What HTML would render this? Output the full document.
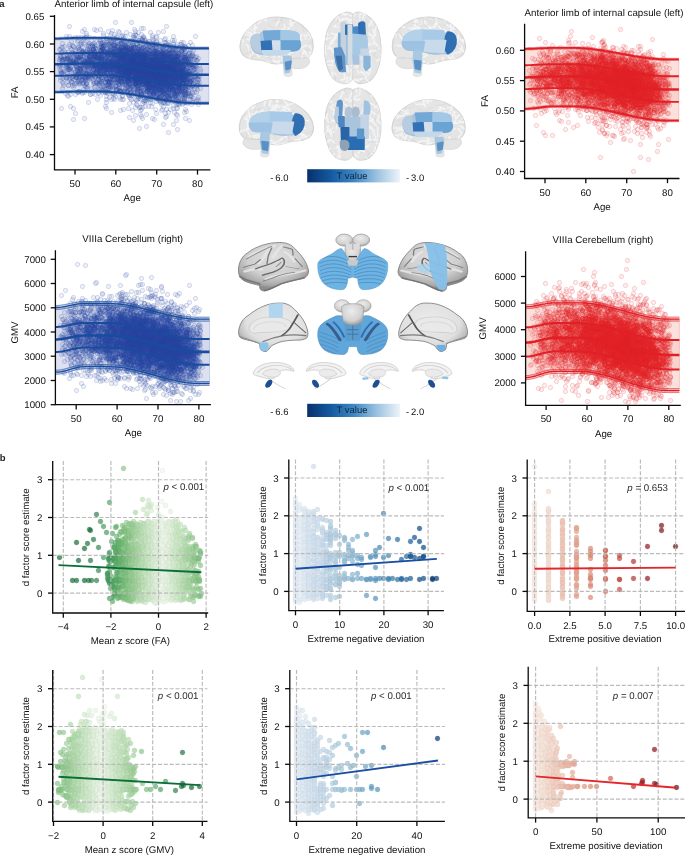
<!DOCTYPE html>
<html><head><meta charset="utf-8"><style>
html,body{margin:0;padding:0;background:#fff;}
svg{display:block;font-family:"Liberation Sans", sans-serif;text-rendering:geometricPrecision;will-change:transform;}
.ax{stroke:#0a0a0a;stroke-width:1.3;fill:none;}
.g{stroke:#bababa;stroke-width:1.15;stroke-dasharray:4 1.85;}
.d{stroke-linecap:round;fill:none;}
</style></head><body>
<svg width="685" height="855" viewBox="0 0 685 855" fill="#111111">
<defs><marker id="m1" markerUnits="userSpaceOnUse" markerWidth="8" markerHeight="8" refX="4" refY="4" overflow="visible"><circle cx="4" cy="4" r="2.15" fill="#2a48a6" fill-opacity="0.075" stroke="#2a48a6" stroke-opacity="0.2" stroke-width="0.95"/></marker><marker id="m3" markerUnits="userSpaceOnUse" markerWidth="8" markerHeight="8" refX="4" refY="4" overflow="visible"><circle cx="4" cy="4" r="2.15" fill="#e3262b" fill-opacity="0.075" stroke="#e3262b" stroke-opacity="0.2" stroke-width="0.95"/></marker><marker id="m4" markerUnits="userSpaceOnUse" markerWidth="8" markerHeight="8" refX="4" refY="4" overflow="visible"><circle cx="4" cy="4" r="2.15" fill="#2a48a6" fill-opacity="0.075" stroke="#2a48a6" stroke-opacity="0.2" stroke-width="0.95"/></marker><marker id="m6" markerUnits="userSpaceOnUse" markerWidth="8" markerHeight="8" refX="4" refY="4" overflow="visible"><circle cx="4" cy="4" r="2.15" fill="#e3262b" fill-opacity="0.075" stroke="#e3262b" stroke-opacity="0.2" stroke-width="0.95"/></marker><marker id="g0" markerUnits="userSpaceOnUse" markerWidth="8" markerHeight="8" refX="4" refY="4" overflow="visible"><circle cx="4" cy="4" r="2.4" fill="#edf7ea" fill-opacity="0.66" stroke="#d5ded2" stroke-opacity="0.45" stroke-width="0.55"/></marker><marker id="g1" markerUnits="userSpaceOnUse" markerWidth="8" markerHeight="8" refX="4" refY="4" overflow="visible"><circle cx="4" cy="4" r="2.4" fill="#e8f5e4" fill-opacity="0.66" stroke="#d1dccd" stroke-opacity="0.45" stroke-width="0.55"/></marker><marker id="g2" markerUnits="userSpaceOnUse" markerWidth="8" markerHeight="8" refX="4" refY="4" overflow="visible"><circle cx="4" cy="4" r="2.4" fill="#e0f1dc" fill-opacity="0.66" stroke="#cad9c6" stroke-opacity="0.45" stroke-width="0.55"/></marker><marker id="g3" markerUnits="userSpaceOnUse" markerWidth="8" markerHeight="8" refX="4" refY="4" overflow="visible"><circle cx="4" cy="4" r="2.4" fill="#d8edd3" fill-opacity="0.66" stroke="#c2d5be" stroke-opacity="0.45" stroke-width="0.55"/></marker><marker id="g4" markerUnits="userSpaceOnUse" markerWidth="8" markerHeight="8" refX="4" refY="4" overflow="visible"><circle cx="4" cy="4" r="2.4" fill="#cfe9ca" fill-opacity="0.66" stroke="#bbd2b6" stroke-opacity="0.45" stroke-width="0.55"/></marker><marker id="g5" markerUnits="userSpaceOnUse" markerWidth="8" markerHeight="8" refX="4" refY="4" overflow="visible"><circle cx="4" cy="4" r="2.4" fill="#c7e5c1" fill-opacity="0.66" stroke="#b3ceae" stroke-opacity="0.45" stroke-width="0.55"/></marker><marker id="g6" markerUnits="userSpaceOnUse" markerWidth="8" markerHeight="8" refX="4" refY="4" overflow="visible"><circle cx="4" cy="4" r="2.4" fill="#bcdfb7" fill-opacity="0.66" stroke="#aac9a4" stroke-opacity="0.45" stroke-width="0.55"/></marker><marker id="g7" markerUnits="userSpaceOnUse" markerWidth="8" markerHeight="8" refX="4" refY="4" overflow="visible"><circle cx="4" cy="4" r="2.4" fill="#b2daac" fill-opacity="0.66" stroke="#a0c49b" stroke-opacity="0.45" stroke-width="0.55"/></marker><marker id="g8" markerUnits="userSpaceOnUse" markerWidth="8" markerHeight="8" refX="4" refY="4" overflow="visible"><circle cx="4" cy="4" r="2.4" fill="#a7d5a2" fill-opacity="0.66" stroke="#97c092" stroke-opacity="0.45" stroke-width="0.55"/></marker><marker id="g9" markerUnits="userSpaceOnUse" markerWidth="8" markerHeight="8" refX="4" refY="4" overflow="visible"><circle cx="4" cy="4" r="2.4" fill="#9ccf98" fill-opacity="0.66" stroke="#8cba89" stroke-opacity="0.45" stroke-width="0.55"/></marker><marker id="g10" markerUnits="userSpaceOnUse" markerWidth="8" markerHeight="8" refX="4" refY="4" overflow="visible"><circle cx="4" cy="4" r="2.4" fill="#90c98d" fill-opacity="0.66" stroke="#81b57f" stroke-opacity="0.45" stroke-width="0.55"/></marker><marker id="g11" markerUnits="userSpaceOnUse" markerWidth="8" markerHeight="8" refX="4" refY="4" overflow="visible"><circle cx="4" cy="4" r="2.4" fill="#83c283" fill-opacity="0.66" stroke="#76af76" stroke-opacity="0.45" stroke-width="0.55"/></marker><marker id="g12" markerUnits="userSpaceOnUse" markerWidth="8" markerHeight="8" refX="4" refY="4" overflow="visible"><circle cx="4" cy="4" r="2.4" fill="#77bc79" fill-opacity="0.66" stroke="#6ba96d" stroke-opacity="0.45" stroke-width="0.55"/></marker><marker id="g13" markerUnits="userSpaceOnUse" markerWidth="8" markerHeight="8" refX="4" refY="4" overflow="visible"><circle cx="4" cy="4" r="2.4" fill="#6ab471" fill-opacity="0.66" stroke="#5fa266" stroke-opacity="0.45" stroke-width="0.55"/></marker><marker id="g14" markerUnits="userSpaceOnUse" markerWidth="8" markerHeight="8" refX="4" refY="4" overflow="visible"><circle cx="4" cy="4" r="2.4" fill="#5cad6a" fill-opacity="0.66" stroke="#539b5f" stroke-opacity="0.45" stroke-width="0.55"/></marker><marker id="g15" markerUnits="userSpaceOnUse" markerWidth="8" markerHeight="8" refX="4" refY="4" overflow="visible"><circle cx="4" cy="4" r="2.4" fill="#4fa563" fill-opacity="0.66" stroke="#479559" stroke-opacity="0.45" stroke-width="0.55"/></marker><marker id="g16" markerUnits="userSpaceOnUse" markerWidth="8" markerHeight="8" refX="4" refY="4" overflow="visible"><circle cx="4" cy="4" r="2.4" fill="#439d5c" fill-opacity="0.66" stroke="#3c8d52" stroke-opacity="0.45" stroke-width="0.55"/></marker><marker id="g17" markerUnits="userSpaceOnUse" markerWidth="8" markerHeight="8" refX="4" refY="4" overflow="visible"><circle cx="4" cy="4" r="2.4" fill="#3b9455" fill-opacity="0.66" stroke="#35854c" stroke-opacity="0.45" stroke-width="0.55"/></marker><marker id="g18" markerUnits="userSpaceOnUse" markerWidth="8" markerHeight="8" refX="4" refY="4" overflow="visible"><circle cx="4" cy="4" r="2.4" fill="#328b4e" fill-opacity="0.66" stroke="#2d7d46" stroke-opacity="0.45" stroke-width="0.55"/></marker><marker id="g19" markerUnits="userSpaceOnUse" markerWidth="8" markerHeight="8" refX="4" refY="4" overflow="visible"><circle cx="4" cy="4" r="2.4" fill="#2a8247" fill-opacity="0.66" stroke="#267540" stroke-opacity="0.45" stroke-width="0.55"/></marker><marker id="g20" markerUnits="userSpaceOnUse" markerWidth="8" markerHeight="8" refX="4" refY="4" overflow="visible"><circle cx="4" cy="4" r="2.4" fill="#217a40" fill-opacity="0.66" stroke="#1e6e39" stroke-opacity="0.45" stroke-width="0.55"/></marker><marker id="g21" markerUnits="userSpaceOnUse" markerWidth="8" markerHeight="8" refX="4" refY="4" overflow="visible"><circle cx="4" cy="4" r="2.4" fill="#187139" fill-opacity="0.66" stroke="#156633" stroke-opacity="0.45" stroke-width="0.55"/></marker><marker id="g22" markerUnits="userSpaceOnUse" markerWidth="8" markerHeight="8" refX="4" refY="4" overflow="visible"><circle cx="4" cy="4" r="2.4" fill="#0f6a32" fill-opacity="0.66" stroke="#0e5f2d" stroke-opacity="0.45" stroke-width="0.55"/></marker><marker id="g23" markerUnits="userSpaceOnUse" markerWidth="8" markerHeight="8" refX="4" refY="4" overflow="visible"><circle cx="4" cy="4" r="2.4" fill="#08612c" fill-opacity="0.66" stroke="#075727" stroke-opacity="0.45" stroke-width="0.55"/></marker><marker id="h0" markerUnits="userSpaceOnUse" markerWidth="8" markerHeight="8" refX="4" refY="4" overflow="visible"><circle cx="4" cy="4" r="2.4" fill="#e4eef7" fill-opacity="0.72" stroke="#cdd6df" stroke-opacity="0.45" stroke-width="0.55"/></marker><marker id="h1" markerUnits="userSpaceOnUse" markerWidth="8" markerHeight="8" refX="4" refY="4" overflow="visible"><circle cx="4" cy="4" r="2.4" fill="#dde9f4" fill-opacity="0.72" stroke="#c7d1dc" stroke-opacity="0.45" stroke-width="0.55"/></marker><marker id="h2" markerUnits="userSpaceOnUse" markerWidth="8" markerHeight="8" refX="4" refY="4" overflow="visible"><circle cx="4" cy="4" r="2.4" fill="#d5e3f0" fill-opacity="0.72" stroke="#c0ccd8" stroke-opacity="0.45" stroke-width="0.55"/></marker><marker id="h3" markerUnits="userSpaceOnUse" markerWidth="8" markerHeight="8" refX="4" refY="4" overflow="visible"><circle cx="4" cy="4" r="2.4" fill="#cedeed" fill-opacity="0.72" stroke="#b9c8d5" stroke-opacity="0.45" stroke-width="0.55"/></marker><marker id="h4" markerUnits="userSpaceOnUse" markerWidth="8" markerHeight="8" refX="4" refY="4" overflow="visible"><circle cx="4" cy="4" r="2.4" fill="#c6d8e9" fill-opacity="0.72" stroke="#b2c2d2" stroke-opacity="0.45" stroke-width="0.55"/></marker><marker id="h5" markerUnits="userSpaceOnUse" markerWidth="8" markerHeight="8" refX="4" refY="4" overflow="visible"><circle cx="4" cy="4" r="2.4" fill="#bbd2e4" fill-opacity="0.72" stroke="#a8bdce" stroke-opacity="0.45" stroke-width="0.55"/></marker><marker id="h6" markerUnits="userSpaceOnUse" markerWidth="8" markerHeight="8" refX="4" refY="4" overflow="visible"><circle cx="4" cy="4" r="2.4" fill="#b0ccdf" fill-opacity="0.72" stroke="#9eb8c9" stroke-opacity="0.45" stroke-width="0.55"/></marker><marker id="h7" markerUnits="userSpaceOnUse" markerWidth="8" markerHeight="8" refX="4" refY="4" overflow="visible"><circle cx="4" cy="4" r="2.4" fill="#a3c6da" fill-opacity="0.72" stroke="#93b2c4" stroke-opacity="0.45" stroke-width="0.55"/></marker><marker id="h8" markerUnits="userSpaceOnUse" markerWidth="8" markerHeight="8" refX="4" refY="4" overflow="visible"><circle cx="4" cy="4" r="2.4" fill="#97bfd5" fill-opacity="0.72" stroke="#88acc0" stroke-opacity="0.45" stroke-width="0.55"/></marker><marker id="h9" markerUnits="userSpaceOnUse" markerWidth="8" markerHeight="8" refX="4" refY="4" overflow="visible"><circle cx="4" cy="4" r="2.4" fill="#89b7d0" fill-opacity="0.72" stroke="#7ba4bc" stroke-opacity="0.45" stroke-width="0.55"/></marker><marker id="h10" markerUnits="userSpaceOnUse" markerWidth="8" markerHeight="8" refX="4" refY="4" overflow="visible"><circle cx="4" cy="4" r="2.4" fill="#7baecc" fill-opacity="0.72" stroke="#6f9db8" stroke-opacity="0.45" stroke-width="0.55"/></marker><marker id="h11" markerUnits="userSpaceOnUse" markerWidth="8" markerHeight="8" refX="4" refY="4" overflow="visible"><circle cx="4" cy="4" r="2.4" fill="#6ca5c7" fill-opacity="0.72" stroke="#6194b3" stroke-opacity="0.45" stroke-width="0.55"/></marker><marker id="h12" markerUnits="userSpaceOnUse" markerWidth="8" markerHeight="8" refX="4" refY="4" overflow="visible"><circle cx="4" cy="4" r="2.4" fill="#609dc2" fill-opacity="0.72" stroke="#578dae" stroke-opacity="0.45" stroke-width="0.55"/></marker><marker id="h13" markerUnits="userSpaceOnUse" markerWidth="8" markerHeight="8" refX="4" refY="4" overflow="visible"><circle cx="4" cy="4" r="2.4" fill="#5594bc" fill-opacity="0.72" stroke="#4d86a9" stroke-opacity="0.45" stroke-width="0.55"/></marker><marker id="h14" markerUnits="userSpaceOnUse" markerWidth="8" markerHeight="8" refX="4" refY="4" overflow="visible"><circle cx="4" cy="4" r="2.4" fill="#498bb6" fill-opacity="0.72" stroke="#427da4" stroke-opacity="0.45" stroke-width="0.55"/></marker><marker id="h15" markerUnits="userSpaceOnUse" markerWidth="8" markerHeight="8" refX="4" refY="4" overflow="visible"><circle cx="4" cy="4" r="2.4" fill="#3f83b1" fill-opacity="0.72" stroke="#39769f" stroke-opacity="0.45" stroke-width="0.55"/></marker><marker id="h16" markerUnits="userSpaceOnUse" markerWidth="8" markerHeight="8" refX="4" refY="4" overflow="visible"><circle cx="4" cy="4" r="2.4" fill="#3679ab" fill-opacity="0.72" stroke="#316d9a" stroke-opacity="0.45" stroke-width="0.55"/></marker><marker id="h17" markerUnits="userSpaceOnUse" markerWidth="8" markerHeight="8" refX="4" refY="4" overflow="visible"><circle cx="4" cy="4" r="2.4" fill="#2d70a5" fill-opacity="0.72" stroke="#296595" stroke-opacity="0.45" stroke-width="0.55"/></marker><marker id="h18" markerUnits="userSpaceOnUse" markerWidth="8" markerHeight="8" refX="4" refY="4" overflow="visible"><circle cx="4" cy="4" r="2.4" fill="#24669f" fill-opacity="0.72" stroke="#205c8f" stroke-opacity="0.45" stroke-width="0.55"/></marker><marker id="h19" markerUnits="userSpaceOnUse" markerWidth="8" markerHeight="8" refX="4" refY="4" overflow="visible"><circle cx="4" cy="4" r="2.4" fill="#1d5e98" fill-opacity="0.72" stroke="#1a5489" stroke-opacity="0.45" stroke-width="0.55"/></marker><marker id="h20" markerUnits="userSpaceOnUse" markerWidth="8" markerHeight="8" refX="4" refY="4" overflow="visible"><circle cx="4" cy="4" r="2.4" fill="#165590" fill-opacity="0.72" stroke="#144d82" stroke-opacity="0.45" stroke-width="0.55"/></marker><marker id="h21" markerUnits="userSpaceOnUse" markerWidth="8" markerHeight="8" refX="4" refY="4" overflow="visible"><circle cx="4" cy="4" r="2.4" fill="#104c89" fill-opacity="0.72" stroke="#0e457c" stroke-opacity="0.45" stroke-width="0.55"/></marker><marker id="h23" markerUnits="userSpaceOnUse" markerWidth="8" markerHeight="8" refX="4" refY="4" overflow="visible"><circle cx="4" cy="4" r="2.4" fill="#0c3a71" fill-opacity="0.72" stroke="#0a3566" stroke-opacity="0.45" stroke-width="0.55"/></marker><marker id="k0" markerUnits="userSpaceOnUse" markerWidth="8" markerHeight="8" refX="4" refY="4" overflow="visible"><circle cx="4" cy="4" r="2.4" fill="#fbebe4" fill-opacity="0.72" stroke="#e2d4cd" stroke-opacity="0.45" stroke-width="0.55"/></marker><marker id="k2" markerUnits="userSpaceOnUse" markerWidth="8" markerHeight="8" refX="4" refY="4" overflow="visible"><circle cx="4" cy="4" r="2.4" fill="#f5dbd0" fill-opacity="0.72" stroke="#dcc5bb" stroke-opacity="0.45" stroke-width="0.55"/></marker><marker id="k4" markerUnits="userSpaceOnUse" markerWidth="8" markerHeight="8" refX="4" refY="4" overflow="visible"><circle cx="4" cy="4" r="2.4" fill="#edc4b3" fill-opacity="0.72" stroke="#d5b0a1" stroke-opacity="0.45" stroke-width="0.55"/></marker><marker id="k7" markerUnits="userSpaceOnUse" markerWidth="8" markerHeight="8" refX="4" refY="4" overflow="visible"><circle cx="4" cy="4" r="2.4" fill="#e3a18b" fill-opacity="0.72" stroke="#cc917e" stroke-opacity="0.45" stroke-width="0.55"/></marker><marker id="k9" markerUnits="userSpaceOnUse" markerWidth="8" markerHeight="8" refX="4" refY="4" overflow="visible"><circle cx="4" cy="4" r="2.4" fill="#dc8a73" fill-opacity="0.72" stroke="#c67c68" stroke-opacity="0.45" stroke-width="0.55"/></marker><marker id="k12" markerUnits="userSpaceOnUse" markerWidth="8" markerHeight="8" refX="4" refY="4" overflow="visible"><circle cx="4" cy="4" r="2.4" fill="#d16752" fill-opacity="0.72" stroke="#bc5d4a" stroke-opacity="0.45" stroke-width="0.55"/></marker><marker id="k14" markerUnits="userSpaceOnUse" markerWidth="8" markerHeight="8" refX="4" refY="4" overflow="visible"><circle cx="4" cy="4" r="2.4" fill="#c44c3f" fill-opacity="0.72" stroke="#b14539" stroke-opacity="0.45" stroke-width="0.55"/></marker><marker id="k16" markerUnits="userSpaceOnUse" markerWidth="8" markerHeight="8" refX="4" refY="4" overflow="visible"><circle cx="4" cy="4" r="2.4" fill="#b33731" fill-opacity="0.72" stroke="#a1312c" stroke-opacity="0.45" stroke-width="0.55"/></marker><marker id="k19" markerUnits="userSpaceOnUse" markerWidth="8" markerHeight="8" refX="4" refY="4" overflow="visible"><circle cx="4" cy="4" r="2.4" fill="#942023" fill-opacity="0.72" stroke="#851c20" stroke-opacity="0.45" stroke-width="0.55"/></marker><marker id="k21" markerUnits="userSpaceOnUse" markerWidth="8" markerHeight="8" refX="4" refY="4" overflow="visible"><circle cx="4" cy="4" r="2.4" fill="#80191d" fill-opacity="0.72" stroke="#73161a" stroke-opacity="0.45" stroke-width="0.55"/></marker><marker id="k23" markerUnits="userSpaceOnUse" markerWidth="8" markerHeight="8" refX="4" refY="4" overflow="visible"><circle cx="4" cy="4" r="2.4" fill="#651016" fill-opacity="0.72" stroke="#5b0e14" stroke-opacity="0.45" stroke-width="0.55"/></marker><marker id="n0" markerUnits="userSpaceOnUse" markerWidth="8" markerHeight="8" refX="4" refY="4" overflow="visible"><circle cx="4" cy="4" r="2.4" fill="#edf7ea" fill-opacity="0.66" stroke="#d5ded2" stroke-opacity="0.45" stroke-width="0.55"/></marker><marker id="n1" markerUnits="userSpaceOnUse" markerWidth="8" markerHeight="8" refX="4" refY="4" overflow="visible"><circle cx="4" cy="4" r="2.4" fill="#e8f5e4" fill-opacity="0.66" stroke="#d1dccd" stroke-opacity="0.45" stroke-width="0.55"/></marker><marker id="n2" markerUnits="userSpaceOnUse" markerWidth="8" markerHeight="8" refX="4" refY="4" overflow="visible"><circle cx="4" cy="4" r="2.4" fill="#e0f1dc" fill-opacity="0.66" stroke="#cad9c6" stroke-opacity="0.45" stroke-width="0.55"/></marker><marker id="n3" markerUnits="userSpaceOnUse" markerWidth="8" markerHeight="8" refX="4" refY="4" overflow="visible"><circle cx="4" cy="4" r="2.4" fill="#d8edd3" fill-opacity="0.66" stroke="#c2d5be" stroke-opacity="0.45" stroke-width="0.55"/></marker><marker id="n4" markerUnits="userSpaceOnUse" markerWidth="8" markerHeight="8" refX="4" refY="4" overflow="visible"><circle cx="4" cy="4" r="2.4" fill="#cfe9ca" fill-opacity="0.66" stroke="#bbd2b6" stroke-opacity="0.45" stroke-width="0.55"/></marker><marker id="n5" markerUnits="userSpaceOnUse" markerWidth="8" markerHeight="8" refX="4" refY="4" overflow="visible"><circle cx="4" cy="4" r="2.4" fill="#c7e5c1" fill-opacity="0.66" stroke="#b3ceae" stroke-opacity="0.45" stroke-width="0.55"/></marker><marker id="n6" markerUnits="userSpaceOnUse" markerWidth="8" markerHeight="8" refX="4" refY="4" overflow="visible"><circle cx="4" cy="4" r="2.4" fill="#bcdfb7" fill-opacity="0.66" stroke="#aac9a4" stroke-opacity="0.45" stroke-width="0.55"/></marker><marker id="n7" markerUnits="userSpaceOnUse" markerWidth="8" markerHeight="8" refX="4" refY="4" overflow="visible"><circle cx="4" cy="4" r="2.4" fill="#b2daac" fill-opacity="0.66" stroke="#a0c49b" stroke-opacity="0.45" stroke-width="0.55"/></marker><marker id="n8" markerUnits="userSpaceOnUse" markerWidth="8" markerHeight="8" refX="4" refY="4" overflow="visible"><circle cx="4" cy="4" r="2.4" fill="#a7d5a2" fill-opacity="0.66" stroke="#97c092" stroke-opacity="0.45" stroke-width="0.55"/></marker><marker id="n9" markerUnits="userSpaceOnUse" markerWidth="8" markerHeight="8" refX="4" refY="4" overflow="visible"><circle cx="4" cy="4" r="2.4" fill="#9ccf98" fill-opacity="0.66" stroke="#8cba89" stroke-opacity="0.45" stroke-width="0.55"/></marker><marker id="n10" markerUnits="userSpaceOnUse" markerWidth="8" markerHeight="8" refX="4" refY="4" overflow="visible"><circle cx="4" cy="4" r="2.4" fill="#90c98d" fill-opacity="0.66" stroke="#81b57f" stroke-opacity="0.45" stroke-width="0.55"/></marker><marker id="n11" markerUnits="userSpaceOnUse" markerWidth="8" markerHeight="8" refX="4" refY="4" overflow="visible"><circle cx="4" cy="4" r="2.4" fill="#83c283" fill-opacity="0.66" stroke="#76af76" stroke-opacity="0.45" stroke-width="0.55"/></marker><marker id="n12" markerUnits="userSpaceOnUse" markerWidth="8" markerHeight="8" refX="4" refY="4" overflow="visible"><circle cx="4" cy="4" r="2.4" fill="#77bc79" fill-opacity="0.66" stroke="#6ba96d" stroke-opacity="0.45" stroke-width="0.55"/></marker><marker id="n13" markerUnits="userSpaceOnUse" markerWidth="8" markerHeight="8" refX="4" refY="4" overflow="visible"><circle cx="4" cy="4" r="2.4" fill="#6ab471" fill-opacity="0.66" stroke="#5fa266" stroke-opacity="0.45" stroke-width="0.55"/></marker><marker id="n15" markerUnits="userSpaceOnUse" markerWidth="8" markerHeight="8" refX="4" refY="4" overflow="visible"><circle cx="4" cy="4" r="2.4" fill="#4fa563" fill-opacity="0.66" stroke="#479559" stroke-opacity="0.45" stroke-width="0.55"/></marker><marker id="n16" markerUnits="userSpaceOnUse" markerWidth="8" markerHeight="8" refX="4" refY="4" overflow="visible"><circle cx="4" cy="4" r="2.4" fill="#439d5c" fill-opacity="0.66" stroke="#3c8d52" stroke-opacity="0.45" stroke-width="0.55"/></marker><marker id="n17" markerUnits="userSpaceOnUse" markerWidth="8" markerHeight="8" refX="4" refY="4" overflow="visible"><circle cx="4" cy="4" r="2.4" fill="#3b9455" fill-opacity="0.66" stroke="#35854c" stroke-opacity="0.45" stroke-width="0.55"/></marker><marker id="n20" markerUnits="userSpaceOnUse" markerWidth="8" markerHeight="8" refX="4" refY="4" overflow="visible"><circle cx="4" cy="4" r="2.4" fill="#217a40" fill-opacity="0.66" stroke="#1e6e39" stroke-opacity="0.45" stroke-width="0.55"/></marker><marker id="n22" markerUnits="userSpaceOnUse" markerWidth="8" markerHeight="8" refX="4" refY="4" overflow="visible"><circle cx="4" cy="4" r="2.4" fill="#0f6a32" fill-opacity="0.66" stroke="#0e5f2d" stroke-opacity="0.45" stroke-width="0.55"/></marker><marker id="n23" markerUnits="userSpaceOnUse" markerWidth="8" markerHeight="8" refX="4" refY="4" overflow="visible"><circle cx="4" cy="4" r="2.4" fill="#08612c" fill-opacity="0.66" stroke="#075727" stroke-opacity="0.45" stroke-width="0.55"/></marker><marker id="q0" markerUnits="userSpaceOnUse" markerWidth="8" markerHeight="8" refX="4" refY="4" overflow="visible"><circle cx="4" cy="4" r="2.4" fill="#e4eef7" fill-opacity="0.72" stroke="#cdd6df" stroke-opacity="0.45" stroke-width="0.55"/></marker><marker id="q1" markerUnits="userSpaceOnUse" markerWidth="8" markerHeight="8" refX="4" refY="4" overflow="visible"><circle cx="4" cy="4" r="2.4" fill="#dde9f4" fill-opacity="0.72" stroke="#c7d1dc" stroke-opacity="0.45" stroke-width="0.55"/></marker><marker id="q2" markerUnits="userSpaceOnUse" markerWidth="8" markerHeight="8" refX="4" refY="4" overflow="visible"><circle cx="4" cy="4" r="2.4" fill="#d5e3f0" fill-opacity="0.72" stroke="#c0ccd8" stroke-opacity="0.45" stroke-width="0.55"/></marker><marker id="q3" markerUnits="userSpaceOnUse" markerWidth="8" markerHeight="8" refX="4" refY="4" overflow="visible"><circle cx="4" cy="4" r="2.4" fill="#cedeed" fill-opacity="0.72" stroke="#b9c8d5" stroke-opacity="0.45" stroke-width="0.55"/></marker><marker id="q4" markerUnits="userSpaceOnUse" markerWidth="8" markerHeight="8" refX="4" refY="4" overflow="visible"><circle cx="4" cy="4" r="2.4" fill="#c6d8e9" fill-opacity="0.72" stroke="#b2c2d2" stroke-opacity="0.45" stroke-width="0.55"/></marker><marker id="q5" markerUnits="userSpaceOnUse" markerWidth="8" markerHeight="8" refX="4" refY="4" overflow="visible"><circle cx="4" cy="4" r="2.4" fill="#bbd2e4" fill-opacity="0.72" stroke="#a8bdce" stroke-opacity="0.45" stroke-width="0.55"/></marker><marker id="q6" markerUnits="userSpaceOnUse" markerWidth="8" markerHeight="8" refX="4" refY="4" overflow="visible"><circle cx="4" cy="4" r="2.4" fill="#b0ccdf" fill-opacity="0.72" stroke="#9eb8c9" stroke-opacity="0.45" stroke-width="0.55"/></marker><marker id="q7" markerUnits="userSpaceOnUse" markerWidth="8" markerHeight="8" refX="4" refY="4" overflow="visible"><circle cx="4" cy="4" r="2.4" fill="#a3c6da" fill-opacity="0.72" stroke="#93b2c4" stroke-opacity="0.45" stroke-width="0.55"/></marker><marker id="q8" markerUnits="userSpaceOnUse" markerWidth="8" markerHeight="8" refX="4" refY="4" overflow="visible"><circle cx="4" cy="4" r="2.4" fill="#97bfd5" fill-opacity="0.72" stroke="#88acc0" stroke-opacity="0.45" stroke-width="0.55"/></marker><marker id="q9" markerUnits="userSpaceOnUse" markerWidth="8" markerHeight="8" refX="4" refY="4" overflow="visible"><circle cx="4" cy="4" r="2.4" fill="#89b7d0" fill-opacity="0.72" stroke="#7ba4bc" stroke-opacity="0.45" stroke-width="0.55"/></marker><marker id="q10" markerUnits="userSpaceOnUse" markerWidth="8" markerHeight="8" refX="4" refY="4" overflow="visible"><circle cx="4" cy="4" r="2.4" fill="#7baecc" fill-opacity="0.72" stroke="#6f9db8" stroke-opacity="0.45" stroke-width="0.55"/></marker><marker id="q11" markerUnits="userSpaceOnUse" markerWidth="8" markerHeight="8" refX="4" refY="4" overflow="visible"><circle cx="4" cy="4" r="2.4" fill="#6ca5c7" fill-opacity="0.72" stroke="#6194b3" stroke-opacity="0.45" stroke-width="0.55"/></marker><marker id="q12" markerUnits="userSpaceOnUse" markerWidth="8" markerHeight="8" refX="4" refY="4" overflow="visible"><circle cx="4" cy="4" r="2.4" fill="#609dc2" fill-opacity="0.72" stroke="#578dae" stroke-opacity="0.45" stroke-width="0.55"/></marker><marker id="q13" markerUnits="userSpaceOnUse" markerWidth="8" markerHeight="8" refX="4" refY="4" overflow="visible"><circle cx="4" cy="4" r="2.4" fill="#5594bc" fill-opacity="0.72" stroke="#4d86a9" stroke-opacity="0.45" stroke-width="0.55"/></marker><marker id="q14" markerUnits="userSpaceOnUse" markerWidth="8" markerHeight="8" refX="4" refY="4" overflow="visible"><circle cx="4" cy="4" r="2.4" fill="#498bb6" fill-opacity="0.72" stroke="#427da4" stroke-opacity="0.45" stroke-width="0.55"/></marker><marker id="q23" markerUnits="userSpaceOnUse" markerWidth="8" markerHeight="8" refX="4" refY="4" overflow="visible"><circle cx="4" cy="4" r="2.4" fill="#0c3a71" fill-opacity="0.72" stroke="#0a3566" stroke-opacity="0.45" stroke-width="0.55"/></marker><marker id="s0" markerUnits="userSpaceOnUse" markerWidth="8" markerHeight="8" refX="4" refY="4" overflow="visible"><circle cx="4" cy="4" r="2.4" fill="#fbebe4" fill-opacity="0.72" stroke="#e2d4cd" stroke-opacity="0.45" stroke-width="0.55"/></marker><marker id="s1" markerUnits="userSpaceOnUse" markerWidth="8" markerHeight="8" refX="4" refY="4" overflow="visible"><circle cx="4" cy="4" r="2.4" fill="#f8e4da" fill-opacity="0.72" stroke="#dfcdc4" stroke-opacity="0.45" stroke-width="0.55"/></marker><marker id="s2" markerUnits="userSpaceOnUse" markerWidth="8" markerHeight="8" refX="4" refY="4" overflow="visible"><circle cx="4" cy="4" r="2.4" fill="#f5dbd0" fill-opacity="0.72" stroke="#dcc5bb" stroke-opacity="0.45" stroke-width="0.55"/></marker><marker id="s3" markerUnits="userSpaceOnUse" markerWidth="8" markerHeight="8" refX="4" refY="4" overflow="visible"><circle cx="4" cy="4" r="2.4" fill="#f1cfc1" fill-opacity="0.72" stroke="#d9bbae" stroke-opacity="0.45" stroke-width="0.55"/></marker><marker id="s4" markerUnits="userSpaceOnUse" markerWidth="8" markerHeight="8" refX="4" refY="4" overflow="visible"><circle cx="4" cy="4" r="2.4" fill="#edc4b3" fill-opacity="0.72" stroke="#d5b0a1" stroke-opacity="0.45" stroke-width="0.55"/></marker><marker id="s5" markerUnits="userSpaceOnUse" markerWidth="8" markerHeight="8" refX="4" refY="4" overflow="visible"><circle cx="4" cy="4" r="2.4" fill="#eab9a6" fill-opacity="0.72" stroke="#d2a695" stroke-opacity="0.45" stroke-width="0.55"/></marker><marker id="s6" markerUnits="userSpaceOnUse" markerWidth="8" markerHeight="8" refX="4" refY="4" overflow="visible"><circle cx="4" cy="4" r="2.4" fill="#e6ac98" fill-opacity="0.72" stroke="#cf9b89" stroke-opacity="0.45" stroke-width="0.55"/></marker><marker id="s7" markerUnits="userSpaceOnUse" markerWidth="8" markerHeight="8" refX="4" refY="4" overflow="visible"><circle cx="4" cy="4" r="2.4" fill="#e3a18b" fill-opacity="0.72" stroke="#cc917e" stroke-opacity="0.45" stroke-width="0.55"/></marker><marker id="s8" markerUnits="userSpaceOnUse" markerWidth="8" markerHeight="8" refX="4" refY="4" overflow="visible"><circle cx="4" cy="4" r="2.4" fill="#e0957e" fill-opacity="0.72" stroke="#c98671" stroke-opacity="0.45" stroke-width="0.55"/></marker><marker id="s9" markerUnits="userSpaceOnUse" markerWidth="8" markerHeight="8" refX="4" refY="4" overflow="visible"><circle cx="4" cy="4" r="2.4" fill="#dc8a73" fill-opacity="0.72" stroke="#c67c68" stroke-opacity="0.45" stroke-width="0.55"/></marker><marker id="s10" markerUnits="userSpaceOnUse" markerWidth="8" markerHeight="8" refX="4" refY="4" overflow="visible"><circle cx="4" cy="4" r="2.4" fill="#d97e67" fill-opacity="0.72" stroke="#c3725d" stroke-opacity="0.45" stroke-width="0.55"/></marker><marker id="s12" markerUnits="userSpaceOnUse" markerWidth="8" markerHeight="8" refX="4" refY="4" overflow="visible"><circle cx="4" cy="4" r="2.4" fill="#d16752" fill-opacity="0.72" stroke="#bc5d4a" stroke-opacity="0.45" stroke-width="0.55"/></marker><marker id="s16" markerUnits="userSpaceOnUse" markerWidth="8" markerHeight="8" refX="4" refY="4" overflow="visible"><circle cx="4" cy="4" r="2.4" fill="#b33731" fill-opacity="0.72" stroke="#a1312c" stroke-opacity="0.45" stroke-width="0.55"/></marker><marker id="s17" markerUnits="userSpaceOnUse" markerWidth="8" markerHeight="8" refX="4" refY="4" overflow="visible"><circle cx="4" cy="4" r="2.4" fill="#a92d2c" fill-opacity="0.72" stroke="#982928" stroke-opacity="0.45" stroke-width="0.55"/></marker><marker id="s18" markerUnits="userSpaceOnUse" markerWidth="8" markerHeight="8" refX="4" refY="4" overflow="visible"><circle cx="4" cy="4" r="2.4" fill="#9e2326" fill-opacity="0.72" stroke="#8e2022" stroke-opacity="0.45" stroke-width="0.55"/></marker><marker id="s20" markerUnits="userSpaceOnUse" markerWidth="8" markerHeight="8" refX="4" refY="4" overflow="visible"><circle cx="4" cy="4" r="2.4" fill="#8a1c20" fill-opacity="0.72" stroke="#7c191d" stroke-opacity="0.45" stroke-width="0.55"/></marker><marker id="s23" markerUnits="userSpaceOnUse" markerWidth="8" markerHeight="8" refX="4" refY="4" overflow="visible"><circle cx="4" cy="4" r="2.4" fill="#651016" fill-opacity="0.72" stroke="#5b0e14" stroke-opacity="0.45" stroke-width="0.55"/></marker></defs>
<rect width="685" height="855" fill="#fff"/>
<polygon points="54.5,38.6 56.5,38.6 58.4,38.6 60.4,38.5 62.3,38.4 64.3,38.4 66.2,38.3 68.2,38.2 70.1,38.1 72.1,38.0 74.0,38.0 76.0,37.9 78.0,37.9 79.9,37.9 81.9,37.9 83.8,37.9 85.8,37.9 87.7,37.9 89.7,37.9 91.6,37.9 93.6,37.9 95.5,37.9 97.5,37.9 99.5,37.9 101.4,37.9 103.4,37.9 105.3,38.0 107.3,38.1 109.2,38.2 111.2,38.3 113.1,38.4 115.1,38.6 117.1,38.8 119.0,39.0 121.0,39.2 122.9,39.4 124.9,39.6 126.8,39.9 128.8,40.1 130.7,40.4 132.7,40.7 134.6,41.0 136.6,41.2 138.6,41.5 140.5,41.8 142.5,42.1 144.4,42.5 146.4,42.8 148.3,43.1 150.3,43.4 152.2,43.7 154.2,44.0 156.1,44.3 158.1,44.6 160.1,44.9 162.0,45.2 164.0,45.5 165.9,45.8 167.9,46.0 169.8,46.3 171.8,46.5 173.7,46.8 175.7,47.0 177.6,47.2 179.6,47.4 181.6,47.6 183.5,47.7 185.5,47.9 187.4,48.0 189.4,48.1 191.3,48.2 193.3,48.2 195.2,48.3 197.2,48.3 199.1,48.3 201.1,48.3 203.1,48.3 205.0,48.3 207.0,48.3 208.9,48.3 208.9,103.2 207.0,103.2 205.0,103.2 203.1,103.2 201.1,103.2 199.1,103.2 197.2,103.2 195.2,103.2 193.3,103.1 191.3,103.1 189.4,103.0 187.4,102.9 185.5,102.7 183.5,102.6 181.6,102.4 179.6,102.2 177.6,102.0 175.7,101.7 173.7,101.5 171.8,101.2 169.8,100.9 167.9,100.6 165.9,100.3 164.0,100.0 162.0,99.7 160.1,99.4 158.1,99.0 156.1,98.7 154.2,98.4 152.2,98.0 150.3,97.7 148.3,97.3 146.4,97.0 144.4,96.6 142.5,96.3 140.5,95.9 138.6,95.6 136.6,95.3 134.6,94.9 132.7,94.6 130.7,94.3 128.8,94.0 126.8,93.7 124.9,93.4 122.9,93.2 121.0,92.9 119.0,92.7 117.1,92.5 115.1,92.3 113.1,92.1 111.2,92.0 109.2,91.8 107.3,91.7 105.3,91.6 103.4,91.6 101.4,91.5 99.5,91.5 97.5,91.5 95.5,91.5 93.6,91.5 91.6,91.5 89.7,91.5 87.7,91.5 85.8,91.5 83.8,91.5 81.9,91.5 79.9,91.5 78.0,91.5 76.0,91.5 74.0,91.6 72.1,91.6 70.1,91.7 68.2,91.8 66.2,91.8 64.3,91.9 62.3,92.0 60.4,92.0 58.4,92.1 56.5,92.1 54.5,92.1" fill="#dde1f0"/>
<polygon points="54.5,53.6 56.5,53.6 58.4,53.6 60.4,53.5 62.3,53.5 64.3,53.4 66.2,53.3 68.2,53.3 70.1,53.2 72.1,53.1 74.0,53.1 76.0,53.0 78.0,53.0 79.9,53.0 81.9,53.0 83.8,53.0 85.8,53.0 87.7,53.0 89.7,53.0 91.6,53.0 93.6,53.0 95.5,53.0 97.5,53.0 99.5,53.0 101.4,53.0 103.4,53.1 105.3,53.1 107.3,53.2 109.2,53.3 111.2,53.4 113.1,53.6 115.1,53.7 117.1,53.9 119.0,54.1 121.0,54.4 122.9,54.6 124.9,54.8 126.8,55.1 128.8,55.4 130.7,55.6 132.7,55.9 134.6,56.2 136.6,56.5 138.6,56.8 140.5,57.2 142.5,57.5 144.4,57.8 146.4,58.1 148.3,58.5 150.3,58.8 152.2,59.1 154.2,59.5 156.1,59.8 158.1,60.1 160.1,60.4 162.0,60.7 164.0,61.0 165.9,61.3 167.9,61.6 169.8,61.9 171.8,62.1 173.7,62.4 175.7,62.6 177.6,62.8 179.6,63.0 181.6,63.2 183.5,63.4 185.5,63.5 187.4,63.7 189.4,63.8 191.3,63.9 193.3,63.9 195.2,64.0 197.2,64.0 199.1,64.0 201.1,64.0 203.1,64.0 205.0,64.0 207.0,64.0 208.9,64.0 208.9,85.7 207.0,85.7 205.0,85.7 203.1,85.7 201.1,85.7 199.1,85.7 197.2,85.7 195.2,85.7 193.3,85.6 191.3,85.6 189.4,85.5 187.4,85.4 185.5,85.3 183.5,85.1 181.6,85.0 179.6,84.8 177.6,84.6 175.7,84.4 173.7,84.1 171.8,83.9 169.8,83.7 167.9,83.4 165.9,83.1 164.0,82.9 162.0,82.6 160.1,82.3 158.1,82.0 156.1,81.7 154.2,81.4 152.2,81.1 150.3,80.7 148.3,80.4 146.4,80.1 144.4,79.8 142.5,79.5 140.5,79.2 138.6,78.9 136.6,78.6 134.6,78.3 132.7,78.0 130.7,77.7 128.8,77.5 126.8,77.2 124.9,76.9 122.9,76.7 121.0,76.5 119.0,76.3 117.1,76.1 115.1,75.9 113.1,75.8 111.2,75.6 109.2,75.5 107.3,75.4 105.3,75.3 103.4,75.2 101.4,75.2 99.5,75.2 97.5,75.2 95.5,75.2 93.6,75.2 91.6,75.2 89.7,75.2 87.7,75.2 85.8,75.2 83.8,75.2 81.9,75.2 79.9,75.2 78.0,75.2 76.0,75.2 74.0,75.3 72.1,75.3 70.1,75.4 68.2,75.5 66.2,75.5 64.3,75.6 62.3,75.7 60.4,75.7 58.4,75.8 56.5,75.8 54.5,75.8" fill="#d3d8ec"/>
<path transform="translate(.5 .5)" d="m179 84-59 15 39-9 11-31-40 34 21-24 16-6-16-3-13 23 12-11-14-7 27-12-39 9-35 17 76-25-41 17 53 2-44-21-30 22 55-17-38 4 15 14-18-9-14 19 76-22-9 15-26-14-7 41-54-25-4-9 89 12-53-1 35 0 27-17-45-5 42 13-35-5 16-6-11 35 41-40-64-5 58 52-45-42 16-8-7-8 29 15-33-6 13 21 7-16-74 6 56 0 11 7 25 30-43-32 18-8 34 9-104 7 101-8-24-9-80-3 103 20-24-12 10 22 8-16 0-27-33 44-6-15 8-4-14-11 12 11-25 5-25-17 45 12 29-15 3 15-106-20 64 21-5-14-28 15 66-10-91 43 127-17-51-35-55 8 70-2 10 6-73-4-4 0 79 36-53-49-11 3 49 4-53-3 36-2-8 8 42 28-98-39 39 41-17-18-14 7 36-21 59 45-61-37 34-6-58 17-29-10 101 11 13 3-34-6 24 12-98-23 108 18 12-28-51 32-17-28 24 26 12-9-39-9 45 21-38-12 13 1 14-19-28 34 43 4-23-6-11 16 31-30-46-3-37-17 41-9 55 13-23 1-59 4 30 15-21 0 68 17-51-33-19-2 90 16-19 4-98 0 9-13 31-2 57 5-62-32 71 23-41 10-39 9-34-22 99-2-72 4 91 13-88 1 23-33 4 9-9 11 52 13-62 4-38-11 85 12-22 23 31-63-18 36 28-19-88-23 90 81-3-32 5-16-26 2 0 16-23-29-55 8 65-6 28 18-73-22 59 11-21 12 24-7-9 7 10-23-91 15 112 18-50-9 25 2-5-5 19 12-23-16-27 0 4 7 5-9 23 1 21-12 21 17-93-31 46 25 10-10 26 7-34-13 6-9-3 27 41 0-24-2-29 4 37-6-25-3 1 17 18-38-1 40-17-27-84 8 98 15-89-6 36-3 42 6 38-11-59 1 2 4 24 11-41-26 1 1-16 8 58 6-43-6 8 19-1 8 9-17 28-6-47 13 37-4-23 1 49 4-34 2-24-30 60 22-20-2-40-23 66 23-71-28 42 31 32 10-38-27 34-6-73 28 35-30-32 9 37 20-2-11 34-27-23 12-36 20 13 25 26-29-72-9 89 28-65-48 4 18 30 4 14 10-47 10 62-4-53-14 12 1-42-1 79-8-20-1-4 39-9-56-13 21 31-8-59 20 21-13 14 8-28 14 50-9-96-5 57 14 27-19-33 17-7-21 4 11 40 4 10-2-89-9 79 21 36-36-116-3 64 3 52 47-51-42-18-3 77 1-64 6 29 9 21 19-11-16 12 0-42-19 20 34-21-20 1 9 37 0-53-19 22 7 9-7 9 20-92-14 19-16 91 44-70-14 83 7-72-16 28 16 37-12-36 13-43-14-4-24 73 65-2-49-60 19 29-1-52-13 72 12-34-3 14 11-5 5 6-18-70 3 36-4 20 2 49 1-26 13 29-4-5 9-68-36 76 8-30-7 1 12 4 4-25-41 19 48-33-27 16 7 2 29-63-21 72 9-8-16-8 1-4 21 0-39 14 32 10-11-81-2 113 3-81-14 3 2 16 5 38 44-9-30-32-14 18 17 23 22-31-57 48 35-25-27 1 0 20 60-19-45 25 21-67-32-16 14-31 11 123 2-32 0 33-5-21-20-22 21 2 5 19 22-16-3 9-22-7-3 42-17-116 24 102-12-103 5 84-8 28-7 1 19-23-34-48 36 61-18-70 14 78 7-9 5-48-30 52 7-7-10-46 40 2-14-23-9 22-18 42 28-15 1-5-5 4-14 11 25-18-29-37-10-8 19 90 32-83-35 14-16 39 49 8-25-72-7 33-10-25 31-9-43 51 26 4 8-4 39-68-41-2-46 41 45 68 3-34-10-4-7 30 3-18 11-13-14-22 26 50-14-36 7-63-44 23 8 59 31-27 3 24 4 11-26-75 0-25 25 65-10-22-4 54 26-47-19 26-15 8 5-61-14-31 34 58-22 0-12 34 29 4-15 13 11-12-17-23 26 47 6-33-18 36 20-35-20 30-4-119 4 81-15 23 7-2 25 4-17 6-18-52 1 34 27-46-8 54-6-20 31-25-49 50 34-14-19-9 12-24-22 45 19 8 11-99-20 85-10 12 37-55 4 26-20-20-29 15 19-14 10 30-9-43-3 4 1-19-2 59 12 17 11-31-40-67 13 36 4 73 16-125-22 137 20-116-34 87 59-8-14-2 5-5-2-72-26 67 9 39-7-46 48-11-56-21-22 7 16 51 44 12-17-63-2-22-36 43 14-17 2-18-2 28 4 17-6-18 2 63 43-52-43 3 22-41-27 41 4 8 11 8 25 8-24 3 5-6 14-102-28 110 22-41-26 35 21-23-13-52-12 35 10 35 21-56-31 35 6 14 9-40 1 64 26-23-5-95-23 74 10 36-8-13-15-29 0-7 39 28-41 18 1 23 30-65-10 15 27 16-19-6-14-83-1 108-3-5-8-110 3 132 46-29-37-5-8 15 32 15-30-41-10 19 29 21-3-60-23 11 21-6 0-5-17-66-4 98 46 25-52-60 8-7 28 53 4-13-12-87 20 45-22 62 23 13 1-73-20-1-30-49 35 113-11-45 1-11 2-29-5 1-7 31 9-42 7 87-1 5-13-35 2-64 26 72-15-33-9 50 14-23-26 15 10-28 3-36-16 16 14 42 7-2-14-8 10" fill="none" stroke="none" style="marker:url(#m1)"/>
<path transform="translate(.5 .5)" d="m168 58-51 10 39-9-72-6 11 41 26-28-52-1 74 12 28-7-22 1 31 23-59-3 55-39-57-9 29 25-24-6 18-13 26 37 14-10-10 1-68-16 52-1 13 34-56-15 46 14 11-16 3-11-1 29-5-12-76-9 57-24-85 27 22-4 77 22-8-11 24-15-40-5 23 8-30-3-36-21 78 20-67-1 37 13-26 2-1-27 2 5 62 11-93-23 39 9-30 16 12 0 22-14-24 26 14 2-2-42 23 36-2-18 10 14-5 1 23-15-13 12 13-6 4-3-53-11 32 17 28 32-27-20-46-16 20 1 50-10-54-11-21 19 62-14 0 16-66-2 43 5 19-8-5 30 28-14-14-14 17 15-28 12-8-52-71 33 109-16-85-3 3-13 31 42-3-12 31 30 12-24-81-2 87-26-48-2 14 19-36-1 48 21-44-33 39 4-82 24 64-8-5-2-14-17 73 32-71-19 10-16-8 11 59 7-55-24 2 16 44-7-50 13-18-8 22 18-5 13 47-7-27-17 48 24-19-5-18-23-75 14 102-10 5 13-44-13-6 0 30 12-23-8-31-5 5 28 57-25-54 9 65-9 4-10-54-8 22 18-66-17 110 6-110 2-6-5 87 29-91-2 31-36-36 0 61 45-5-20-41-11 91 12-19-9 28 27-8-15-18-5-13 1-11 15 51-2-28-22-25-7-24 5 40 0 0 2-27 3-36-28 63 50-8-24-15 7 56 9-10-15-9 21-5-26-2 22-9-16 16-5 7 20-26 0 10-7-32 2 17-8 48 0-63-4-16 36 24-29-32-15 64 21 13 5-76-13 78 2-93-14 59-6-49 34-37-37 100 9 5 7 18 0-10 32-31-10 29-14 12-10-25 15-43 13-9-28 32-19 36 24 12 8-54 9 3-11-10 8 53-12-24 28 18-28-1-5-8 16-44-28-12-2-8 30 52 9-43-6 60 4-31 42-17-74-60 11 63-4-22-3 53 4 22-4-43 26-39-36 20 26 26-17-7-22 11 49 10-7-81-14-12 20 125-16-72 22 2-17 34 14 22 7-12-40-8 14-4-2 16 9-38-2 34-2 23 32-116-22 89-27-32-9-9 10 31 22-20-17-55 4 81 18-17-5-3-15 12 5 6-5-40-2 10 40 61-8-40-32-4 13-4-15-45 37 2-41 46 2-24 0-34-1 70 21-57-6 7 10 85-20-52 11-9 21 16-11 31-9-9-23 7 23-14 20 23-36-67 8 58-9 27 11-119 12 25-5 12-16 71 39-37-16 38-15-71 10 12-18-61 22 65 2 21-4 5 22-36-21 45-11-26 33 27-37-42 24-10-14 61-10-43 9 63 21-33-29-63 3 21-7 59 9-88-6 49 2-14 5 56 9-28-25 11 14-52-24 29 21 46 1-64 0 49 17-10-2 25-28-41 19 42 10-41-17 1-10-17 39 58-5-94-18 52-20-1 3-26 21 57 12 10-22-49 16 13-13 6 33-65-62 74 54-107-19 35-2 58-10-12 5-67 11 80-5-11-34 33 48-56-18 22-3-12-15 24 19-77-12 60 7-16 12 30 27-4-22 1-35-73 37 53-10-12-11 36 1-8 19-61 10 55-8 4-31-9 24-17-15 70 14-102 0 83-22-99 8 50-6 60 19-22 5 41 17-10-34-85 27 60-31-38 0 29 11-10 8 4-35-30 18 49 20-36-35 51 43-27-6-87-18 38 4 61-8 25 24-25-5 14-18-42 3-13-19 58 11-28 28-56-27 72 21-10 23 17-30-112-7 76-5-63 8 44-8-40 3 26 12 7-10 12 19-4-19 29 11-36-11 22 14 6-15 51 13-91-11 56 21-32-29 28 27-15-10-67 2 47-30 33 20 27 6-56-19 37 22-13 13 24-18-108-15 100 47-10-45-78 7 94 11-6-14-14 29 7-11-3 1-31-28 14 35 15-26-7 4-46-13 10 15-6 10 76-17-82 6 28 11-17-24 15 13 23-5-50 14-15-47 20 46 80-11-48 13 5-9 10 5 2-2-21 39-3-34-60-16-8-3 50-11 52 29-3 11-14-22 17 12 22-6-3 8-108 5 16-26-10 12 87 7-31 7 9-43 0 34-66-6 64-13-13 15 17 11-15-37 33 35-90-28 114 2-38 30-43-1 6-30 34 4 34 0-23 19 22-33-57 0 53 26 9-8-43 8-25-8 67 24-45-28 16 5 37 5-56 8 9-8-23-3-13-22 25 19 40 0-78-3-33 0 89 15-42-17 28 10 31 2-42 8-2-15 55-3-19 12-60 23 67-10 5 14-37-30 22-1 35 4-22 6-113-8 45-23 31 10 14 24 26 16-17-39-10 2-69 3 96 27-43-7-18-46 67 17-22 46 10-23-15-4-49-10 22 8-15-3 60-8-24 11-29 2 5-2 13-16-8 17-1 11 12-12-36 5 8-6 37 5-11 24 19-10 1-20 18 54-108-62 121 23-65-12-8-4 2-2 56 9-53-3-3 1 34 24 29-50-25-2 18 43-15 3-20-35 34 19-66-21 35 20 21-15-33 30-43 0 46-45 32 40-26-12 5 5 32-1-19-21-90 6 73 5 31 10-18-1 26 3-107 3 41-33 55 22-4 17-23 10 25-10 11-19-36 9-44 9 31-23 32 0-18 2-3-13 44 53-7-26-64-24 52 33-19-15-55-10 88 18-54-12-34-10 69-11-10 44 7-11" fill="none" stroke="none" style="marker:url(#m1)"/>
<path transform="translate(.5 .5)" d="m142 80 2-24 17 31 2-9-62-31 41-7-31 41 59 1-80-28-11 37 55-18 29-7-5 17-23 5 0-13-76-26 41 1 78 26-27-23-1 9-14 13-2-46-20 34 83-3-74 13-31-24 30 20-10 17-39 33 70-60 35 38-48-37-5 5 4-7-39 36 53-11-63-1 49-17 26 22-72 2 65-29-44 26 64 11-73-33 47-8-2 38 10-23-12-5 31-3-50 3 37-6 23 15-15-16-3-3-31 29 1-37-5 23 13-9-35 1 55 8-18-11 8 20-69-29 68 18-39 12 54-13-58 1-26 7 68 7 1-17 24 25-5-23-3 3-39 2 33-9-17-17 12 37-3 3-35 3-14-32 85 27 0-17-16-5-34 23-37-17 99 10-91 13 37-38-43 5 29-7 42 33 5 14-52-10-35-13 95-29-1 27-61-8 45 14-8-40-25 25 38-18 9 32-55 2 28-25-45-10 1 5 67 22-2 6-37 0-18-25 9 24 15 15 29-19-43-5 3-8 0 17 30-27-15 24 30 15-74-27 41 4 22 45-57-40 41 11-82-12 101 1-22 21-26-46-43 10 48 9 9 25 40-36-30 21 5-14 7 27 0-6-22-36 6 14-3 4-70-17 85 33 15-25 19 7-33-4-16-5-22 7-36-9 94 14-37-13-22 28 50-6-4-13-52 0 47 16 4 10-24 6-52-39 96 19-10 5-21 27 29-62-29 47-12-45-60 31 75 9 23-17-21 6-38-15 38 14-13-15-50 10 86 22-28-20-6-16 15 22-22-37 44 58-27-45-35-2 13-14-29 30 67-10-52 23 71-31-21 17 1-4-103 11 73 37-21-40-6 15-36-29 59 2-36-15 32 15 40 27-36-20 20-28-25 31-33 7 33-13 42 12 6-3-19 3-32-11 37 19-12-19-41 0 10 19 7-26 12 21 20-13-5 9 18 22-44-43 6 19-59-1 105 7-24-10-3 19-11-34 40 29-37-16 22 19-71-5 62-8-14 14-16-25-29-4 30-6-13 11 69 18-127-23 84 9-4 11-22 7 51-17-31 2 2 12 29 0-24-22 24 15-82-3 72 9-32-3 22 0 28 4-28 3 31-7-22 14-96-29 69 17-26-9 65-5-71-5 92 3 3 3-29-1-49 1 5 12 42-15-42-8 31 23 10-12-16-9 18 41 11-15-57-32 30 19-40 14 74 1-34 15-16-40 3 21 12-25 36 27-44 9-55-53 64 20-11 12-31-17 24 14 32 11-8 3-14-23 16 5-46 10 48-41-38 21 33 39-59-33 70 14 6-2-4-28-22 18-7 29-38-31 4 11 81-11-6 11-16-8 14 38-22-35-60-10-21 53 77-36 30-1-80-32 67 23 1 15-31-7-51-7 69 6 37 5-20 6-18 13-32-9 44 32 1-20 2-15-66-32 85 25-14-3-95-22 95 28-55-28 11 49 47-38-102-23 123 67-110-62 56 29-15-5 22 5 10 4-74-10 61-4-48 9 50-1 34 27-79-27 59 2-41-14 46 10-10 12-50-10-15 13 14-13 51 4-77-27 84 21-14 5-6 11-59-17 88 11-47 18 15-22-12 18 55-9-42-14-67 1 63 10 36-21-63 14 38-7-6 6 16 9 13-40-41 52-2-31 1 2 46-2-2 0-52-2 61 18-59-16 35 6-13 10-55-8 31-15-36 16 59-3 24 8-76-10 74 5-72-5 63 16 19-16-28 7-58-8 56 9-57-13 68 26-12-23-32-8-1-4 81 9-71 5-7 23-15-2 36-10 6 6-37-31 2 13-17 2 31 9 8-28 47 33-102-39 62 26-68 14 98-12-32 24-32-29-2-13 61 25 5-5-61-5 59 12 5-10-24 21-5-32-20 15 48 11-72-20 70 13-29-11 41 6-96 1 97-5 4 12-32 3 17 3-47-19 8 10-57 37 58-66 0 18-26-10 46 24 20-7-33-16 11 4-7 1-5 11-21-41 37 26 20 6-71 3-28 11 50-5 10 7 28-5-76-15 61 27-6-19-25-1 26-26-7 28 4-2 2 6-31-25 22 45 23-10-34-44-20-3 2 22 85 38-71-5 29-3-78-18 72-11-3 21 3-19 4 8 21-5-3 3 8 6-75 3 63-21-61 16 30-2-62 27 68-11 12-26 11 13-28-13 23-18 16 60-24-22-76-3 39-12 69 32-71-21 31-10 43-4-52 15 28-28-15 48 26-21 3 3 3-8-46 5 14-7-3 5 25-4 19-7-47-3-25 8 7 4-22-5 78-12-6 19-17-9-82 22 115-9-66-17 27 12 24 18-26-11-38-30 53 10 19 14-28 19-36-26 40-28 22 75-35-31 31 7-78-23 82 5-24 0-18-8 30 12 3-14-3 24-86-24 93 8-17 0-5 23-55-20 24-7 64 9-77-7 50 12-38-22 46 18-83-28 41 23 56 7-85 1 100-3-1-16 0 23-33-40-6 12-1 13 2 6 23 1-82-27 88 40-27-13 8-4-69 4 17-11 55 3 5 15-93-14 95-9-13 11-25-14-60 6 80 28 3-23-60 17 68-37-7 5-37 13 13-7 27 16 2-18 19 0-15 13-78-4 10 1 80 10-83-29 82 21 7 15-97-17 55-12 1 2 9-8-2 1 29 18 1-1-31 6-5-2-61-12 49 8 11 1 11-9 31 33-50-38 10 15 5-1-10 26 40-29-24 20-27 7-34-24" fill="none" stroke="none" style="marker:url(#m1)"/>
<path transform="translate(.5 .5)" d="m161 73-61-2 12-10 71 10 5-1 5 0-29-22-36 26 22-1-8-11 27 28-43-14 2-26 55 33-57-28-20 17 52-8 10 4-17 27-56-30 57-6-27-5 11 29-32-10 57 8-2-7-47-13-19-9 30 17 73 16-35-3-48-23 31 16 19 1 25 17-94-10 49-39 12 8 3 31 6-14-78 5 24-16 40-7 12 21 8-10-8-2-45 19 8-1 21-20 27 24-51 13 68-14-115-28 77 0-43-1 13 22-28-8 71 4 17-14-12 4-44 15-48-38 116 31-68 11-31-9 72 16-29-37-51 14 92 35-77-33 63 13 0-26-17 19 42-13-53 13 15-7 4 8-1 7 19 13 17-35-51 5-4 15 9-27 27 3-27 3 28 5-51 20 50-16-74 5 80-9-30 10 16 3 24 0-122-12 122-3-16 42-42-17 47-14-24 15-4-3-10-24-42 12 68 47-35-69-10 10-37 2 70 15 36 4-64-21 13 25 4-20 28 6-10 20 9-40-40 21-21-18 28 12-43 11 26-12 21 2 17-4 14 14 14 20-56 0-10-9 36 6-10-24 10 0 14-2-98-4 73-13 15 10-5 31-47-31 9 3 16 2 28 18 21 9 1-38-81 30 49-18 23 12-27 20 32-12-63-63 63 56-35-10-15-20 30 13-18 46 12-20 3-41-68 35 36-22 21 0-25 14 56 2-55-27-28 17 92-8-51 4 9 10-22-5 39-22-38 24 48 8 13-4-29-17 17 5 5 13-58-27 61 41-47-29 26 1-77-3 76 20 11-6 20 32-45-18-13-12 17-8 26 7 15-14-74 8 33 17-64-18 100 15-47-12-24-26 22 12 42 26-31-16-34 19 35-21 7-10-51 15 82 13-19-4-60-10 46 2-63 21 40-39 10 33 20 14-3-28 44 16-11-4-9-24-39 8 24 11 23-13-60-20 37 17-103-10 111 17 6 26-15-1-6-20-66 3 66-20 3 21-29-13-52 9 14-5 17-22-3-6 70 55-14 16-18-46-1 11-24 3-24 0 55 4 0-20 15 33-64-44 60 1 22 16-7 23 6-19-17 3-97 22 92-25 25 22-49-13-34-14 71-30-6 35-30 16 27-7 11-23-67 6 56-4-11-5 23 12-46-4-10 9-15-9 41 64-48-66 30-5-13 20 3-31 29 19 1 26-42 19 25-54 11 2 3 24 19-17-71 10 2 4 40 4-20-33-37-8 54 10-47 30 51 3-20 6-34-12 77 0 16-5 7 8-106-21 89 7-17 20 20-29-7 34 1-8-78-22 62 23 14 8 8-3-36-31-27 7 34 18-2-9 16-18-60-9 37 10 42 14 17 1-58-6 21 8-9-20-13 14-44 10 100-4-25-3-41-3 19 39 27-32 17-1-40 27 18-21-13 26-80-37 81-8 23 3-27 13 28 12-40-26 16 25-47-25 91 10-92-16 80 32-25-24-80-3 87 6-32-13-14-4 1 7-12-14 47 41-92-13 77-1 45 22 4-31-34 10-19-12-67 2-4-3 83 16 26 4 4-20-1 28-70-5 63-27-3-17 23 15-70 23-41-6 75 6-5-8 2-24 29 30-31-10 5 27-44-37 40 28-8 14-10-24-21-14-49 14 123-5-18 1-4 15-9-11-39-19 1 2 33 27 35-30-13-2-23 32-41 7 51-23-77 17 45-16-8 0 28 14-14-18 55 12-67-13 26 40 11-41 8-15 3 34-3 13-98-35 88 15-1 2 11 3-31-12-4 3 35-12 22 22-65 31 75-44-103 8 51-22 18 15 18 14-93 3 41-7 40 4-11 2-60-15-9-2 25 16-12-32 16 8 26 13-46 1 25 10 33 7-45-28 44 17-2-13 14 14 2 5 6-13-101-17 117 7-83 11-44 0 101 18-38-42 8 47 21-45 10-8 21 35-2 26 16-27-53 10-15-17-17 0 34-17 25 38 3-25-18 19-38 7 0-36 65 2-98 5-2-1 77-10 23 37-70-27 19 8-8-37-23 14 14 28 24 16-12-37 56 56-83-39 76 30-55-53 68 39-77 13 78-32-120-6-9-2 106 39-26-21-49-25 91 34-30-15-69-14-6 8 51-1 15 1 41 16-54-15-4 51 13-14 4 11 14-48-6 3-11 24-55-47 61 51 15-3-27-39-8 13 4 9-22-44 10 33-33 11 55 1-6-27 16 20-20-1 50 13-123-6 53-1 37-4-68-19 29 14 89 4-1 11-86-25 7 33 40-25-2 3 24 15-70-19-11-18 27 17-15 9 41-2 13 6-17 1 14 17-49-36 28 7-67-9 32 8 26 3 32-13-31 26 0-15 10 41 6-35 35 7-18 6 14-19 0 11-64-13 5-27-17 42 62 14-38-44 27-4 1 30-30-5 7-16 17 26-54-26 25 46 30-35 7 14 29-6-24-5-53-37 38 35 11 14 9-24-75 30 68 1-40-9-6-20 75 36-89-28 58 7-2 9-17-17 27-6 7 19-30-20-49 13 41 1-38-30 1 40 21-9 18 7-10-14 34 5 7-2-10-15-22 20 39-25-48 1 30 34-45-45 45 39-19-2 45-1-78-6 44 8-79-30 18 32 36-18 6 26 21-19-41-22-2 31 40-9-12 12 27-1-4-20-2 29-29-27 20 5-42 5 18 14 61-23-31 17 17-13-26 1 20-10-52-6 56 2 1 27-101-27 95 21-16-4 0-2 1-19" fill="none" stroke="none" style="marker:url(#m1)"/>
<path transform="translate(.5 .5)" d="m87 45 69 26 8 2-19 2 21-8 6 23-5-28-21-20-47 43 7-43 54 20-86 0 88 7-19-11 32-2 16 3-58 61 51-65-2 25-42-29-5 9 49-3-5-10-50 19 14-2-17 10 43-8-27 21-9-20-34-9 43 5-42-12 69 33-9-2-29-11 24 7-22 3 40 1-50-19-2 6 40 12-13-21-27-6 34 15-1-1 2-17-8 11 31 3-57-15 13 27 26 6-32 14-11-33 50-6 5 1-6 26 17 8-60-9-42 8 34-2 68-17-57 5 30 7-8-27-7 17 14 2-13-49 14 49-92 16 34-39 39 19 23-8 21-19-49 17 23 8-15-17 10 2-89 26 59-1 20-15-30 0 58 30-34-12 23 2-61-17 3 1 77 7-17 2-85-8 96 11-35-5-32-7 74-7-10 3-6-3-49 6 52-6 14 1-11 6-17-8 15 2-62 11 44-22 23 25-70-25-22 20 101 20-86-29 27-22 25 49-44-42 55-5 22 35-19-29 15 21-69-6 28 10 19-5-67-5 49 8-18-10 49 27-67-33 31 2 4-2 38 11-14 2-1-7 21-1-23 6-5 4-61-16 47-1-10 16-11-3 53 6-75 7 91-22-80 32 27-45 32 19 4 5 6-6-26 5-45-21-1-5 56 12-75 20 86-7 8-9-55-3 19 12 14 5-68-8 48 3 30 7 11-4 1 7-13-29-41 47 24-32-39-2 43 1-31 16 23-20 51 24-80 15 31-42 3 35-53-4 33-20 3 4 35 18 12-2-77-29 55-14-11 12 15 15-35-24 50 22-46 21 38-14-2 13-26-57-46 36 60-2-4 2 6 5 13-16 19 54-40-39-18-24 47 13-11 3 5 2-75-9 69 15-13-2 12 12 35 17-64-10-26-15 66-22-5 30 4-12-12 2-35-17 31 1-52 31 17-14 48 2-40-5 41 19-4-23 12 19 5-6-122-32 33-18 38 43 3-8 43 6-38-11-71 10 126 3-28 5-20 6-34-29 23 21 22 0 5 0-7-10 24 34-1-11-18-22-40-19 41 21 15 11-31-8 38-20-1 6-34 10-10-5 16 12 20 9-79-10 32-18-29 11 62-6 10 30-7-13 6-13 7 51-34-36-20-5-1-26 4 25 10-9 46 13-32 14 20-8-74-18 73 33-15-56-22 30 44 9-46-15-4 25 56 3-8-15-74-7 37 8 12-3-4 7-37 2-29-18 56 11 61-19-44 22-54-21 40 27-24-33 22 13-35 13 71 17 5-32 15 18-78-21 44 18 6-1-4-2-13-4 14 30-41-30 45-1-53-9 24 19-1-26-58 17 78-18 4 7 15-2-59-22 48 33-17 6 35 8-17-8-29-31 59 12-62 22 12-6 21 13-8-13-14-38 20 46-21-45 16 18-15 6 10 25 12-31-35 15-4-26 66 0-24 50-5-19-58-24 20 13 42-9-13 36 10-17-82-7 7 4 66-11-73-10 21 30 43-26-65 4 6 2 90 40 15-22-38-3-3-20 33 20-26-1-72-2 6-2 15 14 41-11 7-7-41-20 18 39-8-41 14 33-24-32 60 50-61-52 42 16-57-7 59 11-20 11 26-19-41-6 50 1-22 29-23-32 48 33-38 7-4-19 14-21-12 18 28 9 2-2-25-5-73-16 108 11-75-34 32 55-61-35 114-3-32 23 28-5-34 5-35 1 56 0-2-13-16 8-11 7 35 17-38-29 27 30-53-33 48 2-60 16-22 0 87 7-95-25 110 32-58-16-14 6 22-5 41-28-31 15 34-21-44 35 23-2-22-1 19-5 16 17-2 8-6-18-40-25-39 8 80 21-9 9-3-11-6-12 6-9 4 17-48-1-4-3 30 19 41 45-10-50-52 20 31-17-53-23 76 39-11-17-17 2-61-45 70 30 8-18 7-2-51 17 26 11 43-20-49-9 50 47-12 27-79-55 53-14 51-10-62 24 45-4 8-12-48 7-11 4 5-4 50-9-83 23 41-22 3 17 36-19-26 48 15-32-1 6-71 2 9 3 50-5 36 7-78 20 22-31 4 8 39 8-5-6-25-11-28-12 21 16 22-9-97-1 81 2 7 18 7-28-95 6 107 1-22 10 19-10-65 33 75-21 10-7-83-3 51 5-22-6 52 18-20 1 9 16-26-21 11-24 36 53-37-33-20-11 22 25-8-19-44 2 80 21-9-34-60 5-3 16 41-6-39-21 51 25-28-6 5 5-14-7-4 8 24-29-14 10 30 15-50-19 31 7-18 22 16-3-20-8 41 21-27-24 12 13-23 12 50-21-46 1 1-11-42-3 83 26-11 8-21-9-34 9-4-17 22-10 40 35-43-45 49 41 24-3-34 1-21-38-66 14 68 25 14-10 42-10-20-7-21 31 21-24-31 12-1-21-8-8 28 0-31 30 21-38 24 42-23-30-50-12 9 13 38 3-50-19 33 21 19 10-29-24 25 12-57-10 75 33-43-37 43 46-5-13-5-29 5-9-19 26-64-1 75 1-63 7 92-3-36-12-12 21 37-27 12-2-87 12-24-6 73-2-63 20 83-16 1-7-45 27 49-18-95-7 47-9 36 46 28-12-8-24-78-5-2-5 63 52 6-34 0 19-11-14-48-5 46-1-49 17 64-15-28-5-7 0 22-4-4 13-20 20-51-15 76 3-9-15-23 42 44-36 10 16-10-8-39-14 30 9-26 7 35 8" fill="none" stroke="none" style="marker:url(#m1)"/>
<path transform="translate(.5 .5)" d="m77 81 64-19-67-4 65 20 20 18 2-42-45 4 43 11-48-19 57 2-40 17 12-3 40 8-71 16 25-25 20 10 5-4-8 0-4 6 26-12 14 10-51 2 43 4-100-4 77-4 17 0-17 40 8-33-14 22-15-20 27 16-89-43 63 8 26 8-46-17 64 3 5 29-31-11-48-10-17-16 20 15 50-10 0 20 26 44-11-55-62-10-8 8 88 25-56-25 38-11-74 19 67-1 14 6-25 24-14-23 31 14-37-30 9 24 16-30-18 22 42 16-37-12-50-24 67 17-46 9 3-46 50 44-15 4 26-5-30-25 30 14-34-26-18 25 37-8-33 17-7-7 27-20 6 17-21 12 50-35-47 32-10-13 18 7-8 24-12-34 41 22-23-3 30-2-32-7-12-8-74 13 81 0-26-10 60 24-66-1-29-20 50 33-6-35 14-3-3 39 22-31-95-13 55 17 3-10-6 7-11-19 68-1-92 5 68 16-56 22 84-18-109-6 98 8-19-28 7 11-62 28 87-11-64-23 11 15-14-9-46-8 111 29 4-8-17 33-29-26-6 14 4-18 50-12-35 9-17 10-7-16-40-1 71 16-24-3 2-9 21-12-37-22 9 0-4 39-23-19 21 32 54-10 3 26 12-33-44 5 13 15 23-18-78-25 44-3-13 19-51 9 6-29 5 7 62 18-38-3 17 13 6-4-57-7 45-6-31 37 88-31-13-9-26 11-44 9 67 19-71-9 30-12 18-6-7-4 47 21-83-42 70 45-32 18-65-54 64 3 36-2-3 12 16 17-3-4-115-11 95 14-83-13 71-10-30 8 45-4-5-12-34 39 38 0-59-39 51 23-43-34 3 2-7 25 71 14-57-17-40-12 18 12-19 9 77-9-15-14 17-7-25 19-70 4 29-28 6 26 60-9-69-1 44 12 8-14-31 25 2-13 12 9 40-20-62 9 37 12 46 0-60-2-46-39 68 35 31 5-56-3-8 0 47-27 3 30 10 3-67-23 49 0-47-2 9 31 25-38 14 39-77-24 6-12 5 6-12 4 66 29 40-33-98 4 95 61-62-41 49 0-54-36 48 6-21 44-30-35 17 20 29-25-54 8 17-10-11 19 37 2 10-6-15 1 0 14-29-16-18 7 58-11 2 20-96-15 79-13 46 11-79-3 16 21-45-23 49 20 6-14 9 24-14-50-64 39-7 10 78-6-30-28 51 36 5-64-24 47 2 2-11-18-35 27 10-27-8 38 35-41 41 3-1 38-55-27-29-16 65 20-29-4-67 12 42-35 71 79-1-58-34 23 16-21-43 8 46-7-57 20 36-18 46 1-23 17-53-32 51 11-23-10 37 4-20 7-57-18 43-7-19 3 12 42 15-17-18-12 20 22-4-29-19-4 19 21 9-16-3 11 35 4-24 8-1-16-89-1 79 31 41-27-65-2 58 10-69-5 22-32-56 9 43-4-23 27 32-9-22 3-9 16 44 1-17-15 14-4 48 14-69-16 27 24-2 20 29-25-86-14 85 28-30-7-24-40 56 50-102-14 59-16 12-3 11-1 8 25-20-27-1 7 43 9-87 3 6 16 4-42 58 20-40-1 33-14-35 11 59 11 2 16-46-34-32 1 71 31-97-40-14 34 124-30-100-11 36 34 34 7-9-7-37-11 39 24-16-20-54 15-4-27-17 0 110 4-86 11 84-13-50-3 15 21 49-5-42 26 33-27-43-25-17 3 52 24-86-32 42 28 68 9-17 4-12-21-5-1-57-15-10 18 20-9 23-17 18 37-4 2 6-14-34-17 36 46-44-18 49 15-3-1 0 7 6-23 19-24-122 3 26 24 0-10 44 2-12 9-29-18 44 24-6-32 50 13-88-1 69 10-55 9 54 6-68-33 94 34-52-27 17 25 31-17-21 16-73-18 58-4-36 1 15 14 1-12-39 20 76-20-26 12 23-12-18-13 43 47-80-36 78 33-104-42 30-12 52 23-34 8 47 3-66-22 4 10 61-4-42 15-47 6 38-1 56-32-31 9-33 14-35-26 12 12-19-6 67 26 5-16 39-1-10 5-51 11-2-9 36-7-31-1 7 12 6-8-4 5 10-14-26-19 55 28-33 8-13-26 5 22 20-9 25-10-29 37-6-31 7 7 37 34-28-42 11 14-42-17 0 10 15 18 0-32 28 30-99-17 121 19-4-18-31 5 40 20-9 16-25-50-6 23 17-4-20-21-12-23-13 35 38-11 5 15 11-1-43-9-20 14 9 15-5 23 11-62 5 36-46 0 97-18-74 9-6 13 14-18 49-1-104-32 118 45-80-16 22 18-45-12 6-20 79 24 4-26-9 6-22 1-53 13 71-10 16 16-1-6-16 19 8 0-78-33 58 20-15-6 4-7 14 20-16-15 64 9-29 1-51-7-35 12 29-5-12-24 36 19 0 3 34 34-46-29-28-19 64 14-35-28 15 11-32 9 19-17-49 29 78-3-81-11 45-14 46 16-6 12 1-6-20 5-37-19 34 22 17-22-60 6-20 10 87 13-79-10 74-14-8 31 11-32-23 15-36-13 29-2 44 3-94 7 52-11-60-17 95 24 21-15-43 46-37-19-11-9 66-22 30 17-27 12-93 8 11-2 85 4-43-38 13 19 25 27-21-24 25-23-9 48-30-24-19-26 48 40-52-35 69-4-51 5-18 21 22-8 46-14-2 18-32-11-40 6 67 21-13 4" fill="none" stroke="none" style="marker:url(#m1)"/>
<path transform="translate(.5 .5)" d="m162 78 3 8-16-31-13 0 3-4 23 7-11 15 5 14-55-30 8 29 18-5 40-11-13-19-13 3-20-1 21-14 18 44-14 4-50-16 46-20 12 20 11 28 8-37-111-19 73 72 2-49 7-19 5 39-54-29 48 33 37-15-31 23-9-60-21 29 35-20-72 29 66 20-32-19-9-23 25 15-63-13 79 10-20-23 7 11-34-8 68 28-80-9 34 2 33 8-38-22 16 7 48 7-106-9 77 36 9-21-20 5-18-6 2 13 52-10-79-11 49 17 11-9 34 4-82-16-36 34 66-39 6 32-23-6 49-16-90-13 57 19 4-9 54 17-110-3 45-4 41 13-13-12-31-32 5 25 21 11-48 3 19-24-54 20 36 6 48 5-67-35 26 22 19 7 43-18-87 9 55 5-31-32 26 16-10-12 2-14 12 21-51 10-2-21 45 22 32-18-3 60-17-29-28-37-37 75 81-52-50 30-50-25 110-4-70-5 4-10 60 32-87 9 100-6-92-41 38 37 46 7-19-14 26-18-24 11 26 8-47-34 5 38 13 38-88-42 134-8-63-18 53 48-46-23-78-40 88 44 7-7-2 24-62-24 52-5-18-8-47-23 54 14-54 14 69 28 9-8 34-29-55 28-67-29 78 1-41-7-6 36 67 2-11-13-6 14 19-17-71-19 39-4 43 39-83-45 64 50 32 8-50-15-24 6 5-30 46 20-14 29 16-57-69-11 33 31 5-13-27-28 45 41 3 1 15-7-39-8 16 2 30 10-53 12 41-27-7 0-32-7 9 35-23-21 10 5 20 1-3-3 19-5-29-16-27 34 32-14-55-6-27-13 34 33 64-24-29 11-14-15-6 43 49-17-19-14-14 26 50-34-2 53-55-59 39 20 2 2 20-23-31 11-58-3 86 18-46-13-3 14 13-25 19 14-68-16 60 3-67 4 72 4-20 17 6-12-15-42 61 70-99-34 16 24 69-20-9-1 8-4-15-9-12 17 16 14 7-20-10-4-11 21-77-2 115-3-104 12 48-12 28 23-23-40 31 3-27 7 20 0 5 8-41 20 10-26-18-8 60 13-53-17 9 45 36-14-58-34-7 15 36 52-5-46-1-6-33-3 26-6 50 27-75-30-8 2 65 7-35 5-30-10-29 0 67 8 16 18-1-15 35 1-10 16-53-46 20 39 50-15-83-11 45 40-51-26-2-6 29-9 4 28-46-31 31 23 22 42 38-13-67-38 70-15-62 43 38-15-49 12-5-55 64 36-83-7 93 5-28-11 16 1-37 9 11-26-20 10 62 26-50 11 25-34 28 33-19-13-61-13 59 9 12 4 14 6-14-9-87-18 69 45-43-52 13 33-44-5 47-39-9 25 10-14 39 18-19-4-7-1-23-2 12-1-17 7-47-5 71 5-14 23 25 1-22-22 24-20-78 21 101 14-61-14 13-1 2-3 7 16 28 26 12-35-31 14 51 3-45-26-30 6 13-4 14 19 0-4 13 1-4-5-65-23 8 8 64-15-25 29-5 8-10-30 9 14-45-7 84 49-8-12-11-5-7-1-38-44 34 45 8-10 42-22-69 13 52 22 4-20-45-16 12 5-10 1-27 4 3-12-5 22 55-11 28 32-54-35 12 6-50 16 23-31 18 7 26 12-13 6 11 15-57-37 45 31 7-27-24 2-8-2-19 2 17 18 36 8-20 6-5-11 46-8-48-17-48 26 11-34 34 11 49 3-18 5-67-12 16 20 35-17 2 15 0 8-39 15 20-22-30 7 17-16 17-21-20 14 70-11 0 37-13-23-7 23 10-41-19 15-25 20-53-13 43 0 35 12 19-22-39 24 52 10-39-5-5 22 12-36 7 3 36 9-38-34-11 17-11 5 1-7-2-20-74 16 83-18-24 27 15-3 31 9 12 11 5 8 8-29-88-1 64 3-12-31 24 34 6-11-60-12 31 18-18 13 11 16 22 2-51-39 0-14 27 3-21 18 50 10-18 0-20-11-55-3 80-3-8 22-76-23 53 5 33 22-28-14-42-15 44 28-1-29 15 20-39-5 34 14-36-41 76 55-51-40-37 3 17 14 57 27-94-20-7-19 94 16-59-7 16-16 19 37 4-10 14 2-20 1-41-19 83 33-85-17 7-26 62 38-43-39-36-4 45-13-60 16 66 5 59 7-17-5-3 28-38-26-67 23 66-6-39-29 43 17-56-8 51 12-2 5-50-18 31 12-46 7 31-13-15 12-5-24 35 27 47 34 12-35-77-31 55 39 16-11 15-5-12-11 8 16-60-2-25-8 88-4-51 4 6 11 10-44-7 52-5-17 39 27-4-22-52 9-5-9 66-2-20-1-11 11 34-16-54 15-44-29 55 4-12 24 25-21-31 19-2-4 30-12-11 4-28-16-5 21 13-19 25 24 9 35-44-54 18 17 6-14-40-2 70 13-40 3-62-1 31-17 5 3 25 15-11-5-11 22 74-15-33-7-36-19 11 9-16 20 69-5-66 4 58 17-43-37 26 9 34 5-114-11 28-3 63 24-30-5 47-13-41-4 44-14-43 21 48 28-26-38-65 10 77 13-14-11-17-1 25 15-10-26 4 17 5 3-5 2 21-21-86 11-13 5 89-9 19-8-34-16-73 31 97-11-21 8 40 5-123 4 77-15-28 12 2-19 13 1 5 7-2-8-30 27 6-15 78-2-44 23-37 6 24-24-15-9 50 23" fill="none" stroke="none" style="marker:url(#m1)"/>
<path transform="translate(.5 .5)" d="m167 52-42 14 51 15-6 8-5-21-6-4-5 8-4 9-53-15 73 12-90-13-8-4 64 3 35-3 11-14-94 28 64-40 22 24-92 7 63-3 52 19-65-14 33 19-21-32-30 0 56 17-48-7-9-4-33 10 115-35-55 24-15 28 22 3-9-24 26 4-43-5 8 14 67-5-21 7-32-25-4 9-2-13-67 24 111-6-36-15-18 16 20-2 34 4-7 5-39 28 20-33-13 8-31-7 49-13-3 14-13-11 36-5-19 7-83 25 54-40 23 11-16 10-16-12 58 30-9-7-62-49 18 44 13 14-72-47 108 83-54-61 45-19-57 13 56 29-53-25 39-22 10 38-2-16 5 16-39-24-26-3 23 19 45-29-27 14-55 1 79-9-31 8 37 17-9-15-16 7 26-26-87 19 51-13 23 10-59 15 66 23-23-37-38-21 23 35 4-18 16 23-8-9-16-16 5-2-35 39 46-3-16-34 37 29-58-11 33-6-13 8 4-2 38 23 30-27-124 18 65-30 18 17-37-16 13-3-19 40 34-12-13-15 36 20-41-29-61 19 81-33 17 30-17 7 29-9-96-12 82 33-56-30-14-6 6 33 31-18-61-2 58 7 41 11-9-15-60-8 53 11-37-14 24 34-53-22-5 2 1 8 11-8 12 31 1-10 64-43-13 13-36 26 18-22 25 2-79-21 16 13 0 26 47-16-20 7 54 23-13-44-2 19 12 5-44-50 47 16-74-6 45 16-16 18 11-6 6 13-41-45 40 45-34-8-57 1 115-18-87-6 51 23 32-31-66 12 60-3 4-2-47 7 19 12 51 10-76-13 16-6 20 6 30 43-51-42 14 5-25-18 52 18-13 6-59-21 26 6 61-1-102 8 61 2-21-5-46-28 99 35-22 6 5-52-28 45 30 24-44-36 1-5 1 0 12 12 29 7 8 10-56-18-37-21 57 17 26 23-54-1 67-16-44-3-24 24 30-37 12 31-90-22 14-5-13 10 68-12 28 22-38-13-18 8 61-12 23 6-31 2-13 10-8-26 26 44-79-15 58-40-4 15 61 3-30 35-36-20 11-8-5-4-24-6 70 26-28-18-10-1-17 13 24 10 10-10-18-2-12-7 14-23-42 12 94 10-85 10 14-21 4-8-6-1 56 27-5-3-18 3-12-16 12 8-44 1 43 15-35-9 5 4 42 1-46-22 47 15-3 12 16-17-59 10-8-17-36 31 6-52 75 48-11-7-32 5 14-21-28 0 67 6-10-6-34-8 57-6-37 28-10-17-2 12-9-12 53-5 18 31-35-26-21 6 30-2-18 9-19-13-40-6 29 24 59-18-63-8-44-1 74 14-13-22-9 11 46 15-31-21-29 1 62 36-78-33 66 15 19 15-55-29 12 8-75 45 95-32-13-13-62-13 46 22 11-4-23 5 47-9-47 12 33 14 41 3-57-36 39 15-77-26-8-9 42 28 8 12 17 16 31-9-24-16-78-5 61 9-4-5-6-6 40 8 5 34-39-42 15 4 2 36-49-52 81 14-92-33 37 22 36 15-5-7-72 3 15 0-10-7 81-3-56 11 12-5-25 19 42 11-2-4 23-17 12 30-43-33-24-18 21 30 54 8-17-2-87 19 96-4-53-50-62-22 20 52 51-8-22 14 56 16-78-18 17-2 75 15-95-31 23 0-9 9 73 1-23 5-7-6-12 4 23-26 10 16 24 9-38 18 15-36-42 20 30-29 4 27-61-13 87-7-76 17 26-10 7 15 25-9-18-11-44 13-3-11 72 24-20-10-84-24 64 22-48-6 46 23-44-29 15-6-16-8 82 31 20 0-21-4-62 39 43-38 15-1-17 23 21-26-36 21 8 1 16-35 4 8-29-14-25 3 11 1 41 12-11-7-2 9 9-23-2 35-23-17-41-15 43 30 26-26-57 13-38 1 92 10-37-22 30 15-53-4 43-6-57 2 83-9-62 18 74 9-13-4-6-11 7 1-9 7-16 9 10 16-33-49 22 9 2 12-16-4 40 14-78-19 20 8 20-11 26 10-16-18 10 49 7-10 6 4-25-26 20 33 6-46-81 9 56 11 3-8 36-13-41 0 49 22-15-15-53-2 17 14-29 7 75 8-45-9 33-19-43-6-47 4 63 19 33 15-64-21 33-5 6 0 31-3-36 20-59-8 27 13 20-32 8 33-61-18 45 1 4 32 12-69 59 54-24-23-34-11 43 3-77 27 57-25-44-6 17 0-77 7 39 7 81 25-46-19 23 9-14-14-33-26-3-11 73 38-38-33-30 30 73 7-22-2-26-25 41 36-43-21 11 2 33 14-7 1-68-8 49 7-29-18 16 37 31-34-40-4-6 5-48-5 56-3-9 16 2-11 27 18-3-12-26 4 29-10-22-8-36 12 60 25 9-33 17 7-77 29-37-25 97 0-23 16 36 5-5-6-81-20 73 17-13-10-22-1 24 12 19-4-3-2 17 2-54-26-52 26 17-17 40 39 28-26 11 0-55 11-3 1 26-11 8-5-31 1 48 3-8-15-18-3-67 13 89 13-83-29 110 47-57-49 50 36-1-33-55 12-42 4 41 16-62-27 45 29 12-5-10-30-3 16 71 16-28-16-53-15 20 27 0-43-6 49-19-24 44 6-44-10 39 14-23-18-19-10 26 28 32 1 40-17-84 14 41 16 14-8-10 9-18-18 20-1 1-8-79 3 43 22" fill="none" stroke="none" style="marker:url(#m1)"/>
<polyline points="54.5,38.6 56.5,38.6 58.4,38.6 60.4,38.5 62.3,38.4 64.3,38.4 66.2,38.3 68.2,38.2 70.1,38.1 72.1,38.0 74.0,38.0 76.0,37.9 78.0,37.9 79.9,37.9 81.9,37.9 83.8,37.9 85.8,37.9 87.7,37.9 89.7,37.9 91.6,37.9 93.6,37.9 95.5,37.9 97.5,37.9 99.5,37.9 101.4,37.9 103.4,37.9 105.3,38.0 107.3,38.1 109.2,38.2 111.2,38.3 113.1,38.4 115.1,38.6 117.1,38.8 119.0,39.0 121.0,39.2 122.9,39.4 124.9,39.6 126.8,39.9 128.8,40.1 130.7,40.4 132.7,40.7 134.6,41.0 136.6,41.2 138.6,41.5 140.5,41.8 142.5,42.1 144.4,42.5 146.4,42.8 148.3,43.1 150.3,43.4 152.2,43.7 154.2,44.0 156.1,44.3 158.1,44.6 160.1,44.9 162.0,45.2 164.0,45.5 165.9,45.8 167.9,46.0 169.8,46.3 171.8,46.5 173.7,46.8 175.7,47.0 177.6,47.2 179.6,47.4 181.6,47.6 183.5,47.7 185.5,47.9 187.4,48.0 189.4,48.1 191.3,48.2 193.3,48.2 195.2,48.3 197.2,48.3 199.1,48.3 201.1,48.3 203.1,48.3 205.0,48.3 207.0,48.3 208.9,48.3" fill="none" stroke="#1f50a3" stroke-width="3.4" stroke-opacity="0.4"/>
<polyline points="54.5,38.6 56.5,38.6 58.4,38.6 60.4,38.5 62.3,38.4 64.3,38.4 66.2,38.3 68.2,38.2 70.1,38.1 72.1,38.0 74.0,38.0 76.0,37.9 78.0,37.9 79.9,37.9 81.9,37.9 83.8,37.9 85.8,37.9 87.7,37.9 89.7,37.9 91.6,37.9 93.6,37.9 95.5,37.9 97.5,37.9 99.5,37.9 101.4,37.9 103.4,37.9 105.3,38.0 107.3,38.1 109.2,38.2 111.2,38.3 113.1,38.4 115.1,38.6 117.1,38.8 119.0,39.0 121.0,39.2 122.9,39.4 124.9,39.6 126.8,39.9 128.8,40.1 130.7,40.4 132.7,40.7 134.6,41.0 136.6,41.2 138.6,41.5 140.5,41.8 142.5,42.1 144.4,42.5 146.4,42.8 148.3,43.1 150.3,43.4 152.2,43.7 154.2,44.0 156.1,44.3 158.1,44.6 160.1,44.9 162.0,45.2 164.0,45.5 165.9,45.8 167.9,46.0 169.8,46.3 171.8,46.5 173.7,46.8 175.7,47.0 177.6,47.2 179.6,47.4 181.6,47.6 183.5,47.7 185.5,47.9 187.4,48.0 189.4,48.1 191.3,48.2 193.3,48.2 195.2,48.3 197.2,48.3 199.1,48.3 201.1,48.3 203.1,48.3 205.0,48.3 207.0,48.3 208.9,48.3" fill="none" stroke="#1a4c9e" stroke-width="1.9"/>
<polyline points="54.5,53.6 56.5,53.6 58.4,53.6 60.4,53.5 62.3,53.5 64.3,53.4 66.2,53.3 68.2,53.3 70.1,53.2 72.1,53.1 74.0,53.1 76.0,53.0 78.0,53.0 79.9,53.0 81.9,53.0 83.8,53.0 85.8,53.0 87.7,53.0 89.7,53.0 91.6,53.0 93.6,53.0 95.5,53.0 97.5,53.0 99.5,53.0 101.4,53.0 103.4,53.1 105.3,53.1 107.3,53.2 109.2,53.3 111.2,53.4 113.1,53.6 115.1,53.7 117.1,53.9 119.0,54.1 121.0,54.4 122.9,54.6 124.9,54.8 126.8,55.1 128.8,55.4 130.7,55.6 132.7,55.9 134.6,56.2 136.6,56.5 138.6,56.8 140.5,57.2 142.5,57.5 144.4,57.8 146.4,58.1 148.3,58.5 150.3,58.8 152.2,59.1 154.2,59.5 156.1,59.8 158.1,60.1 160.1,60.4 162.0,60.7 164.0,61.0 165.9,61.3 167.9,61.6 169.8,61.9 171.8,62.1 173.7,62.4 175.7,62.6 177.6,62.8 179.6,63.0 181.6,63.2 183.5,63.4 185.5,63.5 187.4,63.7 189.4,63.8 191.3,63.9 193.3,63.9 195.2,64.0 197.2,64.0 199.1,64.0 201.1,64.0 203.1,64.0 205.0,64.0 207.0,64.0 208.9,64.0" fill="none" stroke="#1a4c9e" stroke-width="1.9"/>
<polyline points="54.5,64.2 56.5,64.2 58.4,64.2 60.4,64.1 62.3,64.1 64.3,64.0 66.2,63.9 68.2,63.9 70.1,63.8 72.1,63.7 74.0,63.7 76.0,63.6 78.0,63.6 79.9,63.6 81.9,63.6 83.8,63.6 85.8,63.6 87.7,63.6 89.7,63.6 91.6,63.6 93.6,63.6 95.5,63.6 97.5,63.6 99.5,63.6 101.4,63.6 103.4,63.7 105.3,63.7 107.3,63.8 109.2,63.9 111.2,64.0 113.1,64.2 115.1,64.4 117.1,64.5 119.0,64.8 121.0,65.0 122.9,65.2 124.9,65.5 126.8,65.7 128.8,66.0 130.7,66.3 132.7,66.6 134.6,66.9 136.6,67.2 138.6,67.5 140.5,67.8 142.5,68.2 144.4,68.5 146.4,68.8 148.3,69.2 150.3,69.5 152.2,69.8 154.2,70.2 156.1,70.5 158.1,70.8 160.1,71.1 162.0,71.5 164.0,71.8 165.9,72.1 167.9,72.3 169.8,72.6 171.8,72.9 173.7,73.1 175.7,73.4 177.6,73.6 179.6,73.8 181.6,74.0 183.5,74.2 185.5,74.3 187.4,74.5 189.4,74.6 191.3,74.7 193.3,74.7 195.2,74.8 197.2,74.8 199.1,74.8 201.1,74.8 203.1,74.8 205.0,74.8 207.0,74.8 208.9,74.8" fill="none" stroke="#1a4c9e" stroke-width="2.5"/>
<polyline points="54.5,75.8 56.5,75.8 58.4,75.8 60.4,75.7 62.3,75.7 64.3,75.6 66.2,75.5 68.2,75.5 70.1,75.4 72.1,75.3 74.0,75.3 76.0,75.2 78.0,75.2 79.9,75.2 81.9,75.2 83.8,75.2 85.8,75.2 87.7,75.2 89.7,75.2 91.6,75.2 93.6,75.2 95.5,75.2 97.5,75.2 99.5,75.2 101.4,75.2 103.4,75.2 105.3,75.3 107.3,75.4 109.2,75.5 111.2,75.6 113.1,75.8 115.1,75.9 117.1,76.1 119.0,76.3 121.0,76.5 122.9,76.7 124.9,76.9 126.8,77.2 128.8,77.5 130.7,77.7 132.7,78.0 134.6,78.3 136.6,78.6 138.6,78.9 140.5,79.2 142.5,79.5 144.4,79.8 146.4,80.1 148.3,80.4 150.3,80.7 152.2,81.1 154.2,81.4 156.1,81.7 158.1,82.0 160.1,82.3 162.0,82.6 164.0,82.9 165.9,83.1 167.9,83.4 169.8,83.7 171.8,83.9 173.7,84.1 175.7,84.4 177.6,84.6 179.6,84.8 181.6,85.0 183.5,85.1 185.5,85.3 187.4,85.4 189.4,85.5 191.3,85.6 193.3,85.6 195.2,85.7 197.2,85.7 199.1,85.7 201.1,85.7 203.1,85.7 205.0,85.7 207.0,85.7 208.9,85.7" fill="none" stroke="#1a4c9e" stroke-width="1.9"/>
<polyline points="54.5,92.1 56.5,92.1 58.4,92.1 60.4,92.0 62.3,92.0 64.3,91.9 66.2,91.8 68.2,91.8 70.1,91.7 72.1,91.6 74.0,91.6 76.0,91.5 78.0,91.5 79.9,91.5 81.9,91.5 83.8,91.5 85.8,91.5 87.7,91.5 89.7,91.5 91.6,91.5 93.6,91.5 95.5,91.5 97.5,91.5 99.5,91.5 101.4,91.5 103.4,91.6 105.3,91.6 107.3,91.7 109.2,91.8 111.2,92.0 113.1,92.1 115.1,92.3 117.1,92.5 119.0,92.7 121.0,92.9 122.9,93.2 124.9,93.4 126.8,93.7 128.8,94.0 130.7,94.3 132.7,94.6 134.6,94.9 136.6,95.3 138.6,95.6 140.5,95.9 142.5,96.3 144.4,96.6 146.4,97.0 148.3,97.3 150.3,97.7 152.2,98.0 154.2,98.4 156.1,98.7 158.1,99.0 160.1,99.4 162.0,99.7 164.0,100.0 165.9,100.3 167.9,100.6 169.8,100.9 171.8,101.2 173.7,101.5 175.7,101.7 177.6,102.0 179.6,102.2 181.6,102.4 183.5,102.6 185.5,102.7 187.4,102.9 189.4,103.0 191.3,103.1 193.3,103.1 195.2,103.2 197.2,103.2 199.1,103.2 201.1,103.2 203.1,103.2 205.0,103.2 207.0,103.2 208.9,103.2" fill="none" stroke="#1f50a3" stroke-width="3.4" stroke-opacity="0.4"/>
<polyline points="54.5,92.1 56.5,92.1 58.4,92.1 60.4,92.0 62.3,92.0 64.3,91.9 66.2,91.8 68.2,91.8 70.1,91.7 72.1,91.6 74.0,91.6 76.0,91.5 78.0,91.5 79.9,91.5 81.9,91.5 83.8,91.5 85.8,91.5 87.7,91.5 89.7,91.5 91.6,91.5 93.6,91.5 95.5,91.5 97.5,91.5 99.5,91.5 101.4,91.5 103.4,91.6 105.3,91.6 107.3,91.7 109.2,91.8 111.2,92.0 113.1,92.1 115.1,92.3 117.1,92.5 119.0,92.7 121.0,92.9 122.9,93.2 124.9,93.4 126.8,93.7 128.8,94.0 130.7,94.3 132.7,94.6 134.6,94.9 136.6,95.3 138.6,95.6 140.5,95.9 142.5,96.3 144.4,96.6 146.4,97.0 148.3,97.3 150.3,97.7 152.2,98.0 154.2,98.4 156.1,98.7 158.1,99.0 160.1,99.4 162.0,99.7 164.0,100.0 165.9,100.3 167.9,100.6 169.8,100.9 171.8,101.2 173.7,101.5 175.7,101.7 177.6,102.0 179.6,102.2 181.6,102.4 183.5,102.6 185.5,102.7 187.4,102.9 189.4,103.0 191.3,103.1 193.3,103.1 195.2,103.2 197.2,103.2 199.1,103.2 201.1,103.2 203.1,103.2 205.0,103.2 207.0,103.2 208.9,103.2" fill="none" stroke="#1a4c9e" stroke-width="1.9"/>
<line x1="208.9" y1="48.3" x2="208.9" y2="103.2" stroke="#1f50a3" stroke-width="0.8" stroke-opacity="0.25"/>
<polygon points="524.6,48.9 526.6,48.9 528.5,48.8 530.5,48.8 532.4,48.7 534.4,48.6 536.3,48.5 538.3,48.4 540.2,48.3 542.2,48.2 544.1,48.1 546.1,48.1 548.0,48.0 550.0,47.9 551.9,47.9 553.9,47.9 555.9,47.9 557.8,47.9 559.8,47.9 561.7,47.9 563.7,47.9 565.6,47.9 567.6,47.9 569.5,47.9 571.5,47.9 573.4,47.9 575.4,47.9 577.3,48.0 579.3,48.0 581.2,48.1 583.2,48.2 585.2,48.4 587.1,48.5 589.1,48.7 591.0,48.9 593.0,49.2 594.9,49.4 596.9,49.7 598.8,49.9 600.8,50.2 602.7,50.5 604.7,50.9 606.6,51.2 608.6,51.5 610.6,51.8 612.5,52.2 614.5,52.5 616.4,52.9 618.4,53.3 620.3,53.6 622.3,54.0 624.2,54.3 626.2,54.7 628.1,55.0 630.1,55.4 632.0,55.7 634.0,56.1 635.9,56.4 637.9,56.7 639.9,57.0 641.8,57.3 643.8,57.6 645.7,57.8 647.7,58.1 649.6,58.3 651.6,58.5 653.5,58.7 655.5,58.9 657.4,59.0 659.4,59.2 661.3,59.3 663.3,59.3 665.2,59.4 667.2,59.4 669.2,59.4 671.1,59.4 673.1,59.4 675.0,59.4 677.0,59.4 678.9,59.4 678.9,120.6 677.0,120.6 675.0,120.6 673.1,120.6 671.1,120.6 669.2,120.6 667.2,120.6 665.2,120.6 663.3,120.5 661.3,120.4 659.4,120.3 657.4,120.1 655.5,120.0 653.5,119.8 651.6,119.5 649.6,119.3 647.7,119.0 645.7,118.7 643.8,118.3 641.8,118.0 639.9,117.6 637.9,117.3 635.9,116.9 634.0,116.5 632.0,116.1 630.1,115.6 628.1,115.2 626.2,114.8 624.2,114.3 622.3,113.9 620.3,113.5 618.4,113.0 616.4,112.6 614.5,112.1 612.5,111.7 610.6,111.3 608.6,110.9 606.6,110.4 604.7,110.0 602.7,109.7 600.8,109.3 598.8,108.9 596.9,108.6 594.9,108.3 593.0,108.0 591.0,107.7 589.1,107.4 587.1,107.2 585.2,107.0 583.2,106.8 581.2,106.7 579.3,106.6 577.3,106.5 575.4,106.4 573.4,106.4 571.5,106.4 569.5,106.4 567.6,106.4 565.6,106.4 563.7,106.4 561.7,106.4 559.8,106.4 557.8,106.4 555.9,106.4 553.9,106.4 551.9,106.4 550.0,106.5 548.0,106.6 546.1,106.8 544.1,107.0 542.2,107.2 540.2,107.5 538.3,107.7 536.3,108.0 534.4,108.2 532.4,108.4 530.5,108.6 528.5,108.8 526.6,108.9 524.6,108.9" fill="#fbe0dc"/>
<polygon points="524.6,65.2 526.6,65.2 528.5,65.1 530.5,65.1 532.4,65.0 534.4,64.9 536.3,64.8 538.3,64.7 540.2,64.6 542.2,64.5 544.1,64.4 546.1,64.4 548.0,64.3 550.0,64.2 551.9,64.2 553.9,64.2 555.9,64.2 557.8,64.2 559.8,64.2 561.7,64.2 563.7,64.2 565.6,64.2 567.6,64.2 569.5,64.2 571.5,64.2 573.4,64.2 575.4,64.2 577.3,64.3 579.3,64.3 581.2,64.4 583.2,64.6 585.2,64.7 587.1,64.9 589.1,65.1 591.0,65.3 593.0,65.5 594.9,65.8 596.9,66.0 598.8,66.3 600.8,66.6 602.7,67.0 604.7,67.3 606.6,67.6 608.6,68.0 610.6,68.3 612.5,68.7 614.5,69.0 616.4,69.4 618.4,69.8 620.3,70.2 622.3,70.5 624.2,70.9 626.2,71.3 628.1,71.6 630.1,72.0 632.0,72.4 634.0,72.7 635.9,73.0 637.9,73.4 639.9,73.7 641.8,74.0 643.8,74.3 645.7,74.6 647.7,74.8 649.6,75.1 651.6,75.3 653.5,75.5 655.5,75.7 657.4,75.8 659.4,75.9 661.3,76.1 663.3,76.1 665.2,76.2 667.2,76.2 669.2,76.2 671.1,76.2 673.1,76.2 675.0,76.2 677.0,76.2 678.9,76.2 678.9,101.9 677.0,101.9 675.0,101.9 673.1,101.9 671.1,101.9 669.2,101.9 667.2,101.9 665.2,101.9 663.3,101.8 661.3,101.7 659.4,101.6 657.4,101.5 655.5,101.3 653.5,101.1 651.6,100.8 649.6,100.6 647.7,100.3 645.7,100.0 643.8,99.7 641.8,99.4 639.9,99.0 637.9,98.7 635.9,98.3 634.0,97.9 632.0,97.5 630.1,97.1 628.1,96.7 626.2,96.2 624.2,95.8 622.3,95.4 620.3,95.0 618.4,94.5 616.4,94.1 614.5,93.7 612.5,93.2 610.6,92.8 608.6,92.4 606.6,92.0 604.7,91.6 602.7,91.3 600.8,90.9 598.8,90.6 596.9,90.2 594.9,89.9 593.0,89.6 591.0,89.4 589.1,89.1 587.1,88.9 585.2,88.7 583.2,88.5 581.2,88.4 579.3,88.2 577.3,88.2 575.4,88.1 573.4,88.1 571.5,88.1 569.5,88.1 567.6,88.1 565.6,88.1 563.7,88.1 561.7,88.1 559.8,88.1 557.8,88.1 555.9,88.1 553.9,88.1 551.9,88.1 550.0,88.1 548.0,88.2 546.1,88.3 544.1,88.3 542.2,88.4 540.2,88.5 538.3,88.6 536.3,88.7 534.4,88.8 532.4,88.9 530.5,89.0 528.5,89.0 526.6,89.1 524.6,89.1" fill="#f9d4cf"/>
<path transform="translate(.5 .5)" d="m612 57 26 45-16-26-9 7 46 22-124-39 28 17 38-7 11-29-22 36 57 44-50-48 55 15-89-25 18 1 17 3-40-11 93 4-45 11 2 34 11-14-56-13 16-17 59 46-21-34 32 14-38-17-44 0 64-18 2 38-76-23 64-5-63 11 75-21-39 48 37-16 6-22 5 6-12 14-24 13-8-14 1 18-9-53-2-8 58 63-32-31-32-10 9 39 38-16-5 2-53-22 31 28-3-25 8 13-9 42-56-63 73 9 8-20-34 21 31 3 10 2 19 9-64-16-39 38 106-39-62 12 34 8-54-8 43-1 22 15-71-14 94 61-12-57 17 22-20-20-1 25-19-55 17 6-43-3 7 30 43-15-19 22-55-12 47-7 5 8-80-46 74 36-61-10 77-11-74 46 62 5-1-51-12 26 1 5 9-18 36 30-46-18-4 2 16-11-27-4 21 1 37 42-46-31 45 3-44-14-35 1 37-8-42 7 63 36-32-40 19 10-11-11 31 14-46 5 19 8 7-7-3-16-40 16 25-19-5 26-9-11 68-7-102 8 71 31-27 1 4-37-36-6 73 37 15-42-48 5 21 18-32 2 18 6-30-16 26 7 50-1-64-30-15 23 58-22 11 27-78 3 30-14 2-10-35 18 54-9-34-6-11 10 0-6 76 20-25 1 9 12-51-13 7-38 42 20-50 2-4 4 56 19-3-33 6 25-84-23-17 13 59 0 21 4 9-23-39 20-47-21 113 18-16 11-26-35 0-2 15 33 9-12-28 21 10-25-3 19 20-9-30-6-66-14 99 31-13 3 20-2-12 2-25 9-66-26 102-8-38 11-33 14 59-2-26-9 5 19-5-26-58 8 116 13-42-16-55-3 102 7-20-19-37 51-60-13 80-8-12-2-33-43 26 36 25-5-31-18-18 40-3-9 27-6 6 11-7-13-21-33 28 38 21-30-72 20 100 9-54-8-46 15 21-8-3-11 6-24 9-2 37 12-41 20 43-12-5-5-82 8 96-7-49 9-15 19 65 4-25-26-16-10 7 30 12-20-16 6-39-6 40 39-15-16-56-20 69 1 12-6-89 19 28-3 69-7-23 15 41-16 9 15-63 0 32-1 11 4-66-25 67 21-17 10 16-6 9-1-67 6 54-27-30 10 18 10 17-11-75-1 77 1-59-20 68 40-8-41-82 26 56-26 3 1-42 8-3-5 42 5 27 25-25-11-23-2 56 18-54-44-18 6 81 30-79-23 73-2-6 31-46-23-25-18 33 26-63 0 16 1 89 13-91-37 97 57-44-31 19-2-47 7-51-35 70 21 47-12-66 24 15-15 19 9-32 19-6-18 7-24 44 15-6 4 6 13 14-2 6-2-19-16-6 16-46-3 57 5-31-14-63-4 55 25-12 6 1-42 44 10 15 15-34-10 6 9-56-6 24-28 30 15-40 1 77 39 0-19-29-10-10-13-10 23-34 2 75-3-12-29-67-4 51 24 8 2-59-10 29-20-3 22-1 6-6-11 23 14-4-5-34 3 34-6-28-20 63 4 4 13-27 7 21-15-84-7 115 30-25 13-6-10-16 5-26-9-3-21 37 44-65-37 21-2 37 10-31 1 27-11 6-11 38 17-53 23 40-19-50 14 22-2 13 3-20-37-3 9 9-11-84 28 5 10 83-9 20-4-7-22-12 20 20 13-67-35 49 38-6-2 13-20-58 30 11-16-18-12 2 21 64 12-33-63 32 38 9 4-31-37 11 21-78-2 77 25 11-17-82 15 0-22 31 18 48-16 17 28-32-22 8 28-56-28 32-18-7 33 55-17-18 25-9-25-2 35-27-13 27-14 39-19-42 34-6 4-21-36 34 26-66-26 47 31-43-36 55 11 7-8-49 13 67 6-8 22-58-15 42 6 22-17 1-7-41 39-45-32 29-15-32 7 36 1 13 11-50-33 95 47-62-44 68 29 12-25-27 38-85-30 33-6-7 18 32-24 39-2-14 35-20-21-59-7 3 28-11-11 40 2-58-8 66-3 72 9-42 2-14-14-8-7 15 26 14-2-11 21 6-21-29-9 29 15-26-32-9 27-18-18 2 2 86 40-33-21-5 13-77-18 27-4 20-21 9 23-62 0 59-7-14 14 15-7 40-4-49 1 23-9 3 23-80 14 126-13-66-14 22 9 15-23-41 29 45-19-15-5 30 25-73-6-41-31 78 62 16-55-26 3 23 53-9-26-78-31 98 27-12 1 31-12-45 4 4 5-72-1 5-31 74 38 7 10-35-31 26 5-8 14-20-33 1 21 50 30-42-51 1 25 4 22 25 8 5-23-21-16-53-8 59 17-89-9 77 15 8-13 10 15-23-3 29-41 12 75-21-45 2 35-62-26-28 3 104-1-102-2 76 9-62-13 68 9 21-1-73-17 22-6 14 28-6-46-34 21 19 33 54 3-17-12-57-41 31 46 17-21 34 10-12 12 31-13-34-25 4 40-74 28 66-42 12 4 6-23-37 22 14-28-14 28 36 6-5-18-3-9-40 6 29-3-48 3 79 25-30-31 11 12-18 15 8 20 21-20-16-23-8 34-26-47 40 14-33 9-69-9 93 8-41-2 41 10 14-23-45 6-31 2 73 17-39 0-22-17 65 18-40-34 27 41-7-26-5 9-76-16 66-5-67 23 87 3-8-25-30 45-3-49 51 3-107 25 45-2 13-25-58 13 44-10 58 30-39-28 18 33-13-17" fill="none" stroke="none" style="marker:url(#m3)"/>
<path transform="translate(.5 .5)" d="m636 71-6 8 20-11-44 5-29-1 20 21 4-6-37-36 38 38-16 11 14-23 13-16-46 45 74-35-89 1 26-22-18 21 32 40 41-39-45 3 65-9-57 20 37 20-90-52 67 18 20 11-42 38 9-27 24-36 35 24-35-4-5 20 23-44-9 23-47 17 33-8 9 21-70-33 95 1-57 24 22-4 12-18 2 0-9 5-12-9 44 10-52-16 42 14-13 3-39-18 27 35-17-27-8 30 20-16 20 3 4 6-4 11-1-33 6 10-2 11-15 2 23-43-42 3 50 0-29 19-11 2 14-19-27 5-15 9 33 13-58-21 55-3 14 20-50-2 88 5-56-22-2 30-17-18 29-12-47 0 19 29 11-25-29 0 37 11-33 30 44-32 13 3-80-3 9 9 81 3-74 14 45-37-4 8-6-24 5 10-6 14-24-9-36 22 92-17-30 9 25-1-12-3 37-2-110-4 81 30-51-23-1 1 2 3 44-22 7 21 9 4-21 21-63-2 60-31-22-10 36 38-6-35 28 23-19 3 29-2-29-14-41-4 43 28-103-8 46-9 19 14 29 8-17-19-2-39 30 55 0-22 31 33-57 0 49 16-37-26 9-20-23-18-5 30 29 8-31-14-41-17 26-1-13 29 43-13-8-7-60-21-6 52 98-29-61-12 29 13 39 8 1-4-21-10-14 17 47-15-22 28-60-33-15-8 5 20 73 13-81-17 76 5 33-12-76 23-13-32 10 9 35 8-11 1 11 57-8-67 30 47-69-40 19-5 17-17 18 18-25 23-4-17-45 33 62-22 28-10-31 14 3-7-11-9 45 44-21-27-42-42 8 28 37-11-22 63-3-51-19-9 52-19 9 30-24 17 17 5-33-19-45 0 71 11 10 10 4-12-60-7 29 0-39-19-1-15 26 12-3 15 44-9-7 10-17 10 18-2 4-15 0 15-22 5 6 16-32 9-12-75-13 51 43-17 47 3-95-11 82 5-14 2-17-3-36-21 81 54-86-47 48 38 13 10-76-39 67 24 25 13-72-33 40-7 39 24-71-13 52 14 2 9-100-32 92-5-35 32-35-23-14-31 108 41 7 27-80-33 20 32-10-7 24-20-7 5 20-14-13-5 4 18 15-12-58-1 48-7-88 6 98 4-15-12-12 68 7-6-29-64 1 25 19-19-47 23-28-15 81 7-13-19 26 28-17-23 13-8-12-2-4 33 44-16-47 15-28-4 24-19 24 47-7-41 29-9-52 6-4-10 8 27 13 4 18-10-33-15-7 34 18-28 0 9-67 14 59-58 33 58-55-17 10 3 27-4 30 14-69-19 68-14-1 28-16 11-14-41 17 37 27 5-112-25 63-3 36 58-61-59-44-10 72-7-14 29 7 4-12 3 46-1 25 0-46-31 3 6 27 21-28-35 6 29-25 39 33-48-29 53-4-70 26 36 18 8-3-8-1-12-9-2-50 1 46-10-21 12 38 14-29-9 8-13-29 1 47 49-85-26 91-10-35-17-32-26 14 17-3 29-15 1 31 11 20-18 5 2-22 2-24 2 37-19-41 24 20-35 31 9 12 35-30-3-31-12 7 4 27-10-33-22 9 8 11 1-26-2 54 1-27 11 2-10-10 1 10 27 20-20-95-6 84 9-3 23-10-28 39 7 6 13-11-7-56-11-38-4 20-9 62 36 8-34-33 42 10-23-1-6 15 42-27-31 64-11-39 19-43-15 50 13-44 0-1-9 34-3-36-25 66 43-31 7 0 2-83-10 97-7 13 12-1-18-8-15-63 2 26-6-2 25 19-28-46 4-29-12 90 14-71-12 74 34-15-19-12 18 37 15-31-22 5-13-2 13 4 35 21-20-89-9 65 8 33-36-16 27-36 10-17-18-21-16 36 1-48 18 63 8-9-12 7-6-27 27-1-31 9 5 73-17-17 10-36 29 4-20-47-14 85 21-47-10-21-3 37 14-41-20 75 29-34-23-5 12-10-5-14 20 18-37-30 20 26-1 42-13 3 39-109-26 52 28 29-42-22-7-5 24-59 2 47-25 15 18 24-6-39-3-24-8 87 12-24 10-70 27 40-17 53-14-6 14-39-32 3 42-44-37-9 14 62-14-23-9 37 18 14 5-9 2-36-9 46 6-3-18-15 25-17-3-9 17 17-39 12 22 0-1-54 12 17-14 15 11 45-29-61 0 47 14-48 3 1-18 29 32 3-15-41 14 12-13-15 11-13-7 48 8 22-8-4-2-83-1 66-14-27 13-41 12 85-22-37 5 56 18-47 7 39 5 6 9-19-7 7 25-35-4 31-39-56 0-21-7 76-3 3-8-36 7 25-4-9 37-13-70 47 43-14 11-34-10 15 23 23-2-35-8 14-28 1 45 30-6-44-29 18 1 33 16-42 8 3-38-34 10 46 23 11-4 14-10-22 11-72-26 35-5 67 31-60 32 34-39-23-2-27-15 52 7 20-17-19 44 0-26-63 15-16-22 7 17 48-17 25 25-96-44 107 26-20 2-10-8-59 10 33-14 53 37-36-48 29 58-18-19-22-49 39 56-14-28 26 17 4 13-75-39 59-21-6 26-7 1-66-17 77 24-34-11-29-7 12 33 53-18-8 24-5-20 10-10-18-2-76 21 13-20-4-1 97 20-9-17-69 10 74 3-19-3 12 37 23-31-61-4-59-6 105 21-38-9-55-23 67 18-67 12 38-18-1-21-37 0-16 35 113-4" fill="none" stroke="none" style="marker:url(#m3)"/>
<path transform="translate(.5 .5)" d="m621 73-37 9-48-20 15 14 96-10-19 6-78 4-1 8 94 19-27 15-9-31-54-27 84 30-51 9 46-18-35 11 41 12-61-27 22-3-14 1-32 11 72-11-40-12 46 45-54-17 43-13-82 12 87-8 10 8-74-3 69-3-82-10 95 33-74-25-18 3 61-12 33-14-30 40 27-23-47 35 4-40 26 13 0 19-32-19 19 4-47-7 78 42-20-77-38 37 53-5-33-31-48 38 89 10-66-10 26-16 19-6-10 21-23 22 7-50 38 27-34 6-11-17 17-3-21-3 53 7-19 7-14 5-20-7 60 22-102-14 28-14-16 21-15-11 78-14 39 46-47-44 34 28-17-34-69 29 58 2-3-4-78-26-8 10 99 18-16-3 33 34-75-49 2 8-15-1 70 49 19-29-50-25 7 18 3-14 47 19-33-14-54-6 35-2 51 13-9-5-17 9-45-15 51-9-36-9-28 8 58 14-3-24 36 40-15-6-46-22-30 17 39 14-40-63 64 52-45-16 50-3-5 30-8-37-20 19 37 8-36-14 7 20 6-32 7 18 12 2-81 15 62-21-88 8 36 6-8 17 68-27-45-18 22 8-18 29-7-40-10 1 56 22 41 19-25 2-74-11-16-47 30 33 43-15 0 58-64-16 74 4-75-40 41 7 24 29-64-38 24 12 8-26 29 17 5 12-12-21 38 6-53 12 31 24 12-19-14 9 6-16-82-5 95 25-7-7 14-9-72 0 65 32-1-22-29-9 20-5 2 10-55-2 23 27 46-1-24-27-92-20 67 15-25 13-10-18 101 4-49 1 13-1-93 18 56-24-41 1 60-9 17 20 2 0 3-12-1 10-3 11 0-6-25-17 52 24-77-31-21 14 78 16-56-9 33-8-18 11 43 2-5-8 21 11-49-16-7 10-50-6 41-11-22 3 38-18 35 37 5 5 6-1-108-25 61-2-27 16 79 4-29-30-24 3-39 3 31 10 8 16 55-12-54 5 27-7-8-16-63 25 25-7 47 1-67-2 11-20 61 39-34-12-26-24 20 3 4 26 12-24-34-1 31 30 27-18-59 3 35 13 15-18-36-6 67 52-84-48-23-6 43 18-22 9 54-37-39-24 63 58-30-22-8 5-34 14 39-20 13 16-11-20-71 15-2-16 78 37-37-33 53 18-43-32 2 21-3 27 30 3-12-45 10 29-25-23 48-30-88 30 52 36 40-29-4 12-66-15 47 12-18-14-69-16 26 19 55 34 0-43 30 37-5 0-7-13-37-35 8 32-2 17 12-4-50-30 50 13-38-20 4 24 16-22-3 32 29-12-21 11-28-2 24-7-13 13 66-21-49 30-1-31-15 20-21-6 46 3-53-14 18-3-1 30 10-8 12-9 1 3-2-30 11 4 6 34-7-29 8 40-46-13 54-19 17-5-26 40 1-40-27 7 30 8-32-12 53 23-39-16-29-7 23-8 47 20-30-23-25 0 43 3-25-10-14 15-18-9-38 10 28-8 68 28-59 0 24-5-3-20-47-8 40 11 12 7 39-4-78 8 66-9-28-12 0 25 9-19-10-14 49 52-95-27-11-15 69 45-70-25 95-16-42-11 26 22-4 20 3-10-24-34 27 19-5 23-50-16 40-10 36 0-75-9 64 28 10 4-64-19 0 17 18-8-49-18 49-7-41 24 78 22-65-26 17 4 33 53-32-62 10-6-14 1 15 12-20-9 43-21 30 43-53-30 59 20-84-10 44 11 23 28 13-43-44 12 1-5-57-19 43 15-40 5 99-1-103-26 2 22 15 8 50-25-29 17-11 25 67-13-39 1-37-1 63 26-22-43-2 42 32-37-66 16 32-12 15 16-3-3-2-25 18 20-60-5 18-26 44 12-6 19-11-14 33 13-61-30 26-5-34 55 0-16 44-40 1 36-15-13-49-3 18 20 68-8-39-1 35 8-86-4 79-7-11 17-104-12 57 8 2-26 16 27 14 6 31-22-54 12 49 13-21-15 4-26 29 59-30-27 24 7-64-33 53 91-61-77 28 53 32-37-22-16 19 40-20-17-83-24 68 19-47-19 97 25-29-22-23 50 12-53-11 36 29-26 25 11-55-13 10-7-16 5-14-7 41 12-18 14 23-29-9-27-20 34 44 16-34-27 34 25 9 6-59-7 1-29 57 24-59-17 10-10 13 21-73-7-3 48 77-25 23-20-16-3 14 13-42-21 48 28-7-33-28-2-20 1 30 41-36-50 11 37 5-12 42-21-26 25-7-26-10 23 1-8 40 33 18-23-15 15-68-21 63 14-17-15-2 29-53-27 79 6-42 8-18-19 31-1 9-12-14 5 30 19 2 6-48-40 45 57 15-28-36-4-22 10 54 30-39-45 46 2-49 11 48-11-93 7 50 6 32 20-58-44-22 6 51 25-52-9 54-4 4-4-9 4 12-1 12-4 20 16-20 6-6-17-30 6-2-2 5 7 10-8-16 7 48-15-35 14-16-3 15 28-38-69-7 47 98-13-63-8 11 27 1 0 1-19 2-5 17 12 36 38-113-19 94-9-21 0-91 0 89-11-74 17 31-19 48-11-5 52-8-50-65-4 60 20-69-11 81-8-9 40-29-28 31 15-61-33 67 28-10-40-7 17 1 44 38-47-43 13 15 29-10-38-39 8 33 4 19 40-66-44 102 13-103-18-11 12 115 20-23-29-83-1 72 8 10 0-85-13 71 7 33 5-105 30" fill="none" stroke="none" style="marker:url(#m3)"/>
<path transform="translate(.5 .5)" d="m565 59 33 14-47-10 37 13 63 16-36 28-3-40-10-16 26 38-42 8 25-21-18-12-8 6 23 9-50-20 6 2 84 40-24-41 27 4-60 40 47-30-25 6-70-40 72 28 38 15-47-3 8-22 22 6-77 4 84 26-76-26 0 0 43-3 2 17 9-5-60-8 98 0-50-10 36 20-18 1-15 3 4-36-38 25 53-12 4-10-25 28-15-14 4 15-15-12-3-11 34-6-21 60 57-26-26-31 0 37-47-31 9 4 12 16-19-10 3 5 48 6 24 31-29-6-48-56 56 24-62 2 54-17-24-7 17 37-39 14 14-39 17 17 17 1-84-15 84-8 0 56 20 32-57-76 7 14-8-21-19-4 37 2-50 0-5 6 28-4-20 10 104 10-2 25-66-36-43-13 98 1-92-4 25 28 17-6 31-15-25 1 15-3 20 13-25-15-57 9-13-24 79 14-17 71 15-43 3-14-34-16 45 12-55-8 23-7 11 15-83 5 85-21 28 12-47 39-45-48 53 10 31 11-16-11-78 17 87-14 7 3-54 0 30 2-4-19 5 26 3-12 2-7 25-15-31 14 8 10 22 13-21-7-19-8 14-21 30 13-28 4 24 7 7-2-16-10 15 29-62-23 53-22-58 22-1-11 43 8 8 29-87-5 74-10-3-19 2 28 4 8 23-32-21 13 13 57 26-56-59 10 17 9 6-19-58-26 51 17-45-14 52 37-37-43 32 7 24-1-8 33 0-6-110-12 87 9-28-9 56 16-39 7 22-31 12 8-38 31-25-37 70 9-26 11-66-12-25-6 96 27-47-33 9 19 40-1-58-22 52 27-16-23 37-16-44 2-15 19 34 23 6-30-36-13 16 9 35 15-53 0 27-11 24 8-60 22 24-12 28 16-13-17 5-17-81 3 80 8 1-10 23 13 2-1-1 4-76-4-9-2 52-21-4 32 14-6-59-7-14-16 28 22-11-27 25 16 60 17-19-13-32 12 17 5-12-20 30 25-48-7-9-2 66 23-40 9 29-39-40 2 16 2-3-12-6-17 21 32-77 19 15-36 84 5-80-21 67 7-19 3 4 10-26-4-49 6 58-18 15 15 26 5 23-8-8 16-7 12-31-5-4-11-34-6 60 15-1-7-45 5-1-6-36 8 78-5-63-5 72 24 7-23-37 2 28-28-7 34 11-5 17 16-107-37 85 44-43-27 59-7-10 0 13 2 2 35-50-49 30-3-40 35 13 1 35-4-38-7 31 4-5 13-76-17 73 23-85-48 64 14-37-18-3 30 36 28-33-27 24 21 35-9-44-30 4 52-21-47 67 10-9 0-59-10 24 11-22-1 3-3 53-29 9 57-7-20-43-33 71 33-47-32 4 51 2-35-43 51 30-32-50-5 68 21-38-45 5 36 8-29 34 45 20-8-38-17 31-1-108-1 86 0-77-40 76 65 23-56-3 1-108 19 67-6 22 1 6 1-39-10 42 19-19 1-22-1-3 6 43-10-79 0-16-9 26 30 91-5-60-18 52 23-59-33-27 24 45-26 14 12-14 7 1-1 34 17-109-32 101 35-47-39 14 30 26-14-68 16 27-42 25 36 11-12-47 12 17-9-47-1 79 8-16-1 6-7-49 6 15-31-12 60 47-46-20 8 55 6-32-17-44 6 61-4-52-11 34 23-10 1-28 6-35-5 17-16 85 17 5 15-74-33 34 29 34 9-90-23 72-2 30 3-34 14 43 7 0-22-38 0 17 11-13-14-29-25 21 16-54 13 5-6 32-5 21-7-27 57 50-50-74 1 37 28 24-7 28 2-81 5 18-14-2-2 34 11-30-13 43-10-113 22 58-10 43-7-22 5-44 1 40 11-55-23 51 20-57-23 86 3-52-10 15-2-32 35 33-32 57 24 13 18-75-19 37-7-26 20-50-25 86 18-1-6 0 21-60-18 75-28-71 21 8 30 23 26 42-26 2-16-27-13 0 10-15-19-55-15 25 29 32 4 41 16-1-23-23 10-33 11 21-44-63-3 45 16-9-5-15-15-47 40 113-9-61-12 39 19 3-30 4 40-52-40-19 33 29-15 42 5-84 1 89-5 13 15-45-22-5 16 54 1-53 0 30-1 3 18 15 9-65-28 33 6 17 37-6-55 9 37-3-29-20 20-82-46 57 5 43 23-63-33 77 30-25 7-18 9-64 0 36-30 47 8 37-10-42 25-5-28-31 44 18-21-31-11 71 6-77-1 3-19 3 60 63-41-64 11 40-9 44 4-47-28 25 21-21-4-10 12-31-14 62 26 39 1-51-30 15 35-20-26-44-2 35-20 18 40-29-29-53 6 85 9-10-18 36-3-94 23 21 9 76 8-71-20 4-7 35-16-21-5-54 25 62 27-42-22 68 9-15-1-38 8 2-8 42-20 9 17-7-18 16 26 1-6-21-16 22 25-105-10 98-10-22-8 3 12 18 17-61-24 27 25-19 3 30-19-78-17 73 56 8-21 36-29-54 20 16-11 8 1 0 8 2-25-9 29 17-8-95 4 98-8-29 16 9-37-48 18 62-1-49-19 44 7-11 23-47-14 68 17-51-2 13-7-11 23 12-52-39 35 21-24-6 13 56-6 18-22 12 74-15-66-23 33-16-9-3-12 39 12-8 4 3-14-44-3 12 5-23 11 33-17-28 13 22 12-21-32 43-15-22 19 40-4-22 24 14 6-92-29 56 7-25 2 47 12" fill="none" stroke="none" style="marker:url(#m3)"/>
<path transform="translate(.5 .5)" d="m640 79-36-1-38-17-20 18 98 4-8 38-13 11-21-42-52-8 82-1-12-5-4-10-15 19-12-16 25 27 33 13-90-25 67-25-56 50 76-13-24-5 3-20-13 13-8-5-40-15 82 30-5-28-16 20-2-9 0-28 1 56 0-21 28-13-35 2 0-9-14 0-22 19 13-6 53 39-92-42 68 37 26-38-55 6 54 7-22-7-32 4 0 7 44 17 20-7-87-13 1-14 59 25 16-24-43-10 23-2-31 1 10 7 18 5-21-8-37 31 38-42 22 7 14 34 10 1-13-5 31-2-37-18-34-5 23 42-47-45 55 25 21-4-42 8 13-9 21-8-23-6 23 25-24-8-36 19-17-39 69 6-24-7-43 18 86-16-50 15-9 2 51-7 10 15-50-5-2-31-18 19 19 21 9-12 13-1 19 7-48-21 19 23-42-29 36 42 36-4-60-16 58-16-44 11 48-11-24 13-67-3 46-1-9 3 36-1-68 38 95-28-65 2 30-24 22 2-93 29 21-52 40 39-10 9 17 2 26-18 8-7-7 17-68-36 70 26-48-18-14 8 49 31-19-17-1-2-37-27-34 39 72-38 24 12-22 10-82-3 102 37-46-45 41 22 18 22 1-36-22 0 6 12-1-24-103 20 57 10 52 3-42-41 6 18-16-18 34 19-5 6 38-1-22 6-12 5 6 5-31-30 7-24-26 31 55 12-8 6-64-23-10-11 26 33-2-29 7 42 59-5-5 73-17-57 6 1 3-34 34 10-93-12-33 6 102 2 15-36-17 14-28 17 57 19-61-44 40 70-83-60-18-3 69 20-30-32 41 37-1-10-19-9 4 3 22 6-24 11-39-2 11 7 28-45 22 61-20-6 59 6-21-16-43-22 8 23 25-18 8 10-9-2-48-6 59-6 16 24-10-13-59-14-2 25 63-1-28-16 3-32-42 14 64 2-19 2 0 26-37-30 43 54-41-37-10-2 59 4-16-16-85 12 110 18-12 2-19-9 41-4-53-14-68 6 91-17-26 11-21-9 57 34-14-6-32 30-26-35 75-7-21 2-33 14 3-46-53 29 117 5-67 3 14-3 30-13 0 51-45-35 36 5 16 39-18-41 16-13 19 14-76-27 28 24-12-18 45 20 9 3-23-17-87 19 90-9-12 27 30-10-87-6 10-17 85 14-92-27 54 20-8-4 52 25-44-30 28 15-26-3-46-19 44 32 16-18-24 28-12-41 10 20-25-33 53 23-34-8 63 14-74 4 32-14 6-17-58 27 41 4 40-10-9 9-68 12 37-19 19-3-1-7-52 4 45 11-8 3-58-4 44 0 17 6-52-34 71 51-11-25-26-7-37 26 41-12 46 4-29 11 6-9-65-9 37 4-10-1-4-18-53 16 121 15-99-28 69 19-15 3 3-34-35 33 27 12 20-25 14-10 28 32-81-23 47-4 9 2-100-5 50 9 18-15 18 8-7-13-6 12-34-20 36 27 8-13-87 27 63-6 8 12 26-8 1 9-68-17 57 18 12-37-27 18 28-1 20 37-54-61 61 25-42 22-33-33 63 10-18 6-102 18 51-23 67 5-8 8 11 15-59-46 34 16-19-13 26 49-68-56 38 15-59-6 36-7-18-1 73 40-18-26 11-26 24 19-92 21 18-24 43 24-20-20-5 11 1-35-54 40 74 25 2-41-26 5-39 7 12 3 72 21-11-22-54 17 19-22 27 14 20 8-54-40 60 58-80-57 49 38 0-13-46 13 65-10-51-9-41 13 83-1-23-26 37 25-20 8-1-31 28 28-40-4-22-15 46 12-33-18-42-18 57 28 1-23 49 16-113 1 84 10-19-7 16 15 13-3 4 2 0-8-15 5 12-17-30 8 15 19 6 0-7-37-35 15 23-21-20 3 41 51-3-21-45-1-53-11 99 7-12-7-52-10 24-5-5 11 3 28 29-52-64 44 73-15-38 14 35-20-31 23 27-30-38 9 19 4-6 6 40-23-84-6 58 29-2-31 18 42-13-2-53-20 72 23 0-29-50 24 24-32-2 30-59-10 57 17 46-14 14 9-28-16-38 8-35-5 64 13-92-16 48 0 55 24-37 31-53-56 56 15 0-13-15 15 26-6 13 0 28 9-19-21-31-1-34-33 65 59-17-43-18 23 36 7-57 5 8-29 48 17-7 7 21-14-30 0-13 32-15-32-6-1 64 3-41 12 14-12 14-5-37 19-19-5 59-8-37-12 34-3-18 9 38-8-64 41 56 8-39-11 12-32 9 15-11 8-8-12-8-18-15 27 3-24 9-3-63 4 68-2-6 23 14 15-27-16 54-3-13-1 12 10-26-19-5 43-31-10 35-8-54-29 43 27 39 9-87-51-12 31 93-4-27-8 4 39-56-34 64-12-50 11 66-10-45 26 8-6-1-25 25 44 18 8-90-35 13-16 10 28-29-8 73 9 6-12 9 17-41-37 4-8 31 43-68-12 53-10 17-1-29-28 22 51 20-16-48 20 9-13 47-15-22 13-18 5 14-3-22-3 43 2-63 1 67-21-22 34-37-5 62 4-52-44 16 31-13 14 43 37-28-54-31-26 53 31 15 11 5-9-44-6-36-9 59 28-32-47-29 16-20 6 37 32-26-49 82 29-11 9-25-5-69-21 70 32 46-31-40 11-80 13 104-24-89-4 37 33 19-9-61-27 105 19-84-29 48 12-50 1 19-15-36 30 4 21" fill="none" stroke="none" style="marker:url(#m3)"/>
<path transform="translate(.5 .5)" d="m627 80 4 25-20-36-40 4 20 7 9 4-65-4 85-8 9 7 4 27-49-32 58 3 19 20-74 2 19-20 36 9 0 36-24-49 25 22-58-16 46 17-11-7-30-23 8-4 32 30 37-11-137 17 33 3 47-50 44 28-79-7 54-12 14-2-11 33-70-18 23 20-25-27 63 13 20 19-28-20 26 21-6-37 15 33-17-25-81-13 58 14 46 46-16-21-49-7 17-36 19 26 21 11-34-6 44 2-55 7 16-15-79-12 59 16-23-5 55 7 14-19-16 1-7 21 16-38-3 52-53-21-24 15 65-8 22-3-51-16 5 26-18-17 60 12-28-20 2 4-14 3-27-25 31 50-39-48 20 10 14 22 18 2-8-13 8 18 36-23-56 12-2-1 28 15 0-19 24 6-3-21-9 28 18-7-66-17 40 17-29-13 35 1-21 2-24-6-44 11 23 28 65 3-10-16 32 8-28-16-30-13-25 5 70 23-36-10-23 2 61-5-36 2-24 2 23-37-46 8 74 40-28-33 44 11-50 12 41-5-6-24-21 0 52 38-121-30 91 29-26-41 37 35-16-9-46-33-7 21 57-6-13 24 33-5-41 5-12-18-30 26 50 0-22 0 23 12-31-22 57 29-47-47 27 68 14-63-9 4-25 14-75 20 36-18 23-12 29 5 22 9-47-11 18-16-2 5-2-8 10 12-76-12 97 5-44-9-63 25 21-21 101 37-55 15 12-26-40 14 57-52-21 12-20 15 28 17 17-27-10 21-8-11 30 18-11 6-38-18-57-27 102 14-37 0 35 20-10-15 24 9-62-11-27-15 87 19 3 12-15-26-1-11-67 21 68 16-39-23 23-2 12 18-19-13 0 21 33 0-14-14 30 56-35-64-19-3-9-6 21 7-20 4 45 9-15 10 23-13-19-14 4-2-33-6 12 10-52-2 72 35-78-15 81 1 3 10-56-42 39 19-20 1 43-14 6 45-94-33 67 2-1 23-18-9 5 5 23-37-83-13 32 31 0 3-5 6 62-21-14 21-57 18 31-1 13-22-59-5 59 26-72-54 68 5 5 36-41-7 24-31 9 30-21-24 53 12-32 33 3-1-7 14 16-64-27 24 32 4-1-10-29 30-32 3 96-25 0 42-26-31-71-7 28-12-15 16 47-19 23-11-4 31-81-21 75 27-29-22-81 18 41-37 22 42 34-8-61 0 70-3-20 12-21-5-51-16 86 2 8-1-49 19-43-20 51 13 35-2 25-11-83 13 91-13-20 7-34-5-38 18 23-19-38 6 66 25 17-27-30 16-1 14-21-33 27 29 34-37-58-9 40 31 3-9-19-21-2 12-43 5 73 47-45-54 23 21-10-27-24 13 10-2 24 2-70-5 6 24-27-30 103 9-71-18 72 72-22-30-33-43-1 17 37 17 11-6-60 3 4-1 30-1-35 15 9-27 53 9-70-8-24-7 122 14-22 26 11 19-12-55-29 2 33 1-32-2 13-43-14 55 22 16 18-37-17 47 21-29-61 10 0-3-17-18 86 44-38-30-23-16 21 34 37-17 4 25-10-9-17-23-35-1 67-3-50 43 40-29 1-1-51 0 44 5-32-14 41 6-3 0-61 14 1-14 52 20-7 9-2-40-10 14-26 4 48 5 3-23-44 33 33-8-8 1 8-20-16 6-56-10 13-27 30 27-17 2 11 2 0-4 10 3 5 36-43-24 35-15-27 29 71-2-17-16-52 13 17-4 13-24-63-10 102 39-4-2-66-37 55 10-54 4 16 29 9-28-35-9-26 68 19-104 42 52-68-20 2 24 18 1 37-4 52 13-56-33 33 4-85 21 103 9-29-33-11 22-30-28 57 18-86-4 28-19 57 50-93-18 88 6-75 3 45-22 13 15-19-32 24 33 18-19 9 18-5 1 7 14-3-2-31-12-39-1 43 10-48-34 25 12 29 29-80-35 73 16 3-23-32 21 38-5-23 7 43-15-45 0 4 62 62-32-43-2 13-24 11 25 18-13-47-3-17-13 26 16-24-21-19 1 42 28-75-26 84-8 8 27-45-8 36 16-12-25 12-1-67 8 67 6 14-9-58 6-48-6 97 19 14-11-47-6-22-1 14-25-55 45 70-23-11-11-10 12 2 5 14-1 6-9 5 22-76 41 98-45-26 17 36-21-68-34-48 27 89 28 35-1-30-6 1-12-6-12 7 20-19 2-12-13-24 4 50-33-48 28 3 12 36 1 14-8-38-13 29 4-8-3-31 9-27-3 47 17-33-30 24-10-55 28 119 26-83-40 14 1-2 6 23-5 58 25-56-22-49 23 75-33-15 15-3-11 21-3 7 9-19 8-39-9-23 3 3-20-8-1 39 48-3-12 1-3 5 12-9-35 15 8 12-7-75 17 45-13 58 17-102-31 32 38 16-31-37 25 12-21 21-20 24 16-34 24 17-28-52 32 55-5 46 26-53-29-25-49 63 49-29-6 9-14 33 41-30-17-72-20 71 22-32-6 3 11 54 14-2-24-11 0 19-17-85 15-16-5 66 1-43-8 76 29-11-21-27 23 16-12 10-10-43 12 34 3-21-45 16 25-30 3-7-6-23-4 73 1-17 23-10 24 0-27 11-21 2 12 24 52-21-64-22 15 37 24-2-33-9 13-17-8 31 19-25-17 18 16-3 1 8-24-40 3-22-21 66 38-83-44 57 56 13-40-3 33 32-13-67-16-1 2" fill="none" stroke="none" style="marker:url(#m3)"/>
<path transform="translate(.5 .5)" d="m545 87 36 3 60-6-75-5 102 3-135-2 73-20-44 19 46-4 9 32-28-35 39 45-7-13 29-3 5-32-20 2-14 27 22-32-17 11-71-3 45 83-31-78-22-14 108 20-75-7 22-1-7-7 54 31-42-29 15 6-19-15 12 18 29 13 6 16-87-18 76-17-45-7 64 17-104 1 75 9-18 4-9 18 22-37-75-9 101 27-50-18 8-19 8 19-55 10 52-8-58-5 40-1-55 15 63 4 56 13-9-7-9-24-1 28-12 5-37-38 0 28 24-26-9 6 0 13 27-9 25 12-33-18-19 32 11-1-78-71 86 29-12 36-7-15 20 0-65-12 81 9-14 7-47-24 12 38-13-39 49 52 28-4-27-20-14-9 14-13-31 22 58-6-41-6-11 13 6-4-59-20 77-3-63 17 54 15 7-30-31 33-33-24 54-16-32 7-1 5 40 24-12-32-17 8 66 27-12 0 14-1-23-15 0 1 0-7-52 22-7-20 12-23-17 35 52 1-23-35 41 67-27-57 22 53-65-48 22 16 34-26-13 10-6 14 38 17-105-23 28-7-16 1 49 15-5 10-19-35 54 21-12-11-64 2-10-9 74 5-9 14-43-13 58 13-40-7 42-10 1 26 3-14-32 2 40-2-48 0-48-30 116 28-29 24 5-16-13-13-46 28 37-20-47 6 73-1-41 14 5-31-71 4 85-5-8 5 30-6-50 2-6 26 26-12 36-14-18 15-92-27 11 29 83 35-3-35-81-9 30 16 22-58-24 55 35-17 55 17-30-6-59-13 43 25 5-27 11 1-78 46 89-22-2 8-8-22-56-17 63 26-42-2 25-16-23 1-30 30-11-25 50-10 17 20-64-35 90 41-79-27 44 1-60-1 83-8-36 0-42 23 80 7 4-7-12 18-28-26 21 14 20 5 3-9-59 4-37 0 79-31-30 58-33-29 80 61-35-70-54 13-32-4 41-8-6-5 35 5-39-18 62 25-51-14 50-2-13-3 21 26-25-24-33 32 48-35-31 16-15 15-12-5 70 25-72-31 53-2-62-2 69 4-36 1 50-12-30 14 14 1 9-4-92-8 113 29-5 24-36-52-63-9 50 31 33-25 8 5 18-4-42-14 24 29-13-16-34 1 52-15-54 3-31 11 89 11-22-4 11 31-59-29 58 9 19 7-103-32 65 12-15 20 10-8 3-5 40 21-31-39-3 22 20 3-56-24 29 8-16 22 19-19 6-14-63 16 56 13 16-11-71-30 70 27-44-14-50 6 118 13-33 6 14 5-13-34 38 51-60-15 24 8 11-47 2 7-5 9-19-10 23 11-71 16-6-23 55-10 29 35-3-16-49-3 24 9-15-12-47-17 78 30-22 4-26-17 10 12-4 0 42 10-12-3-34-6 32 13-48-17 56 12 10-10-35-1 5-15 61 32-49-1-52-35 25 28 43-21-23-16 28 25-69-39 53 18 15 19-17-15-15 13 27-1-53-11 15 26-57-24 112 15-2 6-51-21 2 20-28-25 10 28-19-36 67 2-15 1-46 33 80-21-63 3 22-15-57 14 68 37-47-30 73-8-27 4-14-18 23 0 32 32-69-17 6 13 37-9 22 15-78-10 5 3 76 8-41 6 16-33 12 19-39 19 15-35 10 5 14-16-33 28 28 0-45-37 27 30-18 27 55-15-35 12-20-39-55 26 92 3-17 10-27-2 35-22-19-6 20 26-16-27-6 2 14 26-4-10-18-12-35-24 74 1 12 29-75-12 22 50 34-44-58-16 76 0-112-13 60 20 35 34 16-12-26-25-58 4-4-4 6-15 31 2-44 31 9-19 90 22-17 10-26-28 15-12-41 42-2-28 37 30-11-8-12-20-3 15-43 18 85-19-34-27-10 7 23 15-4 18 40-16-84-25 63 46-79-21 59 1 50 18-64-32 59 15-33 4-7-17 9 6 1 6 7-2-35 4 44-13-25 10 9 21-3 2-18-11-45-20 30-6 30-6 27 16-91-15 55 1 28 14-45-22 40 53-13-22 2-9 9 11 6 11-31-19 16 9 0-15-28 9 28 22-72-12 0-22 24 12 6 16 44 3-62 0 55-22-30-24 14-5-59 10 53 6 38 20 12 20-20-45 4 4 3 22-16-32 20 36-62-44 63 22-37-13 6-4-19 42 3-34 24 6 35 1-32 10-25 15-7-50 62 45-114-4 60-8 30 13-12-5 0-10-13-3 53 10-75-23 43-6 32 31-18-25-1 25 0 5-24-5-25-7 44-9-7 11-58-11 56 23 7 7 14-14-13-12-50-11 11 28-49-25 75 27 40-1-80-14 26-9 7 19 7 4 2 7-71-39 81 20 10 19 14-19-14 1-9 3 13-2 9 25-88-19 76-28-63 7 37 13-13-13-53-6 32 12 45 11-11-6-16-6 32 1 0 10 29 5-109-4 54 24 18-37-33 20 24 9 38-36-22 24 1-8-21 21-46-23 64 0-53-12 39-8 44 23-65-10 53 19 0 3-59-20 40 9-40-9 73 10-92-3 50-4 4 20 2-27-9 10 26-18-18 19-24 5-40-15 75 18-28-30 36 40 5-15-56-18 24 14 31-4-13 8-13-9-16 16-14-18 46 14-71 17 66-46-41 28 24 8-5-15-31 21-21-21 23 20-8-14 14-3 56 5-92 2 101-33-113 35 109-18-87 13 64 38 22-41 6 26-36-41-77 11 27-19" fill="none" stroke="none" style="marker:url(#m3)"/>
<path transform="translate(.5 .5)" d="m622 62 28 50 1-13-74-11 69-16-65-5 49 14-27-5 6 4-17 5-6-25 74 17-50 7 18 8-1 8 37 2-54 4-1-48 42 23-68 28 52-7-31-11 56 3-42-20-24 26-35-23 55-6-17 3 17 12 17 22-15-15-23-17-32 5 85 0-34-18 11 9 1 1-71 5 37-2 24 29 10-21-20 4 41 16-61-27 68 4-24 4 20 3-5-11-44 13 4 6 43 7-36-32-16-10 4 39 28-22-28-8 43 20-85-21 68 36-32-9 23-40-76-3 31 1 78 23 5 20-74-20-24-16 60 11-47 9-17 6 107 0-52 48 21-36 14 8 7 1-105-37 95 17 23 7-45-32-36 38 20-29-37 27-22 14 94-28 30-4-80 4 58 10 25 7-74-18-16 27 63-12-25-35-16 16 13-33 19 40-19-11 9 11-50-20 77 14-67-18 53 21-8 3-6-8-34 38 4-46-14 23 52-1 27 1-33-1 15-9-2 8 3-3 10-11-37 0 8 3-20 2 0-7 40 28-4-28-12 26 39 6-20-34-24-1 9 16 7-15 3 17-38-30 3 29-28-16 65 0-100 9 50 10 67 9-30-17 28 18-66-34 53 16-16 10 18-32-54 9 38-11-62 7 3-26 71 34 2 6 10-4-18-24 20 58-52-21 41-17 6 57-17-37-32-37 6 54 57-43-22 38-10-3 10-8 22-15-80 12 53 17 17-5-47-26 31-1-55-1 0-4 56 24 0-15-19 7-1-3-33-15 49 8-50-19 58 11-23 27-40-28 58 42-28-26-41 0 88 6-33-21-2 32 12-1 5-18-5 10 11-26 25 1-36 37-63-10 22-3-60-16 57 11 32 13-52-6 29-17-10 10 9-12 63 35-110-26 99-5-60 23 26-38-8 12-40-8 50 22-80-6 75-2 15-4 4 13-10-12-2-21-7 34-28-16 58 33-37-36 38 19-47-27 7 18 28 7 1-12-71 16 90 6-65 4-35-11 56-16 26-14-48 21-33-14 71 32-32-44 1 20 31 26 6-32 38 13-39 37-51-68 53 48-47-47 51 27-32 6-24-34 14 21-47 60 95-50-9-16 1 20-59-36 20 37 41-3-3-14 29 3-12 27-73-36-38 12 37-25 39 13-62 22 78-9-2-3-72-10 57 45 45-20-28-4-91 0 1-10 104-12-82 0 59 15-82 5 86 28-43-33 31-2-23 3 35 12 40 14-83-17 19-3-11 7 61-6-31-7-52 1 35-27-18 1 3 53 15-21 22 17-22-22 32-18-27-2 26 23 1 10-46-30 15 11 48 16-29 1 22 19-3-43-25-17 5 16-70 22 6-13 33 12-47-20 50 19 7-3 43-3-23 22 32-30-75-17 35 21 39 9-50-13-53-11 86-1 16 51-13-20-75 16 13-33-45 14 99 1-26-9-26-25 53-3 22 20-48 3-2-1-45-6 106-18-17 11 3 47-60-15-33-29 66 27-60-18 56-18 33 58-15-25-72-22 68 18-25-31 23 22 17 13-20-13-18-13 31 16-77 15 56-7 4 14-27-18 10-12 41-7-84 20 20-8 35-25 29 21-8-5-107 4 13-5 110 23-7-6 4 16-89-2 14-12-31 2 103-5-59-18 24 27 24-6 29-27-83 30 63 2 9-8-104-11 37 19-2-20-25 16 6-20 28-5 54 50-55-48 45 41-44-37 34 14-81-9 66 51 31-27-93-22 87-31-70 20 81 10 2 30-47 19 49-27-23-12-66 13-19-45 57 65 40-26-18-11-5 51 6-66-78 4 84 29 6-11-50-14 45 26-21-32 6 12 47 9-65 1-43-10 63-14 16 11 10 46 19-57-38 0-14 21-74-5 94 18 14-2 15-15-81-33 44 28 32 5-57-12 30-2 1 29-33-5 39 5-22-21-17-7-53 10 111 8-59-7-53 1 36-16 61 40-48-24 7-22 17 14-55 9 37-9-17-14 64 19-60-9 63 29-32-6-34-41 76 36-50-19 48 1-13 42 6-20-44-1 10-5 14-7-3-27-11 30 5 1 7 1-44-27-5 28 37 5-4-10-19 0 44 41-20-28 12-25-49 28 15 6-12-41 58 75-36-62-11 37 16-17 30 9-43-23-30-25 74 60-8-34 1 13-18 17-3-6-22-41 17 21-43 0 16-20-1 4 66-3-52 22 41 5-32-20-20 7 35 13 8 12-84-29 51 3 32 22-20-33 7-5-54 27-1-33 32 51 73-25-44-24 18 44 23 1-14 22 18-50-12-3-30 26 36-25-95-1 48-16-43 13 68 13 9 27-80-41 21-6 16 33 24-28-63-13 17 25 54-8-57-11 79 21-36 21 29-24-53 25-34-25 34-3 36 26 1-19 0 4-62 1-28-17 82 41-75-37 54 9-28 16 82 28-50-42-42 0-16 15 54 3 43-10-8-7-79 0-5-12 108 5-36-9-44-2 50 21 10 18-70 18 60-47 0 38 15-48-101 19 78 0 19 29 19-16-19-13-19 3-79 8 51-34-9 24-9-4 44 32-11-36-38 15-24-34 23 7 43 5 14 16-28 7 31-3 10-22-62-2-30 11 65 0-18 23-25-26 72 5-63 9 19-33 31 15-63 7 99 31-56-32 13-6 12 19-13-2-55-22 59 42-58-8 67-27-42 10-26-2 69-2-7-14 14 46-51-13 32 19-69-46 91 33 3-31-26 19-87-22 4-3" fill="none" stroke="none" style="marker:url(#m3)"/>
<polyline points="524.6,48.9 526.6,48.9 528.5,48.8 530.5,48.8 532.4,48.7 534.4,48.6 536.3,48.5 538.3,48.4 540.2,48.3 542.2,48.2 544.1,48.1 546.1,48.1 548.0,48.0 550.0,47.9 551.9,47.9 553.9,47.9 555.9,47.9 557.8,47.9 559.8,47.9 561.7,47.9 563.7,47.9 565.6,47.9 567.6,47.9 569.5,47.9 571.5,47.9 573.4,47.9 575.4,47.9 577.3,48.0 579.3,48.0 581.2,48.1 583.2,48.2 585.2,48.4 587.1,48.5 589.1,48.7 591.0,48.9 593.0,49.2 594.9,49.4 596.9,49.7 598.8,49.9 600.8,50.2 602.7,50.5 604.7,50.9 606.6,51.2 608.6,51.5 610.6,51.8 612.5,52.2 614.5,52.5 616.4,52.9 618.4,53.3 620.3,53.6 622.3,54.0 624.2,54.3 626.2,54.7 628.1,55.0 630.1,55.4 632.0,55.7 634.0,56.1 635.9,56.4 637.9,56.7 639.9,57.0 641.8,57.3 643.8,57.6 645.7,57.8 647.7,58.1 649.6,58.3 651.6,58.5 653.5,58.7 655.5,58.9 657.4,59.0 659.4,59.2 661.3,59.3 663.3,59.3 665.2,59.4 667.2,59.4 669.2,59.4 671.1,59.4 673.1,59.4 675.0,59.4 677.0,59.4 678.9,59.4" fill="none" stroke="#e3262b" stroke-width="3.4" stroke-opacity="0.4"/>
<polyline points="524.6,48.9 526.6,48.9 528.5,48.8 530.5,48.8 532.4,48.7 534.4,48.6 536.3,48.5 538.3,48.4 540.2,48.3 542.2,48.2 544.1,48.1 546.1,48.1 548.0,48.0 550.0,47.9 551.9,47.9 553.9,47.9 555.9,47.9 557.8,47.9 559.8,47.9 561.7,47.9 563.7,47.9 565.6,47.9 567.6,47.9 569.5,47.9 571.5,47.9 573.4,47.9 575.4,47.9 577.3,48.0 579.3,48.0 581.2,48.1 583.2,48.2 585.2,48.4 587.1,48.5 589.1,48.7 591.0,48.9 593.0,49.2 594.9,49.4 596.9,49.7 598.8,49.9 600.8,50.2 602.7,50.5 604.7,50.9 606.6,51.2 608.6,51.5 610.6,51.8 612.5,52.2 614.5,52.5 616.4,52.9 618.4,53.3 620.3,53.6 622.3,54.0 624.2,54.3 626.2,54.7 628.1,55.0 630.1,55.4 632.0,55.7 634.0,56.1 635.9,56.4 637.9,56.7 639.9,57.0 641.8,57.3 643.8,57.6 645.7,57.8 647.7,58.1 649.6,58.3 651.6,58.5 653.5,58.7 655.5,58.9 657.4,59.0 659.4,59.2 661.3,59.3 663.3,59.3 665.2,59.4 667.2,59.4 669.2,59.4 671.1,59.4 673.1,59.4 675.0,59.4 677.0,59.4 678.9,59.4" fill="none" stroke="#e11f26" stroke-width="1.9"/>
<polyline points="524.6,65.2 526.6,65.2 528.5,65.1 530.5,65.1 532.4,65.0 534.4,64.9 536.3,64.8 538.3,64.7 540.2,64.6 542.2,64.5 544.1,64.4 546.1,64.4 548.0,64.3 550.0,64.2 551.9,64.2 553.9,64.2 555.9,64.2 557.8,64.2 559.8,64.2 561.7,64.2 563.7,64.2 565.6,64.2 567.6,64.2 569.5,64.2 571.5,64.2 573.4,64.2 575.4,64.2 577.3,64.3 579.3,64.3 581.2,64.4 583.2,64.6 585.2,64.7 587.1,64.9 589.1,65.1 591.0,65.3 593.0,65.5 594.9,65.8 596.9,66.0 598.8,66.3 600.8,66.6 602.7,67.0 604.7,67.3 606.6,67.6 608.6,68.0 610.6,68.3 612.5,68.7 614.5,69.0 616.4,69.4 618.4,69.8 620.3,70.2 622.3,70.5 624.2,70.9 626.2,71.3 628.1,71.6 630.1,72.0 632.0,72.4 634.0,72.7 635.9,73.0 637.9,73.4 639.9,73.7 641.8,74.0 643.8,74.3 645.7,74.6 647.7,74.8 649.6,75.1 651.6,75.3 653.5,75.5 655.5,75.7 657.4,75.8 659.4,75.9 661.3,76.1 663.3,76.1 665.2,76.2 667.2,76.2 669.2,76.2 671.1,76.2 673.1,76.2 675.0,76.2 677.0,76.2 678.9,76.2" fill="none" stroke="#e11f26" stroke-width="1.9"/>
<polyline points="524.6,77.4 526.6,77.4 528.5,77.3 530.5,77.3 532.4,77.2 534.4,77.1 536.3,77.0 538.3,76.9 540.2,76.8 542.2,76.7 544.1,76.6 546.1,76.6 548.0,76.5 550.0,76.4 551.9,76.4 553.9,76.4 555.9,76.4 557.8,76.4 559.8,76.4 561.7,76.4 563.7,76.4 565.6,76.4 567.6,76.4 569.5,76.4 571.5,76.4 573.4,76.4 575.4,76.4 577.3,76.5 579.3,76.5 581.2,76.6 583.2,76.8 585.2,76.9 587.1,77.1 589.1,77.4 591.0,77.6 593.0,77.8 594.9,78.1 596.9,78.4 598.8,78.7 600.8,79.1 602.7,79.4 604.7,79.8 606.6,80.1 608.6,80.5 610.6,80.9 612.5,81.3 614.5,81.7 616.4,82.1 618.4,82.5 620.3,82.9 622.3,83.3 624.2,83.7 626.2,84.1 628.1,84.5 630.1,84.9 632.0,85.3 634.0,85.7 635.9,86.1 637.9,86.4 639.9,86.8 641.8,87.1 643.8,87.4 645.7,87.7 647.7,88.0 649.6,88.3 651.6,88.5 653.5,88.7 655.5,88.9 657.4,89.1 659.4,89.2 661.3,89.3 663.3,89.4 665.2,89.5 667.2,89.5 669.2,89.5 671.1,89.5 673.1,89.5 675.0,89.5 677.0,89.5 678.9,89.5" fill="none" stroke="#e11f26" stroke-width="2.5"/>
<polyline points="524.6,89.1 526.6,89.1 528.5,89.0 530.5,89.0 532.4,88.9 534.4,88.8 536.3,88.7 538.3,88.6 540.2,88.5 542.2,88.4 544.1,88.3 546.1,88.3 548.0,88.2 550.0,88.1 551.9,88.1 553.9,88.1 555.9,88.1 557.8,88.1 559.8,88.1 561.7,88.1 563.7,88.1 565.6,88.1 567.6,88.1 569.5,88.1 571.5,88.1 573.4,88.1 575.4,88.1 577.3,88.2 579.3,88.2 581.2,88.4 583.2,88.5 585.2,88.7 587.1,88.9 589.1,89.1 591.0,89.4 593.0,89.6 594.9,89.9 596.9,90.2 598.8,90.6 600.8,90.9 602.7,91.3 604.7,91.6 606.6,92.0 608.6,92.4 610.6,92.8 612.5,93.2 614.5,93.7 616.4,94.1 618.4,94.5 620.3,95.0 622.3,95.4 624.2,95.8 626.2,96.2 628.1,96.7 630.1,97.1 632.0,97.5 634.0,97.9 635.9,98.3 637.9,98.7 639.9,99.0 641.8,99.4 643.8,99.7 645.7,100.0 647.7,100.3 649.6,100.6 651.6,100.8 653.5,101.1 655.5,101.3 657.4,101.5 659.4,101.6 661.3,101.7 663.3,101.8 665.2,101.9 667.2,101.9 669.2,101.9 671.1,101.9 673.1,101.9 675.0,101.9 677.0,101.9 678.9,101.9" fill="none" stroke="#e11f26" stroke-width="1.9"/>
<polyline points="524.6,108.9 526.6,108.9 528.5,108.8 530.5,108.6 532.4,108.4 534.4,108.2 536.3,108.0 538.3,107.7 540.2,107.5 542.2,107.2 544.1,107.0 546.1,106.8 548.0,106.6 550.0,106.5 551.9,106.4 553.9,106.4 555.9,106.4 557.8,106.4 559.8,106.4 561.7,106.4 563.7,106.4 565.6,106.4 567.6,106.4 569.5,106.4 571.5,106.4 573.4,106.4 575.4,106.4 577.3,106.5 579.3,106.6 581.2,106.7 583.2,106.8 585.2,107.0 587.1,107.2 589.1,107.4 591.0,107.7 593.0,108.0 594.9,108.3 596.9,108.6 598.8,108.9 600.8,109.3 602.7,109.7 604.7,110.0 606.6,110.4 608.6,110.9 610.6,111.3 612.5,111.7 614.5,112.1 616.4,112.6 618.4,113.0 620.3,113.5 622.3,113.9 624.2,114.3 626.2,114.8 628.1,115.2 630.1,115.6 632.0,116.1 634.0,116.5 635.9,116.9 637.9,117.3 639.9,117.6 641.8,118.0 643.8,118.3 645.7,118.7 647.7,119.0 649.6,119.3 651.6,119.5 653.5,119.8 655.5,120.0 657.4,120.1 659.4,120.3 661.3,120.4 663.3,120.5 665.2,120.6 667.2,120.6 669.2,120.6 671.1,120.6 673.1,120.6 675.0,120.6 677.0,120.6 678.9,120.6" fill="none" stroke="#e3262b" stroke-width="3.4" stroke-opacity="0.4"/>
<polyline points="524.6,108.9 526.6,108.9 528.5,108.8 530.5,108.6 532.4,108.4 534.4,108.2 536.3,108.0 538.3,107.7 540.2,107.5 542.2,107.2 544.1,107.0 546.1,106.8 548.0,106.6 550.0,106.5 551.9,106.4 553.9,106.4 555.9,106.4 557.8,106.4 559.8,106.4 561.7,106.4 563.7,106.4 565.6,106.4 567.6,106.4 569.5,106.4 571.5,106.4 573.4,106.4 575.4,106.4 577.3,106.5 579.3,106.6 581.2,106.7 583.2,106.8 585.2,107.0 587.1,107.2 589.1,107.4 591.0,107.7 593.0,108.0 594.9,108.3 596.9,108.6 598.8,108.9 600.8,109.3 602.7,109.7 604.7,110.0 606.6,110.4 608.6,110.9 610.6,111.3 612.5,111.7 614.5,112.1 616.4,112.6 618.4,113.0 620.3,113.5 622.3,113.9 624.2,114.3 626.2,114.8 628.1,115.2 630.1,115.6 632.0,116.1 634.0,116.5 635.9,116.9 637.9,117.3 639.9,117.6 641.8,118.0 643.8,118.3 645.7,118.7 647.7,119.0 649.6,119.3 651.6,119.5 653.5,119.8 655.5,120.0 657.4,120.1 659.4,120.3 661.3,120.4 663.3,120.5 665.2,120.6 667.2,120.6 669.2,120.6 671.1,120.6 673.1,120.6 675.0,120.6 677.0,120.6 678.9,120.6" fill="none" stroke="#e11f26" stroke-width="1.9"/>
<line x1="678.9" y1="59.4" x2="678.9" y2="120.6" stroke="#e3262b" stroke-width="0.8" stroke-opacity="0.25"/>
<polygon points="55.4,307.5 57.4,307.5 59.3,307.3 61.3,307.1 63.2,306.8 65.2,306.5 67.1,306.1 69.1,305.7 71.0,305.3 73.0,304.9 74.9,304.5 76.9,304.2 78.8,303.9 80.8,303.7 82.7,303.5 84.7,303.5 86.6,303.5 88.6,303.5 90.5,303.5 92.5,303.5 94.4,303.5 96.4,303.5 98.3,303.5 100.3,303.5 102.2,303.5 104.2,303.5 106.1,303.5 108.1,303.5 110.0,303.5 112.0,303.6 113.9,303.6 115.9,303.8 117.8,303.9 119.8,304.1 121.7,304.4 123.7,304.6 125.6,304.9 127.6,305.2 129.5,305.6 131.5,306.0 133.4,306.4 135.4,306.8 137.3,307.2 139.3,307.7 141.2,308.1 143.2,308.6 145.1,309.1 147.1,309.6 149.1,310.1 151.0,310.6 153.0,311.1 154.9,311.6 156.9,312.1 158.8,312.6 160.8,313.1 162.7,313.6 164.7,314.1 166.6,314.6 168.6,315.0 170.5,315.5 172.5,315.9 174.4,316.3 176.4,316.7 178.3,317.1 180.3,317.5 182.2,317.8 184.2,318.1 186.1,318.3 188.1,318.6 190.0,318.8 192.0,318.9 193.9,319.1 195.9,319.1 197.8,319.2 199.8,319.2 201.7,319.2 203.7,319.2 205.6,319.2 207.6,319.2 209.5,319.2 209.5,383.5 207.6,383.5 205.6,383.5 203.7,383.5 201.7,383.5 199.8,383.5 197.8,383.5 195.9,383.4 193.9,383.4 192.0,383.2 190.0,383.0 188.1,382.8 186.1,382.6 184.2,382.3 182.2,382.0 180.3,381.6 178.3,381.3 176.4,380.9 174.4,380.4 172.5,380.0 170.5,379.5 168.6,379.1 166.6,378.6 164.7,378.1 162.7,377.5 160.8,377.0 158.8,376.5 156.9,375.9 154.9,375.4 153.0,374.8 151.0,374.3 149.1,373.7 147.1,373.2 145.1,372.7 143.2,372.2 141.2,371.6 139.3,371.2 137.3,370.7 135.4,370.2 133.4,369.8 131.5,369.3 129.5,368.9 127.6,368.6 125.6,368.2 123.7,367.9 121.7,367.6 119.8,367.4 117.8,367.2 115.9,367.0 113.9,366.9 112.0,366.8 110.0,366.7 108.1,366.7 106.1,366.7 104.2,366.7 102.2,366.7 100.3,366.7 98.3,366.7 96.4,366.7 94.4,366.7 92.5,366.7 90.5,366.7 88.6,366.7 86.6,366.7 84.7,366.7 82.7,366.8 80.8,366.9 78.8,367.2 76.9,367.6 74.9,368.1 73.0,368.6 71.0,369.2 69.1,369.7 67.1,370.3 65.2,370.8 63.2,371.3 61.3,371.7 59.3,372.0 57.4,372.2 55.4,372.2" fill="#dde1f0"/>
<polygon points="55.4,326.9 57.4,326.9 59.3,326.7 61.3,326.5 63.2,326.2 65.2,325.9 67.1,325.5 69.1,325.1 71.0,324.7 73.0,324.3 74.9,323.9 76.9,323.6 78.8,323.3 80.8,323.1 82.7,322.9 84.7,322.9 86.6,322.9 88.6,322.9 90.5,322.9 92.5,322.9 94.4,322.9 96.4,322.9 98.3,322.9 100.3,322.9 102.2,322.9 104.2,322.9 106.1,322.9 108.1,322.9 110.0,322.9 112.0,323.0 113.9,323.0 115.9,323.2 117.8,323.3 119.8,323.6 121.7,323.8 123.7,324.1 125.6,324.4 127.6,324.7 129.5,325.1 131.5,325.4 133.4,325.9 135.4,326.3 137.3,326.7 139.3,327.2 141.2,327.7 143.2,328.2 145.1,328.7 147.1,329.2 149.1,329.7 151.0,330.2 153.0,330.7 154.9,331.3 156.9,331.8 158.8,332.3 160.8,332.8 162.7,333.3 164.7,333.8 166.6,334.3 168.6,334.8 170.5,335.3 172.5,335.7 174.4,336.2 176.4,336.6 178.3,336.9 180.3,337.3 182.2,337.6 184.2,337.9 186.1,338.2 188.1,338.5 190.0,338.7 192.0,338.8 193.9,339.0 195.9,339.0 197.8,339.1 199.8,339.1 201.7,339.1 203.7,339.1 205.6,339.1 207.6,339.1 209.5,339.1 209.5,364.8 207.6,364.8 205.6,364.8 203.7,364.8 201.7,364.8 199.8,364.8 197.8,364.8 195.9,364.7 193.9,364.6 192.0,364.5 190.0,364.3 188.1,364.1 186.1,363.9 184.2,363.6 182.2,363.2 180.3,362.9 178.3,362.5 176.4,362.1 174.4,361.7 172.5,361.2 170.5,360.7 168.6,360.3 166.6,359.7 164.7,359.2 162.7,358.7 160.8,358.1 158.8,357.6 156.9,357.0 154.9,356.5 153.0,355.9 151.0,355.4 149.1,354.8 147.1,354.3 145.1,353.7 143.2,353.2 141.2,352.7 139.3,352.2 137.3,351.7 135.4,351.2 133.4,350.7 131.5,350.3 129.5,349.9 127.6,349.5 125.6,349.2 123.7,348.8 121.7,348.5 119.8,348.3 117.8,348.1 115.9,347.9 113.9,347.8 112.0,347.7 110.0,347.6 108.1,347.6 106.1,347.6 104.2,347.6 102.2,347.6 100.3,347.6 98.3,347.6 96.4,347.6 94.4,347.6 92.5,347.6 90.5,347.6 88.6,347.6 86.6,347.6 84.7,347.6 82.7,347.6 80.8,347.8 78.8,348.0 76.9,348.3 74.9,348.7 73.0,349.1 71.0,349.5 69.1,350.0 67.1,350.4 65.2,350.8 63.2,351.2 61.3,351.5 59.3,351.7 57.4,351.9 55.4,351.9" fill="#d3d8ec"/>
<path transform="translate(.5 .5)" d="m112 347 56-40-47 5-25 5 82 29-17-23-35-2-10 39 72 3-17-23-4 3 3 13-64-49 41 55-4-9-59 12 99-35 14-3-118 9 35 34-24-35 4 11 103-13-27-13-15 14-71-4-10-11 60 39 13-8 19-33-3 22-2-14 21 9-7 16-3-2 21 22-24-32-38 1-33 12 26-21-24-18 57 61 9-45 3 28-40-30 49 27-1-13 11 13-94 22-8-20 46-38-40 19 34-2 20 0 46 11-27-14 8-3-21 22-13-24 10 31 14-34-16 36 23-23-42-12 12 33 19-21-50 27 15-36-33 26 58-10-35 15 35-21 33 16-36-11-44-22 17 25 17-10 10-22-24-15 4 45 38-8-16 38-80-50 30 4 74 37-78-36 15 25 24-8 44 6-27-7 11 24-19-33-40 8 44 2 14-47-2 45 25 2-62 9-48-25 81 24 4-8 20-6-15-5-32 13-26-9 70 11-85-12 99 37-26-22 24-20-52 28-6-20-8-13 11 19-51-32 14 11 45 18 54 18-59-7 53-11-71-35 45 19-89-15 119 50-21-21-22-20-7 16-25 13 10-27-32-40-12 76 10-16 52 36-18-37-1-24 36 49-12-12 11-2-6-59-55 27-14 12 57 3-7-5 18 16-36 31-22-16-5-32 34 24-25-42 23 5 9 16 6-41-15 22-8 49 40-37-21 4 13 5-46 36 59-21 11-15-38-23-18 61 36-33 16-10-63-30 37 50 13-28-38 7 28 14 39 14 5-28-31 39 23-36-17-4-43 17 40-12-16 39 12-30-36-14 17 19-55-28 71 43-36-20 50-14-34-5-44 13 44 34 24-66-12 39 43 6-18 2-27 9 50 4-65-44 20 16 28-4-31 31 24-53-20 40 7-25 19 22-47-23 24 39-29-34-32 35 17-8 76-14-19 15 18 2-1 18-16-68-51 48 54-3-17-13 18 16-24-11-58-16 37 14-23-20 35 26 22 13-13-15-6-5 26 18 3-20-58-11 33 49 7-17-37-45 14 20 34-11 3 32-40-23 68 16-40-16-41-27 17 20-13 3 32 9-22-18 67 14-113 22 109-32-45 3-32 28 7-9 9-2 4-18-7-2 53 17-21 41-50-15-1-19 13-8-14-1 45-21 22 72-60-51 34 12-35-12 14-47-30 37 41-6 32 44 10-9 1 20-85-31 85-2-11-11-77 18 96 2-39-9 27-22-1 34-37-31 38-34-17 55 6 2-43-19 17 26 45-32-62 8-29 7 21-13 24 33 29 3-28-47-51 31 16-37 12 46 32-26 22 30-95-4 7-46 50-2-10 25 26 45-10-35-51-7 30 23-11-57 49 20-13 7-31-19 60 12-35 28 47 5-11-29-41 32 32-18-48-7 65 1 0 13-37-28-6 21-20-19 35 18 3 19 7-27-75-4 91 63 12-106-54 62 28-18-28 7 27 29-60-39 31-6 20 9-1-23-22 37 20 16 18-26-16-24 15 58-10 4-28-15 40-23 15 22-44 7-6-3-25-18-20-10 62 10 26-3-64 12 54 16-1-23-15-3-27-10 38 9-88 23 4-6 101-1-81-4-9-35 8-2 54 74-60-85 59 10-21 20 28-13-12 0 0 16-6 45 31-61 0 32 9-15-55 11 31-17-20-1-15 38 16-11-4-27-24 11 19-9-65 16 123-8-103 4 83 7-52-26 14 38 44-2-37-43 19 28-15 12 31-41-9 40 10-20-12 4-23 5-21-3 50-5-7-6-11 27 9-62 14 24 16 28-39-34 31 14-17 17 9 11-9 5-20-50 36 66-42-35-13 1 57-13-65-11 21 46 30-28-21-14 20 26-62-15 44-8 26 22-39-2-45-21 36 1 73 13-69-6 68 7-120-5 103-19-69 15 49 1-5 6-47-10 60 23-42-33-9 51 18-52-20 19 43-17-56 11 16-19 57 40-19 1-33-18 54 4-12-1-74-10 53 19-1 19 16-13 34-10-27-4-46 7 9-24-53 20 90 0-52 12 18-9 8 2 24-15 25 20-43-49-61 16 97 33-41-27-29 6 71 16-47 18-19-56 21 33 9-16-33-1 49 12-50 18 28-25 46 27-46-27-68 26 16 0 89-12-101-9 4-2 73 20 14-17 31 15-68-38 26 25-2 13-22-33 20 16-33-22 77 30-49-2 20-13-33 34 44-18-72-25-31 40 35-11 58-8-35-13 17 22 45-23-27 48-59-59 35 8 8 29-5 8-76-34 98 18-74-27 61 2-33 16 29 4 17-13-60-39 59 60-27 6-2-11 11-2 31 5-49-36 35 30 21-6-63 1 40 32-45-48 49 46-50-26 41 18-67-10 95 19-39-9-15-15 44 19 12-13-16-6-26-22-7 37-49-35 32 18 45 25-74-33 54 15-79 0 66 0 34-7-39 3 13-29-30 49 71-38-73 28 62-24-50-9 12 33-43-25 87 40-116-27 40-6 34 14-5-11 5-11 1 27-53-32-2-8 78 23-25 33 15-13-42 6 85-48-109 35 78 4 27 2-85 12 14-72 26 45 27-11 9 32-31-13-19 15-25-27-33 4 86 6-32-17 44-14-15 41-48-11 64 20-42-7 54-21-93 34 62-46 40 28-125-9 113-1-28-10 47 3-19 25-51-48-38 0 64 55-41-37 45 8-10 13-33 14 16-18 45 5-5-12-21-14 26 27 3 40-47-67 46 30-88-27-22-6 126-16-19-12-46 49 46 15-68-55-36 11 10 22 43-1 29-1-81-20 37 9 21 10 45 5-102 3 50-13 50 36-9 6-17-33 38 21-55-15 7-21 24 64-10-42 3-6-34 19 8-13-6-2 13-12 3-11 2-2-68 19 70 0 49 49-63-53 26 26-27-16 25 30-2-1 4-18 27-18-19-12-27 18-2 30 23-27-7-21-23 35-40-9 36 4-45 3 89-29-91-64 68 98 22 1-68-3 7-27-2-26 57 34-37-33 40 18-20 14-17-6-10 45 30 6-5-19 32-39-113 9 108 5-53-23-11 53 3-26 12-23-17 24 77 27-57-23 43-3-20-17 26 22 26 15-88-41 1-8 45 28 8 18-72-38 93 21-27-21-57 25 31 11-20-16 16-30 48 14-7 3-63 6 64 1-14 5 16-15-22 7-34 2-15-10 28 30-46-54 49 41 15-49-31 32-4-9 24-7-8 7 25 16-20-3-10-17 26 21-27-22 48 33 5 22-45-38 23 11 5 16-22-14-62-17 52 15 39-16-32 13" fill="none" stroke="none" style="marker:url(#m4)"/>
<path transform="translate(.5 .5)" d="m178 350-26 42-22-52 21-2 11-8-30 16-34 2 66 5 4 18 23-8-37 9-14-48-69 18 122 7-105-4 32 1-15-2 82-22-31 7-52 15 34-22-13 24 62 5-46-6-77-14 63-7-11 27-30-19 41 0 47 7-35 10-16-12-38-9 81 8-30 2 2 1 13 9-30-18 60 33-104 3 85-14-18 4 15-6-62-23 27-3 69 42-29-36-37 17 30-1 0-9-3 31 0-5 8 15 29-19-49-4 21-13-45-18 20 12-25 15 73-16-49-12 17 3-61 33 57 1 16 7-53-27 60 2-28-4-53 4 71 12-16-23 3 10 43 50-106-49 36-9 44 37-7-5-32-12-38 3 7-26 47 5-23 13 56-35-30 16 9 16-42-19 56 41-18-58 46 2-80 30-11 6 45 24 4-1 37 20-71-88 51 48-25-17 16-7-9-14-84 13 49-7 64 29-74-24-8 36 40-29 2-27-32 53 54-11-21-13 8-25-30 52 43-20 27 20-34-11 19 30-18-46-16-3-3-9 18 29-6-19-12-52 27 73-81-31 70 17 37 29-75-3-6-33-15-20 26 26 16-10-57 4 18 9 35-20 28 39-13-39-72-7-3 35 58 17 47-14-36 13-1-14 16 18-22-29 5 16-21-41 53 52-11-19-34-1 31-58-60 26 9 38 66-8 24 19-70-18 33 34-2-35-50-9 36 18 31-7 22 30-80-70 42 40-38-25 9 44 52-1-36-11-9-33 58 75-113-50 5 14-6-49 99 41-48-20-48 7 44-11 41-1-39 17-31-4 82 13-44 8-34-31 48 5-29 27 13-46 18 35-2 13-6 6 13-22 19 23-92-29 63-8-17 12 56 1-43 13-14 13 33-13-12-14 11-1-11 22 20-24-38-25-5 13 0-28 38 30-16 16 30 23-63-20-41-30 109 3-21 43 8 14-46-72-24 27 51 19 22-1-7 1-72-15 47-18-33 24 46-33-28-6 38 35-17-6 28 5-99 8 99-4-66-19 17-2-48 19 74-3-49 2 58-19-85 28 114 9-94-28 11-10 58 30-49-30 52 40 15-27-23 30-17-60-68 34 87 1 12-46-99 48 60 34 32-9-25-18-59-4-8-9 34 22-7-33 49 20 38 28-81-52 23-1 37 20-4 8-10 0 4-29-85 5 119 52-38-41 16 15 2-16-76 33 69-16 0-8-60-24 27 20 3 9-22-13 30-5-87-13 30 10 18-13-37-14 81 10-54 3 83 5-41 32 37 8-28 9 28-28-47-21 13-14 32 19-23 3-9 65-11-36-9-12-45-15 95 65-95-70 46 14 25-8-32 0 30 12-32-19 55 24-100-13 110 27-49-31 2-20 39 17-14 19-37-33-33 13 70 36-22 18 42-30-21-18-25 3 31 0-17 24-15-6-20-1 53-10-64 17 23-42 11 4 1 1 50 39-8-3-40-20-4 17 37-24-50 8-12 1-15 3 75 15 2 6-54-46 56 30-53 8 23-11 28 18-49-28-14-21 68 33-24-28 3 2-30 5-47-23 106 11-35 29-34 12 48-1 22 27-16-41-81-5 97 31-62-23 47 2-74-17 22-1-9 29 54-13 29 23-93-28 78-1-40-5 48 18-41-9 55 14-16 15-14-12-68-48 81 37-17 6-7-26-20 46-17-37-12 10 63-5-82-35 56 24 18 10-33-12 26 36-15-32 9 14 2 8 0 0 2-4-22-12-31 44 24-25 10-2 19 33-34-14 44 9 13-31-22-16 34 16-67-6 16-25 23 17-16-18-2 29 17 18 7-33 7 15 5-16-34 13 7-2 0-29 14 45-41-10-36-23 96-6-42 43 36-8-64 17-10-37 41 27 2-14-49-5 74 17 11 7-19-35-56 5 38 1-25 8 42-18-35 10-32-7 77 13-54 9-20-6 57-12 13 6-13-16 10 17-15 22-8 20-19-42 45-35 11 36-83 3 25-17 4 14 37 25 3 0 10-21-15-1-11 15-23 0 41-28-40-8 57 20-96-5 33-20 40-5-51 30 55-6-27-9-22 0 54 46-33-23-37-27 57 23-31-4 1 16-12-41-6 9-41 6 56-1 13-27-7 55 32-10-14 10 28-42-2 14 1 9-18 6-32-8 39 33-22 11-48-56 23 7 20-14 18 19-29-23 45 34-10 27-13-35-37 8 61 18-44-33 44 21 25-26-64-8 45 6-104-1 122 13-11 11-104-7 109 8-50-14 24-4-87-13 71 32-50 0 57-10-16 2 16-10 1 19-11-10 1 0-3-20 27 13-34-10 54 17-29-1-38-14 21 17-32 36 65-21-13-31-102 19 63-13-25 20-16-18 12 4-3-25 75 26-25-21-2 10 54 16-31 31-1-54-39-18 15 35-20-18 22 15-13-5-55 0 12-8-23 6 101 46 16-4-24-10 17-4 1-41-25 22 5 25 14-12-15-18 7 4-81-18 35-1 74 30 7 25-119-34 27 3 79 7-4-4 13 25-64-18-2-28 22-1-37 26 26-34 50 23-65 13 74 5-88-40 48-3 19 46-5-11-4 15 5-5-4-18-50-1-50 5 118-7-104 8 46-12 21 39 30-7-45-13 38-21-65 9-2-4 83 24-13-24-44-4 22 13 38-3 5 13-38-4-21-19-65 0 103 15-43 0-34-20 84 17-47-27-22 45-4-52-2 20 57 29-47-37 9 2 28-20 8 32-67 1 78 5-3-9-61 0-3-1-37 17 52-34 22 2 10 36 42 1-89-14 45 28 13-30 7 24-59-6 53-33-2 56-24-44-26 22 58-37-46 10 22-5-69-14 17 10 47 37 41 5-26-43-2 17-25-8-4 18 64-23-68 14-42-3 37-5 44 0 12 1-76 2 103 2-68 18 49 6-17-32 9 45-1-9 15-2-41-8 3-22-35-15-3 59 75 3-71-39 7 4 35-14 12 9-47-20 59 48-102-42 106 35-59-13-14 22 81-2-23-36-29 7 7 18 3-13 0-34-1 31-17-3-19 7 35-50-32 24-14 20 38-2 20 5-32-16 36-3-48 14-4 1 5-23 65 20-82-10 50 31 17 32-16-30 13-28-25-7-4-1-5 6 5 43 54-13-36-32-6 41-33-30 4 32-35-46 44 4 19-12 18 52-1-25-31-7-5 42-21-50 16 1 51 34 11-35-11-13-87 14 80 29-51-22 65 11-30 4-7-12 50 29-72-26 25 16-24-49-14 16 40 7 5 9 0 2 23 16-62-16 7-22-5 3" fill="none" stroke="none" style="marker:url(#m4)"/>
<path transform="translate(.5 .5)" d="m174 340 6 27-49-20 62 15-36-13-60-23 77 5-59-3 76 24-18-47-29 36 18 14 12-9 15-14-91 11 73 9 5 1 22 17-29-32-72-6 57 29-37 8 28-12-18-37-6 16 28 18-46-2 64-20 7 53-26-48-54-20 67 50-23-51-32 5 65 21-4 10-11 15-40-23 26-54 44 73-63-25 44 6-4 4-18-28 26 42-32-20 60-5-23 20-19-58-57 58 49 7 19-45-59 18 26-19 37 26-83-8 106 13-21 23-24-37 46 10-65-6-68 14 85-20 43 31-75-7 43 3 2-12-32 17 17-46-16-2 36 21-63 25 80 23-3-23-5 4 4-1-79-61-6 46 3-16 48 10-48-10 78-13-34 40 28-50-65 19 11 11 31-3-64 9 45-4 18 7-3 7 18-24-51 15-3-13 6 26 17-15-38-7 67 18 13-9-97-46 76 34-15 0 31 8-59-4-37-13 57 31 5 3 22-32-11 6-55-5 74 9-68-13 80 20-46-21 14 42-2-33-8 15 33-23-19 11 23-6 13 25-67-23-25-20 50 23 24-15-61 7 45 22 42 22-11-30-73-10 76 7-53-13 41 36 22-31-6 15-26 31 30-9-45-22 37 14-66-16-3-5 5 27 51-28-4-4-59 16 43 17 28-34 4-10-37 5-54-8 56 31-33-19 42 29-49-40 35 15 21-8-57 14 55-19-19 13 2-5-2 3-63-6 92 20-84-46 90 23-58 16 74 20-7-7-22 4-46-2 46-14-34 8 29-6 4 21-10-19 43 25-17-33-50-1 54 14-25-5 18-6-12 7-12 2 21-12 1 54-7-44-17-16-9-8-5 18 11 28-62-61 43-8-2 59-15-51 68 76-15-30-12 6 2-16-5-34-22 50 44-27-16-38 3 63-50-15 46 10 9-5-7-6-55-36 82 24-8 26-86-54 8 38 83 17-24-29 33 23-55-28-2-16 41 31-39-24-62-4 81 30 37 36-70-63 74 6-89 20-10 5 2-30 86 37-89 12 78-32-98 12 50 5 3-2-16-24 53 19-82-18 46 12 44 20 25-4-46-17 43 22-117-39 33 19 84-7-8 20-21-1-85-30 69 20-18-4-38 12 32 7 19 10 8-51 32 18 1 17-52-5 34 4-10 16-23-63 67 30-58-3 37-1-66-14 27 63 31-65 10 51-47-46 40-11 7 67-29-17-19-28 16 3-12 3 53 8-91 6 36-2 47-16-4 30-4-13-22-24 8 32 1-21 6-7-2 21-88-21 87 34-67-58-14 10 54 15-16-6 21 40 33 7-72-18 56-21 2-7-2 9 20 33-15-14 7 0-47-12 11-16-71 2 91-13-7 30-5 21-61-7 17 5-16-13 80 1-49-30 18 27-34-2 37-11 12 8-34-7 69-9 4-18-10 51-13-20-27-1 7-22-10 23-32 11 19 2-33-25 80-4-55-7 18 18 0-10 44 38-23-9 22 2-45 19 54-18-55-59-38 33 52-4-22-6 20 23 38 21 12 6-47-35 11 19 33 26-50-27-27-22 24-6 26 36 5-17-1 18-39-22 6 24 36-14-2 14-72-25 10-8 53 16-32-15 14 3-5-11-11 19-4-35 48 8-35-2-22 16 2 19 61-11-18 20-35-11 2 19-19-21-1-43 4 16 37 17-55 44 68-40-17-29 11 38-54-29 91 36-46 12-6-20 29 3-47-24 28 27 34 2-20-11-75-18 53-21-38 11 40 15 3 25 24-8-29-36-15 36 6-22-4-1 33 32 11-7-37-18 38 10-66-22 26 9 47 43-25 7-42-32 7-16 47 39-43-33 34-15-49 25 46 12-14-18-29-32 43 25-56 15 17-9 16 29-22-14 33-5 16 8-8-35 5 25-36-11 31 10-3-21 30 40-36-42 44 37-36-32-66 11 51-1-11 18 70-1-25-12 3-6-97-6 85 47-46-58-12 45-24-37 37 9 44 26 21-20 3 41-79-62 92 28-102-28-2 40 90-27-24 4-4 11 30-1-34 8-19-57 67 70-23-37 28 14-53-15 38 29-88-37 71 34 2-8 10 11-60-17-11 15 80 8-25-1 25 4-70-19-38-8 29-9 43-43 6 58 19 2-87-17 25 29 14-18-34-15 38 17 39 6-28-1-7 4 33-5-6-15-29-1 39 36-23-63 3 80-62-65 89-7-57 4 58 38-70-15 22 0 67-7-13 3-46 22-14-7 42-5-8-18-77 41 76-13 17-6-93 8 112-15-56 10 29-26-59 33 48-14-93 26 29-32 18 5 13-28 26 10-35-14 59 27-111-16 117 21-10-7-49-41-29 41 56-34-21 22 18 38 27 3-48-25-52-9 75 5-29-26 49 38-26-52 7 11-39 2 0 14 43 22-33-21 46 23 9-16-38-22-48 23-3 18 91 48-20-72-33-1 9 13-4-8 16 2-3 20 2-32-18 7 2-1-16 22-2 8 6-24 50-10 23 31-46-26 3-11 25 26-9 6-84-13 68-6-1-3-14 7 10 5-12 9 39 23-28-25-9-13 2-31 37 49-21-30 18 34-32-51 22 22-6 34-41-21-13-8 62 8-34 45 22-58-19 35-18-24 47 17-30-3 48-31-5 36-37-56-7 29-11-2 16 3 26 10-19 19-7-48 34 37 3 0 12-3-38-16-74 5 72 42-1-17-16-39 46 32-3 23-2-51-77 9 106 3-114-17-1 53 110-6-31-37-12 6 1 16 3-5-7-19 21 15 5 6-22-6-17-20 39-30 26 37-39 27-49-8 26-18 17 21 8-22-1 22-35-40 70 74-29-38-18-18-71-17 88 26-21 25 34 3 6-23-21 1-59-33-12 30 19-22 0 2-20 3 75 28 13 4 6 24 19-40-9 7-90 10 56-19-24 2 20-12-21-13 4 24-28-11 0-22 67 36-21-16-24 15-26 8 35-11-2 9-51-20 73-17 22 35-10 2 15-21-46 18 38-19 20 28-24-6 1-3-36 6 47-1-73-16 47 16-19-2 5-4-13-20 30 42-1-10-19-29 35 33-7 39 16-16-79-26-30-9 99-29-92 1 78 51-89-66 91 57 1-6-18 15-37-13 30-29-16-16 25 17-80-2 98 22-42-22 29 23 37 9-28-26-31-4 12 41 12-15-71-46 51 20 38 19-94-13 45 18-55 18 90-55 25 70-10-35-15 32-48-50-13-6 71 9-3 24-76-44 78 20-53 4-18 31 32-32 68 19-11 11-40-26-11-2 4 35" fill="none" stroke="none" style="marker:url(#m4)"/>
<path transform="translate(.5 .5)" d="m133 322 29 24-37-8 8 35-1-21 0-4 30 8-28-16-21-34 45 46-45-44 54 47-34-4 5-10-11 15-18-18 32 15 24 21-10-38 22 9-25 5-2 0-25-5 15-32 4 17-61 9 59 3-5-12 36 0-49 5 37-5-20 6-75-15 69-16 16 41 24 8-8-33-1 23-68-4-10-9 64-8-15 11-27-15 41 15 14 4-24-18 37 45-32-45-6 8-30 4 55 24-35-38 17 47-22-90-14 51 58 28-71 16 78-11-24-5-29-16 44 28-5-24-1-11-9 26 0-8 17 0-28 14-36 7 60-23 0 0-40-13 37 7 3-12-15 58-13-59-6 25 21-58-58 10 16 13 29 40-18-24 27-9 24 49-26-39-6 5-2-21-8 42 41 10-16-9-14-45 52 50-4-27-91 10-14-11 52-13 23 26 30 5-28 1-2-48 1 48-54 1 91-15-89 8 25-38 56 40-74-21 5-2 50 22 0-9-52-24 39 31-18-34 23-12-75 7 47 56 16-58 31 27-49 4-34-15-21 20 112-25-4 43 7-16-68-36 4 55-56-18-8-37 7 63 101-31-62-16 28 15 26 16 0-6 4-25-53-4 32 31 17 7-46-39-33 27 49-15 39 32-73-16 60-19 17-4 17 25-41-29-5 3-77 3 64 18 9-28 9 52 22-10-107-34 52-15-31 9 57 18 0-6-12 8 12-8-44-8 21 2-33 3 98 24-79-1 53-52-15 11-8 53 57-16-36-4 1-7-20-12-9 16 40-19 19 28-15 15-41-38 20 11 30 21-23-19-50-28 44 44-68-6 28-20 19 4-45-26 106 9-74-16 2 51 19-9 9-5-10 19 51-26-84-37 52 47 5-12-19 6-12 31 30-67-4 21 19 27-19-7-85-5 71 31-14-17-1-2 12-6 41 4-37-5-47-25 52 16 25-22 0 32-59-2 25 8 25-13 7 29-74-47 43 10-11 4 21 31-23-7 15-33 16 71-21-74-29 35 33-3-32 9 0-28 21 16-11-29-15 5-22 19 73 0-9 16 10-11-39-30 59 9-1 26 0-15-53-12 8 5 27 13 17 25-76-18 45-13-18-18 32 38-92-27 0-1 112 22-38-20-1-3 36 20-6 20-10-35-56 13 29-8-24-32 61 49-38-15-19 4-38-1 114 24-33-29-8 8 26-3-5 43-75-67 96 33-18-12-49-3-5 4-10-14-25-2 43 20 65 17-56-49-29 2-37 14 42 6 46-2-20-8 6-10 14 18 22 32-15-58-65 63 75-18-41-24 41 31-40-18 19 5-29-38-35 16 108 18-124 7 101-43-11 72-23-32 42 3-58-39 32 55 0-9-18-22-20 6-19-14 30-5-21 15 32-7 9-5-81 39 113 21-34-49-19 8-4-24 68 73-6-65-76-1 61 21-68-2 43-25-61 21 40-11-45-2 74-7-81 21 81 0-63 3 44-15 48 0-38-19-47 7 70 38-25-42-28 34 48 4-43-23 41 16-7-16 2 25-3-5-39 25 26-38-4 10 50-15-51 15-6-11-37 13 73 16-7-22-27-6 23 9-65 2-7-33 109 37-17-17-33 34-4-35 36 39-108-44 16-15 79 28-25 9 14 1-41-28 66 28 11 47-30-65-85 40 98 10-31-19 21-24-5-19-85 42 46-24 54 27-15-8-20-33 10-20-54 54 6-20 9 9 67-14-2 33-22-48 24 37-109-68 64 66 34-14-23-27 11 38-21 35-20-39 70-2-11 13-50-7-22-45-35 26 112-2-16 16-51-36 41 32 4 4 26 12-4-15-98 6 72 1-16 8 6 7-60-24 65-4-62 44 56-57-31-13 30-11 37 29-60 1 7 5-34-3 40 24 40-38-40 51 65-28-129 1 109 6-82-2 24-15 64 20-2 7-93-18 61 26 20-58 17 13 2-7-4 23-3-1-10 20 13-2-69-17-11 0 37-8 40 2-25-37 11 41-52 5 28-44 20 44 25-19-77 19 24-13 39 6-20 10 9-23-22 26 27-20-16-6 24 55-6-6-25-40-32 10 2-11 74 31-73-26 18 2 6-23 24 69-39-46 6 17-20-33 61 39 13 6-20 20 5-78 7 49-12-5-32-11-33-16 77 19-58 2-8-7 43 27 19-12-24 15 20-16-84 0 62-22 6 7 17 8-24 38-1-21-22-25 25-20-7 7 50 20-35-28-73 37 121 18-15-33-65 15 2-27 12 6 43 42 20-9-59 13-44-46 72 23 23 0-19-18-30 9-45-11 58 18 26-18-10-16-26 59 11-59-13 9-12 21-2-23 12 9-48 4 66 1 13 32-55-32 44 13-33-5 34-13-55-9 57 38-2-2-39-44-21 24 30 3 61 15-70-5-58-61 83 41 33-4-44-1 62 33-123-9 96-41-51 23 23 9-38-8 14 8 31-16 33 21-27-16-24-16 42 54 4-23-58 3 69 6-53-5 30-24-19 31 44 11-64-41 17 10-50 15 109-8-93-1 13-22 49 28 26 13-23-15-57-27 1 24-3-3 8-43 60 60-102-53 67 47-44-14 34 5 15 0 25 18-63-9 39 4-4 3 41-44-112 49 56-11 24-32-12 4 30 41-13-4-56-23 31-7 23 2-13-31 10 48 35-7-122-45 114 39-18-3 8 8-6 41 10-27-60-21 29 4 15 22 19-6-27-11 14-1 24-3-43 19-67-60 73 52 21-4-42 2 23-14-33-24-17 52 50-35 32 40-60-70 53 50-17 36 27-28-82-35 15 33-61-13 117 3-94-8 83-11 26 35-14-14-91 17 16-15 64-8-33-3 10-11 33-5-56 4 12 11-11 1 39 3 3-14-16 8 24 52-19-48-35 10-17-43 12-2 48 40-21 11 45-6-99-17 32 0 49 18-15-9-10-13 41 7-31 20 43-30-46 7-24-17-33 2 60 50 19-18-15 12-18-38 24 28-2-18 29 37-15-51-22 29 31-23-29-18-13 13-41 14 66-5-29 16-73-25 108 25-46 11-36-44 62 48-72-34 23 7 64 16-41-38 42 35-69-13-2-1 49 0-41-12 34 20-3 17 48 3-50 2 13-48-46 31 40-24-1 11 43 5-66 14 8 22 25-28 4 28 19-32-15-3 0 9-5 3-7-24 36 23-78-20-37-15 76-2 30 55 4-38-102 4 88 38 14-30-51 5 31-36 4 31-43 14 23-13 2-2 21-24-26 29-10-7 11-3-24-13 65 30-31-21 46 31-27-21-45-4" fill="none" stroke="none" style="marker:url(#m4)"/>
<path transform="translate(.5 .5)" d="m125 362-47-43 61 28-44-4 43-2-7 5 4-30-6-12-8 28 10-2-24 16 77 9-42 7 36-21 15 6-41-17-77 23 74 18-2-46-42 6 7 10 30-19 17 24-79 4 71 19 15-13-33-27 28 49 13-34-33-1 38-15-89 15 12-6 21 10 40-28-66-17-31 35 61 6 47-6 19-5-23 7-58-3 33-13 45 23-58-34 20 7-85-3 116 20-11-5 6 23-1 15-1-6-20-26-1 19-10-14-24 1-14-12 64 40-89-27 82 30 4-32 11 1-19-13 15 9-63-27 15 28 16 23-7-33 15 20-50-37-20-12 12 10 64 12-34 23 76-9-73 0 5 3 18 5-20-5-39-10 33-2 21 3-6-4-53-8 54 5 21 13 18 10-31 1-32-17 37 10 14 5-58-13 45-7-46 14 26-1 62 28-86-32 63-27-77 35 93-27 5 41-68-46 36 38-33-1 27 4 6-41-32 30 42 22-5-4 14-10-35-20-7 3 31 22-66-8 10-23 56 39-20-6 23 9-5-34-51-28 29 38-32 8 18-11 21-10-33 5-9 11 85 30-121-54 43 44-35-21 79 3-40 9 72-1-47-16-32-10 60 9 1 24-37-38-30-13 28 51 37-22-55 5 17-10 37 34-32-55 11 33 12-6-12 4-40 23 11-43-11 26 30-26 7 7 28 28-11 12-24-62 35 41-104-29 102 17-45-10-54 23 119 15-36-47 5 26 5 6-32-16 2-10 4 33 25 3-9-22 22 1 7 23-58-15 5-20 25 17 3 12 0 25-16-48-56 0 37 0 14 7-2 31 0-64 6 26-15 31-11-35 14 17 35 43-11-30 19 28-43-36-11-31 16 23-1 20-7-37-14 19-7-20 61 33-24-4-27-2 9-12-18 5 48 0 6-3-16-55-7 52-32 30 64-38 2 25 18 9-30-8 15-1-5 14-96-35 95 24-45-25 62 14-32 10-19-37-47 28-11 14 15-41 30-9 40 22-34-14-41 28-10-39-9 21 72-4 6 33 30 7-86-71 90 45-61-16 35 30 22 6-54-44 1 45 67 18-13-22-29-22-32-17 43 33-62-29 93 5-27 29-51-30 15 10 33 9-15-37-8 45 28 2-60-42 78 16-65-35 2 62 13 2 6-39 2-4 16 12-77 15 97-3-66-14-30 19 94-17-65-15-13 49 19-11 43-7 8 17-53-67 42 30-7 38-82-6 114-22-31-8 5 17-20 14-57 3 68-17-23 17 27-14 5 2 39-9-123 11 73-28 14 19 1 31 24-35-84 0-5 15 54-61 3 57-31-1-7 15 57-31-80-14-10 34-9-31 114 18-31 5-25-19 6-40 42 75-65-36 66 56-9-20-90-19 30-4 13-8 55 25-19-24 27 13-50 0-44-11 97 36-68-13 51 31 4-62-14-7-77 8 36 37-32-38 87 51-5-35-13-8-32 5 44 22 10-18-47 24-37-24-2-5 60 29-20-46 13 46-30-24 0-14 10-14 67 30-12 6-112-11 3-18-4 40 95 16 32-14-20 0-99-22 115 3-96-40 12 52 61-14-7-13-80 36 99-17 6 4-40-17-27-3 28 8-20-8 9-6-6 20 58-8-102 6-26-24 59 25 67-42-46 59 28-14-37 15 10-33 32 15-93 42 37-47-42-4 60-5-17-14 24 30-34-5 19-13 48 20-45-12 37 14-26-29-43 3-32-13 100 43-73-7 83 3-61 7 38-28-5 39-7-42 41 0-34 9-6 21-29-32 45-26-12 15-41 24-45-12 68-3 49 16 10 20-61-2-12 14 4-50 67 28-20-4-32 25 14-59-54 38-23-13 73-25 40 57-41-30-10-34 37 60-80-31 76 13-98 8-9 1 47-46 31 22-49 39 0-60-1 38 54-14 26 45-30-40-45-15 67 42-42-51-11 36 18-10 64 2 0 48-19-21-57-50 26-35-46 43-23-13 70 11 33 6-40-10-57 25 88-26-32 19-2-48 31 65-19-30 40 36-110-16 77-21 31 36-117 0 96-11-33 12 0-40 13 1 26 30-13-41-32 8 30-22-30 5-24 46 2 4 93-43-73 17 51 20-59 12 37-17 36 7-116-31-2 22 60 15 19-27 10 9 26 34-21-27 1-1 31 10-52-26 15-1-13 27-44-7 79-7-31-7 0 23-52-14 49-25 13 30 17-14-10-7-70 16 81 18-91-30 20-10 38 14-28-25 64 55-82-40-33 14 62 8-29 3 23-20 42 30 12-44-19 27-12 34-40-38 92 10-58-3-2-15-28 11 3 6 3-9 53 51 20-24-98-14 101-2-17-2-36-6-45 30 55-26 15-3-8 23-10 6 2-49-69 27 116 21-39-27 22 0-1-32 8 59-19-29-53 18 80-21-40 21-41-22 78 13-23 18 8 5 6-26-4-12 0 60-10-76-17 33 36 18-3-34-2 10-25-34-75 23 104 24-88-7 75-48-14 23 10 16-8 5-44-39 22 51 2-17-18-13 22-12 8 31 5-24-10 40 55-11-26-13-8 13-23-32 11 33-36 5 74-23-41 30 2-14-71-29-9 20 82-1 46-6-33-1-48 7 56 2 2 33 22-45-46 28 31-42-67 36 21-12 16-9-11 25-16-5-24-4 33-6 51 22-46-3 33-14-3-29-45-15-33 28 76 7-27-11 33 21-69-21 75 3-20 38-78-36 94 24-8-24-17 15 35-3-111 2-5-7 103 18-36-33 37-11-92 42 83-20-34-9 2 9-20-12 29 27-10-41-35 10 49 25 24 7-37 1 54-8-56-7 59 0-31-3-90 18 68-47 27 29-37-8-40 5 53 21-25-13-38-11 50-55 39 77-35 3 63 0-27-17-43-4 40 6-2 25-55-31-19 39 28-39 53 15-18 9 3-14 32 20-2 15-32-42 10 31-27-19-28-41 34 40 18-13 27 32-116-21 62-7 6-16-67-11 47 10 54 0 0 60 4 5-53-63 19 26 23-3-10-13-13-7 46 37-1-29-83 12 21 22 32-44-7 21-46 3 3 2 52-6-13 8 33 19-48-24 47 3-43-8 6 11 13-6-27-13 40 36-99-41 97-2-14-3 15 14 27 21-27-14 7 8-43-29 26 6 3 15-38-12-1-8 36 27 7 4-10-7-11-47-6 17 56 30-59 6-9 1 17-2 36 1-30-5-37 0 27-16 62 18-26-27-102 38 102-11-26-17-25-7 56-21-59 40 34 6 2-16 33 19 1 2-26-2 3-29" fill="none" stroke="none" style="marker:url(#m4)"/>
<path transform="translate(.5 .5)" d="m196 354-70-26-1 12 10 16 15-13-37-36 39 18-18-10 13 51-3-36-27 13 63 11-6-7-24 12 10-2-19-33-17 13-4-44 26 28 22-2 4 53-46-6 48-25-55-18 36 16 14 1-25-10-14 11 17-8-14 0-39-15 25 12 24 22 41-17-51 11-68 4 42-26 51 14 31 24-67-30-23-14 90 33-75-15-27 9 4-18 57 15 4 7-14-10 58 23-60-11 38 20 10-17-19 5 22-20-33-1-44-4 36 11-20-17 23-8 42 32-77-6 55-31-38 11 57 37-74-31 68 62-44-59 50 14-81-2 25 8 27-3 15 14 16-11-12 22 5-54-50 9 3-13 23 62 9-9 9-32-26-33-5 42-61-31 95 55-46-42 33 35 10-27-36 13 22-32 11 28-6 11-76-34 37-27-10 50-29-30 61 43-28-27 47 36-50-56 60 63-28-40-20 9 56 11-29-15 19-3-69 31 14-39 46 37-78-35-11 34 77-15-97-27 132 30-53-42-32 42 40-22-2 32-38-34 28-19-1 49 38-5-51-35 20 36-23 12-11-69 44 56 9-25 19 44-81-33 35-10-32 31 44 26 45-44-114-6 66-17 5 36-22-50 33 10 6 26 10 19-46 0 28-18-3-22 40 14-54-5-22 14-4-22 25 22-1-4 30 21-12-25-4-10 7 34-35 9-31-45 17 1 62 25-60 31-2-30 29-11 2 11-15-8 62 9-29-14 21-23 4 57-52-29 38 13-30-21-1-1 22-9 6 35 13-15-20-7-90-8 113 37-11-17-51-16 67 16 0-2-44-7 38-37-11 37 16-8-36 20 22 22-41-13-43-16 76-33 9 42 0 2-61-35-29 27 60-17 30 10-17-7-26-11-26-1 30 23 1-12-62-1 88 0 5 18 2-24-15 25 26-9 2 2-47-19 16 4 0 18 22 17-102-58 119 49-20 1-34-30 38 24-20-4 35 12-53-4-1-9 39-18-35 37-66-34 15-2 66-10 19 29-34-15 22 9-2-13-34 13 36-10-97 38 61 5-3-48-16 28 70-21-44 21-12-18 18-2-1-5 9-2 30 17-18-17 21 13-53 21 59-31-28 18 0-61 30 67-21-16-27 15 25-15-2-22 31 46-68-49 8 38 45 15 15-13-74-56 49 49 2-28 4 33-96-32 51 36-23-19-10-21 98 40-34-21-58-4-25 40 57-52 21 1-64 25 13-19 71 1-10 37-10-53-26 20-21-8 66 47-4 0-47-78-45 27 74 48 48-45-30 25-61-28 51 46-33-32 55 3-48-5 57 35-27-22-68-6 82 15 14-10-68 13 68 14-22-55-44 6 26 10-54 17 72-11-96 0 14-13 108 39-25-36 8 11-70 10 61 5-21-20-19 21 26 20 3-28 0-6 27 1-74-2-30 34 48-28 13 14-77-16 44-24 78 10-6 38-38-33-48 11 48-16-14 36 55-43-27 19 14 11-43 22 5-72 22 42-28-19 30 37-37-54-24 26 80 6-94-34 17 28 13-17 0 39 25-33 21 54 30-40-76-23 82 42-49-16 30 17-33-39 13 15-17-15 51 17-40-11 19 11-60-35-43 52 84 13 26-21-74-16 63 35 31-67-17 64 9-29-111 8 109 18-69-13 38 3 20-1-72-11 81 35-37-39 45-13-98 30 82 8-105 13 86-36 5 30-4-11 2-16-84-16 46 32 34 9-85-42 84 24-53 22 72-30-7 14 3 18 17-30-22 0-6-1 15 27-58-46 15 34 45-16 15 13-46-30-22 29 45-8-8-5-71-3 71 21 7-16 10 13 18-17-32-3 13-3-24 11-69-34 51 31 45-1-58 0 55-4-12 8 39 28-15 8-34-30 20 15-43-50 43 15-5-6-31 14 24 35 25-35-15 13-31 2 25-32-90-10 85 41 1-16 1 21-23-2-42-14 84-7-102-17 60 7-66 26 121 5-49 16-32-37-53 7 123-29-26 36-1 11 16-16-7 5-23 10 18 19 39-17-103 9 59-14-41-10-44-10 10-27 58 45 53 24-18-13 4 4-54-1 54-28 4 6-10 33-3-24-28 17 9-26 3 25 19-20-45-22 23 26 0 7-38-38 68 36-64-9 41-24 18 26-66 21-7-39 3-17-11 45 49-29-15 43-36-28 53-19 16 31-2-39-21 38-27-17 57 4-20 26-46-22 41-30 33 40 2 17 10-20-41-32 11 1-48 5 58 21-15-37-61-3 30 33 29 11 17-8-53-8 70 9 4 1 3 8-11 0-40 13-16-3 49-10-30-15-10 27 9-25 0-18 8 37-72-26 27 19 60 10-25-7 52-15-67 9-20-39 43 24 19-5-75-3 60-4-29 11 32 12-5-10-32 21 53-20-77-7 38 24-38-25 42 20 28-2-9 1-28-36 60 16-100-2 79 51 14-45-112-6 117 39-70-20-27-3 50 25 23 18-4-15 5-31-28-31-13-8 63 67-37-23-1 55-12-80-38 9 68 54 1-27 6 12-20-22-4-7 29 12-68-17 1 11 12-3-39-17 93 30-6-20-20 20-76-10 58-22 10 23 6 4-12-10 24 50 40-79-22 68 6-23-32-4 3-31-65 16 9-28 5 18 31 9 33 3-94-17 3 4 83-3-9 18-22-23 9 3 44 36-75-24 55-33-6 23-27 9 30 16-15-15 49 14-117-33 113 18-21-7-45 41 2-10-26-37 50 28-24-20 4-2-8-5 45 34-71-48-25 74 19-61 24 11-45 31 79-31 44 8-12 4-12 24 27-14-36-20-14 4 38 17-30-23-14 35-31-11 49-8-28 3-13 13 63 12-4-35-4 7-39-31 25 36-2-2-12-13 45 27-32-33 5 39-17-3-67-13 120 4-51-34 42 14-32 29-43-68 78 61-12-20 6 5 12-6-48 22 24-22-12 2-85-28-4 39 66-18 37-9-57-3-52 19 58-11 20 2 27 2-56 6 52-5 25 21-51-32-11 19 22-5-34-5 74 47-69-47 30 15 17 8 4-15-24-14 22 51-47-65-38 27 65 25-15-25 22-5-50 12 78-11 1 47-106-35 45-29 51 53-25-28-3 5-66-45 79 39-28-7 36 9-72-26 14 12 23-9-19 40-25-28 50 28 1-27 39 13-42-15 2 6 56-6-59 9 5-2-41 8 53 11 13-8-75-23-5 16 9-10 72 46-11-42 39-1-80 18 12-15-21 3 15 0 48 53-14-59 16 10 3-2-1-4-57-16 60 42-78-29" fill="none" stroke="none" style="marker:url(#m4)"/>
<path transform="translate(.5 .5)" d="m188 323-35 71-27-55-36 37 82-41-13 23 5-47 1 0-73 38 56 9 33-4-72-37 40 22 18-17-19 25-21-30 50 17-56-17-32 34 111 14-78-20-41 18 39-78 13 38-7 40 16-18 42-6-65 17-34 14 89-12-7-17-41 21 16-22 14-28-16 16-18-3 61 23-47 5 22-4 35 8-104-25 48 56 45-73-52 7-18 6 50 12 1 20-2-3-38-36 65 37-40-46-14 26-32-45 40 55 9-71 3 34-30 46-50-33 43 24 12-10-10-22-8 4-47 1 46-15-9 29 48 5 21 30-64-15-10-34 69 30 2-15-14-22-12 9 15-6-59 28 54 9-18-27 22 65-75-65 73 0 1 42 29-28-107-1 39 18 69-5 4-12-29-10 19 18-44-18-36 29 38-68 2 54 6-34 55 33-121 16 69-40-44-18 48 39-10 8 24-33-33 54-26-22 74-40-22 49 19 13 16-17-83-33 81 29-73-19 34 16-23-16-32 22 33 0-11-17-15 15 90 1-103-14 79-11-94 12 102 15-84-20 0-16 54 23 15-5 3-2-26 10 2 0 17-11 30 32-9-43-40 3-62 2 6 5 66 19 42-12-80-1 47 1-37 3-20 6 40 16-13-5 33-40-56 61 77-35 6 4-37-11 3-6-13 8 22 8 30 6-45-35 12 4 5 12-2-6-6 30-14-29-59 24 31-19 59 19-13 7-40-34-39 3 81 12 26 37-53-42-22-28 32 54-30-39-32 15 83 26-47-20 0-11 4-16 46-16-48 43 24-24 52 31-79-13 43-5-11 16-31-33 29 17 20 31-36-30 0-5-35 6 42 7-46-4 55-8-60-23 88 34-80-6 12 6 44-3 39 20-102-16-16 4 98 6 6-11-88-24 27-3 23 13-13-10 10 11 22 26-18-16-49 12 42-44-24 19 4-11 10 6 35 54-61-41 32 5 14-2 9-6-16 17 19-46-37 62 34-8 19-25-31 38-13-24 51 25-66-38 9 21 21-40 5 28-8 20 9-25-30-33 42 27-42 48 57-68-37 42 31 5 9-5-37-19 5-12-6 31 36 16-68-53 26 35-72-23 56-11 22 32 32 7-11 7-1-12-8-13-8 20-37-39 63 38-51 8 68 12-29-47-60 52 88-31 3 16-29-33-63 9 73-1 25 15-55-42 25 38-19 20 13-54 17 22-26-25-39 15 57 21-69-14-28-40 9 53 74 12 10-39 14 16 5 13-38 16 18-29-55 4-34-6 34 21 16-26 29 14 12 14-46-46 38 45-30-29-22-8 81 23-63-19 57 48-17-21-32-16-36 1 57 2-16-24 35 27-10 5-10 8-29 4-39-31 46 15 13-11 26 47-52-3 11-40 36 11-40-25 48 13 11 32-42-84 23 49 9 5-102-19 14 8 111 34-99 7 40-44 47 35 8 11-37-12-24 31 16-55-23-12 27 5-28 3 19 24 31 9-9-19-74-20 71 25-60-10 7-15 35-5-13 17 11 26-32-42 47 24-13 37 32-35-70 3 41 12-26-19 25-4-45-6 36 30-5-19 55 13-50-2 14-2-75 1 73-33 25 33-57 0 13-27 11 7 36 15-14-11-54 0 79 25-3-9-9-1 0-9-2 0-42-2 67-14-99-16 73 36-90-29 19-24 28 48 60 22-68-35 9-9 6 30 0 12-12-15 22 12-16 4-19-30-12 1 78 12-112-11 97 41-15-13-3-11-28-27 44 47-16-22-10-26-34 25 7-41 41 28 44 14-71-19 37 15 11 18-9-10-5-46 21 44-101 38 1-63 63 13 0-15-44 13 53 18-10-20-54-20 81 21 4 13-7 29-88-67 71 62 29 0-20-30-22-19 38 31-39 11 59-37-54 9 58 28-125-9 82-26 18 50 3-46-85-26 76 45-55-10 64 9 6 12-3 1-98-45 44-10 37 19-10 10 31 17-39-10 28-2-60 1 47-8-8-6-52 17 76 18-54-36 8 18 40-18-75-10 34 21 28 14 24 0-52-47-5 6 32 5 32 17-44-8 1-14-53 17-20-22 119 27-49 1 38 10-77-5-11-4 80-33-3 52-1-9-48-11 79 12-94-8 37 20-47-13 54-11 14-12-35 38 36 5 17-42-88 39 19-38 41-4-50 12 89 13-50-5-15 6 34-25-5 26 24 2-50-5 55-5-15-3 33 3-63 5-29 10 44-63-75 60 75-4 7-22-14-1-66 14 82-12 15 34-49-25-42-25 25 38 74-7-109-23 48 34 30-31-11 0-5-11-20 20-8 24 63-58 1 65-70-19 24 2-26-31 50 45-8-19 9-13-3 26-17-1 37-1-40-50 4 3-45 20 30 8-24-8 69 3-21 4-69-2 112 38-67-33 64 3-63-18 43 37 31-22-81 2 20 13-11-34 63 29-61-13-45 5 51 2-38-13 88 1-64 1 9-5-18 18 20-37 55 10-52 54-41-45 12 45 20-45 53 55-38-41-17 13-38-7 99 8-40-17 37 19-8-48-89 22 36 48 3-66 19 50 45 7-3-48-78 3 58 46-6-27 44-7-65 16 32-8 12-14-14-44-60 61 9 0 53 5-45 25 64-42-80-28 83 51-40-4-56 1 17-2 29-16-20 10-24 13 49-16 28-17 6-2-97 35 87 11-38-46 38 20-35-2 45 16-41-20-48-39 56 47-33-23 55 12-37 9 36-54-4 40-14 9-54-3 32-6 23 21 21-14 13-16-109 5 85 7 23 42-31-33 12 9 9 13-18 13 1-28-31-51 54 42-87-5 104 49-16-35-7-6-15 28-3-1 9-30-55 14 61 5-4-29-31 23 48 9-68-22 21 24-6-28-5 24 36-13-16-8 29 0 2 23-31-25-43-21 81 20-36 2 7 23 46-12-83-31 40 11-1-8 19 4-44-7 38 59-53-11 81-29-40 5-10-16 37 21-62-18 10-7 11 35 22 6-85-40 30 5 58 8-88-29 38 10 55 45-27-22-56-18 75 36 26-15 1-15-47 14 21 6-35-4 5-6 50-3-72-35 31 52 1 6 30-23-58-24 69 37-39 20-10-25-1 2 31-15-46 3 35 20 6-2-15-7-45 0 70 30-40-45-6 18 47 26 11 27-56-52-16-42 9 2-19 68 97-37-55-2-54 12 39-13 25-9 27 9-65-10-13-18 48 47-11-20 56 40-22-13 12-4 8-4-16-15 2 22-47-36-44 9 84-9 20 50-65-19 29-38 37 56-63-51-40-11 84 47" fill="none" stroke="none" style="marker:url(#m4)"/>
<path transform="translate(.5 .5)" d="m143 324 56 68-66-70-40 8 52-19-11 12 6 42 44-2-81-26 43 1 34 20-20-32 13 12-32 2-15-9 64 28-91 7 69-52-12 43-31-19 59 18-37 12 32-34-56 19 74-20-61-12 31 0 17 31-51-18 21 18-19-8 32-12 12 20-31 22 15-32-9-18-5 11-34 14-37-19 119 17-54 1 4-16-34-31 76 62-15 2-33-26 24 13-35-23 35 19-45-19 47 31-58 4 18-35 10 24-22-22 41 27-49-50-8 39 86-6-20-9 0 26-16-21-33 8 53-6-96 6 64-11 31 19 14-22-48 20 7-9-8-25 6 39 37-5-10-21-27 19-60-8-5-9 96-7-53 17 24-9 24 27 0 11-28-20 4-15 45 52-55-47 11 23-66 3 108-19-110 6 87-39-3 37 37 6-32-15-88-7 47-44 46 54-106-27 75 26 26-6-32 20 5-4 0 17 35-48-33 29 26 8 2 1-44-31 11-16 29 22-58 41 29-33-22 5 42-19-13-8 23 49 15-19-23-6-21-36 51 45-39-39 40 31-71 0 33-20 30 42-82 10 38-42 27 39-59-35 9 7 22-31 66 34-13 5-65-25 1 15-2-28 45 10-13 7-25-13-17-1 40-11-20 48-23-19 28-11 8 39 11-17-26-7 36-13-2 35-35-58 46 50 4-26-45-13 7 20 38 41-81-62 14-1-36 13 106 9-42 9 12 7 10 11-10-11 45 23-53-31 29 27-79-24 58-1 21 5-63-22 76 5-68-10 24 44 47-20-61-13 24 26 11-50-19 36 31-4-42 18 6-36-6 17 12 40 27-51-14 8-14 27-63-6 58-25 27 1 8 27-66-35 84 25-127-29 121 14-67 6 18 11 5-19-27 7 60-18-10 25-2-24-48 29 42 0 21-2-86-53 5-1 5 50 30-12-26 1 52 6-11 2 13-16 42-7-59-5 17 51-14-22-37-15 64 21 8-25-29-24-50 71 66 2 7-30 17 48-27-42-14-39 9 52-28-62 45 4-23 11-18-1-1 8-34 22 4-18 81 41 10-29-114-7 54-10 5 13-16 16 37-8-54-20 60 40-20-44 1 4-8 27-35-17 63-23-23 48-26-48-52 26 104-18-44 22 15-25 3 19 1-26-31 4 48 40-23 0 10-46-28 33 59 18-41-39 24 21-46-26-15-10 63 28-39-17-57 16 85 34 17-26-12 17-6-31 35-14-75 17 14 17 39-9-60-18 88 55-40-40-17 21-32-37 69 38-38-31-12-9 70 26-41 6 44 32-58-51-14 23 34-17-25-2-29 13 68 1-35 7-41-22 6-22 22 26 48 27-28-61-3 19-6 7-10 12 5 9 60 15-74-36 23 28 30-10-17-4-28-4 38 24 20-11 6 28-62-36 21-10-26-6 25 14-25-13-23 26-29-12 41-17 32-14 44 25-39 26 10-27-17 4 48-2-8-17-99-26 83 55-100-14 58-40 58 43-50 8 56 17-93-23 59-2 19-6-20-22 10 15 32 17-88-23 93 38-17 1-51-13-2 0-35-16 50-10 34 56-34-40 10 12-38-36-31-50 59 73 5-8-14 11 9-2-3-33 17 45 26 26 8-14-21-9-24-10 2-25-21 32 41 16-5-10-23-8-20-6 16-8 3-18 24 16-53-6 39 3 36 2 8 15-61 18 1-17 42 27-46-28 6-9 3 15-29-15-8 10 84 4-23-7 15 20-64-24 32-32-29 14 45 25-57-6 56-12-35-16 19 21 2 0 49 31-67-24-50 14 29 2 26-41-6 26 4-13 26 35 25-11-17 41-12-67 29 22-95 24 90-60-2 62-46-33 20-5 7 17 12 12-50-61 29 59 48 0-68-31 47 8-101-2 95-2-41 30 41 11-72-53 40 30-7-24-50-6-4 6 64-3-47 2 54 30 13-18-24-17 15 27 10-22-3 11-17-3 50 15-80-33-15 54 66-20-15 18-41-31 32 5-15 15 56-21-22 30-71-47 24 28 77-23-60 10 25-4-26 15 22-7-18 21-47-30 93 6-8 21-7-1 28-28-14 11-15 30-40-31 34-4 22-8-39-1 49 21-10 5 17-28-29 19-25-2 9-7-24 41-27-81 73 87 9-38-81-37 44 23 33 23-22-30-22 12 32 28 12-12-1-10-43-22 47 27-9-7-15 33-23-41-49-20 37 29 63 37-36-32 19-15-52 42 35-16-66-72 42 43-20 11 36 5 37 8-27 0 21 20 25-20-16-31-18 30-49-23 54 25-14-49-36 27 14 10 6-27 28 51-37-50 54 33-44-4-8 14 59-25-58-11 39-6-43-17 25 54 9 2-17-22 29 16-36-14 6 21 14-21 22-19-8 33-46-28 58 31-23 20-26-9 34 0 4-40-11 24-29-22 9 8 44 11-64-13 57 18-53-27 8 29 54-17-27 6-29 10 34-13-32-17-6 14 39 32-4-50-42 4 33 28 5-2-62-65 61 60 2-16-27 16-19-19 48 17-27-4 64-11-133-3 78 50-4-26-24 3 16-44 31 42 21 6-50 19 43-53-72 27 62 15-11-34 14 14-15 5-28 21 37-24 4 8-4-2 8 0-10-32-34 29-3-11 17 34-28-1 22-33 11-2-23-9 33 6 30 5-15-14 17 33-2-2-58-1 54-14-38 31 44 3-83-29 24-14-67 22 13 12 100 0-39-6-51-18 59-27-4 15 30 41-19-28 1-1-23 17 61 1-13-10-8 8-20 23 3-45-18-35-15 11 57 25-35 27 40-36-50 15 32-1-26-14 57-16-72 56 52-8-94-25 64 14 8 0-18-41 22 70-62-51-8 22 88 25-30-27 29 20-87-29 73-6-9 2 21 10-11 7 3 28-83-48 105 3-90 18 17-14 27-25-60 32 53-21-47 21-23-4 46-17 40 11-30 4-2-3 58 4 4 10-24 26 26-46-48 42-57-1 73-25-40-27 59 14-55 30 75-12-44 8-15 6 13-18-35 15 62-15 11-1-50 25-17-25 67 6 4 0-44 17 38-4-82-18 2 21 18-30 51 13 28 29-38-38 5 2-17-14-46 2 88 21-90-1 32 11 33-28-69 0 24 12 44 13 13 8-105-12 77-56 28 55-45 7 33-13-42-22 41-6-18 48 43 8-19-34 16-2-100-6 85 17-39-11-2 51 28-77 20 30-13 23-29-28 19 5-25 29 56-41-44 10-11 31-32-24 32-20 13 16-11-7 17-26-10 27 12-6 7 0" fill="none" stroke="none" style="marker:url(#m4)"/>
<polyline points="55.4,307.5 57.4,307.5 59.3,307.3 61.3,307.1 63.2,306.8 65.2,306.5 67.1,306.1 69.1,305.7 71.0,305.3 73.0,304.9 74.9,304.5 76.9,304.2 78.8,303.9 80.8,303.7 82.7,303.5 84.7,303.5 86.6,303.5 88.6,303.5 90.5,303.5 92.5,303.5 94.4,303.5 96.4,303.5 98.3,303.5 100.3,303.5 102.2,303.5 104.2,303.5 106.1,303.5 108.1,303.5 110.0,303.5 112.0,303.6 113.9,303.6 115.9,303.8 117.8,303.9 119.8,304.1 121.7,304.4 123.7,304.6 125.6,304.9 127.6,305.2 129.5,305.6 131.5,306.0 133.4,306.4 135.4,306.8 137.3,307.2 139.3,307.7 141.2,308.1 143.2,308.6 145.1,309.1 147.1,309.6 149.1,310.1 151.0,310.6 153.0,311.1 154.9,311.6 156.9,312.1 158.8,312.6 160.8,313.1 162.7,313.6 164.7,314.1 166.6,314.6 168.6,315.0 170.5,315.5 172.5,315.9 174.4,316.3 176.4,316.7 178.3,317.1 180.3,317.5 182.2,317.8 184.2,318.1 186.1,318.3 188.1,318.6 190.0,318.8 192.0,318.9 193.9,319.1 195.9,319.1 197.8,319.2 199.8,319.2 201.7,319.2 203.7,319.2 205.6,319.2 207.6,319.2 209.5,319.2" fill="none" stroke="#1f50a3" stroke-width="4.8" stroke-opacity="0.22"/>
<polyline points="55.4,305.5 57.4,305.5 59.3,305.3 61.3,305.1 63.2,304.8 65.2,304.5 67.1,304.1 69.1,303.7 71.0,303.3 73.0,302.9 74.9,302.5 76.9,302.2 78.8,301.9 80.8,301.7 82.7,301.5 84.7,301.5 86.6,301.5 88.6,301.5 90.5,301.5 92.5,301.5 94.4,301.5 96.4,301.5 98.3,301.5 100.3,301.5 102.2,301.5 104.2,301.5 106.1,301.5 108.1,301.5 110.0,301.5 112.0,301.6 113.9,301.6 115.9,301.8 117.8,301.9 119.8,302.1 121.7,302.4 123.7,302.6 125.6,302.9 127.6,303.2 129.5,303.6 131.5,304.0 133.4,304.4 135.4,304.8 137.3,305.2 139.3,305.7 141.2,306.1 143.2,306.6 145.1,307.1 147.1,307.6 149.1,308.1 151.0,308.6 153.0,309.1 154.9,309.6 156.9,310.1 158.8,310.6 160.8,311.1 162.7,311.6 164.7,312.1 166.6,312.6 168.6,313.0 170.5,313.5 172.5,313.9 174.4,314.3 176.4,314.7 178.3,315.1 180.3,315.5 182.2,315.8 184.2,316.1 186.1,316.3 188.1,316.6 190.0,316.8 192.0,316.9 193.9,317.1 195.9,317.1 197.8,317.2 199.8,317.2 201.7,317.2 203.7,317.2 205.6,317.2 207.6,317.2 209.5,317.2" fill="none" stroke="#1a4c9e" stroke-width="0.7" stroke-opacity="0.75"/>
<polyline points="55.4,309.5 57.4,309.5 59.3,309.3 61.3,309.1 63.2,308.8 65.2,308.5 67.1,308.1 69.1,307.7 71.0,307.3 73.0,306.9 74.9,306.5 76.9,306.2 78.8,305.9 80.8,305.7 82.7,305.5 84.7,305.5 86.6,305.5 88.6,305.5 90.5,305.5 92.5,305.5 94.4,305.5 96.4,305.5 98.3,305.5 100.3,305.5 102.2,305.5 104.2,305.5 106.1,305.5 108.1,305.5 110.0,305.5 112.0,305.6 113.9,305.6 115.9,305.8 117.8,305.9 119.8,306.1 121.7,306.4 123.7,306.6 125.6,306.9 127.6,307.2 129.5,307.6 131.5,308.0 133.4,308.4 135.4,308.8 137.3,309.2 139.3,309.7 141.2,310.1 143.2,310.6 145.1,311.1 147.1,311.6 149.1,312.1 151.0,312.6 153.0,313.1 154.9,313.6 156.9,314.1 158.8,314.6 160.8,315.1 162.7,315.6 164.7,316.1 166.6,316.6 168.6,317.0 170.5,317.5 172.5,317.9 174.4,318.3 176.4,318.7 178.3,319.1 180.3,319.5 182.2,319.8 184.2,320.1 186.1,320.3 188.1,320.6 190.0,320.8 192.0,320.9 193.9,321.1 195.9,321.1 197.8,321.2 199.8,321.2 201.7,321.2 203.7,321.2 205.6,321.2 207.6,321.2 209.5,321.2" fill="none" stroke="#1a4c9e" stroke-width="0.7" stroke-opacity="0.75"/>
<polyline points="55.4,307.5 57.4,307.5 59.3,307.3 61.3,307.1 63.2,306.8 65.2,306.5 67.1,306.1 69.1,305.7 71.0,305.3 73.0,304.9 74.9,304.5 76.9,304.2 78.8,303.9 80.8,303.7 82.7,303.5 84.7,303.5 86.6,303.5 88.6,303.5 90.5,303.5 92.5,303.5 94.4,303.5 96.4,303.5 98.3,303.5 100.3,303.5 102.2,303.5 104.2,303.5 106.1,303.5 108.1,303.5 110.0,303.5 112.0,303.6 113.9,303.6 115.9,303.8 117.8,303.9 119.8,304.1 121.7,304.4 123.7,304.6 125.6,304.9 127.6,305.2 129.5,305.6 131.5,306.0 133.4,306.4 135.4,306.8 137.3,307.2 139.3,307.7 141.2,308.1 143.2,308.6 145.1,309.1 147.1,309.6 149.1,310.1 151.0,310.6 153.0,311.1 154.9,311.6 156.9,312.1 158.8,312.6 160.8,313.1 162.7,313.6 164.7,314.1 166.6,314.6 168.6,315.0 170.5,315.5 172.5,315.9 174.4,316.3 176.4,316.7 178.3,317.1 180.3,317.5 182.2,317.8 184.2,318.1 186.1,318.3 188.1,318.6 190.0,318.8 192.0,318.9 193.9,319.1 195.9,319.1 197.8,319.2 199.8,319.2 201.7,319.2 203.7,319.2 205.6,319.2 207.6,319.2 209.5,319.2" fill="none" stroke="#1a4c9e" stroke-width="1.3"/>
<polyline points="55.4,326.9 57.4,326.9 59.3,326.7 61.3,326.5 63.2,326.2 65.2,325.9 67.1,325.5 69.1,325.1 71.0,324.7 73.0,324.3 74.9,323.9 76.9,323.6 78.8,323.3 80.8,323.1 82.7,322.9 84.7,322.9 86.6,322.9 88.6,322.9 90.5,322.9 92.5,322.9 94.4,322.9 96.4,322.9 98.3,322.9 100.3,322.9 102.2,322.9 104.2,322.9 106.1,322.9 108.1,322.9 110.0,322.9 112.0,323.0 113.9,323.0 115.9,323.2 117.8,323.3 119.8,323.6 121.7,323.8 123.7,324.1 125.6,324.4 127.6,324.7 129.5,325.1 131.5,325.4 133.4,325.9 135.4,326.3 137.3,326.7 139.3,327.2 141.2,327.7 143.2,328.2 145.1,328.7 147.1,329.2 149.1,329.7 151.0,330.2 153.0,330.7 154.9,331.3 156.9,331.8 158.8,332.3 160.8,332.8 162.7,333.3 164.7,333.8 166.6,334.3 168.6,334.8 170.5,335.3 172.5,335.7 174.4,336.2 176.4,336.6 178.3,336.9 180.3,337.3 182.2,337.6 184.2,337.9 186.1,338.2 188.1,338.5 190.0,338.7 192.0,338.8 193.9,339.0 195.9,339.0 197.8,339.1 199.8,339.1 201.7,339.1 203.7,339.1 205.6,339.1 207.6,339.1 209.5,339.1" fill="none" stroke="#1a4c9e" stroke-width="2.0"/>
<polyline points="55.4,339.5 57.4,339.5 59.3,339.3 61.3,339.1 63.2,338.8 65.2,338.5 67.1,338.1 69.1,337.7 71.0,337.3 73.0,336.9 74.9,336.5 76.9,336.2 78.8,335.9 80.8,335.7 82.7,335.5 84.7,335.5 86.6,335.5 88.6,335.5 90.5,335.5 92.5,335.5 94.4,335.5 96.4,335.5 98.3,335.5 100.3,335.5 102.2,335.5 104.2,335.5 106.1,335.5 108.1,335.5 110.0,335.5 112.0,335.6 113.9,335.6 115.9,335.8 117.8,336.0 119.8,336.2 121.7,336.4 123.7,336.7 125.6,337.0 127.6,337.3 129.5,337.7 131.5,338.1 133.4,338.5 135.4,338.9 137.3,339.4 139.3,339.8 141.2,340.3 143.2,340.8 145.1,341.3 147.1,341.9 149.1,342.4 151.0,342.9 153.0,343.4 154.9,344.0 156.9,344.5 158.8,345.0 160.8,345.6 162.7,346.1 164.7,346.6 166.6,347.1 168.6,347.6 170.5,348.0 172.5,348.5 174.4,348.9 176.4,349.3 178.3,349.7 180.3,350.1 182.2,350.4 184.2,350.7 186.1,351.0 188.1,351.2 190.0,351.5 192.0,351.6 193.9,351.8 195.9,351.8 197.8,351.9 199.8,351.9 201.7,351.9 203.7,351.9 205.6,351.9 207.6,351.9 209.5,351.9" fill="none" stroke="#1a4c9e" stroke-width="2.6"/>
<polyline points="55.4,351.9 57.4,351.9 59.3,351.7 61.3,351.5 63.2,351.2 65.2,350.8 67.1,350.4 69.1,350.0 71.0,349.5 73.0,349.1 74.9,348.7 76.9,348.3 78.8,348.0 80.8,347.8 82.7,347.6 84.7,347.6 86.6,347.6 88.6,347.6 90.5,347.6 92.5,347.6 94.4,347.6 96.4,347.6 98.3,347.6 100.3,347.6 102.2,347.6 104.2,347.6 106.1,347.6 108.1,347.6 110.0,347.6 112.0,347.7 113.9,347.8 115.9,347.9 117.8,348.1 119.8,348.3 121.7,348.5 123.7,348.8 125.6,349.2 127.6,349.5 129.5,349.9 131.5,350.3 133.4,350.7 135.4,351.2 137.3,351.7 139.3,352.2 141.2,352.7 143.2,353.2 145.1,353.7 147.1,354.3 149.1,354.8 151.0,355.4 153.0,355.9 154.9,356.5 156.9,357.0 158.8,357.6 160.8,358.1 162.7,358.7 164.7,359.2 166.6,359.7 168.6,360.3 170.5,360.7 172.5,361.2 174.4,361.7 176.4,362.1 178.3,362.5 180.3,362.9 182.2,363.2 184.2,363.6 186.1,363.9 188.1,364.1 190.0,364.3 192.0,364.5 193.9,364.6 195.9,364.7 197.8,364.8 199.8,364.8 201.7,364.8 203.7,364.8 205.6,364.8 207.6,364.8 209.5,364.8" fill="none" stroke="#1a4c9e" stroke-width="2.0"/>
<polyline points="55.4,372.2 57.4,372.2 59.3,372.0 61.3,371.7 63.2,371.3 65.2,370.8 67.1,370.3 69.1,369.7 71.0,369.2 73.0,368.6 74.9,368.1 76.9,367.6 78.8,367.2 80.8,366.9 82.7,366.8 84.7,366.7 86.6,366.7 88.6,366.7 90.5,366.7 92.5,366.7 94.4,366.7 96.4,366.7 98.3,366.7 100.3,366.7 102.2,366.7 104.2,366.7 106.1,366.7 108.1,366.7 110.0,366.7 112.0,366.8 113.9,366.9 115.9,367.0 117.8,367.2 119.8,367.4 121.7,367.6 123.7,367.9 125.6,368.2 127.6,368.6 129.5,368.9 131.5,369.3 133.4,369.8 135.4,370.2 137.3,370.7 139.3,371.2 141.2,371.6 143.2,372.2 145.1,372.7 147.1,373.2 149.1,373.7 151.0,374.3 153.0,374.8 154.9,375.4 156.9,375.9 158.8,376.5 160.8,377.0 162.7,377.5 164.7,378.1 166.6,378.6 168.6,379.1 170.5,379.5 172.5,380.0 174.4,380.4 176.4,380.9 178.3,381.3 180.3,381.6 182.2,382.0 184.2,382.3 186.1,382.6 188.1,382.8 190.0,383.0 192.0,383.2 193.9,383.4 195.9,383.4 197.8,383.5 199.8,383.5 201.7,383.5 203.7,383.5 205.6,383.5 207.6,383.5 209.5,383.5" fill="none" stroke="#1f50a3" stroke-width="4.8" stroke-opacity="0.22"/>
<polyline points="55.4,370.2 57.4,370.2 59.3,370.0 61.3,369.7 63.2,369.3 65.2,368.8 67.1,368.3 69.1,367.7 71.0,367.2 73.0,366.6 74.9,366.1 76.9,365.6 78.8,365.2 80.8,364.9 82.7,364.8 84.7,364.7 86.6,364.7 88.6,364.7 90.5,364.7 92.5,364.7 94.4,364.7 96.4,364.7 98.3,364.7 100.3,364.7 102.2,364.7 104.2,364.7 106.1,364.7 108.1,364.7 110.0,364.7 112.0,364.8 113.9,364.9 115.9,365.0 117.8,365.2 119.8,365.4 121.7,365.6 123.7,365.9 125.6,366.2 127.6,366.6 129.5,366.9 131.5,367.3 133.4,367.8 135.4,368.2 137.3,368.7 139.3,369.2 141.2,369.6 143.2,370.2 145.1,370.7 147.1,371.2 149.1,371.7 151.0,372.3 153.0,372.8 154.9,373.4 156.9,373.9 158.8,374.5 160.8,375.0 162.7,375.5 164.7,376.1 166.6,376.6 168.6,377.1 170.5,377.5 172.5,378.0 174.4,378.4 176.4,378.9 178.3,379.3 180.3,379.6 182.2,380.0 184.2,380.3 186.1,380.6 188.1,380.8 190.0,381.0 192.0,381.2 193.9,381.4 195.9,381.4 197.8,381.5 199.8,381.5 201.7,381.5 203.7,381.5 205.6,381.5 207.6,381.5 209.5,381.5" fill="none" stroke="#1a4c9e" stroke-width="0.7" stroke-opacity="0.75"/>
<polyline points="55.4,374.2 57.4,374.2 59.3,374.0 61.3,373.7 63.2,373.3 65.2,372.8 67.1,372.3 69.1,371.7 71.0,371.2 73.0,370.6 74.9,370.1 76.9,369.6 78.8,369.2 80.8,368.9 82.7,368.8 84.7,368.7 86.6,368.7 88.6,368.7 90.5,368.7 92.5,368.7 94.4,368.7 96.4,368.7 98.3,368.7 100.3,368.7 102.2,368.7 104.2,368.7 106.1,368.7 108.1,368.7 110.0,368.7 112.0,368.8 113.9,368.9 115.9,369.0 117.8,369.2 119.8,369.4 121.7,369.6 123.7,369.9 125.6,370.2 127.6,370.6 129.5,370.9 131.5,371.3 133.4,371.8 135.4,372.2 137.3,372.7 139.3,373.2 141.2,373.6 143.2,374.2 145.1,374.7 147.1,375.2 149.1,375.7 151.0,376.3 153.0,376.8 154.9,377.4 156.9,377.9 158.8,378.5 160.8,379.0 162.7,379.5 164.7,380.1 166.6,380.6 168.6,381.1 170.5,381.5 172.5,382.0 174.4,382.4 176.4,382.9 178.3,383.3 180.3,383.6 182.2,384.0 184.2,384.3 186.1,384.6 188.1,384.8 190.0,385.0 192.0,385.2 193.9,385.4 195.9,385.4 197.8,385.5 199.8,385.5 201.7,385.5 203.7,385.5 205.6,385.5 207.6,385.5 209.5,385.5" fill="none" stroke="#1a4c9e" stroke-width="0.7" stroke-opacity="0.75"/>
<polyline points="55.4,372.2 57.4,372.2 59.3,372.0 61.3,371.7 63.2,371.3 65.2,370.8 67.1,370.3 69.1,369.7 71.0,369.2 73.0,368.6 74.9,368.1 76.9,367.6 78.8,367.2 80.8,366.9 82.7,366.8 84.7,366.7 86.6,366.7 88.6,366.7 90.5,366.7 92.5,366.7 94.4,366.7 96.4,366.7 98.3,366.7 100.3,366.7 102.2,366.7 104.2,366.7 106.1,366.7 108.1,366.7 110.0,366.7 112.0,366.8 113.9,366.9 115.9,367.0 117.8,367.2 119.8,367.4 121.7,367.6 123.7,367.9 125.6,368.2 127.6,368.6 129.5,368.9 131.5,369.3 133.4,369.8 135.4,370.2 137.3,370.7 139.3,371.2 141.2,371.6 143.2,372.2 145.1,372.7 147.1,373.2 149.1,373.7 151.0,374.3 153.0,374.8 154.9,375.4 156.9,375.9 158.8,376.5 160.8,377.0 162.7,377.5 164.7,378.1 166.6,378.6 168.6,379.1 170.5,379.5 172.5,380.0 174.4,380.4 176.4,380.9 178.3,381.3 180.3,381.6 182.2,382.0 184.2,382.3 186.1,382.6 188.1,382.8 190.0,383.0 192.0,383.2 193.9,383.4 195.9,383.4 197.8,383.5 199.8,383.5 201.7,383.5 203.7,383.5 205.6,383.5 207.6,383.5 209.5,383.5" fill="none" stroke="#1a4c9e" stroke-width="1.3"/>
<line x1="209.5" y1="319.2" x2="209.5" y2="383.5" stroke="#1f50a3" stroke-width="0.8" stroke-opacity="0.25"/>
<polygon points="525.6,306.8 527.5,306.7 529.5,306.6 531.4,306.4 533.4,306.1 535.3,305.7 537.3,305.4 539.2,305.0 541.2,304.5 543.1,304.1 545.1,303.8 547.0,303.4 549.0,303.2 550.9,303.0 552.9,302.8 554.8,302.8 556.8,302.8 558.7,302.8 560.7,302.8 562.6,302.8 564.5,302.8 566.5,302.8 568.4,302.8 570.4,302.8 572.3,302.8 574.3,302.8 576.2,302.8 578.2,302.8 580.1,302.8 582.1,302.9 584.0,303.0 586.0,303.1 587.9,303.3 589.9,303.5 591.8,303.7 593.8,304.0 595.7,304.3 597.6,304.6 599.6,305.0 601.5,305.4 603.5,305.8 605.4,306.2 607.4,306.7 609.3,307.2 611.3,307.6 613.2,308.1 615.2,308.6 617.1,309.1 619.1,309.7 621.0,310.2 623.0,310.7 624.9,311.2 626.9,311.8 628.8,312.3 630.8,312.8 632.7,313.3 634.6,313.8 636.6,314.3 638.5,314.8 640.5,315.3 642.4,315.7 644.4,316.2 646.3,316.6 648.3,316.9 650.2,317.3 652.2,317.6 654.1,317.9 656.1,318.2 658.0,318.5 660.0,318.7 661.9,318.8 663.9,319.0 665.8,319.0 667.8,319.1 669.7,319.1 671.6,319.1 673.6,319.1 675.5,319.1 677.5,319.1 679.4,319.1 679.4,390.6 677.5,390.6 675.5,390.6 673.6,390.6 671.6,390.6 669.7,390.6 667.8,390.6 665.8,390.5 663.9,390.4 661.9,390.3 660.0,390.1 658.0,389.8 656.1,389.6 654.1,389.2 652.2,388.9 650.2,388.5 648.3,388.1 646.3,387.6 644.4,387.1 642.4,386.6 640.5,386.1 638.5,385.5 636.6,385.0 634.6,384.4 632.7,383.8 630.8,383.2 628.8,382.6 626.9,382.0 624.9,381.4 623.0,380.7 621.0,380.1 619.1,379.5 617.1,378.9 615.2,378.3 613.2,377.7 611.3,377.1 609.3,376.5 607.4,376.0 605.4,375.4 603.5,374.9 601.5,374.5 599.6,374.0 597.6,373.6 595.7,373.2 593.8,372.8 591.8,372.5 589.9,372.2 587.9,371.9 586.0,371.7 584.0,371.6 582.1,371.5 580.1,371.4 578.2,371.4 576.2,371.4 574.3,371.4 572.3,371.4 570.4,371.4 568.4,371.4 566.5,371.4 564.5,371.4 562.6,371.4 560.7,371.4 558.7,371.4 556.8,371.4 554.8,371.4 552.9,371.4 550.9,371.6 549.0,372.0 547.0,372.4 545.1,372.9 543.1,373.5 541.2,374.1 539.2,374.7 537.3,375.4 535.3,376.0 533.4,376.5 531.4,376.9 529.5,377.3 527.5,377.5 525.6,377.6" fill="#fbe0dc"/>
<polygon points="525.6,327.4 527.5,327.3 529.5,327.2 531.4,326.9 533.4,326.6 535.3,326.3 537.3,325.8 539.2,325.4 541.2,325.0 543.1,324.5 545.1,324.1 547.0,323.8 549.0,323.5 550.9,323.3 552.9,323.1 554.8,323.1 556.8,323.1 558.7,323.1 560.7,323.1 562.6,323.1 564.5,323.1 566.5,323.1 568.4,323.1 570.4,323.1 572.3,323.1 574.3,323.1 576.2,323.1 578.2,323.1 580.1,323.1 582.1,323.2 584.0,323.3 586.0,323.4 587.9,323.6 589.9,323.8 591.8,324.1 593.8,324.3 595.7,324.7 597.6,325.0 599.6,325.4 601.5,325.8 603.5,326.2 605.4,326.7 607.4,327.2 609.3,327.6 611.3,328.1 613.2,328.7 615.2,329.2 617.1,329.7 619.1,330.3 621.0,330.8 623.0,331.4 624.9,331.9 626.9,332.5 628.8,333.0 630.8,333.6 632.7,334.1 634.6,334.6 636.6,335.1 638.5,335.6 640.5,336.1 642.4,336.6 644.4,337.0 646.3,337.4 648.3,337.9 650.2,338.2 652.2,338.6 654.1,338.9 656.1,339.2 658.0,339.4 660.0,339.6 661.9,339.8 663.9,340.0 665.8,340.0 667.8,340.1 669.7,340.1 671.6,340.1 673.6,340.1 675.5,340.1 677.5,340.1 679.4,340.1 679.4,369.4 677.5,369.4 675.5,369.4 673.6,369.4 671.6,369.4 669.7,369.4 667.8,369.4 665.8,369.3 663.9,369.2 661.9,369.1 660.0,368.9 658.0,368.7 656.1,368.4 654.1,368.1 652.2,367.8 650.2,367.4 648.3,367.0 646.3,366.6 644.4,366.2 642.4,365.7 640.5,365.2 638.5,364.7 636.6,364.2 634.6,363.7 632.7,363.1 630.8,362.5 628.8,362.0 626.9,361.4 624.9,360.8 623.0,360.2 621.0,359.7 619.1,359.1 617.1,358.5 615.2,358.0 613.2,357.4 611.3,356.9 609.3,356.4 607.4,355.8 605.4,355.4 603.5,354.9 601.5,354.4 599.6,354.0 597.6,353.6 595.7,353.2 593.8,352.9 591.8,352.6 589.9,352.3 587.9,352.1 586.0,351.9 584.0,351.8 582.1,351.7 580.1,351.6 578.2,351.6 576.2,351.6 574.3,351.6 572.3,351.6 570.4,351.6 568.4,351.6 566.5,351.6 564.5,351.6 562.6,351.6 560.7,351.6 558.7,351.6 556.8,351.6 554.8,351.6 552.9,351.6 550.9,351.8 549.0,352.1 547.0,352.4 545.1,352.8 543.1,353.3 541.2,353.8 539.2,354.3 537.3,354.8 535.3,355.3 533.4,355.7 531.4,356.1 529.5,356.4 527.5,356.5 525.6,356.6" fill="#f9d4cf"/>
<path transform="translate(.5 .5)" d="m602 318 28 30-93-38 60 22-8 23 53 7-66-45 52 22 8 22 16-12-85 0 57 5 12 22-54-14 55 14-53-27 25 36 40-30-32 3 4 13-40-46 51-4-40 21-33 6 51 6 17 14 5-15-31-3-28-3 43 2-49-47 75 86-33-44-73 12 91-38 22 35-24 12-68-24 83 16-45-39 33 25-80-22 80 29 32 45-17-68-104 33 74-4-40-43 28 46 19-32-34-22 12 71 17-71-24 39-29-11 71-14-77 18 84-5-62-6 40 30 40 7-25-37-61-2 56 35-23-1 13-9-41-22-8-13 27 40-25-10 73-18 21 39-73-10 61-4-4 26-9-73-54 48-46-8 75-1 49 26-66-15 50-23-61 4 8-16 0 38 31-16-7 22-35-48 54 38-29 16-52-38 31-44 54 88-62 2 31-25 15 13-2-48 16 64-31-35-11 27 3-8-9-49-22 34-10-7 51-15 54 36-34-9-77-42 30 11-3-33 29 35 36 8 18 5-23 43 0-37-28 9 50 4-110-26 93 11-92-26 69 52 8-38 32 42-20-50-35 13 18 12-93-42 104 56-3-32-17 32 42 10-8-21-61-14 13 4 31-27-59 36 81 24-28-28 0 10 9-18-3 5-30 18 37-19-7 28 35-7-87-9 56 14-5-17-32 5-10-14 12 7 3 0 4 17 3-19-16 20 12-11 47 7-55-49-17 17 39 20-59-15 52 11-7 26-19-11-21-68 46 47-11 30-14-9-16-42 44 29 6 12 40-3-32 24-7-58-76 2 89 5-20 26 16-20-13 9 7-23 34 23-61-3 0 14 22-26 29 21-24-14 8 0-5 4-74 21 64-62 35 62-36-37 17 2-7 18-16 36 5-16 38-8-6-31-6 30-41 5-68-2 115 16-8-35 22 36-44-21-30-37-58 31 87-9 18-2-18 0-2 20-8-11-23-23-39 4 13 14 97 8-9 4-61-10 28-3-63-8 67 13-11-27 53 13-6-10-44 16-19-43-29 23 82 20-35 7-26-22-10-1 35 8 20 3 1-31-30 42 12 4 18 8 7 23-66-55 69 14-49-14 11 1-23 14-9-28 78 46-16 1-20-24-70 14 89 5-58 9 49-23-83-22 67 32 23-22 19 16-7 5-42-41-22 59 30-3-35-9-29 30 74-6-7 7 59-28-39-41 29 39-28 13-28-1-36-24 72 8-14 6 0-22 21 30-18-11-6-2 26-11-98-24 69 44 0-10-20-11 43 40-55-36 36 9-3-32 5 13 9 6-53 5 28-16 20 19-19-3 27 17-57-27 32 9-27-5 74-1-40 46-33-59 33 27-31 18-12-13 58 12-47-62 17 45 8-33 15 44-45-39 53 26-32-27-20 26 57 3-20-17-6 2 24-31 7 69-40-37-8-10 23 24-7-30 48 37-62-36 10 11-8 35 38-11 3-37-69-11 30 57-10-50 20 23 1-4-40 13-24-25 55 6 26 22-83-52 99 74-29-54-5 35-55-6 2-2 27-39 37 53-10-15-17-6 60 21-30-8-6-6 35 18-79-40 12 6 75 56-33-44-7 10-74-29 96 26-61-33 65 13-63 4 25 15 37 12-103-65 29 65-15-29 78 3-12-3-1 36-78-7 19-16 6-3 24 16 3-29 54 36-56-16 36-18-40 15 8-6 42-10 17-9-24 17 3 24 28-43-13 40-43-14 23 28-48-38 50-2 1 60 19-16-108-22 47-44-37 34 75-4-1 14-4 10 29-41-53 24 23-10-11-18-34 1 3 42 49-10-21-24-29 21 33 38-10-17 6-17-17-11-17 32 29 9 22-6-42-37 42 15-30-18 26 11-39-10 72 45-48-31-4-14-19-1 59 12-76 22 34-23 40 16-22-21 32 37-31-39-81 1 90 35 14 3-36-33-23-23 18 4-16 52 24-37 22 15-42-22 57 21 8 1-72-11-11 20 52-22-22 12 7-21 5-21 13 44 10-2 15-18-14 9 6 35 7-29-22-10-57 6 55-16 16 34-11-12-11 14 12-7-3-8 1 1 1 13-95-3 43-30 60 22-104-44 108 5-49-9 42 27 19 28 7-31-18 7-28 7-38-32 33 35-40-5 84 48-72-60 64 11-97 4 32-38 45 57 5 14-17-50-11-20 15-8-6 23-52 29 47-49 8 74 11-10 2-32 4 9-46-19-10-3 79 46-98-49 45-27-21 29 66 17-20 15 3-7-23-21-24 9 60 4-100 18 77 2-10-7-18-28 1 10 20 2-7-11 50 25-79-55 20 59 9 33 31-46-26-27-2 4-58-18 69 35-59-3 69-30-23 55 33-5-21-28-10 1 40 38-63-34-52 7 100 3-32 48 18-36 28-4-62-2 58-32 15 54-77-36 24 28 28 10-40-37 6 2 0 10 45-11-96-37 85 63-34-52 34 59-99-57 32 2 2 25 21-12 27-6-32 9 43-14-26 13 30 39-14-23-16-14 16 8-2 40-44-38 23 4 26-8-36-12 24-1 23 29-17-40-15 42-62-28 48 1 38 9 13 21-45-15-25 24 21 7 17-21 21-33-90 17 109 27-60-39 69 53-12-52 4 71-46-61 22 2-21-29-15 16-47 6 37 3-37 2 73-11-1 14 7-35-6 41-33-4-30 38 63-61 22 25-103 28 17 3 79-23-48-35-5 15 79 53-23-27-85 2 48-26 36 21-9 2-16-15 26-4-47-7 31 36 1-36 19 17-62-24 62 17-1 38 4-35-6 28-33-54 58 40 2-19-14-6-33 25-3-1-36 0 31-20 54-5 3 22-106 4 22 3 38-12-17-5 20-1 14-46-17 21-31 31 53 6-36-26-21 1-22-16 43 33 36-1-28 5 7 14 22-17-58-22 48 4-4 30-42-5 52-14-56 2 48 7 10-12-6 18 11-9-20-38-3 42 0 19-4-25 29 18-46-7 7-30-21-18-3 5 12 9 34-14 20 35-51 28 48-40-74 40 33 5 6-8 17-21-40-46 32 28 19-1-51 19-29-22 62 53 20-3-15-56 23 21-6-4-61 11 36-10 13 22-40-14 40 8-16 4-59-46 29 11 58 35-45-8 63 31-23-10 8-8-63-67 3 25 35 25-52-7 40-9-30 29 6-27-5 19 45 7-6-52 2 17-50 33 68 6-100-13 22-25 72 46-32-22-25-14 76 28-27-7 13-26 21 17-18 5-64-3 58 8-3 29-47-62-1-28 53 53-4-12 0 18" fill="none" stroke="none" style="marker:url(#m6)"/>
<path transform="translate(.5 .5)" d="m645 352-37 18-10-64 59 49-50-22-62 17 58-9 4-15 34 42-38-39 20 10-41-29 16 34 52-9-54-7-59-23 129 35-82 17 27-73-51 64 87-9-81-21 39 18 6 22-34-30 68 30-54-6 21-24-8-3 60 37-1-32-23 24 9-3-21-6 13 0-91 12 62-20-11-12-23-11 49 11-42 26 2-2 45-26-59 31 12 11 72 10-85 10 77-60 2 24-10 4-51-15-57 20 17-27 43-2-2 35 19-32-19 7 2 0 25-9-24-58 11 65-46-8 2-34 25 46 29 30-3-37-22-6 14 7 28 39 0-9-33-27-45-1 31-7-16 0-17-10 57 18 20-6-62-3 19 28-56 8 96-36 13 33 10 19-36-34-16 1 56-11-48-23 7 47 25-20-70-32-14 57 104 16 6-65-83 27 65 32-25-17 19-16 8-14-99 30 61-40-9 30 30 40-16-44-45-21 2 22 14-45 48 39-45-3-6 8 3-18-10 25 70 9-3 10 2-31-22-7 17 16-6-35 10 27-49-9-2 27-24-45-9 22 84 47-50-24 58 8-32 4 1-40 31 36-3-31-83 27 12-21-41-16 35-15 21 1 60 16-30 13-12-7 3 28-28-18 73 22-73-62 70 53-60-27 8 23-28 18 35-51 51 61-3-15-35-28-64 7 40-6 7 30 16-38-37-9 83 36-40-38 14 29-37-5-17-28 58 13-26 19-8-11 21-2-68 3 65 31 20 22-81-23 47-9-3 1 31-8-4-41-31 33 46 7-90-4 65-6 25 7-12 10 23 9-15-28-93-3 94 9-11 50 6-61-13 34-78-36 91 19-43 7-35-15 22 13-35-32 73 45-68-29 82 14-12-20 22 3-6 7-74-9 80 42-12-15-38-52 49 52-36-3-79-43 61 11 43 59-26-35 21 9 7-6-40-34-19 52 28-63-30 23 14-4 36 6 6 29-83-34 30-1 60 11-39-3 56 4-129-14 56 11 14-12-18 4 30 7-35-3 62-8-34 35 33-8-5-1-100 7 80 5 31-9-16 22 12-27-28 9-45-49-16 24 0 18 100 7-27-11-66 1 70 25-43-23 57-22-61 4 46 17 6 2-33-8 41 14-14 3 30-23-12-6-60 14 45 15 6 4-39-26-16 8 48-9-5 17-46 10 14-47-2 0 14 57 12-25-78 18 120-15-11 2-62-1 16-8 8-16-11-11-21 12 42 15-13-8 15 28-35-35 61 27-14 23-24-6 5-34 24 1 29 12-55 6-6-32-14-8 32-5 27 44-96-70 68 88 13-3-28-48 30 51-17-31 7 9-11-34 17-1-11 9-35 18 26-1-28-23 35 32 14-3-46-31 15 4-3 11-5 22-16-28 83 35-54-33 7 28-55-5 68-3-52 10-20-10 28 9 31 18 25-18-25-7 32 0-99-19 46 22 50 22-25-21-75-12-16 11 72 1 40-7-33-12-16-6 74 47-70-23 47-10-23 12-15-34-7 40 39-15-81-18 1 24 75-34-33 20 18-5-7 6 36-18-75 0-2 34 63 5-63-46 53 32 44 1-20-33-39 23-6 24-6-26-43 4 69 14-23-36-7 2-55 10 45-21 44 48-33-9 14-24 47 43-108-13-1-19 97 39-71-65 60 45-51-40 50 34 11 7-24-8 30 0-96-28 106-12-97 41 47 21 41-9-14-9 30-34-37 24-24-5 62 6-50 1 0-9 9-3-53 17 77 3-70-29 50 6-3 14-59 4 50 13 19-40-35 16-3 30 23 1-49-46 28 29-45 11 100-26-13 46-87-44 72 0 22-8-64-3 0 5 45 33 22-4-43-20-68 25 40-43-33-21 91 85-77-25 59 18 21-21 17-35-29 25 16 18-13 11-59 13 47-25-78-21 70-28-1 46-14-32 30-20-81 22 18-21 85 44-66-38 70 40-50-3-19-5-36-19 17 22 38 3 35 7-2-9-18 4-39-22-47 3 102 60-71-60 70-22-78 22 32 30 34-26 21 9-9-8 0 25-24-55 18 29-15 20-63-41 14 38 30-24 68 36-58-42 12 6-15 25 39 13-35-49-30 23 27 6-52-32 3 14 60-23-67 20 73 43 1-43-63-5 88 59-29-47 4-1 14 20-47 32 26-71-53 18 82-11-3 28-7 11-24-30-32-17 68 38-110-42 42 32 19-59 35 62 26 32-49-8-1-7-40-29 78-9-65-21 6 30 72 26-19-14-14 8-67-53 87 12-93 30 97-13-84-32 62 22-68 11 71 16-27-12 15 9 21 19-1 21-4-58-37-24 21 52 29 2-10-31-56-30-32 25 90 50 3-11-57-16 62 14-40-19 48 40-34-60-40 29 19 8 3-53 13 39 22 7-30-14-14-19 5 40 5 2 8-24-60 28 36-38-23 30 13-39 24 12 47 41-88-26 83-5-4 36-76-36 23 13 52 44 3-70-25 50-15-41-12 3 16 4 4 24-4-53-17 13 25 39-18-21 26 17 6-19-21 15 42-13-64-49 49 51-9 54 6-36-71-47 66 45-34-8-2 1 57-9-36 7-58-55 49 56-2-16-6 19-45-5 78-9-29 8 1-43 33 24-25 2 33 49-1-57-2 21-40-44 56 10-36 29-55-15 29 5 15-12-65 33 74-24 1 34-23-43-19 40 51-3-18-32-14 26 33-10 5 1 13-18-37-2-29 20 15-1-24 21 61-42-18 43-1-43 11 64 8-21-2-20-13 18 14-31-21-20-42-7 80 27 3 49 0-28-13 0 18 29-34-34 32-3-28 34-70-44 112-10-67 10 7-19-41 45 61 2 1-33-38 9 9 0 29-39-13 52 18-2-13 25 6-15-85-6 108 34-73-54 53 39-65-15 60-22-58-9 55-8-20 14 27-9-13 20 9-5-24 16 38 40-75-56 83 33-9-58-45 30 18-19-73 37 19-23 74-1 18-8-109 6 107 41-45-28-56-25 94 10 5-9-21 19-24-14-7-3 39 22-1-2-10-24 40 50-21-14 12 4-54-19 48 34-71-24 30-26 17-9 21-3-4 76-51-49 43 54 1-44 15 12-25-1-19-1 50-7-3-33-30 10 8 18-2-15-10 53 31-55-49 18 1-5 32 7-5-20-20 22 17 13 27-35-24 8-64-3 41-3 8-1 7-20-54 32 48 10-4-9-29-24 33 3-12 26-1-29-44 0 42 25-10-63 67 87-45-54 7 18-67-6 19-41 30 42-41 5 86 9" fill="none" stroke="none" style="marker:url(#m6)"/>
<path transform="translate(.5 .5)" d="m666 369-76-60 29 45 27-7-73-14 19 19 46-48 5 44-18 6-50-72 9 50 29 14 30 18-25-25-5 35 19-22-56-21 46 38 31-28-36-15-10 17-50 26 68-17-18-5 44 10-23 2-3 0-29 19 4-23-25-24 6 25-8-26 64 8 7-11-36 1-36-6 15 27 26 29 37-22-32-3 8-84 7 63-3 45-15-52-7-5-38-4 50 34 22 23-14-39-28-12 15 16 19-9 22 43-38-6-78-42 41 26 79-25-7 16-7 31 11-42-14 32-32-32-16 11 5 1-7-33 43 13-15 21 21-5 3 37-92-23 65-15 26-13-13 28 0 17-47-21 38-27 44 32-75-16 32-14 42 29-74-12 35-19 19 32-33-24-6 13-9-13 21 36-1 27-16-43 26-22-18 26-3-30 16 39-24 10-33-45 2-19 96 57-22-31-19-7-29 3-23-3 24 16 33-7-5 31-58-73 44 68 14-24-53-5 4-11 21 8 42 18-100 12 77-27-36-18 37 29 20-5 9-57-10 88-19-9-25-29 49-14-38-29 33 78-63-51 21 27-35-7 39 1-4-20 16-6-9 35 26-10-5-10-40 3 69 22-49-2 54-3-42-3 12 5 22 28-42-31-25 12-32-59 90 60-6-8-26-12 39 7 8 38-50-60 20 27 20 23-101-17 97 15-15-33-4-9 5 4 41 13-81-25 29 28-7-9 31 7-41-30 62 47-32-28-36 17 59 4 14-44-105 4 75 36-34-14 21-4 3 13-37-11 35 21-81-5 87 20-24-57 48 15-98 1 81 16 7 20-66-36 41-10-20 20-42-10 98 34-40-13 14-12-21-18 10 17 39 37-61-59 16 0-26 5 39 29-30-24 65 27-79-14 19-34-20 45 6-10-27-20 49 42 19-28-75 11 80 11-13-28-12 0 6-5 43 34-32 19-31-14 72-26-13-29-105 13 72 16-4 30 12-25-54-10 50-10-24 20 39 3-6 15-26-31 48 9-42-2-7-25-56 53 107-21-57-23 45 33 2 0 2-11-85 9 110-16-15 3-29-16-59 32 75 7-44-41-15 9 54-5 9 29-17 4 9-32-72 46 16-43 12 16 53 29-50-9 63-8-67 5 6-60 31 38 19 13-15 22 14-31-16-2-17 43-52-34 75 3-32-20-11-50-11 76 37-17-19-1 64 28-83-35 68-2-21 14 7 9-26-47 44 49-25-3-50-9-37-18 88 29-72-12 74-13-60 44 4-66 15 0 67 40-37-10 21 15-93-20 40 15 39-20-42-16 4 35-3-5 33 1 33 23-58-69 35 58 22 31-59-27 60-17-65-13 25 28 7-14 7 10-12 28-4-36 0-20 36 23-48-22 17-15-74 47 55-53 44 33-41-4 26 8 33 17-98 14 7-47 54-3-19 35-21-42-3 29 13-23 55 28-48-7 12 4 13-5 21 20-39-6 4-10 31-9-97 2 91-11 1 11-20 13 14 36-42-35-40-19 26 15 14-32 38 14-32-12 49 39-52-40 11 11 19 14 38 15-109-15 109 45-41-70-52-11 21 26-10-15 51 11 0 56-41-31-29-52 28 62 29-16-6 30 41-8-29-23 21 13-54-27-3-15 2 8-25 20 85 12-2-21 10 12-49-11-44-5 70 24 0-25-6 6 11 3-25 7 33-1 0-10-61 7 6 5 61 34-45-55 13 19-53-8 43-6-5 9 43 23-28-13-14-28-65 21 57-9 61 42-40-29-11-7 21-23 10 62-39-5 30-26-22-53 8 61-6 6 14-32-24-9-45 15 12-16-21 10 32-13 77 46-30-21 38-15-110 27 76-34-8-1 5 50-18-41 46 28-24-16 15 9-10-12 0 10-20-32-25 4 49 27-16 3-1-25-19 6 17 14-39-3 54 29-26-12 0-39 34 50-45-16 15-15 49 21-65-38 18 11 16 3-35 24 18-27 35 19-4 7-62-48 46 57 30 3-23-50-78-3 61 29-29-23 17 32-8-34-2 19 74 33-22-54-42-6 12 55-23-51-7 48-31-43 15 23 43 20 16-23-36-5 29 20 1-45-17 20-55 10 39-13 10 1 40 15-93-29 58 0 20 3-18 23 5-12-1 21-22 5 44-1-21-19 12-29-8 34 51 38-27-17-6-18-24-21-12 21-57-53 82 55-5-15-14-6-38-16 27 3 27 38 3 7 20-3-20-16-14 34 42-39-3 23-25-34-35 22-18-19-30-24 96 75-17-41-44 19-27 29 94-45 15 15-52-19-46-22 46 16-51 0 27 2 50 2-78-14 57-11 22-13 21 54-60-70 68 46-52-26-43 22 21-8 20 38-8-15 0 3 28 22-47-46 26 45-42-52 63 40-52-24 48-15-76 29 65 52 6-39 31-4-88-35 78 21-34 19 40-11-86 18 53-28 22-10 9 38-24-3 33 4-41-20 4-14-51-12 18 46 55-33-17-5-8-7-10-32-38 37 42 12-14 21 50 16-43-32 20-32-34 18-20 5 49 33 44-9-21 18-32-13-25-41 39 9-16 36 27-68 0 58 8 6-11 18-43-54 10 31 2-27-36-20 48 10-5 29-1-1 36 32-48-72-15 49 36-18-16 35 3 10 43-36-42-24 37 27-48 0 36 1-32-36 55 30-20 23 20 3-51 5 12-66 47 41-31-25 34 73-78-61 80 1-63 38 26-49 38-5-60 13-11 11 55-7-50-12 24 48-5-73 21 43-47 7-4-26 39 2 13 26-10 1-19-27-15 25-33-1-3 3 95-2-111-30 79 35 12-2-3-45 20 51-30-34 6 43-41-42 45 13-15 19-11-27 51 40-69-30 47 4-44-37 1 35 0-33 60 61-46-5 47-25 9 40-30-1 19-34-21-18-77 15 18-32 44 42-34-14 14 12 40-2-79-6 90 6-24-28-31 14 14 2-29 28 25-58 1 36 9-3 10-24 11 71-35-61 8 18-8-2 22-28-74 12 52 11 70 19-86-66 45 78-51-36 45 8 14 13-10-34 1 23 31 21 2-18-89-21 49 21-31-32 20-18-6 26 33 8-24 8-67 14 54 4 9 1 15-1-10 7 4-26 42 3-86 3 60-7 29 0-46-35 17 46-6-7-17-26-2 55 43-28-100-28 103-3-57 33 15-21 24 23-25 8 26 2-6-37 40 36-60-22-25 20-20 4 75 3-80 4 73 13-4-13 9-13-33-14 9 40 27-23-46-17 26 6 20 27-19-29-43 7" fill="none" stroke="none" style="marker:url(#m6)"/>
<path transform="translate(.5 .5)" d="m648 374-27-18-7-2-21-18 27 29-18-39-30 23 88-20-75 26 36 1 17-6-85-7 94-12-34 33 9-17-9 0 24 10-9-17-8 12 36 6-8-27-27 28 24 3 5-10-48-18 18 28 47-24-114-8 46-15-14 30 13-16-39-47 80 61-57 20 35-21 37 30 15-4-125-47 81 17 28 11-68-15 56 6-50-9 70 34-25-12 22-1-46 43-50-19 83-7-32-1-8-48 0-7 17 56 7-26-48-9 38 0-16-3-56 29 54-49-65-6 65 29 59 48-26-43-13 5 10-9 33 8-39-24-70 30 70 12 26-12-4 36-29-22-72-40 62 32 33-33-58 49 25-22-41-5 36 31 0-19 13 0 9-27 1 21-11 11-2 5 17-48-68-3-16 0 39 28 29 8 33 22-12-12-30 16 24-20 4-24-47 13 20-1-27 9 35-3 0 0 53 5-32 14-40-26 34 27-17-8-41-30 22-9-39 33 7-61 57 51-10 4 7 25 1-21 25-13-32-28-24 43 2 20 35-28-24-6 60 9-51-19 0 37 19-3-19-44 20 31-2-32 19 31-83 4 85 10 9-12-93-43 41 42-16-25 39 9 8 25-3-14-9 5-16 0-10-16 8 4 15 6 7 14-1-4 2 6 29-8-51-16 19 6-9-19 54 38-30 0-77-38 74 35-14-35-37-23 12 55 52-22-25 8 37-39-74 0 15 27 63 9-40 3 13 12-23-38-55 2 75 37-15-30 3 28-20 1 35-26-3 44 27-7-58-3-62-23 66-35-4 38-31 4 19-10-3 2 74 49-64-60-23-6 52 10-31 7 41 1 32 58-75-59 48 15-29 3 2 20 42-14-57-7-40 10 68-32-62 8 53 16 14-20 16 16-88-7-4-19-9 20 74 8-18 6-52-36 75 9-45-29 11 24 40-6 4 44-68-16 38 5-39-23 1-4 19-28-28 64 83 6-112-40 137 24-8 18-24-15-5-47 23 58-22-33-16 9-38-4-2-15 37-10 51 42-38-14-54-3 47-9-39-13 45 35 31 22-30-6 20-20-95-39 96 37-25-13-3-2 32 22-27-17-8 13-74-13 77 20-17 1-4 8 3-38-10-4-39 24 62-20 54 50-88-13 34-7-61-27 88 42-18-45-86 29 69 5 10-17-40-3 10-39 12 40 15 41 31 10-57-67-17 33 45-28-18 3-44-10 5-11 79 41 15-9-38-6 12 5 16 1-60 9 57 17-58-27-18-47 64 49-28-12 43 19 0-55 4 55-48-16 32 7-14 16-4-12 28-18-8 13 34-1-100-1 58-30-59 34 39 26-46-64 70 46 5-2-68-65 49 20 3 37 30-37-13 30-70-14 80 42-37-7 37 1-95 2 113-27-54-8-57 13 86 12-44-15 72-1-34 16-33-14-62-19 85 39-16-19-62 6 6 10 62-5-40-14 44-3-23 19 9-5 14 1 29 22-34-48 47 53-50-15-19-46 38 25-14-6-32-7 64 28 9 41-40-56-68 5 22-26 55 6-26 6-26 12 68 6 8-22-89 36 46-29 51 41-83-86 60 59-68-3 35 14 60 9-38-20-18-5 44 46-37-65 1 43-2-67-39 27 8 24-10-8-15 15-10-16 17 11 17 30 22-36 49 9-8-8-6 0-38 4 32 14 4 8 8-39-91-6 39-16 78 49-98-52 78 48-28-66 11 94-2-1 12 8-86-69 65 20-72 25 26-22 52-26-6 34 16 14-39-63-24 28 57 1 18 15-20 1 29-9-10 6-8-42-15 18 34 27-61-42 46 23-93 3 95-7-48 17 52-30 5 23-120-22 113 61-4-38-70 6 38-8 11-3 22-16-91 38 80 31-8-54-52-17 75 8-100 19 66 12 37-12-75-38 21 39 56-8-75-23 29 31-33 44 64-46-18 44 15-56-47-8 16-5 1 13 61 16-36-16 7 9-30-2 16-17 8 3-22 35 0 11-18 2 24-34 30-12 22 22-63 15 28-41 15 39-41 2-69-13 84 13 1 6 40-4-1-27-20 40-26-36-12 10 49-3 5 7-44-16-29-5 76 22-36-20-20 22-30-41-29-13 88 60 2-8-73 19 72-8 0-31-24 21 25-23-30 21 52-27-3 33-37 2 40 18 1-35-44-18-47-18 45 54 9-18-22 1 7 0 50 41 15-56-24 17-51 8-18-12 9-22 31 20-22-3 23-4 11 12 30 10-61-11 8 11 12-26 2 27-31 29 72-16-37-52 30 21-18-14-32-25 31 31-31 19 36-43-74 40 53-16 10-26-52 18 15 0 40 22 5 9 1-13-25-30 47 40-42-56-34 35 56 12-45-32 46 11-9 2 36 11-44-20-28 38-39-1 40-37 24 5-36 31 67-6-40 7 45-38-60-4 42 28-36-15 45 40-10-25-4 49-35-50-36 23-1-25 48 6 1-8 35-4-11-4-41-52 41 58 10 23-83-31 52 21 13-14-41 18 20-10-39 15 39 10 41-31-8 31-5-1-27-38 24-4-8 19-7 10-28 2 48-4-2-8-27-9-11 9-15 15 58-21-67 24 69-10-27 13-72-31 103 28-11-17-27-4 24 0-76 10 65-2 3 20-1-6 14 6-40-10-41-29 42 2-32 4 99 30-80-53 38 71 11-29-31-33 48 30-17-1-19 6-12-22 47-2-34 40-6-37 35 32-103-22 49 12 31-37 4 34-16-19 37 29-33-31 10 53-27-54 5 21 39 14-8-21 19-4-24-13-37 19 52-6-13 15 14-21-27-8-9 1 3-25 6 43 3-3-39 7 61 33-42-35 20-7-44-25 39 2 24 36-16-2-14-2-59 2-7-24 61-8 46 33-45-25-13 7 44-4-37-28 50 44-47-21-51-3 33 50 14-29 5-15 23 0-13 5-32 4 61 16-29-45 0 17-52 5 57 19-24-15 20 25-21-27 64-20-63 27 51 47-103-52 96 36-5-21 17-13-15 17 0-11-91-10 81 12 24 17-14 6 37 1-51-22 26 3-38 16-31-35 41 30 7-20 11 7-51-14 5-26-38 62 90-16-74-19 10 23 86 2-32-10-65-16 52 19-69 6 50-36 4 9 45 17-57 16 0-38-4 5-41-15 65 7-13 38-7-31 19 1 54 26-60-2-8-23 21 63 10-51 7-19-30-19-33 31-26 4 53-25 48-12-42 62-35-37 68 31-44-44 59 23-69-10 8-17 10 17 54 27-23-23-35 14 26-17" fill="none" stroke="none" style="marker:url(#m6)"/>
<path transform="translate(.5 .5)" d="m622 389-63-48 7 5 5-39 15 35-48 19 93-7 13-4-23-13-32-29 16 7-29 17 15 29 28-42-44 9 49 16 22-16 6 42-87-49 30 63 32-37 2-1-48-23 49 75-50-50 7 53 11-81-13 13-1 4 34 23-8-34-41 3-9-1 20-1 18 26 12 34-32-57-23 11 75-17-32 16 20 11 36-1-52-7 3 0-28-18-27 3 17 17 53 8-41-13 26-3 25 16-44-11 38-12 6 14-2 25-23-35-13-3 42 55-7-26-29-9 14-10 4 6 41 0-42-29 3 21-60-15 79 35-10-8 29 10-94-9 17-9 53 6-47-37-3-6 77 66-53-34-54-4 88-8-20 12 16 13-6-41-5-3 3 35 17 22-54-13 38-14-1 10-82 0 53-10-69-8 57 22 10-47 39 94-49-56 43-15 21 47 4-9-61-3-31-62 75 43-16 7 22 15-23-18-50-22-13 23 49 25 12-3-11-28-21-2 20 9 21-7-69-33 53 57-26-38 37 24-30-45 2 21-13 20 6-30 48 13-8 12-58-14 61 35 6-20-8 25 0-62-52 0 59 52-92 0 92-32-42 35-29-8 7-32 61 36-61-27 52 19-38 11 66-40 1 25-17 5-28-4 15 44-44-55 34-4-13-4-1 5 25-1 23 32-9-19-17-21 20 11-6 29-29-38 21-1-64 18 63 19-11 9-38-19-21 3 19-2 45-39 3 43-30-30-36 8 44-9 29 16 13 43 0-11-22-27-8 36 31-35 6 36-31-50-37 29 61-24-50 20 40 3-35-4-3 13 12-26 10 17 48-9-88-10 79 52-17-26-8-14 25-28-107 3 53 18 41 2-66-30 48 50 0 7-72-21 73 2-38-32 34 14-20 13-1-9 3 13 24 7-54-30 35 5 4 2-2 12-1-9 13-5-17-4 18-40-36 57 35-7-27 37 21-51-42-9 50-37-48 63 83 3-76 2 10-11 19-26 42 46-30 3-20-41 42 50-16-42-29 9-51-15 116 56-111-70 102 53-111-36 119 44-123-33 99 1-76-1 86 10-91-11 47 3-4 1 38-1-71 6 42 3 11-15-80-17 114 5-12-6-59-10 74 16-33 9 31 49-104-56 46 12-27-5 51 18 34 30-14-38 7 8-39-41-47 47 33 10 16-23-51 11 62-20 10 2-28 11-9-19-8-12-20 3 51-27-47 28 49-7-20 61 18-46-3 23-32-16 54 34 20-38-23 29-25-43-18 42-55-25 93 39 5-1-24-19 5 12-4-7-3 8 41 25-87-64-11 15 67 13-31-19-1 15-21-12-1 24 19-46 11 17-28-15 12 50 14-25 39-7-14-11 6 47-27 3 62-20-35-21 12 6 23-1-50-27 54 59-50-49 36 24-81-32 46 27-66 33 38-27 21-15 28 27-53-58-25 28 29 5 67 37-76-2 79-39-25 20-14-1-13-2-2 9-8-23 37 26-37-12 40 33-32-33 41 6 4 22 0 2-3-21-50 5 52-6-14 11-24-26-10-2 37 0-11 15 42 17-3-22-61-16-6 1 21 32-19-63-57 20 113 33-25-5-79-15-10 9 1 8 56-12 23 17-34-19-43-29 57 19 52 29-4-16 5 8-27 5-10-20 11 16 31-19-78-1-30 6 19 0 68 23-42-41-25 33 33-28 45 26-67-58 33 22-9 33 7-10-63 17-7-34 100 50-6-27-50 13 57 6-30 2-5-20 26-15-10 1 16 15 0 21-32-39-52 38 63-12-55-9 56-19-41 48-14-18 20 17-9-14-14-37 55 8 17 20-10-7-5 14-55-48-13 32 99 16-27-19-27 31 37 4 12-44 2 14-18-35-24 32-15-11 40 68-24-76-48 5 65 30 36-15-45 51-6-82-28 16 55 26-25-8 33-5-20 41-40-38 37 44-84-68 97 63-69-39 97-28-13 56-110 19 86-54 4 22-37-28 37 1-73 5 89 15 4-8-42 1 35-3-20 12-17-43 47 19-90-10 39 4-52 41 60 18 57-23-29 6-32-20 19-5-20-6 9 24-16-26-4 9 39-13-56-4 48 36 29 3-31-22-58-2 86 27-43-36 12 17 5 15-34-33 65 9-41 11 34-18-31 30-56-39 39 24 45 12-47 12 15-18 10 15-68-6 83-12-44-9 4 10 46 12-25-2-1-49-8 17-30 4 54 3-72 44 79-23-61-37-8-6 71 21-37-2 19 28 43 17-30-4-57-42 34 19 5-10 4 35 12-17 2 5-24-11-15-5 2-19-19 37 16 8 50-25-8 12-5-9-63-30 49 33 36 28-15-32-18 0 37-7-55 9 44 3-4 22 2-5-27 5-28 7-33-35 58-4-14 21 58-27-81-6 42-7-19 21-36-2 21 0 10 5-24 9 38-1-26-38 51 52-9-36-24 3-24-3-7 27 85 4-100 34 24-70 2 11 66-2-19 31-9-30-18 16-18-9 1 1 38-1 22 6-39-11-33-23 41 35 33 11-16-50 16 51-103-26 64-1 22 14 33-6-43 11 16-33-6 23-17-19-37-45 40 93-75-64 83 42 10 27-28-23-6-45 54 37-101-17 49 17 34 6-36 7 18-12-36-6 65 13-95-47 38 11 53 35 8-10-108-31-6 13 47 11-29-30 69 46-3-11-54 3 26 3-16-1 69-5-67 12 43-7-9-4-41 6 67 25-65-15 91-19-72-6 47-15-38 3-21-25-24 8 64 54 3 4-11-16 4 7-55-31 26 1 71-1 1 24-130-22 53-8 62 2-39 7 51 28-47 1 18-41 0 58 10-16-102-16 40-6 22 14 7 1 39 33-22 1 18-24 21-15-60-11-28-4 48-8 37 17-75-3 31-31 26 31-33-11-60-2 45 13 7 21 10 16 14 6-36-62 20 27 18-22-31-7-17 34 30-19 31 23-43-56-20 71 26-12 19-23-42-28 64 26 6-8-14 42 29-13-45-13-59-1 33-12 41 26 5 2-26 19 36 19-61-78-17-17 74 45-1 7-36 14-20-47-33-28 110 69-108-20 61 28-28-68 74 62-16 3-1-13-82-2 12-15-34-27 34 28 10 36 42 10 19-4-59-63 52 58-80-6 69 23-11-7 13-26-25-4 23-9-12 28-17-22 26 18 0-45-10 29-32 12 54 11 27-13-94-10 60 21 11 3 2-20-39-48-12 36 36 1-22-18 24 12 28 0-37 46 0-42-13 2-17 14-11 9 39-22" fill="none" stroke="none" style="marker:url(#m6)"/>
<path transform="translate(.5 .5)" d="m577 321 56 61-64-66-3 24 65 1 17 32-32-8-7-7-17-35-1 26 65 33-89-37-14-31 51 60 32-45-44 19 34-17-28 14-32-3 5-54 44 95-18-53-4 32 17-9-14-10-27 6 68 16-30 6 9-24-39-17 17 17 59-3 6-5-43 0-34 16 68-5-75-12-9-11 28 22-39-45 47 24 11 62 27-44-65-35 32 32 15 24 1-27 40 7-62 1 1-4-16-14 58 42-65-53 9 15 36 20-1-11-2 26-29-50-4-10 35 58-54-39 28-10 14 15 39 25-18 8 1-15-41-11 17-11-47 40 74-37-21 42 22-19 7 18 0-20-85 1 40-2 12-35 51 47-27-29 0 15-37-14-45 35 108-5-58-29-9-15-30 19 87-10-12 41-11-44-49 53-37-50 73 8 53 1-61-15 24 6-59 16 57-19 35 56-57-18 27-28-30-7-42 10 24-20-21 45 23-20 34-16 12 8-77-19 33 14 59 2-29-4 8 6 2 27 9 20-13-45-18 6-42 36 93-38-111 7 45 9-11-16 23-6 11 27-21-4 25-19-51-26 16 22 22-25 23 2-31 28-27-4 75 6 1-4-25 29 6-30 37-18-29 32-14-8-30 37 42-63-40 36-29-25 75 5-39 13 29 1-45 7 3 7 40-17-47-5 14 22-6-44 36 55-12-13 16-3-59-19 44 4-30-14 52-3-2 15-58 12 37-21 17 60-16-64 18 33-49-9-14-54 14 69-7-46 66 4-72 16 57 27-21-14 7 10-13-43 38 59-62-33 5-2 64-36-6 43-76-1-24 6 107-14-33 12 13-26-67 20 78 14-80-53 54 27 35 39-10-6-26-25 36-6-56 26 5-13-13-30 11 19 16-29-37 28 43-22-19 36-2 0 9-27-19 17-18 7 58-15 29 41-53-35 7-1 6 8-13-11-26 18-8-16 49 4 46 19-42-14-32-15 60-11-35 37 30 3-99-63 25 66 74 8-85-22 37 9 21-15 18 6 22 0-51-47-5-1 36 5-15 26 0 3-28 19 18 5-33-14 2-10 59 47-59-35-2-10-17 8 33-7 55-13-37 12-37 8 46-9-13-9 19 16-42 9-6-59 2 60 14-5 46 1-10 11 15-1-64-44 27 45-38-16-2 1 65 5-8-10-6 7-27-31 74 24-46 33 20-35-65 45 43-37-8-41-22 57 54-6-31-17 28-19-70-1 41 15 0 15 8 22 17-24 3 5 9-3-29-16-29-8-1 10 9-32-28 36 4 14 24-5 34-7 7 13-11-23 5 32-3-22-52-8 10-6 40-24-62 29 48-5-6-7 35 22 3 14-20 19 39-64-36 41-22 8-66-6 109-2 8 21-75-39 73 21-20-13-53-62-3 64 23-8-28-11 9-4 48 22-23-22 23 18-8-6 1-32 24 65-4-16-16 12-22-22-35 18 54 9-9 8 42-14-44-47-67 9 90 8-32 40 20-37-33 20 62-18-81 32 10-5 39-2-8-1-2 17 30-33-79-39 73 59 1-13 26-4-27-12-13-1-46 8-15-5 38 0 35 10-74-26 20 34 8-42 64 33-36-9 20 0-25 8-10-10 42 12-17 4-48-22-7 33 45-8 36 11-82-59 34 60 50-38-112 26 15-33 27 47-22-42 63 2 18-7-97 0 74 14-44-13 39 15-44-2 80 18-14-22-55-6-20 16 85-16-21 17 11-7-35-1 44 11 15 9-30 18 2-35 1 28-89-50 45 7 50 32-61-4 78 11-31-27-72 6 52-3 15 18-8-22 11 0-29 10-1 17 51 15-75-30 48-7-41 3-17 7 74 19-42-43-10-2 7 4 7 13 12 5-35-32 49 33-40-45 20 42-47-23 13 13 31 14 17-10 3 12 24 8-26 20-43-30 37 8-31-6 34-29 39 43-20-6 6-21-33 59 22-37-1 7-15-52-33 16 63 42-55-45 7 11-45 1 2 21 84 8 17-15-11-1-79 6 71-34-47-3 73 10-37 45-30-36 2 37 49-16-28 13-5-17-9-28 12 24-37 7 37-14-19 33 67-20-83-38-31-19-19 42 108 4 10 2-14 7-7 5-45-53 6 45 36-23 2 0-48 35 57-3-32-36-2 50-18-13 52-29-21 9 28-40-2 71-2 8 6-30-39 15 36-41 21 17-30-14-38 24 16-7-48-5 36-15-33-31 85 54-21-26-10 40 10-23 13-29-71 10 45 40-4-18 31 12-12-1-41-43-10-5-41 60 73-48-45 46 7-26 39 6-6-1-40-11 54 16-32-17-9-7-36 26 91-4-62 12 12 0 54-13-17 8 2-6-3 12 6-101-4 101 29-26-44-7 26 38-1-11-66-26 84 55-108-21 55-15 41 10-6 38-10-52-20-9 50 12-42 0 9-6-27 29-9-33 48 1 7 22-41-45 44 19-62-32 35 22-38 40 68 3-104-19 85-10-26 14 15-21-53 20 48-31 31 47-66-26 18 2 29-3 19 6-78-17 54 34-49-49 25 21-35-10 72 19-54-23-4-4-15 13 79 16-20 26-6-6 9-1 34-18-82-19 6 36 72 21-50-51-45-14-9 1 84 28 27 1-79-14 56 33-45-23 58-48-14 94 5-3-11-73 26 9-58 27 10-10 0-3 4 11-13-39 27 53 18-59-34 3 54 66-48-38 44 30-15-1-58-40 12 13 63 11-87 10 61 17-53-25-18-11 42 19 13 21-2-4-1-9 3-57 18 36-94 3 110-8-22-9-39-1 59 36-18-5-35-9 21-7 8 6-40-22 41 38-40-50 33 43-19-19 29 25 2-25-37-8 41 4-9 20 9 3-75-74 55 54-27-7 62 5-39 7-23-15-7 7 25 32-23-31 45 0-35-12 8-11 6-16 18 37-43 30 35-43 12 35 23-24-21 14-34 19 14-19 4-41-1 24-69-7 107 43-88-35 66 17 2-15-25 7 18-20 37 19-41-18-17 19 6 7-13 2-20-25 58 19-55-29 17 30 12-7 16-5-2 20 45 1-116-30 17 33 26-12-59-42 30 24 55 29 20 3-26-5 8 3-10-31-41 14 55 24-40 2-22-35 68 30 31 18-40-41-24-28-29 31-23 23 89-43-37 44-56-31 70 33-8-47 25 60-75-52 33 0 7 20-23-47 37 41 57 10-94-24-9 18 75 7-10-21-28 19 40 18-45-31-4 0 49 1 3-3 13 4-28-8-46 17-29 9 90-23" fill="none" stroke="none" style="marker:url(#m6)"/>
<path transform="translate(.5 .5)" d="m623 366-21-26-3 26 45-39-41 17 45 26-45-9-62-18 39 14 46 17-28-19-4-51 22 30 13-6 17 9-58 5 36 3-7-9 12-4-34 31 30-51 22 17-39 38 9 3-79 18 95-95-9 52-73 2 55 17 16-17 6 55 25-50-91-4 43 7 42 24-102-96 83 90-44-47 53 16-25 17 19-5 4-29-10 7 32-2-26 3-70-17 81 30-57 6 59-51-11 35 3 28-9 14 20-32-26-2 28 19-55-25 54 11 14 0-72-1-19-42 21 31 24-10 27 20-32-21 21 33-32-1 29-5-58-23 6-6-36 23 102 6 9 13-65 6-9-23 66 2-22-16 6 21-14-21 43 12-61-19 25 2-20-1-24 33 61-32-19 23-7-22 4 34 0-20-1-3-7-24 31 72-9-55-54 20 89-15-78-34-21 43-12-25 17 20 38-6 43 14 6 4-63 27-11-50 38 41-26-17 37-37 10 50-53-21-5-47-2 44 46 7-75 3 90-16-22-9-7 14-33-35 75 51-44-8-6-17 47 34-93-65 64 81-3-23-56-50 94 34-26-35-44 43 23-33-13 13 47 24-25-7-40 21-14-49 41 13-50-1 94 28-38-41-24-3-4 25-39 7 85-26-47 34-9-47 36-22-23 44 69 33-95-25 53-1 2 0-84 10 61-21 44 19-23-8 31 17-25 4 0-24-11 11-11 47-10-62-18-2 37 18-35 15 86-2-89-32 71 15-11 36-88-36 69 26 14-19-73 9 57-18 25 2-51 5 34 20 44-15-45-28-15-5 4 32-10-24-3-21 72 46-89-20 46-13-44 11 40-15-24-3 0 28 5 34 42-47-47 15-30 39-27-83 45 36 81 8-99-20 58-16-59 11 29 4-27 12 91 14-33 6 16-11-35-42 17 56 13-1-32-38-34 11 44 8-25-6 6 9 58 13-8-20-49 5-51-22 78 24-39 25 58-14-96-11 47-52-17 53 22-16-18 11 42 12 27-31-92 6 86 25-12 29-19-36-37 9 7-6 63 1 18 14-26 1-78-21 57 2-11 6 0-28 0 0 0 20-17 20-16-4 78 34-54-65 46 14 12-24-10 3-34 24-5 13 6-5 32-19-12 6 18-4-13-2-49-4 24-3-51 33-15-51 118 76-34-53-43 7 64 30-29-38-31-22 11-3 50 82-26-52-61 13 82 8-70 2 51-11 17 15-26-43-23 13 30 8-86-5 111 28-33-7 2-7-37-25-34 36 30-11-38-18 86 30-31-34-3 54 30-32 7-9 18 26-16-36-81 2 110-5-94 18 63-30-1 21-73-6 2 18 11-16 46 43 22 4-81-29 64-18 19 60-12-11-34-12 60-3 14 2-7-26-14 21-53-24 19-5-4 47 55-46-5 2-90-25 59 25 9 7-45-4 67 33 5-31-50-34-32 23 25 5 45 23 3-3-80-31 81 50-9-27-75-21 64 26-49 5-2-17-11-16 27 31-33 15 13-19 14-41 44 28-81-3 31 9 30-9 12 3 15 31-35-52-1 8-14-25 48 77 23-53-37 12 4-15-29 31 36-15-65-35 12 14 15 10 34 16 14-26-63 31-21 12 92-40-9 48-44-14 32 46-8-48-17 32-53-38 41-28-44 15 83 23-34-40 53-7-122 23 108-17-55 29-49 0 83 5-79 13 78-29-59 4 76-13 3-30-29 68-42-19 43-6 48-18-26 14-20-6-73 47 64-40 36 42-62-57 7 58 57 3-31-42 15-11 6 54-10 4-31-45-3-29 44 53 33-3-17-9-33-7-10-15 42 19-11-25-27 5 49 30-92-49-2 49 102-34-66 28 40 2-75-13 22-6-37 20 42-12 41 22-49-33 30-40 41 72-47 8-4-47 17 24-46-36 69 36-9 5-14-23-13 0 52 30-94-11 21-31 64 48-4-27-93 32 62-65 15-2 21 44 2 4-29 21 14-9-76-24 7-40 78 53-26-20 15-22 14 52-65-46 14-17-27 10 33 31 35 7-4 14-85-13 105 23-39-40-62 2 92 42-35-25-23-31-11 29 3-33 71 37-51-8 29 49 12-13-68-44 66 1 13 9-30-24-70-25 74 38 26-9-102-5 39 22 33-4-7 19-15-33 35 22-32-40-48 50 70-16-24-14-9 21 14-15 22 30-18-13-76 11 64-42-36 68 55-33-61-32-28 38 68-19 42 15-26-16 26 10-41 0-15-14 64-1-52 16-44-57 99 16-40 37 28-14-30-22 43-7-30 26-25 5-41 17 98-17-103-30 70 58-2-35 8-3-36-7 9 21 12 21 4-7-27-7 7-39 41 57-5-27-44 16 9-20-3-13 42-25-12 57-7-31 19 35-10-30-61-13 28-32 13 62-45 18 52-31-6 19-26 4 43 20-91-49 69-23 0 45-16-4-30-25 101 34-41-23 31 36-61-49-2 6 54 61-40-59 19-3-25-4 22 33-22 4 28-15 42 18-93-19 45 1 27 1-17-17-27-3 51 0-36 24 15 13-2-47-69 27 0-3 62 30-6-5 36 9-46 7 37-24 1 5-44-30 41 32 5-8-9 6-14-24 3 25-33-24 18 14 16-13-54 20-5-30 21 14 11 3 59 5-49-15-9-9-13 24 36-16-14 6-10-10-50 6 49-20 28 45-71-9 9 5 23-13 58 5-70-44 83 49-71 10 39-55-25 29 2 8 12 13 17 0 9-12 21 31-43-16-64-40 12-1 60 63 43-2-41-19-21-38-33 29 50-6 35 47-31-37-3 10 9-15 10 15-10-5 24-22-10 32-39-53 34 36-36-35-21 2-37-7 51-10-13 58 19-6 4-40-55 11 96 3 5 26-47 9-56-21 55 2 50 25-80-55 81 49-96-42 26 4 57-29-91 56 64-21-34 10 43 20-16-8-33-14 47 3 18-28-51 19 43 9 27-26-108 29 87 3 16 34-27-67-10 59 26-24-55-18-55 17 77-1-28-19-43 6 31 3 11-22 34 30-55-1 15-11 22-5 12 36 0-1-31-47 19 19-19 17 35-16 0 20 0 2-27-43 25 15 36 22-28 24 18-35-54 1 47-21-82-32 90 57 4 21 19-9-36-63-15 30-35 29 50 1-60-14 78-2 1 12-74-32-19-36 75 47 7 25-23-15-9-4-33-15 37 17-3-19 51 45-72-31-13-27 16 6 26 46 12-29 27 16-97-8 33-1 24 26-63-50 104 32-27-4-49 0-3-32" fill="none" stroke="none" style="marker:url(#m6)"/>
<path transform="translate(.5 .5)" d="m629 332-60 10 48 18-17-19 51 45-71-38 53-5-80-45 88 42 8-28-1 49-38-9 33-48-92 16 39 20 32-42 7 35-26-6-20-1 29 15-1-36 52 57-67 11-59-2 77 2-32-52 52 44-85-34 77-23-67 31 60 10-5-12-6 13-54-53 83 75 10-32-39-16-50 23 51-7-51-22-1-2 92 6-20-5-1 34-7 9-63-47 74 17-81 21 20 4 35-20-54 21-12-13 60 6 45-8-29 1-11-17 25 26-30-1 31 14-81-48 25 5-25 23 22-4 29 26 41-31-3 5-67-17 82 47-67-1-24-18 78-26-20 16-53-13 59 36 15-54-13 19-27 30-23-49 59 32-11 0-3-20-27 32 52 10-39-3 1-10 10-7-9 13-63-45 103 35-6-18-45-7-19 6 27 19-19 14 28-34 9 11 18 23-25 34 27-36-32-17-1 7-31-80 58 92-26-48 10 61-38-40 48 9 11-5 24 39-58-21 32 2-1-16 11 12-22 14-21-34-56 23 52-12 2-8 28-12-19 30-1-6 8-2-49 18 82-14-44-31 4-7 1 21-7 19-7-16 7 3 15 7-45 13-30-14 31 7 53-10-61 12 67 36 2-64-22 3-21 25-1-5 46-46-90 26 86-10-7 59-22-78 21 41-43 15 28-55-56 17 34 32-3 21-1-11 17-14-30 7 31-22-27 32 48-11 4-26 3 19-34 0 16-8-3 43 27-34-22-39-34 57-41-30 97 10 12-36-7 57-69-9 39 0-23-2 30-25-41-4-11-9 84 23-23 32-12-19-70-5 54 2-59 0 91 23-76-73 14 95-22-52 44-14 9 8 17 2 22 21-2 19-81-68 55 50 47 3-30-11 1 12-18-61-26 29 24 14-9-18 36 4-40-17-11-16-24 35 92 20-65 31 47-46-93-3 8-14-7 21 23-19 68 13-111 17 3 6 85-36-23 14-35 16 40-32 2 22 33 18-58-29 71 44-55-43 6 21-45-24 59-17 26 26-102 0 69-11 14 27 42 20-46-38-52-16 51 45-21-39 4 7 1 37 10-10-71-28 39 5 53 44-13-48-20 32-25-31 34 5-34-2 33 12 15-10-53 9 24-25 10 11 16 23-32-13 5 8 23-28-68-16 57-13 2 26-37 17 65-5-9 26-46 5-12-15 5-19 67-7-4 11 33-2-47 34-30-57-18 48 92-6-41-25 10 59-5-22 2-8 24-2-35-6-48-14 16 33 18-22 11-3 31 41-7-27-34-1-6 3-4-35 53 23-37 22 39-13-21-4-34-35-45 22 76-18-4 31-37 8 46-33-29 37 35-25-25-14 29 18 5-3-39 37-28-29 56 9-14-30-44 16 33 1 10-33-3 17-26-2 12 4 13 43-40-64 17-8 21 62-7-31 15-18-27 22-64 6 37 9-7-3-1-12 92 24-17-27 0 6-13-1-10 16-23-21-30 21 33-48 18 22-4 4 47 19-66-10-20 9 54 33 17-36-102-19 17 1 83-5-3 16 31 37-42-30-8-7 17 13-29 18 15-29-21-39-28 50 13-20 67 15-55-13 51 32-58-62 69 55-42-65-22 1 72 80-28-20-30-47 17 33-43 0 30-15 52 23-13 13-60-31 66 19-3 39-58-62 63-19 2 33-39 5 27 3-65-13 33 0-17-2 50 5-80-11 63 16-10-29 2 38-17 1 36-11-52-18 38 50 14-28-9-39-13 46-29-25 28-6 36 36-44-20-19 14-10-9 4-4 43 32-50-9 43-25 21 2-76-4 49-2-1-11-12 5-18-47 3 33 28 18 34 6-95-9-2 28 5-9 79 18-8-9-89-34 89 42-5-3 24-19-33 7 40 14-57-6 27 4-5-24 24 25-38-24-13 32 9-45-50-12 59 20-6 6 15-7 0 27-7-46 25 73-32-59 34 12 18 7-16 23-9-84-2 57 4 23-4-42-66-8 86 7-7 27-2 3-69-14-30-10 31-10 40 32 20-23-14 38 3-16 8-14-25 9-4-6-2-12 5 42 19-20 26 25-1-8 5-40-113 8 98 15-51-27 80 1-15 51-83-27 51-7-80 30 64-39-28-1 16-7 41 52-1-7-9-2-14-9 27 33 5-13-24-1 44-51-71-14-17 8 57 47-68-17-8-16 98 49-31-51-32 23 41-10-65 8 88-6-90-2 66-29-37 33 62 38-79-65 3-12 39 19-34 17 61 15-53-16-45 5 73-2 41 10-11 19-3-33-66-33 2 29 14 40-1-50 23 34-53 14 40-31-28-50 9 60 22-24-15 24-60-41 93 39 25-54-14 22-50 19 52 46 1-30-18 11 19 13-37-44 19 7-12-23 22 28-43-28 73 22-63-9-29-12-30 9 93-4-100-28 73 25 25 2-82 10 77-8-30 7-34 7 56-14-66-20 43 28 27 6 31 26-28-19 41-8-71-12-43 1 91 28-56 5 24-18 3 28 11-39-43 30 22 16 49-15-31-33-76 23 53-33 21 4-78-3 114 46-71-19 73-4-17-3-73-17 34-11 26 60-30-37-16-10 9 5 29 17-3 5 35 28-22-29-16-15-11-14 32 31-47-10 35 2 16 31-15-35 3 39-7-30-41 2 5-28-17-30 17 60 23-23 29 7 20 19-43-29-13-14 28 68-63-9 61-30-13-1 3-5-45-12 62-13-9 30-30-13-16 10 34 4-22 18-33-28 43-1-36-27-13 8 72 34-22 5 0-24 31 11-52 26 20-33-2-14 43 46-24-20-28-43-17 43 51-17-10 17-72 0 76-5-72-4 90 11-10 19 13-23-38-51 3 58 13 11 14-29-37 6 16 4 36-2-52-37-6 44 73 11 6-15-93 17 71-11-37 16-13-25-27-16 57 8-24-15 56 44-51-12-22-30 83 30-78-9 32-34-19 16-2 3-27 9 37-32 46 25-59 19 20-2 42-24-3 16-84-26 46 12 18 43-8 4-41-9 15-58 57 38-26-23-17 2-73-1 50-26-48 34 81-10 10 10 6 55 26-43-107-13 42 43-42-73-6 31 6-8 9 21 93 3-87-28 88 44-50-46 18 56-36-60 19 30 12 22 33-35-71 25 38 4-21-5-15-5 8-12 28 30-13-16 5-74-37 68 8 16 19-20-45-39 82 41-19-1-9-18-42 20 41 3-21-33-19 22-10-12 33 18-20-7 79 19-11-7 9 12-69-31 69 39-63-20 11 8-9-44 27 34" fill="none" stroke="none" style="marker:url(#m6)"/>
<polyline points="525.6,306.8 527.5,306.7 529.5,306.6 531.4,306.4 533.4,306.1 535.3,305.7 537.3,305.4 539.2,305.0 541.2,304.5 543.1,304.1 545.1,303.8 547.0,303.4 549.0,303.2 550.9,303.0 552.9,302.8 554.8,302.8 556.8,302.8 558.7,302.8 560.7,302.8 562.6,302.8 564.5,302.8 566.5,302.8 568.4,302.8 570.4,302.8 572.3,302.8 574.3,302.8 576.2,302.8 578.2,302.8 580.1,302.8 582.1,302.9 584.0,303.0 586.0,303.1 587.9,303.3 589.9,303.5 591.8,303.7 593.8,304.0 595.7,304.3 597.6,304.6 599.6,305.0 601.5,305.4 603.5,305.8 605.4,306.2 607.4,306.7 609.3,307.2 611.3,307.6 613.2,308.1 615.2,308.6 617.1,309.1 619.1,309.7 621.0,310.2 623.0,310.7 624.9,311.2 626.9,311.8 628.8,312.3 630.8,312.8 632.7,313.3 634.6,313.8 636.6,314.3 638.5,314.8 640.5,315.3 642.4,315.7 644.4,316.2 646.3,316.6 648.3,316.9 650.2,317.3 652.2,317.6 654.1,317.9 656.1,318.2 658.0,318.5 660.0,318.7 661.9,318.8 663.9,319.0 665.8,319.0 667.8,319.1 669.7,319.1 671.6,319.1 673.6,319.1 675.5,319.1 677.5,319.1 679.4,319.1" fill="none" stroke="#e3262b" stroke-width="4.8" stroke-opacity="0.22"/>
<polyline points="525.6,304.8 527.5,304.7 529.5,304.6 531.4,304.4 533.4,304.1 535.3,303.7 537.3,303.4 539.2,303.0 541.2,302.5 543.1,302.1 545.1,301.8 547.0,301.4 549.0,301.2 550.9,301.0 552.9,300.8 554.8,300.8 556.8,300.8 558.7,300.8 560.7,300.8 562.6,300.8 564.5,300.8 566.5,300.8 568.4,300.8 570.4,300.8 572.3,300.8 574.3,300.8 576.2,300.8 578.2,300.8 580.1,300.8 582.1,300.9 584.0,301.0 586.0,301.1 587.9,301.3 589.9,301.5 591.8,301.7 593.8,302.0 595.7,302.3 597.6,302.6 599.6,303.0 601.5,303.4 603.5,303.8 605.4,304.2 607.4,304.7 609.3,305.2 611.3,305.6 613.2,306.1 615.2,306.6 617.1,307.1 619.1,307.7 621.0,308.2 623.0,308.7 624.9,309.2 626.9,309.8 628.8,310.3 630.8,310.8 632.7,311.3 634.6,311.8 636.6,312.3 638.5,312.8 640.5,313.3 642.4,313.7 644.4,314.2 646.3,314.6 648.3,314.9 650.2,315.3 652.2,315.6 654.1,315.9 656.1,316.2 658.0,316.5 660.0,316.7 661.9,316.8 663.9,317.0 665.8,317.0 667.8,317.1 669.7,317.1 671.6,317.1 673.6,317.1 675.5,317.1 677.5,317.1 679.4,317.1" fill="none" stroke="#e11f26" stroke-width="0.7" stroke-opacity="0.75"/>
<polyline points="525.6,308.8 527.5,308.7 529.5,308.6 531.4,308.4 533.4,308.1 535.3,307.7 537.3,307.4 539.2,307.0 541.2,306.5 543.1,306.1 545.1,305.8 547.0,305.4 549.0,305.2 550.9,305.0 552.9,304.8 554.8,304.8 556.8,304.8 558.7,304.8 560.7,304.8 562.6,304.8 564.5,304.8 566.5,304.8 568.4,304.8 570.4,304.8 572.3,304.8 574.3,304.8 576.2,304.8 578.2,304.8 580.1,304.8 582.1,304.9 584.0,305.0 586.0,305.1 587.9,305.3 589.9,305.5 591.8,305.7 593.8,306.0 595.7,306.3 597.6,306.6 599.6,307.0 601.5,307.4 603.5,307.8 605.4,308.2 607.4,308.7 609.3,309.2 611.3,309.6 613.2,310.1 615.2,310.6 617.1,311.1 619.1,311.7 621.0,312.2 623.0,312.7 624.9,313.2 626.9,313.8 628.8,314.3 630.8,314.8 632.7,315.3 634.6,315.8 636.6,316.3 638.5,316.8 640.5,317.3 642.4,317.7 644.4,318.2 646.3,318.6 648.3,318.9 650.2,319.3 652.2,319.6 654.1,319.9 656.1,320.2 658.0,320.5 660.0,320.7 661.9,320.8 663.9,321.0 665.8,321.0 667.8,321.1 669.7,321.1 671.6,321.1 673.6,321.1 675.5,321.1 677.5,321.1 679.4,321.1" fill="none" stroke="#e11f26" stroke-width="0.7" stroke-opacity="0.75"/>
<polyline points="525.6,306.8 527.5,306.7 529.5,306.6 531.4,306.4 533.4,306.1 535.3,305.7 537.3,305.4 539.2,305.0 541.2,304.5 543.1,304.1 545.1,303.8 547.0,303.4 549.0,303.2 550.9,303.0 552.9,302.8 554.8,302.8 556.8,302.8 558.7,302.8 560.7,302.8 562.6,302.8 564.5,302.8 566.5,302.8 568.4,302.8 570.4,302.8 572.3,302.8 574.3,302.8 576.2,302.8 578.2,302.8 580.1,302.8 582.1,302.9 584.0,303.0 586.0,303.1 587.9,303.3 589.9,303.5 591.8,303.7 593.8,304.0 595.7,304.3 597.6,304.6 599.6,305.0 601.5,305.4 603.5,305.8 605.4,306.2 607.4,306.7 609.3,307.2 611.3,307.6 613.2,308.1 615.2,308.6 617.1,309.1 619.1,309.7 621.0,310.2 623.0,310.7 624.9,311.2 626.9,311.8 628.8,312.3 630.8,312.8 632.7,313.3 634.6,313.8 636.6,314.3 638.5,314.8 640.5,315.3 642.4,315.7 644.4,316.2 646.3,316.6 648.3,316.9 650.2,317.3 652.2,317.6 654.1,317.9 656.1,318.2 658.0,318.5 660.0,318.7 661.9,318.8 663.9,319.0 665.8,319.0 667.8,319.1 669.7,319.1 671.6,319.1 673.6,319.1 675.5,319.1 677.5,319.1 679.4,319.1" fill="none" stroke="#e11f26" stroke-width="1.3"/>
<polyline points="525.6,327.4 527.5,327.3 529.5,327.2 531.4,326.9 533.4,326.6 535.3,326.3 537.3,325.8 539.2,325.4 541.2,325.0 543.1,324.5 545.1,324.1 547.0,323.8 549.0,323.5 550.9,323.3 552.9,323.1 554.8,323.1 556.8,323.1 558.7,323.1 560.7,323.1 562.6,323.1 564.5,323.1 566.5,323.1 568.4,323.1 570.4,323.1 572.3,323.1 574.3,323.1 576.2,323.1 578.2,323.1 580.1,323.1 582.1,323.2 584.0,323.3 586.0,323.4 587.9,323.6 589.9,323.8 591.8,324.1 593.8,324.3 595.7,324.7 597.6,325.0 599.6,325.4 601.5,325.8 603.5,326.2 605.4,326.7 607.4,327.2 609.3,327.6 611.3,328.1 613.2,328.7 615.2,329.2 617.1,329.7 619.1,330.3 621.0,330.8 623.0,331.4 624.9,331.9 626.9,332.5 628.8,333.0 630.8,333.6 632.7,334.1 634.6,334.6 636.6,335.1 638.5,335.6 640.5,336.1 642.4,336.6 644.4,337.0 646.3,337.4 648.3,337.9 650.2,338.2 652.2,338.6 654.1,338.9 656.1,339.2 658.0,339.4 660.0,339.6 661.9,339.8 663.9,340.0 665.8,340.0 667.8,340.1 669.7,340.1 671.6,340.1 673.6,340.1 675.5,340.1 677.5,340.1 679.4,340.1" fill="none" stroke="#e11f26" stroke-width="2.0"/>
<polyline points="525.6,342.6 527.5,342.5 529.5,342.4 531.4,342.1 533.4,341.8 535.3,341.4 537.3,340.9 539.2,340.4 541.2,340.0 543.1,339.5 545.1,339.0 547.0,338.7 549.0,338.3 550.9,338.1 552.9,337.9 554.8,337.9 556.8,337.9 558.7,337.9 560.7,337.9 562.6,337.9 564.5,337.9 566.5,337.9 568.4,337.9 570.4,337.9 572.3,337.9 574.3,337.9 576.2,337.9 578.2,337.9 580.1,337.9 582.1,338.0 584.0,338.1 586.0,338.2 587.9,338.4 589.9,338.6 591.8,338.9 593.8,339.2 595.7,339.5 597.6,339.8 599.6,340.2 601.5,340.6 603.5,341.1 605.4,341.5 607.4,342.0 609.3,342.5 611.3,343.0 613.2,343.5 615.2,344.0 617.1,344.6 619.1,345.1 621.0,345.7 623.0,346.2 624.9,346.8 626.9,347.3 628.8,347.9 630.8,348.4 632.7,349.0 634.6,349.5 636.6,350.0 638.5,350.5 640.5,351.0 642.4,351.5 644.4,351.9 646.3,352.3 648.3,352.7 650.2,353.1 652.2,353.5 654.1,353.8 656.1,354.1 658.0,354.3 660.0,354.5 661.9,354.7 663.9,354.9 665.8,354.9 667.8,355.0 669.7,355.0 671.6,355.0 673.6,355.0 675.5,355.0 677.5,355.0 679.4,355.0" fill="none" stroke="#e11f26" stroke-width="2.6"/>
<polyline points="525.6,356.6 527.5,356.5 529.5,356.4 531.4,356.1 533.4,355.7 535.3,355.3 537.3,354.8 539.2,354.3 541.2,353.8 543.1,353.3 545.1,352.8 547.0,352.4 549.0,352.1 550.9,351.8 552.9,351.6 554.8,351.6 556.8,351.6 558.7,351.6 560.7,351.6 562.6,351.6 564.5,351.6 566.5,351.6 568.4,351.6 570.4,351.6 572.3,351.6 574.3,351.6 576.2,351.6 578.2,351.6 580.1,351.6 582.1,351.7 584.0,351.8 586.0,351.9 587.9,352.1 589.9,352.3 591.8,352.6 593.8,352.9 595.7,353.2 597.6,353.6 599.6,354.0 601.5,354.4 603.5,354.9 605.4,355.4 607.4,355.8 609.3,356.4 611.3,356.9 613.2,357.4 615.2,358.0 617.1,358.5 619.1,359.1 621.0,359.7 623.0,360.2 624.9,360.8 626.9,361.4 628.8,362.0 630.8,362.5 632.7,363.1 634.6,363.7 636.6,364.2 638.5,364.7 640.5,365.2 642.4,365.7 644.4,366.2 646.3,366.6 648.3,367.0 650.2,367.4 652.2,367.8 654.1,368.1 656.1,368.4 658.0,368.7 660.0,368.9 661.9,369.1 663.9,369.2 665.8,369.3 667.8,369.4 669.7,369.4 671.6,369.4 673.6,369.4 675.5,369.4 677.5,369.4 679.4,369.4" fill="none" stroke="#e11f26" stroke-width="2.0"/>
<polyline points="525.6,377.6 527.5,377.5 529.5,377.3 531.4,376.9 533.4,376.5 535.3,376.0 537.3,375.4 539.2,374.7 541.2,374.1 543.1,373.5 545.1,372.9 547.0,372.4 549.0,372.0 550.9,371.6 552.9,371.4 554.8,371.4 556.8,371.4 558.7,371.4 560.7,371.4 562.6,371.4 564.5,371.4 566.5,371.4 568.4,371.4 570.4,371.4 572.3,371.4 574.3,371.4 576.2,371.4 578.2,371.4 580.1,371.4 582.1,371.5 584.0,371.6 586.0,371.7 587.9,371.9 589.9,372.2 591.8,372.5 593.8,372.8 595.7,373.2 597.6,373.6 599.6,374.0 601.5,374.5 603.5,374.9 605.4,375.4 607.4,376.0 609.3,376.5 611.3,377.1 613.2,377.7 615.2,378.3 617.1,378.9 619.1,379.5 621.0,380.1 623.0,380.7 624.9,381.4 626.9,382.0 628.8,382.6 630.8,383.2 632.7,383.8 634.6,384.4 636.6,385.0 638.5,385.5 640.5,386.1 642.4,386.6 644.4,387.1 646.3,387.6 648.3,388.1 650.2,388.5 652.2,388.9 654.1,389.2 656.1,389.6 658.0,389.8 660.0,390.1 661.9,390.3 663.9,390.4 665.8,390.5 667.8,390.6 669.7,390.6 671.6,390.6 673.6,390.6 675.5,390.6 677.5,390.6 679.4,390.6" fill="none" stroke="#e3262b" stroke-width="4.8" stroke-opacity="0.22"/>
<polyline points="525.6,375.6 527.5,375.5 529.5,375.3 531.4,374.9 533.4,374.5 535.3,374.0 537.3,373.4 539.2,372.7 541.2,372.1 543.1,371.5 545.1,370.9 547.0,370.4 549.0,370.0 550.9,369.6 552.9,369.4 554.8,369.4 556.8,369.4 558.7,369.4 560.7,369.4 562.6,369.4 564.5,369.4 566.5,369.4 568.4,369.4 570.4,369.4 572.3,369.4 574.3,369.4 576.2,369.4 578.2,369.4 580.1,369.4 582.1,369.5 584.0,369.6 586.0,369.7 587.9,369.9 589.9,370.2 591.8,370.5 593.8,370.8 595.7,371.2 597.6,371.6 599.6,372.0 601.5,372.5 603.5,372.9 605.4,373.4 607.4,374.0 609.3,374.5 611.3,375.1 613.2,375.7 615.2,376.3 617.1,376.9 619.1,377.5 621.0,378.1 623.0,378.7 624.9,379.4 626.9,380.0 628.8,380.6 630.8,381.2 632.7,381.8 634.6,382.4 636.6,383.0 638.5,383.5 640.5,384.1 642.4,384.6 644.4,385.1 646.3,385.6 648.3,386.1 650.2,386.5 652.2,386.9 654.1,387.2 656.1,387.6 658.0,387.8 660.0,388.1 661.9,388.3 663.9,388.4 665.8,388.5 667.8,388.6 669.7,388.6 671.6,388.6 673.6,388.6 675.5,388.6 677.5,388.6 679.4,388.6" fill="none" stroke="#e11f26" stroke-width="0.7" stroke-opacity="0.75"/>
<polyline points="525.6,379.6 527.5,379.5 529.5,379.3 531.4,378.9 533.4,378.5 535.3,378.0 537.3,377.4 539.2,376.7 541.2,376.1 543.1,375.5 545.1,374.9 547.0,374.4 549.0,374.0 550.9,373.6 552.9,373.4 554.8,373.4 556.8,373.4 558.7,373.4 560.7,373.4 562.6,373.4 564.5,373.4 566.5,373.4 568.4,373.4 570.4,373.4 572.3,373.4 574.3,373.4 576.2,373.4 578.2,373.4 580.1,373.4 582.1,373.5 584.0,373.6 586.0,373.7 587.9,373.9 589.9,374.2 591.8,374.5 593.8,374.8 595.7,375.2 597.6,375.6 599.6,376.0 601.5,376.5 603.5,376.9 605.4,377.4 607.4,378.0 609.3,378.5 611.3,379.1 613.2,379.7 615.2,380.3 617.1,380.9 619.1,381.5 621.0,382.1 623.0,382.7 624.9,383.4 626.9,384.0 628.8,384.6 630.8,385.2 632.7,385.8 634.6,386.4 636.6,387.0 638.5,387.5 640.5,388.1 642.4,388.6 644.4,389.1 646.3,389.6 648.3,390.1 650.2,390.5 652.2,390.9 654.1,391.2 656.1,391.6 658.0,391.8 660.0,392.1 661.9,392.3 663.9,392.4 665.8,392.5 667.8,392.6 669.7,392.6 671.6,392.6 673.6,392.6 675.5,392.6 677.5,392.6 679.4,392.6" fill="none" stroke="#e11f26" stroke-width="0.7" stroke-opacity="0.75"/>
<polyline points="525.6,377.6 527.5,377.5 529.5,377.3 531.4,376.9 533.4,376.5 535.3,376.0 537.3,375.4 539.2,374.7 541.2,374.1 543.1,373.5 545.1,372.9 547.0,372.4 549.0,372.0 550.9,371.6 552.9,371.4 554.8,371.4 556.8,371.4 558.7,371.4 560.7,371.4 562.6,371.4 564.5,371.4 566.5,371.4 568.4,371.4 570.4,371.4 572.3,371.4 574.3,371.4 576.2,371.4 578.2,371.4 580.1,371.4 582.1,371.5 584.0,371.6 586.0,371.7 587.9,371.9 589.9,372.2 591.8,372.5 593.8,372.8 595.7,373.2 597.6,373.6 599.6,374.0 601.5,374.5 603.5,374.9 605.4,375.4 607.4,376.0 609.3,376.5 611.3,377.1 613.2,377.7 615.2,378.3 617.1,378.9 619.1,379.5 621.0,380.1 623.0,380.7 624.9,381.4 626.9,382.0 628.8,382.6 630.8,383.2 632.7,383.8 634.6,384.4 636.6,385.0 638.5,385.5 640.5,386.1 642.4,386.6 644.4,387.1 646.3,387.6 648.3,388.1 650.2,388.5 652.2,388.9 654.1,389.2 656.1,389.6 658.0,389.8 660.0,390.1 661.9,390.3 663.9,390.4 665.8,390.5 667.8,390.6 669.7,390.6 671.6,390.6 673.6,390.6 675.5,390.6 677.5,390.6 679.4,390.6" fill="none" stroke="#e11f26" stroke-width="1.3"/>
<line x1="679.4" y1="319.1" x2="679.4" y2="390.6" stroke="#e3262b" stroke-width="0.8" stroke-opacity="0.25"/>
<path d="M54.5 15.0V169.9H210.4" class="ax"/>
<line x1="75.0" y1="169.9" x2="75.0" y2="174.6" class="ax"/>
<text font-size="9.7" text-anchor="middle" transform="translate(75.0 187.0) scale(1 1.0)">50</text>
<line x1="115.8" y1="169.9" x2="115.8" y2="174.6" class="ax"/>
<text font-size="9.7" text-anchor="middle" transform="translate(115.8 187.0) scale(1 1.0)">60</text>
<line x1="156.7" y1="169.9" x2="156.7" y2="174.6" class="ax"/>
<text font-size="9.7" text-anchor="middle" transform="translate(156.7 187.0) scale(1 1.0)">70</text>
<line x1="197.5" y1="169.9" x2="197.5" y2="174.6" class="ax"/>
<text font-size="9.7" text-anchor="middle" transform="translate(197.5 187.0) scale(1 1.0)">80</text>
<line x1="49.8" y1="16.3" x2="54.5" y2="16.3" class="ax"/>
<text font-size="9.7" text-anchor="end" transform="translate(44.3 19.8) scale(1 1.0)">0.65</text>
<line x1="49.8" y1="44.0" x2="54.5" y2="44.0" class="ax"/>
<text font-size="9.7" text-anchor="end" transform="translate(44.3 47.5) scale(1 1.0)">0.60</text>
<line x1="49.8" y1="71.6" x2="54.5" y2="71.6" class="ax"/>
<text font-size="9.7" text-anchor="end" transform="translate(44.3 75.1) scale(1 1.0)">0.55</text>
<line x1="49.8" y1="99.3" x2="54.5" y2="99.3" class="ax"/>
<text font-size="9.7" text-anchor="end" transform="translate(44.3 102.8) scale(1 1.0)">0.50</text>
<line x1="49.8" y1="126.9" x2="54.5" y2="126.9" class="ax"/>
<text font-size="9.7" text-anchor="end" transform="translate(44.3 130.4) scale(1 1.0)">0.45</text>
<line x1="49.8" y1="154.6" x2="54.5" y2="154.6" class="ax"/>
<text font-size="9.7" text-anchor="end" transform="translate(44.3 158.1) scale(1 1.0)">0.40</text>
<text font-size="9.75" text-anchor="middle" transform="translate(133.9 7.2) scale(1 1.0)">Anterior limb of internal capsule (left)</text>
<text font-size="9.7" text-anchor="middle" transform="translate(132.2 201.2) scale(1 1.0)">Age</text>
<text font-size="9.7" text-anchor="middle" transform="translate(18.2 92.4) rotate(-90) scale(1 1.0)">FA</text>
<path d="M524.6 23.7V178.5H679.5" class="ax"/>
<line x1="545.0" y1="178.5" x2="545.0" y2="183.2" class="ax"/>
<text font-size="9.7" text-anchor="middle" transform="translate(545.0 195.5) scale(1 1.0)">50</text>
<line x1="585.8" y1="178.5" x2="585.8" y2="183.2" class="ax"/>
<text font-size="9.7" text-anchor="middle" transform="translate(585.8 195.5) scale(1 1.0)">60</text>
<line x1="626.7" y1="178.5" x2="626.7" y2="183.2" class="ax"/>
<text font-size="9.7" text-anchor="middle" transform="translate(626.7 195.5) scale(1 1.0)">70</text>
<line x1="667.5" y1="178.5" x2="667.5" y2="183.2" class="ax"/>
<text font-size="9.7" text-anchor="middle" transform="translate(667.5 195.5) scale(1 1.0)">80</text>
<line x1="519.9" y1="50.3" x2="524.6" y2="50.3" class="ax"/>
<text font-size="9.7" text-anchor="end" transform="translate(514.6 53.8) scale(1 1.0)">0.60</text>
<line x1="519.9" y1="80.6" x2="524.6" y2="80.6" class="ax"/>
<text font-size="9.7" text-anchor="end" transform="translate(514.6 84.1) scale(1 1.0)">0.55</text>
<line x1="519.9" y1="110.9" x2="524.6" y2="110.9" class="ax"/>
<text font-size="9.7" text-anchor="end" transform="translate(514.6 114.4) scale(1 1.0)">0.50</text>
<line x1="519.9" y1="141.2" x2="524.6" y2="141.2" class="ax"/>
<text font-size="9.7" text-anchor="end" transform="translate(514.6 144.7) scale(1 1.0)">0.45</text>
<line x1="519.9" y1="171.5" x2="524.6" y2="171.5" class="ax"/>
<text font-size="9.7" text-anchor="end" transform="translate(514.6 175.0) scale(1 1.0)">0.40</text>
<text font-size="9.75" text-anchor="middle" transform="translate(604.0 16.4) scale(1 1.0)">Anterior limb of internal capsule (left)</text>
<text font-size="9.7" text-anchor="middle" transform="translate(602.1 210.0) scale(1 1.0)">Age</text>
<text font-size="9.7" text-anchor="middle" transform="translate(488.2 101.0) rotate(-90) scale(1 1.0)">FA</text>
<path d="M55.4 250.2V404.7H210.9" class="ax"/>
<line x1="76.2" y1="404.7" x2="76.2" y2="409.4" class="ax"/>
<text font-size="9.7" text-anchor="middle" transform="translate(76.2 421.8) scale(1 1.0)">50</text>
<line x1="117.1" y1="404.7" x2="117.1" y2="409.4" class="ax"/>
<text font-size="9.7" text-anchor="middle" transform="translate(117.1 421.8) scale(1 1.0)">60</text>
<line x1="158.0" y1="404.7" x2="158.0" y2="409.4" class="ax"/>
<text font-size="9.7" text-anchor="middle" transform="translate(158.0 421.8) scale(1 1.0)">70</text>
<line x1="198.9" y1="404.7" x2="198.9" y2="409.4" class="ax"/>
<text font-size="9.7" text-anchor="middle" transform="translate(198.9 421.8) scale(1 1.0)">80</text>
<line x1="50.7" y1="259.3" x2="55.4" y2="259.3" class="ax"/>
<text font-size="9.7" text-anchor="end" transform="translate(45.8 262.8) scale(1 1.0)">7000</text>
<line x1="50.7" y1="283.5" x2="55.4" y2="283.5" class="ax"/>
<text font-size="9.7" text-anchor="end" transform="translate(45.8 287.0) scale(1 1.0)">6000</text>
<line x1="50.7" y1="307.8" x2="55.4" y2="307.8" class="ax"/>
<text font-size="9.7" text-anchor="end" transform="translate(45.8 311.3) scale(1 1.0)">5000</text>
<line x1="50.7" y1="332.0" x2="55.4" y2="332.0" class="ax"/>
<text font-size="9.7" text-anchor="end" transform="translate(45.8 335.5) scale(1 1.0)">4000</text>
<line x1="50.7" y1="356.2" x2="55.4" y2="356.2" class="ax"/>
<text font-size="9.7" text-anchor="end" transform="translate(45.8 359.7) scale(1 1.0)">3000</text>
<line x1="50.7" y1="380.5" x2="55.4" y2="380.5" class="ax"/>
<text font-size="9.7" text-anchor="end" transform="translate(45.8 383.9) scale(1 1.0)">2000</text>
<line x1="50.7" y1="404.7" x2="55.4" y2="404.7" class="ax"/>
<text font-size="9.7" text-anchor="end" transform="translate(45.8 408.2) scale(1 1.0)">1000</text>
<text font-size="9.75" text-anchor="middle" transform="translate(132.7 242.2) scale(1 1.0)">VIIIa Cerebellum (right)</text>
<text font-size="9.7" text-anchor="middle" transform="translate(133.3 436.0) scale(1 1.0)">Age</text>
<text font-size="9.7" text-anchor="middle" transform="translate(17.8 332.5) rotate(-90) scale(1 1.0)">GMV</text>
<path d="M525.6 251.2V405.3H680.8" class="ax"/>
<line x1="546.1" y1="405.3" x2="546.1" y2="410.0" class="ax"/>
<text font-size="9.7" text-anchor="middle" transform="translate(546.1 422.0) scale(1 1.0)">50</text>
<line x1="587.0" y1="405.3" x2="587.0" y2="410.0" class="ax"/>
<text font-size="9.7" text-anchor="middle" transform="translate(587.0 422.0) scale(1 1.0)">60</text>
<line x1="627.9" y1="405.3" x2="627.9" y2="410.0" class="ax"/>
<text font-size="9.7" text-anchor="middle" transform="translate(627.9 422.0) scale(1 1.0)">70</text>
<line x1="668.8" y1="405.3" x2="668.8" y2="410.0" class="ax"/>
<text font-size="9.7" text-anchor="middle" transform="translate(668.8 422.0) scale(1 1.0)">80</text>
<line x1="520.9" y1="276.5" x2="525.6" y2="276.5" class="ax"/>
<text font-size="9.7" text-anchor="end" transform="translate(516.0 280.0) scale(1 1.0)">6000</text>
<line x1="520.9" y1="303.1" x2="525.6" y2="303.1" class="ax"/>
<text font-size="9.7" text-anchor="end" transform="translate(516.0 306.6) scale(1 1.0)">5000</text>
<line x1="520.9" y1="329.7" x2="525.6" y2="329.7" class="ax"/>
<text font-size="9.7" text-anchor="end" transform="translate(516.0 333.2) scale(1 1.0)">4000</text>
<line x1="520.9" y1="356.3" x2="525.6" y2="356.3" class="ax"/>
<text font-size="9.7" text-anchor="end" transform="translate(516.0 359.8) scale(1 1.0)">3000</text>
<line x1="520.9" y1="382.9" x2="525.6" y2="382.9" class="ax"/>
<text font-size="9.7" text-anchor="end" transform="translate(516.0 386.4) scale(1 1.0)">2000</text>
<text font-size="9.75" text-anchor="middle" transform="translate(602.9 243.0) scale(1 1.0)">VIIIa Cerebellum (right)</text>
<text font-size="9.7" text-anchor="middle" transform="translate(603.6 436.8) scale(1 1.0)">Age</text>
<text font-size="9.7" text-anchor="middle" transform="translate(486.0 328.4) rotate(-90) scale(1 1.0)">GMV</text>
<text font-size="9.5" font-weight="bold" transform="translate(-0.8 7.3) scale(1 1.0)" fill="#2a1f1f">a</text>
<text font-size="9.5" font-weight="bold" transform="translate(-0.2 461.0) scale(1 1.0)" fill="#2a1f1f">b</text>
<defs>
<radialGradient id="cx" cx="0.5" cy="0.32" r="0.62"><stop offset="0" stop-color="#dedede"/><stop offset="0.6" stop-color="#cfcfcf"/><stop offset="0.9" stop-color="#a9a9a9"/><stop offset="1" stop-color="#8c8c8c"/></radialGradient>
<radialGradient id="md" cx="0.55" cy="0.4" r="0.62"><stop offset="0" stop-color="#ececec"/><stop offset="0.7" stop-color="#e0e0e0"/><stop offset="0.92" stop-color="#bdbdbd"/><stop offset="1" stop-color="#9a9a9a"/></radialGradient>
<radialGradient id="bs" cx="0.45" cy="0.35" r="0.65"><stop offset="0" stop-color="#ececec"/><stop offset="0.7" stop-color="#d2d2d2"/><stop offset="1" stop-color="#9e9e9e"/></radialGradient>
<clipPath id="clL" clipPathUnits="userSpaceOnUse"><path d="M0,49 C1,28 22,2 49,1.5 C76,1 99,22 99.5,48 C100,58 97,64 92,68 C84,70 76,68 70,70 C64,76 52,80 44,78 C36,76 30,72 26,72 C18,72 10,70 6,66 C2,62 0,56 0,49 Z"/></clipPath>
<clipPath id="clA" clipPathUnits="userSpaceOnUse"><path d="M38,1 C44,0 48,2 50,4 C52,2 56,0 62,1 C78,4 92,16 96,34 C100,52 98,70 90,84 C84,94 74,99 64,99 C58,99 52,96 50,92 C48,96 42,99 36,99 C26,99 16,94 10,84 C2,70 0,52 4,34 C8,16 22,4 38,1 Z"/></clipPath>
<clipPath id="clCT" clipPathUnits="userSpaceOnUse"><path d="M1,50 C4,44 14,40 22,34 C26,30 30,26 34,26 C38,30 42,44 50,54 C58,44 62,30 66,26 C70,26 74,30 78,34 C86,40 96,44 99,50 C101,62 98,76 92,86 C86,94 76,98 66,98 C60,98 58,92 57,78 L50,76 L43,78 C42,92 40,98 34,98 C24,98 14,94 8,86 C2,76 -1,62 1,50 Z"/></clipPath>
<clipPath id="clCB" clipPathUnits="userSpaceOnUse"><path d="M1,56 C4,44 16,38 26,32 C32,30 38,32 42,36 L50,40 L58,36 C62,32 68,30 74,32 C84,38 96,44 99,56 C101,70 98,82 92,90 C86,97 76,100 64,100 C58,100 57,94 56,86 L44,86 C43,94 42,100 36,100 C24,100 14,97 8,90 C2,82 -1,70 1,56 Z"/></clipPath>
<clipPath id="clX" clipPathUnits="userSpaceOnUse"><path d="M1,62 C0,44 6,28 14,22 C26,8 44,1 59,1 C70,1 76,6 80,13 C90,26 98,42 100,59 C100,66 98,70 94,73 C84,78 72,80 62,85 C54,90 46,98 38,100 C32,100 30,94 31,89 C24,86 16,84 12,81 C6,78 2,72 1,62 Z"/></clipPath>
<clipPath id="clM" clipPathUnits="userSpaceOnUse"><path d="M1,61 C2,44 8,32 16,26 C26,14 38,6 48,3.4 C54,2 60,2 64,2.3 C72,4 76,9 80,15 C90,28 97,44 99,61 C99,66 99,70 97.6,72.4 C94,76 90,77 85,77 C78,77 70,78 64,79.3 C58,81 52,85 47.7,88.5 C45,93 43,99 39.7,100 C35,100 32,97 31.6,93 C31,90 31,87 30.8,84 C26,81 20,79 14,77 C8,75 4,73 2.7,70.5 C1.5,67 1,64 1,61 Z"/></clipPath>
<linearGradient id="cb" x1="0" x2="1" y1="0" y2="0"><stop offset="0" stop-color="#08306b"/><stop offset="0.25" stop-color="#1459a0"/><stop offset="0.5" stop-color="#3e86c2"/><stop offset="0.75" stop-color="#9ac2e0"/><stop offset="1" stop-color="#eef4fa"/></linearGradient>
</defs>
<g transform="translate(240.00 16.00) scale(0.7350 0.6100)"><path d="M58,64 L69,64 L71,97 C69,100 62,100 60,97 Z" fill="#e6e6e6" stroke="#d8d8d8" stroke-width="1"/><path d="M62,72 C68,65 86,65 93,69 C97,76 93,84 83,86 C72,87 64,84 62,78 Z" fill="#e4e4e4" stroke="#d6d6d6" stroke-width="1.2"/><path d="M0,49 C1,28 22,2 49,1.5 C76,1 99,22 99.5,48 C100,58 97,64 92,68 C84,70 76,68 70,70 C64,76 52,80 44,78 C36,76 30,72 26,72 C18,72 10,70 6,66 C2,62 0,56 0,49 Z" fill="#e5e5e5" stroke="#d3d3d3" stroke-width="1.6"/><path clip-path="url(#clL)" d="M45,73Q50,76 57,79M83,30Q84,33 82,36M30,59Q31,62 36,67M23,18Q20,24 17,24M97,54Q94,61 96,62M54,4Q52,12 49,15M4,39Q5,44 4,46M64,18Q59,22 55,23M18,60Q13,67 11,71M25,4Q21,6 13,9M30,-5Q29,-1 25,6M27,47Q19,51 16,55M90,31Q91,36 89,37M85,67Q84,69 81,74M86,3Q82,4 80,7M68,11Q68,14 70,17M8,45Q12,50 13,56M90,48Q87,49 83,53M97,17Q98,21 102,22M68,6Q71,10 72,15M62,64Q58,66 56,71M8,13Q10,17 14,20M102,58Q98,64 92,66M64,39Q67,38 74,41M47,58Q51,61 54,68M93,27Q94,34 100,37M14,27Q18,34 24,36M63,51Q62,58 62,60M23,76Q21,78 17,82M33,40Q41,39 43,41M70,31Q72,34 80,39M105,18Q102,22 95,23M31,60Q36,61 41,61M14,13Q15,18 12,22M87,55Q88,57 85,63M8,71Q8,78 7,83M6,10Q1,18 1,19M10,38Q14,39 21,43M0,11Q4,17 9,17M99,58Q98,61 92,69M7,27Q10,27 17,30M33,4Q29,5 25,12M39,53Q40,52 47,57M21,27Q21,30 22,40M76,3Q84,4 89,7M10,25Q13,28 16,37M89,49Q92,47 96,51M57,49Q65,52 69,50M64,54Q64,58 70,57M62,70Q62,74 67,81M29,39Q27,44 27,49M99,35Q96,37 94,38M60,14Q63,21 64,26M4,2Q9,1 9,6M38,2Q34,2 35,8M31,44Q26,48 24,48M80,7Q73,11 69,14M20,14Q20,20 20,25M17,57Q21,61 26,67M15,34Q17,36 20,44M89,1Q86,5 78,7M15,30Q15,36 17,41M21,24Q18,31 20,33M66,61Q71,70 72,73M18,33Q18,36 22,43M45,45Q47,50 50,58M79,34Q84,40 84,40M67,19Q64,23 62,25M44,28Q41,25 36,28M15,17Q11,14 3,17M67,30Q67,35 70,41M26,28Q25,31 26,35M50,59Q49,62 45,69M6,29Q11,29 15,34M70,38Q74,43 73,51M11,70Q16,72 22,76M52,74Q57,73 59,74M25,73Q32,79 33,81M74,56Q72,60 68,60M92,71Q88,72 86,73M87,31Q88,35 91,36M-1,9Q1,15 5,17M26,41Q23,43 16,49M78,51Q77,56 80,57M4,21Q8,23 13,29M40,23Q38,26 34,29M87,54Q89,61 90,63M14,29Q14,34 13,39M39,50Q43,53 44,60M40,75Q30,78 26,76" fill="none" stroke="#f8f8f8" stroke-width="2.6" stroke-opacity="0.75" stroke-linecap="round"/><path clip-path="url(#clL)" d="M92,22Q96,23 97,27M79,54Q83,60 82,63M13,53Q14,59 17,67M98,42Q93,44 91,50M6,28Q9,28 13,30M57,22Q58,25 55,33M73,27Q75,31 78,32M105,25Q102,22 95,25M1,35Q3,37 10,35M13,44Q7,46 3,45M73,7Q76,11 75,15M46,28Q43,33 38,39M65,79Q60,80 59,81M44,29Q48,32 51,40M56,75Q59,79 59,83M54,11Q54,17 53,18M11,60Q10,59 5,63M92,22Q93,24 96,30M56,3Q57,5 58,10M12,-1Q11,4 5,4M2,12Q4,11 9,14M23,65Q19,67 11,69M12,8Q13,10 15,14M33,30Q31,33 27,31M83,14Q87,19 87,26M57,6Q53,6 46,9M1,16Q-2,20 -1,25M55,3Q51,3 44,7M95,5Q95,9 97,15M87,54Q92,55 99,58M55,3Q60,3 63,4M63,17Q66,20 64,23M34,68Q40,68 43,70M98,72Q99,77 98,84M56,-3Q54,1 58,6M87,54Q93,55 96,56M-0,66Q3,71 1,75M87,8Q90,9 91,14M70,37Q74,39 76,40M34,20Q35,24 33,27M19,24Q27,24 31,29M54,4Q53,4 56,10M61,39Q58,42 56,45M63,15Q63,22 61,24M68,66Q64,71 61,74M88,34Q94,35 99,40M37,13Q40,16 46,21M75,23Q71,26 70,29M63,46Q68,46 74,46M45,68Q45,72 40,73M46,33Q39,35 38,38M55,69Q58,73 55,76M98,4Q93,9 90,9M48,-1Q45,-0 39,3M98,58Q98,62 95,67M21,2Q19,6 23,10M75,6Q74,10 70,10M91,71Q92,78 88,82M26,52Q20,58 20,64M78,28Q74,31 74,33" fill="none" stroke="#d4d4d4" stroke-width="1.3" stroke-opacity="0.55" stroke-linecap="round"/><path d="M15,40 C15,33 20,30 26,30 L32,25 L60,24 C70,24 78,26 80,30 L82,46 C82,54 78,58 70,58 L54,60 L38,64 C30,64 24,62 20,60 C16,56 14,48 15,40 Z" fill="#a8c6e0" stroke="#8eb0cf" stroke-width="0.8"/><path d="M32,25 L56,24 L56,40 L34,40 Z" fill="#74a8d6" stroke="#74a8d6" stroke-width="2.4" stroke-linejoin="round"/><path d="M56,24 C68,24 78,26 80,30 L80,41 L56,41 Z" fill="#a3c8e6" stroke="#a3c8e6" stroke-width="2.4" stroke-linejoin="round"/><path d="M52,41 L81,41 L82,48 C82,54 78,57 72,57 L52,57 Z" fill="#6aa3d4" stroke="#6aa3d4" stroke-width="2.4" stroke-linejoin="round"/><path d="M44,41 L54,41 L54,57 L44,58 Z" fill="#d4e0ec" stroke="#d4e0ec" stroke-width="2.4" stroke-linejoin="round"/><path d="M27,42 L42,41 L43,56 L30,57 C27,52 26,47 27,42 Z" fill="#3271b4" stroke="#3271b4" stroke-width="2.4" stroke-linejoin="round"/><path d="M15,40 C15,33 20,30 26,30 L28,60 C22,60 16,54 15,40 Z" fill="#b9cde0" stroke="#b9cde0" stroke-width="2.4" stroke-linejoin="round"/><path d="M30,57 L68,57 C66,62 60,64 54,64 L38,64 C34,64 31,62 30,57 Z" fill="#c5d8ea" stroke="#c5d8ea" stroke-width="2.4" stroke-linejoin="round"/><path d="M59,66 L69,66 L70,74 L67,92 L62,93 L60,78 Z" fill="#a9c6e0" stroke="#a9c6e0" stroke-width="2.4" stroke-linejoin="round"/><path d="M62,76 L69,74 L68,86 L63,88 Z" fill="#5b90c4" stroke="#5b90c4" stroke-width="2.4" stroke-linejoin="round"/></g>
<g transform="translate(465.50 16.00) scale(-0.7350 0.6100)"><path d="M58,64 L69,64 L71,97 C69,100 62,100 60,97 Z" fill="#e6e6e6" stroke="#d8d8d8" stroke-width="1"/><path d="M62,72 C68,65 86,65 93,69 C97,76 93,84 83,86 C72,87 64,84 62,78 Z" fill="#e4e4e4" stroke="#d6d6d6" stroke-width="1.2"/><path d="M0,49 C1,28 22,2 49,1.5 C76,1 99,22 99.5,48 C100,58 97,64 92,68 C84,70 76,68 70,70 C64,76 52,80 44,78 C36,76 30,72 26,72 C18,72 10,70 6,66 C2,62 0,56 0,49 Z" fill="#e5e5e5" stroke="#d3d3d3" stroke-width="1.6"/><path clip-path="url(#clL)" d="M29,22Q27,25 23,26M15,0Q19,2 22,9M42,48Q46,55 45,59M37,11Q42,17 42,19M31,68Q29,72 32,80M24,65Q21,70 17,76M56,45Q54,48 47,49M85,36Q83,38 80,43M13,-1Q12,5 7,7M40,72Q38,76 37,84M18,11Q14,16 16,18M10,31Q10,39 10,42M77,41Q78,44 73,51M65,44Q71,46 73,45M-5,24Q-1,21 8,24M96,33Q98,35 100,38M49,-1Q52,-1 56,2M68,21Q59,21 55,25M53,61Q56,63 60,62M93,67Q93,70 88,71M10,16Q8,22 7,25M86,41Q85,44 79,47M102,2Q98,2 92,5M52,22Q57,24 58,24M20,14Q18,23 21,27M96,16Q96,17 92,24M49,42Q49,46 45,52M17,25Q17,33 14,38M94,18Q96,22 100,25M95,7Q95,15 95,18M70,69Q71,73 77,72M101,-3Q99,-0 92,5M66,18Q69,20 77,20M32,38Q28,38 25,40M14,35Q20,37 24,41M100,23Q96,25 94,33M86,75Q89,77 92,78M103,77Q99,77 95,77M19,3Q21,3 27,7M4,46Q5,49 5,54M63,70Q64,77 68,80M59,10Q60,12 64,15M79,33Q81,38 85,40M4,20Q7,21 8,26M33,1Q31,3 27,8M7,22Q1,28 -3,30M2,38Q3,44 8,45M26,74Q30,77 35,77M30,38Q36,37 39,40M43,17Q48,20 49,21M42,27Q40,34 34,35M49,49Q48,54 48,57M55,44Q57,48 56,57M85,71Q81,72 78,76M11,35Q7,40 0,41M70,15Q68,17 62,20M3,56Q9,60 15,61M7,41Q6,41 3,46M32,26Q29,31 29,32M68,32Q71,35 75,41M92,13Q88,17 83,19M79,69Q73,73 71,71M26,14Q22,18 15,22M41,75Q35,77 34,83M-1,70Q2,71 4,75M58,74Q57,75 51,78M57,26Q54,27 48,26M70,1Q69,7 68,15M7,24Q3,27 3,29M90,31Q87,35 87,39M16,33Q23,34 28,39M18,63Q16,67 21,70M52,64Q59,69 62,70M69,35Q72,33 80,36M40,3Q39,11 42,16M98,-3Q101,2 101,9M77,27Q82,32 85,33M67,2Q68,4 65,11M63,63Q68,66 69,64M16,69Q17,73 19,79M94,48Q91,49 83,50M41,46Q45,48 54,46M8,53Q2,59 1,60M36,17Q30,23 28,29M73,21Q65,20 62,23M18,36Q12,35 11,37M56,31Q59,34 58,38M86,-2Q89,4 87,7M56,7Q54,16 49,18M54,21Q61,26 64,29" fill="none" stroke="#f8f8f8" stroke-width="2.6" stroke-opacity="0.75" stroke-linecap="round"/><path clip-path="url(#clL)" d="M62,43Q62,49 61,49M35,-3Q42,1 45,6M15,6Q12,6 8,6M76,-1Q76,7 77,12M58,12Q55,14 51,18M97,21Q99,26 102,29M54,31Q56,36 60,35M50,33Q49,40 46,41M54,24Q52,27 53,34M67,35Q74,40 75,44M9,38Q4,46 3,50M53,35Q55,38 60,35M41,38Q36,41 36,49M72,12Q69,12 63,14M25,71Q32,72 33,76M59,11Q65,11 66,16M49,12Q50,12 54,16M15,24Q12,29 11,30M76,47Q79,51 79,54M7,3Q12,3 15,4M102,32Q95,33 90,33M12,54Q19,57 23,58M0,15Q4,16 13,18M39,10Q33,14 31,21M53,78Q58,79 65,79M79,72Q80,80 79,83M-7,77Q2,76 7,79M87,24Q88,26 94,27M14,30Q13,34 16,37M9,42Q4,43 1,50M10,13Q10,15 13,18M52,73Q54,77 56,78M50,40Q48,40 42,43M78,22Q76,25 75,34M84,-2Q83,3 82,6M24,10Q25,14 31,17M11,5Q18,5 23,11M65,76Q60,81 56,83M10,3Q7,7 6,12M89,38Q85,42 84,43M60,-2Q56,4 57,10M22,25Q24,31 23,31M96,71Q98,78 96,83M3,12Q9,15 12,19M77,68Q75,77 74,80M62,16Q54,17 52,17M12,73Q11,80 6,82M83,68Q83,70 79,76M96,17Q98,24 101,25M35,42Q39,48 40,55M89,27Q87,35 82,37M4,-4Q2,2 -1,8M56,5Q51,7 46,10M39,6Q40,7 45,12M33,48Q36,55 37,59M48,-1Q44,1 42,5M89,8Q85,12 83,11M100,49Q98,54 98,59M16,31Q22,33 24,32M36,77Q40,81 48,83" fill="none" stroke="#d4d4d4" stroke-width="1.3" stroke-opacity="0.55" stroke-linecap="round"/><path d="M14,40 C14,32 20,28 28,28 L40,24 L64,24 C72,24 80,28 84,34 L86,44 C86,52 82,56 76,56 L60,58 C50,62 40,64 32,62 L24,62 C18,58 14,50 14,40 Z" fill="#a9c8e3" stroke="#8fb1d0" stroke-width="0.8"/><path d="M13,38 C14,30 18,26 24,26 C28,34 29,46 27,56 L24,62 C16,58 12,48 13,38 Z" fill="#2f6fb2" stroke="#2f6fb2" stroke-width="2.4" stroke-linejoin="round"/><path d="M30,24 L60,23 L60,40 L30,40 Z" fill="#a6cae7" stroke="#a6cae7" stroke-width="2.4" stroke-linejoin="round"/><path d="M60,23 C70,23 80,28 84,34 L85,42 L60,42 Z" fill="#b4d1ea" stroke="#b4d1ea" stroke-width="2.4" stroke-linejoin="round"/><path d="M27,40 L56,40 L56,58 L30,60 Z" fill="#c9dbeb" stroke="#c9dbeb" stroke-width="2.4" stroke-linejoin="round"/><path d="M56,42 L86,42 C86,52 82,56 76,56 L58,57 Z" fill="#9ec3e2" stroke="#9ec3e2" stroke-width="2.4" stroke-linejoin="round"/><path d="M60,57 L70,58 L71,74 L68,92 L62,93 L60,78 Z" fill="#a9c8e2" stroke="#a9c8e2" stroke-width="2.4" stroke-linejoin="round"/><path d="M61,74 L69,73 L68,86 L62,88 Z" fill="#5a91c5" stroke="#5a91c5" stroke-width="2.4" stroke-linejoin="round"/></g>
<g transform="translate(313.50 98.50) scale(-0.7450 0.5900)"><path d="M58,64 L69,64 L71,97 C69,100 62,100 60,97 Z" fill="#e6e6e6" stroke="#d8d8d8" stroke-width="1"/><path d="M62,72 C68,65 86,65 93,69 C97,76 93,84 83,86 C72,87 64,84 62,78 Z" fill="#e4e4e4" stroke="#d6d6d6" stroke-width="1.2"/><path d="M0,49 C1,28 22,2 49,1.5 C76,1 99,22 99.5,48 C100,58 97,64 92,68 C84,70 76,68 70,70 C64,76 52,80 44,78 C36,76 30,72 26,72 C18,72 10,70 6,66 C2,62 0,56 0,49 Z" fill="#e5e5e5" stroke="#d3d3d3" stroke-width="1.6"/><path clip-path="url(#clL)" d="M13,16Q6,19 4,22M50,10Q47,13 46,15M48,42Q42,48 38,52M63,23Q68,22 77,23M89,41Q86,48 90,53M41,1Q36,8 34,13M32,56Q32,60 27,62M67,60Q71,63 70,71M85,28Q86,30 85,35M88,18Q88,20 86,27M22,56Q21,58 14,63M91,13Q86,16 80,14M74,62Q76,61 83,64M18,67Q21,71 25,70M92,53Q98,54 101,60M70,24Q69,30 66,35M55,12Q55,16 56,19M72,31Q76,33 83,32M43,29Q38,30 34,32M49,1Q48,9 47,14M99,63Q97,66 90,72M45,24Q47,28 52,31M57,4Q59,6 59,13M15,36Q16,39 19,46M89,18Q92,18 97,21M49,73Q55,77 58,77M101,5Q97,12 99,18M22,60Q14,59 12,62M37,64Q41,66 46,72M68,19Q70,26 73,30M50,6Q52,16 53,19M4,23Q0,28 -4,31M88,49Q89,54 87,60M71,46Q64,49 63,52M88,47Q85,53 84,55M14,67Q6,67 1,72M86,29Q90,30 92,35M51,50Q51,52 47,55M39,40Q42,45 48,50M23,47Q15,50 11,51M88,10Q91,16 91,22M61,48Q64,55 66,59M50,20Q49,25 53,33M5,68Q-0,66 -3,68M63,37Q62,39 57,41M86,63Q81,65 76,66M25,39Q16,41 13,42M27,8Q35,11 38,13M43,38Q36,39 33,44M90,34Q88,41 84,45M49,14Q52,19 60,22M84,18Q87,18 93,19M36,73Q40,78 49,78M29,58Q34,59 38,58M79,7Q78,14 82,17M37,16Q39,18 46,23M34,17Q33,22 27,25M26,24Q30,27 33,27M35,24Q27,25 24,32M75,34Q77,37 77,45M95,72Q95,77 97,81M25,41Q22,41 16,44M84,6Q87,8 93,14M5,63Q11,65 12,64M43,13Q38,16 31,18M53,75Q50,79 52,82M76,47Q72,49 70,53M40,20Q36,23 34,23M46,27Q38,25 33,28M47,41Q50,48 52,51M21,51Q22,49 27,52M78,25Q76,27 78,34M16,65Q17,70 20,73M70,26Q71,31 70,35M61,72Q57,69 55,73M40,60Q35,66 35,69M64,22Q59,26 59,26M5,5Q5,8 5,16M26,53Q24,55 29,60M94,-3Q94,3 92,11M65,5Q67,12 65,14M82,26Q75,30 71,34M18,6Q17,6 14,11M71,59Q66,60 62,61M67,61Q68,61 75,65M77,75Q73,77 70,75M55,24Q48,28 45,32M15,10Q17,14 14,18M16,48Q21,48 20,53M7,38Q11,36 19,39" fill="none" stroke="#f8f8f8" stroke-width="2.6" stroke-opacity="0.75" stroke-linecap="round"/><path clip-path="url(#clL)" d="M-2,52Q-1,59 5,63M88,55Q81,54 76,55M55,47Q62,52 65,54M7,61Q5,66 9,68M89,58Q92,63 89,71M11,66Q12,70 11,80M82,44Q83,50 83,56M40,6Q47,9 53,9M80,47Q78,55 76,58M55,59Q51,59 47,59M15,42Q17,46 19,55M32,22Q36,25 43,26M18,66Q13,71 13,71M16,2Q22,6 22,15M-3,23Q4,22 5,23M84,62Q82,65 83,68M1,54Q6,59 11,59M97,-0Q97,2 101,9M57,39Q53,46 54,51M12,40Q13,46 9,49M-2,73Q2,72 4,76M73,16Q73,22 77,29M41,33Q44,33 49,33M78,71Q73,75 73,81M69,16Q73,19 76,19M64,9Q60,12 58,20M77,14Q79,20 80,24M86,9Q83,16 85,21M33,67Q35,71 37,77M7,5Q8,5 13,10M37,35Q41,34 47,35M58,77Q55,76 53,81M58,60Q60,62 65,64M68,-1Q73,-1 75,1M54,58Q53,65 49,70M79,75Q85,73 86,77M16,22Q16,25 13,28M83,70Q80,78 77,80M28,62Q31,65 36,67M70,62Q71,69 66,72M57,44Q54,44 51,45M31,23Q28,26 21,24M62,66Q64,71 68,76M63,10Q64,15 67,16M83,69Q77,71 76,71M13,35Q20,35 23,36M32,58Q31,62 35,68M49,51Q51,57 50,58M46,50Q44,55 41,59M32,68Q33,72 35,77M30,24Q35,24 36,31M64,29Q56,28 53,32M87,62Q92,67 97,69M43,53Q43,53 37,59M56,2Q53,5 47,11M-3,76Q3,74 8,76M26,22Q33,26 38,25M31,-5Q30,3 30,7M42,61Q38,68 38,71M94,59Q94,64 94,70" fill="none" stroke="#d4d4d4" stroke-width="1.3" stroke-opacity="0.55" stroke-linecap="round"/><path d="M14,40 C14,32 20,28 28,28 L40,24 L64,24 C72,24 80,28 84,34 L86,44 C86,52 82,56 76,56 L60,58 C50,62 40,64 32,62 L24,62 C18,58 14,50 14,40 Z" fill="#a9c8e3" stroke="#8fb1d0" stroke-width="0.8"/><path d="M13,38 C14,30 18,26 24,26 C28,34 29,46 27,56 L24,62 C16,58 12,48 13,38 Z" fill="#2f6fb2" stroke="#2f6fb2" stroke-width="2.4" stroke-linejoin="round"/><path d="M30,24 L60,23 L60,40 L30,40 Z" fill="#a6cae7" stroke="#a6cae7" stroke-width="2.4" stroke-linejoin="round"/><path d="M60,23 C70,23 80,28 84,34 L85,42 L60,42 Z" fill="#b4d1ea" stroke="#b4d1ea" stroke-width="2.4" stroke-linejoin="round"/><path d="M27,40 L56,40 L56,58 L30,60 Z" fill="#c9dbeb" stroke="#c9dbeb" stroke-width="2.4" stroke-linejoin="round"/><path d="M56,42 L86,42 C86,52 82,56 76,56 L58,57 Z" fill="#9ec3e2" stroke="#9ec3e2" stroke-width="2.4" stroke-linejoin="round"/><path d="M60,57 L70,58 L71,74 L68,92 L62,93 L60,78 Z" fill="#a9c8e2" stroke="#a9c8e2" stroke-width="2.4" stroke-linejoin="round"/><path d="M61,74 L69,73 L68,86 L62,88 Z" fill="#5a91c5" stroke="#5a91c5" stroke-width="2.4" stroke-linejoin="round"/></g>
<g transform="translate(392.00 98.50) scale(0.7350 0.5900)"><path d="M58,64 L69,64 L71,97 C69,100 62,100 60,97 Z" fill="#e6e6e6" stroke="#d8d8d8" stroke-width="1"/><path d="M62,72 C68,65 86,65 93,69 C97,76 93,84 83,86 C72,87 64,84 62,78 Z" fill="#e4e4e4" stroke="#d6d6d6" stroke-width="1.2"/><path d="M0,49 C1,28 22,2 49,1.5 C76,1 99,22 99.5,48 C100,58 97,64 92,68 C84,70 76,68 70,70 C64,76 52,80 44,78 C36,76 30,72 26,72 C18,72 10,70 6,66 C2,62 0,56 0,49 Z" fill="#e5e5e5" stroke="#d3d3d3" stroke-width="1.6"/><path clip-path="url(#clL)" d="M98,41Q95,40 91,41M85,12Q83,14 75,16M48,63Q46,66 39,63M22,43Q19,47 14,54M50,33Q49,38 50,46M57,50Q51,54 47,52M49,50Q50,56 49,58M18,33Q17,40 21,40M91,28Q91,31 86,33M80,18Q85,22 84,26M54,75Q49,78 46,78M17,29Q9,29 5,34M75,46Q76,51 82,53M47,55Q52,56 58,58M35,45Q31,49 32,56M7,27Q8,31 7,34M55,47Q48,46 45,49M73,22Q69,27 66,29M15,19Q21,25 21,26M78,50Q82,53 86,51M40,42Q38,45 32,46M52,47Q55,53 53,54M86,23Q81,30 81,34M4,70Q7,75 13,80M87,74Q82,81 79,84M42,71Q40,72 35,77M90,51Q94,56 95,60M86,29Q87,33 91,37M78,64Q79,71 73,76M3,50Q11,50 14,50M97,1Q95,0 90,2M33,10Q41,8 45,11M66,19Q63,23 59,22M59,50Q56,52 49,57M97,39Q92,43 85,42M7,65Q9,69 14,75M11,61Q16,64 17,68M95,40Q92,42 83,42M38,41Q30,41 25,44M20,47Q24,52 30,53M23,71Q23,76 26,77M22,20Q18,20 12,20M42,71Q47,73 51,72M69,-1Q72,2 77,1M73,70Q72,77 76,79M94,72Q90,79 85,81M37,57Q35,62 29,64M23,1Q27,4 27,7M78,70Q73,76 68,78M100,30Q94,33 92,41M48,67Q51,71 48,75M42,-1Q43,8 45,13M95,-3Q93,2 91,3M32,53Q37,58 39,62M29,57Q34,59 36,61M13,53Q12,51 6,55M93,46Q95,48 98,51M47,40Q48,43 54,42M10,52Q15,53 20,55M79,19Q76,25 71,30M62,71Q69,74 76,72M7,18Q8,22 5,28M18,47Q22,48 30,54M66,17Q63,19 59,19M50,1Q47,7 49,8M20,5Q28,7 32,6M81,17Q78,24 78,28M81,39Q79,41 78,45M39,73Q36,72 33,75M61,76Q64,79 69,80M78,1Q84,5 85,6M61,71Q61,76 65,83M93,62Q90,68 90,69M42,-0Q48,3 49,7M22,60Q25,64 27,67M88,32Q87,39 84,41M14,70Q7,71 5,73M64,14Q70,17 71,18M72,43Q70,45 67,51M104,11Q101,14 95,17M50,26Q56,26 60,29M90,70Q90,76 94,79M23,25Q22,26 16,26M21,59Q19,64 18,71M11,6Q8,8 11,15M43,4Q46,3 54,4M92,4Q95,7 95,11M14,59Q7,64 2,62M63,29Q65,28 73,32M67,56Q67,62 64,64" fill="none" stroke="#f8f8f8" stroke-width="2.6" stroke-opacity="0.75" stroke-linecap="round"/><path clip-path="url(#clL)" d="M17,40Q20,41 27,43M73,9Q67,12 60,12M18,11Q16,17 11,17M24,48Q19,50 18,58M36,49Q28,47 22,51M5,32Q0,33 2,39M13,43Q8,46 5,44M73,23Q67,25 65,31M35,34Q43,36 44,43M7,33Q5,36 0,37M67,3Q74,9 78,12M9,37Q10,44 17,47M17,28Q22,32 23,34M19,69Q21,73 22,77M86,66Q87,67 85,72M45,57Q49,58 55,60M11,15Q15,16 18,18M8,-4Q8,-1 8,7M29,64Q27,68 29,71M5,22Q8,26 12,27M36,33Q34,39 26,40M21,58Q25,60 29,60M78,32Q74,35 73,36M68,70Q68,74 70,81M31,36Q38,36 40,42M53,29Q50,31 50,35M92,43Q96,45 102,46M98,30Q92,35 87,37M55,16Q48,17 47,22M90,36Q95,38 97,36M67,70Q70,72 73,80M96,68Q102,71 102,73M78,17Q75,20 76,23M30,10Q29,14 22,18M98,72Q96,80 89,82M53,25Q60,25 64,25M93,-0Q90,6 85,7M66,62Q71,63 71,68M20,16Q21,19 16,21M96,-0Q91,2 86,8M91,8Q84,9 78,13M14,8Q19,6 23,9M86,19Q82,21 74,24M25,-3Q20,-1 17,4M64,64Q56,66 54,66M64,23Q66,31 68,33M-4,10Q3,11 6,18M60,19Q65,22 67,25M89,15Q94,20 98,20M47,56Q48,61 53,65M33,16Q36,20 45,22M48,21Q50,28 54,30M78,48Q74,51 73,59M62,18Q61,19 56,23M36,53Q41,59 41,59M6,74Q5,73 -1,77M6,37Q12,35 14,38M102,5Q99,8 96,10M81,60Q79,61 75,65M50,61Q47,62 42,62" fill="none" stroke="#d4d4d4" stroke-width="1.3" stroke-opacity="0.55" stroke-linecap="round"/><path d="M15,40 C15,33 20,30 26,30 L32,25 L60,24 C70,24 78,26 80,30 L82,46 C82,54 78,58 70,58 L54,60 L38,64 C30,64 24,62 20,60 C16,56 14,48 15,40 Z" fill="#a8c6e0" stroke="#8eb0cf" stroke-width="0.8"/><path d="M32,25 L56,24 L56,40 L34,40 Z" fill="#74a8d6" stroke="#74a8d6" stroke-width="2.4" stroke-linejoin="round"/><path d="M56,24 C68,24 78,26 80,30 L80,41 L56,41 Z" fill="#a3c8e6" stroke="#a3c8e6" stroke-width="2.4" stroke-linejoin="round"/><path d="M52,41 L81,41 L82,48 C82,54 78,57 72,57 L52,57 Z" fill="#6aa3d4" stroke="#6aa3d4" stroke-width="2.4" stroke-linejoin="round"/><path d="M44,41 L54,41 L54,57 L44,58 Z" fill="#d4e0ec" stroke="#d4e0ec" stroke-width="2.4" stroke-linejoin="round"/><path d="M27,42 L42,41 L43,56 L30,57 C27,52 26,47 27,42 Z" fill="#3271b4" stroke="#3271b4" stroke-width="2.4" stroke-linejoin="round"/><path d="M15,40 C15,33 20,30 26,30 L28,60 C22,60 16,54 15,40 Z" fill="#b9cde0" stroke="#b9cde0" stroke-width="2.4" stroke-linejoin="round"/><path d="M30,57 L68,57 C66,62 60,64 54,64 L38,64 C34,64 31,62 30,57 Z" fill="#c5d8ea" stroke="#c5d8ea" stroke-width="2.4" stroke-linejoin="round"/><path d="M59,66 L69,66 L70,74 L67,92 L62,93 L60,78 Z" fill="#a9c6e0" stroke="#a9c6e0" stroke-width="2.4" stroke-linejoin="round"/><path d="M62,76 L69,74 L68,86 L63,88 Z" fill="#5b90c4" stroke="#5b90c4" stroke-width="2.4" stroke-linejoin="round"/></g>
<g transform="translate(323.40 11.50) scale(0.5890 0.7290)"><path d="M38,1 C44,0 48,2 50,4 C52,2 56,0 62,1 C78,4 92,16 96,34 C100,52 98,70 90,84 C84,94 74,99 64,99 C58,99 52,96 50,92 C48,96 42,99 36,99 C26,99 16,94 10,84 C2,70 0,52 4,34 C8,16 22,4 38,1 Z" fill="#e5e5e5" stroke="#d3d3d3" stroke-width="1.4"/><path clip-path="url(#clA)" d="M81,77Q78,80 80,85M34,3Q42,3 48,6M50,95Q43,97 37,99M68,2Q70,3 67,10M63,83Q70,84 73,91M71,-5Q69,-1 71,5M75,29Q80,33 86,34M28,29Q24,30 19,35M-5,92Q1,96 8,95M41,90Q41,95 39,98M64,43Q66,48 73,50M67,35Q63,39 60,40M40,65Q41,73 36,78M85,10Q80,16 77,20M45,92Q45,95 50,100M67,92Q66,92 59,95M81,13Q84,18 83,19M11,49Q14,50 17,56M86,25Q83,26 87,31M39,91Q34,94 30,94M90,31Q86,35 82,37M52,67Q47,67 48,72M18,20Q22,23 25,21M33,31Q37,39 36,42M35,65Q36,73 41,76M51,68Q50,70 50,77M4,47Q1,53 5,59M52,56Q49,60 46,64M62,19Q60,28 61,30M72,92Q73,93 78,99M5,23Q3,23 -2,26M9,15Q7,19 4,23M31,48Q29,47 24,50M13,30Q19,30 26,34M-4,3Q1,9 4,9M91,18Q87,26 87,31M37,73Q40,76 43,83M76,78Q79,82 76,87M86,38Q85,41 90,46M24,2Q20,4 22,11M89,7Q90,13 95,20M74,0Q81,0 87,3M54,23Q45,25 42,27M22,36Q17,39 14,45M46,33Q42,38 39,44M12,36Q7,37 2,38M54,77Q59,80 60,84M100,11Q96,16 92,17M10,48Q15,51 16,55M85,1Q80,-0 72,1M64,16Q63,17 67,22M14,79Q15,81 23,88M9,92Q9,92 4,95M21,54Q26,59 32,63M62,23Q58,26 53,33M81,61Q79,66 81,72M53,3Q50,9 51,10M63,19Q61,26 55,30M34,55Q34,58 32,62M48,73Q55,73 56,75M23,3Q23,6 28,12M31,11Q28,15 20,20M7,30Q8,36 6,39M85,42Q92,45 95,51M27,62Q18,64 15,70M46,52Q42,54 38,58M69,58Q63,57 61,59M28,42Q34,42 38,48M88,5Q91,7 94,13M70,82Q73,82 76,86M98,83Q96,84 90,87M40,10Q44,13 51,11M60,56Q54,56 53,59M42,11Q45,14 50,20M27,53Q25,55 20,53M60,51Q61,57 60,58M72,40Q70,45 74,53M100,63Q93,66 91,68M63,2Q60,6 63,16M14,67Q12,67 7,69M49,75Q56,76 58,78M84,45Q82,43 75,46M33,10Q32,14 35,19M64,54Q69,57 72,62M50,15Q45,20 42,20M29,15Q31,19 32,25M73,1Q68,2 64,3M27,78Q27,81 28,85M39,9Q37,10 33,11M45,67Q49,67 54,68M-0,-4Q-1,-1 0,6M42,64Q33,66 31,71M50,75Q50,79 48,88M99,52Q101,59 97,60M28,48Q35,47 40,50M89,53Q81,53 77,56M79,0Q87,2 91,6M31,3Q34,4 37,5M14,78Q15,82 15,89M80,38Q79,41 80,45M74,40Q72,43 71,52M51,94Q57,94 61,95M7,51Q9,49 14,52M45,90Q50,96 56,99M58,75Q50,80 46,81M8,73Q10,74 16,74M28,54Q34,57 35,60M53,72Q46,71 44,73M20,36Q13,39 11,45M36,79Q35,85 36,90" fill="none" stroke="#f8f8f8" stroke-width="2.6" stroke-opacity="0.75" stroke-linecap="round"/><path clip-path="url(#clA)" d="M80,85Q83,89 86,90M66,94Q69,95 75,96M-2,32Q5,34 11,36M97,32Q95,34 99,42M32,55Q30,60 30,62M30,41Q32,47 37,52M28,74Q29,80 26,81M74,10Q76,19 74,24M7,10Q3,15 3,17M101,27Q97,27 90,31M72,44Q77,49 77,53M47,18Q51,19 57,21M53,56Q61,54 67,57M38,30Q35,34 30,38M84,59Q90,62 93,65M39,58Q40,64 39,66M62,66Q64,74 62,79M57,78Q56,78 50,80M14,81Q15,84 21,83M20,88Q18,92 21,101M22,3Q16,3 16,7M31,58Q33,58 38,62M27,42Q25,42 25,48M49,54Q45,58 45,62M94,49Q90,52 84,52M74,77Q74,82 78,84M30,50Q27,58 27,61M75,28Q76,34 74,40M44,29Q40,37 40,42M89,57Q84,58 84,62M52,64Q58,64 61,69M55,9Q63,9 67,13M61,95Q64,94 68,98M54,37Q47,42 45,41M22,80Q17,79 13,80M-3,39Q2,40 8,42M62,78Q58,81 54,79M-3,68Q3,72 9,72M26,67Q21,68 20,70M46,69Q46,74 42,75M80,92Q78,97 77,100M24,12Q24,19 22,22M8,14Q6,19 11,20M82,93Q82,100 79,104M93,74Q95,79 98,80M11,0Q11,6 10,7M20,42Q24,39 31,42M52,21Q50,26 45,26M44,-2Q45,2 42,7M21,6Q15,8 7,9M98,86Q97,86 92,87M21,9Q26,12 28,17M54,89Q63,90 67,90M33,-2Q30,3 21,2M64,29Q68,27 75,30M74,43Q72,48 68,52M50,71Q52,73 53,80M14,3Q11,7 14,11M40,76Q37,78 33,82M48,54Q47,55 48,62M36,14Q34,18 30,24M50,68Q50,70 55,76M67,68Q67,67 61,70M61,48Q65,49 66,51M62,96Q63,98 66,104M76,21Q72,23 75,28M14,2Q8,9 8,11M80,36Q78,42 82,45M23,87Q22,89 17,95M15,62Q18,66 21,74" fill="none" stroke="#d4d4d4" stroke-width="1.3" stroke-opacity="0.55" stroke-linecap="round"/><path d="M50,4 L50,92" stroke="#d2d2d2" stroke-width="1.6"/><path d="M26,30 L43,30 L43,72 L30,72 C26,64 25,44 26,30 Z" fill="#7aaed8" stroke="#7aaed8" stroke-width="2.4" stroke-linejoin="round"/><path d="M30,16 C33,14 37,14 38,16 L38,72 L31,72 Z" fill="#c6d2dd" stroke="#c6d2dd" stroke-width="2.4" stroke-linejoin="round"/><path d="M38,19 L49,19 L49,31 L38,31 Z" fill="#2f6fb2" stroke="#2f6fb2" stroke-width="2.4" stroke-linejoin="round"/><path d="M49,22 L62,21 L62,33 L49,33 Z" fill="#4a8ac6" stroke="#4a8ac6" stroke-width="2.4" stroke-linejoin="round"/><path d="M60,17 C63,14 68,14 70,16 L71,32 L61,33 Z" fill="#2f6fb2" stroke="#2f6fb2" stroke-width="2.4" stroke-linejoin="round"/><path d="M44,31 L73,33 C75,42 75,52 72,58 L46,58 Z" fill="#a8c9e4" stroke="#a8c9e4" stroke-width="2.4" stroke-linejoin="round"/><path d="M42,19 L48,19 L48,72 L42,72 Z" fill="#d4dce4" stroke="#d4dce4" stroke-width="2.4" stroke-linejoin="round"/><path d="M19,51 L30,50 L36,62 L37,82 L28,82 C22,76 19,64 19,51 Z" fill="#5f95c8" stroke="#5f95c8" stroke-width="2.4" stroke-linejoin="round"/><path d="M22,62 L30,62 L32,78 L27,80 Z" fill="#3c6fa6" stroke="#3c6fa6" stroke-width="2.4" stroke-linejoin="round"/><path d="M64,52 L76,52 L76,60 L64,60 Z" fill="#c6d6e6" stroke="#c6d6e6" stroke-width="2.4" stroke-linejoin="round"/><path d="M69,62 L79,62 L79,76 L72,81 L69,76 Z" fill="#87b5dc" stroke="#87b5dc" stroke-width="2.4" stroke-linejoin="round"/><path d="M50,60 L60,60 L60,72 L51,72 Z" fill="#a6c4df" stroke="#a6c4df" stroke-width="2.4" stroke-linejoin="round"/></g>
<g transform="translate(323.40 87.40) scale(0.5890 0.7360)"><path d="M38,1 C44,0 48,2 50,4 C52,2 56,0 62,1 C78,4 92,16 96,34 C100,52 98,70 90,84 C84,94 74,99 64,99 C58,99 52,96 50,92 C48,96 42,99 36,99 C26,99 16,94 10,84 C2,70 0,52 4,34 C8,16 22,4 38,1 Z" fill="#e5e5e5" stroke="#d3d3d3" stroke-width="1.4"/><path clip-path="url(#clA)" d="M52,30Q57,35 56,38M69,30Q65,35 66,36M6,95Q-2,96 -4,101M86,40Q83,43 84,46M70,52Q74,54 82,56M57,26Q58,32 60,38M101,26Q96,30 93,29M12,83Q4,85 1,90M72,44Q79,47 83,44M18,24Q14,25 12,27M47,52Q43,55 37,56M28,45Q23,45 14,45M85,58Q85,64 89,68M37,75Q33,75 25,82M77,79Q72,81 68,83M20,96Q18,94 11,96M12,71Q11,73 5,75M13,28Q17,31 24,32M48,6Q44,15 44,19M6,54Q12,60 18,61M66,40Q73,47 75,50M77,1Q78,5 85,7M97,32Q97,38 93,39M80,41Q84,46 83,47M51,72Q54,78 60,80M-1,36Q-0,41 4,41M33,6Q29,14 27,17M76,52Q70,52 64,56M59,60Q50,62 46,64M97,40Q96,41 91,46M21,22Q28,23 31,27M17,35Q18,40 23,44M50,7Q48,11 51,16M70,87Q64,85 58,88M72,56Q69,55 65,59M35,41Q32,46 27,46M90,44Q96,48 99,51M73,18Q72,21 77,24M82,37Q77,40 73,38M64,51Q64,51 68,56M42,29Q43,36 41,37M78,53Q84,55 86,62M82,90Q86,92 88,94M12,58Q5,59 2,64M57,64Q53,68 46,67M37,16Q43,17 45,19M7,89Q6,89 2,92M7,36Q5,42 3,43M10,61Q14,65 14,67M44,41Q43,44 48,52M9,6Q9,11 8,15M75,70Q79,72 82,71M84,6Q81,11 81,13M64,77Q61,84 60,90M90,76Q93,77 97,77M33,81Q28,82 25,87M24,43Q23,50 22,56M23,95Q22,100 23,102M28,93Q28,100 26,105M45,77Q40,83 34,84M73,22Q79,21 87,24M88,81Q89,84 86,87M3,15Q11,20 15,20M34,54Q29,56 31,63M7,42Q5,44 9,48M68,47Q62,48 61,54M42,58Q38,63 30,63M34,55Q41,53 47,57M92,72Q88,69 85,72M98,11Q95,15 90,19M44,76Q44,81 42,84M40,68Q46,72 48,73M73,94Q77,101 78,106M35,7Q33,6 30,11M22,42Q21,47 15,46M74,28Q75,35 76,42M62,16Q58,18 51,16M53,24Q49,26 46,26M39,55Q46,59 49,64M93,83Q89,89 90,90M93,55Q92,60 92,67M35,32Q33,35 34,38M84,47Q91,51 93,58M96,66Q98,72 103,73M62,-0Q63,8 61,10M68,54Q69,58 68,62M37,70Q39,73 42,80M53,90Q55,94 59,94M44,34Q46,37 48,42M10,71Q15,71 19,76M30,77Q22,82 19,83M30,19Q38,23 40,26M89,14Q97,14 99,14M28,88Q26,93 24,96M9,52Q6,52 7,58M24,-3Q20,5 20,9M23,-4Q23,-1 25,4M83,34Q79,39 73,40M18,90Q16,95 17,96M57,-2Q62,0 70,3M55,-4Q53,1 57,6M74,63Q76,65 81,69M37,40Q38,45 33,46M97,31Q98,37 93,41M57,11Q52,15 46,19M6,97Q2,100 -3,102M82,33Q84,35 90,37M75,34Q78,36 76,42M93,25Q91,26 87,27M16,54Q13,60 15,67" fill="none" stroke="#f8f8f8" stroke-width="2.6" stroke-opacity="0.75" stroke-linecap="round"/><path clip-path="url(#clA)" d="M79,1Q73,0 67,2M62,32Q58,36 60,40M94,3Q87,5 82,9M26,67Q28,70 31,76M59,66Q63,74 63,78M90,34Q87,41 89,47M78,28Q78,33 77,39M19,76Q20,81 20,85M63,40Q61,45 62,53M66,36Q62,42 57,44M95,50Q93,55 86,55M66,49Q60,47 54,49M32,32Q29,32 22,34M42,-1Q35,2 30,2M17,64Q15,66 14,71M33,62Q32,69 35,71M55,84Q58,86 65,89M8,49Q14,53 17,55M84,36Q81,33 77,36M96,13Q92,17 86,15M52,87Q51,92 49,97M93,58Q98,63 104,64M66,54Q66,59 71,66M47,25Q50,27 53,30M47,53Q43,60 42,67M52,65Q54,64 59,66M34,67Q37,69 41,74M98,31Q98,35 95,44M80,65Q81,72 86,75M5,44Q2,45 -4,50M97,12Q92,13 90,13M70,85Q77,87 78,91M35,3Q35,6 41,10M14,5Q17,11 19,13M60,31Q54,29 47,31M20,49Q23,48 26,53M38,44Q30,51 29,52M7,63Q12,64 12,66M67,34Q67,36 70,39M34,18Q29,19 29,22M31,-1Q33,1 38,4M47,14Q44,21 35,22M6,69Q6,71 3,74M4,17Q1,23 3,29M37,59Q31,65 30,68M11,78Q6,78 6,82M48,22Q54,28 57,29M84,39Q86,44 89,44M1,18Q7,23 11,24M49,18Q50,25 50,31M23,94Q14,96 10,94M76,74Q83,74 87,74M32,65Q37,68 40,76M-3,25Q-0,30 5,35M-3,61Q3,60 9,63M55,-1Q49,3 48,7M92,13Q97,15 103,19M80,37Q81,41 86,42M78,18Q78,27 74,30M71,4Q77,9 80,14M94,22Q92,21 88,23M74,91Q76,97 78,99M2,29Q1,30 4,35M15,57Q16,64 19,68M45,65Q41,72 34,74M7,32Q3,35 2,42M31,95Q35,98 41,98M78,89Q73,95 73,97M40,77Q39,79 35,86M67,24Q59,27 57,28" fill="none" stroke="#d4d4d4" stroke-width="1.3" stroke-opacity="0.55" stroke-linecap="round"/><path d="M50,4 L50,92" stroke="#d2d2d2" stroke-width="1.6"/><path d="M24,20 C28,16 32,18 32,22 L30,50 C24,50 20,46 20,40 Z" fill="#5f95c8" stroke="#5f95c8" stroke-width="2.4" stroke-linejoin="round"/><path d="M21,30 C22,26 24,26 25,28 L25,48 L21,46 Z" fill="#b7cde2" stroke="#b7cde2" stroke-width="2.4" stroke-linejoin="round"/><path d="M70,19 C74,18 79,22 79,28 L77,37 L69,36 Z" fill="#9ec2e2" stroke="#9ec2e2" stroke-width="2.4" stroke-linejoin="round"/><path d="M38,30 C40,26 46,26 48,30 C50,36 46,42 40,40 C37,38 37,33 38,30 Z" fill="#b2c4d6" stroke="#b2c4d6" stroke-width="2.4" stroke-linejoin="round"/><path d="M50,30 C52,26 58,26 60,30 C62,36 58,42 52,40 C49,38 49,33 50,30 Z" fill="#a9bcd0" stroke="#a9bcd0" stroke-width="2.4" stroke-linejoin="round"/><path d="M35,41 L63,41 L63,69 L35,69 Z" fill="#a9c5de" stroke="#a9c5de" stroke-width="2.4" stroke-linejoin="round"/><path d="M64,38 L76,38 L76,69 L64,69 Z" fill="#c2d4e5" stroke="#c2d4e5" stroke-width="2.4" stroke-linejoin="round"/><path d="M26,40 L35,40 L35,53 L27,53 Z" fill="#4d86c0" stroke="#4d86c0" stroke-width="2.4" stroke-linejoin="round"/><path d="M30,55 L43,55 L43,74 L31,74 Z" fill="#2a64a8" stroke="#2a64a8" stroke-width="2.4" stroke-linejoin="round"/><path d="M42,68 L69,68 L69,84 L42,84 Z" fill="#2a6db3" stroke="#2a6db3" stroke-width="2.4" stroke-linejoin="round"/><path d="M58,57 L68,57 L68,69 L58,69 Z" fill="#5d97ca" stroke="#5d97ca" stroke-width="2.4" stroke-linejoin="round"/><path d="M29,74 C33,71 41,72 43,76 C44,82 40,86 34,85 C30,84 28,80 29,74 Z" fill="#8ea2b6" stroke="#8ea2b6" stroke-width="2.4" stroke-linejoin="round"/></g>
<g transform="translate(237.80 242.00) scale(0.7080 0.4900)"><path d="M1,62 C0,44 6,28 14,22 C26,8 44,1 59,1 C70,1 76,6 80,13 C90,26 98,42 100,59 C100,66 98,70 94,73 C84,78 72,80 62,85 C54,90 46,98 38,100 C32,100 30,94 31,89 C24,86 16,84 12,81 C6,78 2,72 1,62 Z" fill="url(#cx)" stroke="#7c7c7c" stroke-width="1.4"/><path d="M16,30 C26,20 40,12 52,8 M30,44 C36,34 40,24 44,14 M50,30 C54,22 58,14 62,8 M66,20 C72,24 76,30 80,40 M40,76 C50,70 62,66 76,64 C84,62 90,60 95,58 M10,60 C18,56 26,54 34,56" fill="none" stroke="#e4e4e4" stroke-width="4.5" stroke-linecap="round" stroke-opacity="0.9"/><path d="M25,55 C32,50 38,48 43,46 C48,44 52,40 56,38 C60,35 62,32 63,33 C66,36 66,42 65,46 C63,52 58,58 49,62 C44,64 38,66 35,68" fill="none" stroke="#6a6a6a" stroke-width="2.3" stroke-linecap="round"/><path d="M48,12 C46,18 44,24 43,29 C42,36 42,40 41,45" fill="none" stroke="#7a7a7a" stroke-width="1.9" stroke-linecap="round"/><path d="M12,35 C20,28 28,22 35,17 C40,14 44,11 48,9" fill="none" stroke="#8a8a8a" stroke-width="1.6" stroke-linecap="round"/><path d="M36,80 C44,76 52,72 59,68 C66,65 72,63 80,62" fill="none" stroke="#808080" stroke-width="1.8" stroke-linecap="round"/><path d="M64,10 C70,12 74,13 77,15 C78,19 78,23 78,27" fill="none" stroke="#7c7c7c" stroke-width="1.8" stroke-linecap="round"/><path d="M81,34 C85,40 88,45 91,50" fill="none" stroke="#808080" stroke-width="1.8" stroke-linecap="round"/><path d="M8,52 C14,49 19,47 24,45 C27,42 29,39 32,36" fill="none" stroke="#7a7a7a" stroke-width="1.8" stroke-linecap="round"/><path d="M54,50 C58,46 60,44 61,41 M68,50 C74,52 80,54 86,54" fill="none" stroke="#8a8a8a" stroke-width="1.5" stroke-linecap="round"/><path d="M3,71 C10,77 16,80 24,82 C28,83 30,84 31,86 M38,99 C46,96 54,90 62,85 C72,80 84,77 94,73" fill="none" stroke="#6f6f6f" stroke-width="3" stroke-linecap="round" stroke-opacity="0.8"/><g clip-path="url(#clX)"></g></g>
<g transform="translate(468.30 242.00) scale(-0.7030 0.4930)"><path d="M1,62 C0,44 6,28 14,22 C26,8 44,1 59,1 C70,1 76,6 80,13 C90,26 98,42 100,59 C100,66 98,70 94,73 C84,78 72,80 62,85 C54,90 46,98 38,100 C32,100 30,94 31,89 C24,86 16,84 12,81 C6,78 2,72 1,62 Z" fill="url(#cx)" stroke="#7c7c7c" stroke-width="1.4"/><path d="M16,30 C26,20 40,12 52,8 M30,44 C36,34 40,24 44,14 M50,30 C54,22 58,14 62,8 M66,20 C72,24 76,30 80,40 M40,76 C50,70 62,66 76,64 C84,62 90,60 95,58 M10,60 C18,56 26,54 34,56" fill="none" stroke="#e4e4e4" stroke-width="4.5" stroke-linecap="round" stroke-opacity="0.9"/><path d="M25,55 C32,50 38,48 43,46 C48,44 52,40 56,38 C60,35 62,32 63,33 C66,36 66,42 65,46 C63,52 58,58 49,62 C44,64 38,66 35,68" fill="none" stroke="#6a6a6a" stroke-width="2.3" stroke-linecap="round"/><path d="M48,12 C46,18 44,24 43,29 C42,36 42,40 41,45" fill="none" stroke="#7a7a7a" stroke-width="1.9" stroke-linecap="round"/><path d="M12,35 C20,28 28,22 35,17 C40,14 44,11 48,9" fill="none" stroke="#8a8a8a" stroke-width="1.6" stroke-linecap="round"/><path d="M36,80 C44,76 52,72 59,68 C66,65 72,63 80,62" fill="none" stroke="#808080" stroke-width="1.8" stroke-linecap="round"/><path d="M64,10 C70,12 74,13 77,15 C78,19 78,23 78,27" fill="none" stroke="#7c7c7c" stroke-width="1.8" stroke-linecap="round"/><path d="M81,34 C85,40 88,45 91,50" fill="none" stroke="#808080" stroke-width="1.8" stroke-linecap="round"/><path d="M8,52 C14,49 19,47 24,45 C27,42 29,39 32,36" fill="none" stroke="#7a7a7a" stroke-width="1.8" stroke-linecap="round"/><path d="M54,50 C58,46 60,44 61,41 M68,50 C74,52 80,54 86,54" fill="none" stroke="#8a8a8a" stroke-width="1.5" stroke-linecap="round"/><path d="M3,71 C10,77 16,80 24,82 C28,83 30,84 31,86 M38,99 C46,96 54,90 62,85 C72,80 84,77 94,73" fill="none" stroke="#6f6f6f" stroke-width="3" stroke-linecap="round" stroke-opacity="0.8"/><g clip-path="url(#clX)"><path d="M54,44 L74,46 C74,54 70,60 62,64 L54,60 Z" fill="#a9d3f0" fill-opacity="0.8"/><path d="M34,1 C44,0 54,0 62,2 C60,10 58,20 57,28 C56,40 55,50 54,60 C52,70 48,82 42,96 C38,99 32,98 31,93 C30,84 30,72 30,62 C30,50 30,38 31,26 C32,18 33,10 34,1 Z" fill="#86c0ea" fill-opacity="0.95"/></g></g>
<g transform="translate(237.80 302.00) scale(0.7080 0.4950)"><path d="M1,61 C2,44 8,32 16,26 C26,14 38,6 48,3.4 C54,2 60,2 64,2.3 C72,4 76,9 80,15 C90,28 97,44 99,61 C99,66 99,70 97.6,72.4 C94,76 90,77 85,77 C78,77 70,78 64,79.3 C58,81 52,85 47.7,88.5 C45,93 43,99 39.7,100 C35,100 32,97 31.6,93 C31,90 31,87 30.8,84 C26,81 20,79 14,77 C8,75 4,73 2.7,70.5 C1.5,67 1,64 1,61 Z" fill="url(#md)" stroke="#7a7a7a" stroke-width="1.4"/><path d="M16,55 C16,40 30,30 48,30 C64,30 76,36 76,46 C76,54 70,58 60,60 C48,62 36,60 26,63 C20,64 16,60 16,55 Z" fill="#e9e9e9" stroke="#cfcfcf" stroke-width="1.6"/><path d="M22,56 C24,46 34,40 48,40 C60,40 68,44 68,50" fill="none" stroke="#dadada" stroke-width="2"/><path d="M85,26 C80,38 76,48 73,54 C70,60 66,64 62,68" fill="none" stroke="#555" stroke-width="2.6" stroke-linecap="round"/><path d="M80,42 C86,50 91,56 96,62" fill="none" stroke="#6a6a6a" stroke-width="1.8" stroke-linecap="round"/><path d="M36,80 C46,74 56,70 64,68 C74,66 84,66 96,68" fill="none" stroke="#6a6a6a" stroke-width="2.4" stroke-linecap="round" stroke-opacity="0.85"/><path d="M4,70 C12,74 22,78 31,84" fill="none" stroke="#8a8a8a" stroke-width="1.6" stroke-linecap="round"/><g clip-path="url(#clM)"><path d="M44,0 L63.6,0 L63.6,32 L44,32 Z" fill="#a6d2f0" fill-opacity="0.85"/><path d="M28,82 L43,82 L43,100 L28,100 Z" fill="#8cc4ea"/></g></g>
<g transform="translate(468.30 302.00) scale(-0.7030 0.4950)"><path d="M1,61 C2,44 8,32 16,26 C26,14 38,6 48,3.4 C54,2 60,2 64,2.3 C72,4 76,9 80,15 C90,28 97,44 99,61 C99,66 99,70 97.6,72.4 C94,76 90,77 85,77 C78,77 70,78 64,79.3 C58,81 52,85 47.7,88.5 C45,93 43,99 39.7,100 C35,100 32,97 31.6,93 C31,90 31,87 30.8,84 C26,81 20,79 14,77 C8,75 4,73 2.7,70.5 C1.5,67 1,64 1,61 Z" fill="url(#md)" stroke="#7a7a7a" stroke-width="1.4"/><path d="M16,55 C16,40 30,30 48,30 C64,30 76,36 76,46 C76,54 70,58 60,60 C48,62 36,60 26,63 C20,64 16,60 16,55 Z" fill="#e9e9e9" stroke="#cfcfcf" stroke-width="1.6"/><path d="M22,56 C24,46 34,40 48,40 C60,40 68,44 68,50" fill="none" stroke="#dadada" stroke-width="2"/><path d="M85,26 C80,38 76,48 73,54 C70,60 66,64 62,68" fill="none" stroke="#555" stroke-width="2.6" stroke-linecap="round"/><path d="M80,42 C86,50 91,56 96,62" fill="none" stroke="#6a6a6a" stroke-width="1.8" stroke-linecap="round"/><path d="M36,80 C46,74 56,70 64,68 C74,66 84,66 96,68" fill="none" stroke="#6a6a6a" stroke-width="2.4" stroke-linecap="round" stroke-opacity="0.85"/><path d="M4,70 C12,74 22,78 31,84" fill="none" stroke="#8a8a8a" stroke-width="1.6" stroke-linecap="round"/><g clip-path="url(#clM)"><path d="M33,87 L45,87 L45,100 L33,100 Z" fill="#6fb0e0"/></g></g>
<g transform="translate(317.50 233.80) scale(0.7050 0.5700)"><path d="M40,14 L60,14 L61,30 C60,40 58,48 56,54 L44,54 C42,48 40,40 39,30 Z" fill="url(#bs)" stroke="#9b9b9b" stroke-width="1.2"/><ellipse cx="38" cy="11" rx="12" ry="10.5" fill="url(#bs)" stroke="#9b9b9b" stroke-width="1.2"/><ellipse cx="62" cy="11" rx="12" ry="10.5" fill="url(#bs)" stroke="#9b9b9b" stroke-width="1.2"/><path d="M40,12 C44,20 56,20 60,12 L60,26 C56,30 44,30 40,26 Z" fill="#dcdcdc"/><path d="M50,8 L50,28" stroke="#b0b0b0" stroke-width="1.5"/><path d="M1,50 C4,44 14,40 22,34 C26,30 30,26 34,26 C38,30 42,44 50,54 C58,44 62,30 66,26 C70,26 74,30 78,34 C86,40 96,44 99,50 C101,62 98,76 92,86 C86,94 76,98 66,98 C60,98 58,92 57,78 L50,76 L43,78 C42,92 40,98 34,98 C24,98 14,94 8,86 C2,76 -1,62 1,50 Z" fill="#6db3e3" stroke="#5b9ccc" stroke-width="1"/><path clip-path="url(#clCT)" d="M2.0,46.0C16.0,36.0 34.0,38.0 48.0,52.0M98.0,46.0C84.0,36.0 66.0,38.0 52.0,52.0M2.6,52.3C16.0,42.9 34.0,44.6 48.0,57.1M97.4,52.3C84.0,42.9 66.0,44.6 52.0,57.1M3.1,58.6C16.0,49.7 34.0,51.1 48.0,62.3M96.9,58.6C84.0,49.7 66.0,51.1 52.0,62.3M3.7,64.9C16.0,56.6 34.0,57.7 48.0,67.4M96.3,64.9C84.0,56.6 66.0,57.7 52.0,67.4M4.3,71.1C16.0,63.4 34.0,64.3 48.0,72.6M95.7,71.1C84.0,63.4 66.0,64.3 52.0,72.6M4.9,77.4C16.0,70.3 34.0,70.9 48.0,77.7M95.1,77.4C84.0,70.3 66.0,70.9 52.0,77.7M5.4,83.7C16.0,77.1 34.0,77.4 48.0,82.9M94.6,83.7C84.0,77.1 66.0,77.4 52.0,82.9M6.0,90.0C16.0,84.0 34.0,84.0 48.0,88.0M94.0,90.0C84.0,84.0 66.0,84.0 52.0,88.0" fill="none" stroke="#3d77a8" stroke-width="1.2" stroke-opacity="0.65"/><path d="M42,46 L58,46 L56,56 L44,56 Z" fill="#c9c9c9"/><path d="M44,40 L56,40" stroke="#3a3a3a" stroke-width="2.4"/></g>
<g transform="translate(317.50 298.00) scale(0.7050 0.5650)"><path d="M1,56 C4,44 16,38 26,32 C32,30 38,32 42,36 L50,40 L58,36 C62,32 68,30 74,32 C84,38 96,44 99,56 C101,70 98,82 92,90 C86,97 76,100 64,100 C58,100 57,94 56,86 L44,86 C43,94 42,100 36,100 C24,100 14,97 8,90 C2,82 -1,70 1,56 Z" fill="#5fa6da" stroke="#4f8fc2" stroke-width="1"/><path d="M14,46 C20,50 26,62 32,74 M86,46 C80,50 74,62 68,74" fill="none" stroke="#3a5d8e" stroke-width="4.5" stroke-linecap="round"/><path d="M22,42 C28,48 34,58 38,70 M78,42 C72,48 66,58 62,70" fill="none" stroke="#2f6db0" stroke-width="3"/><path clip-path="url(#clCB)" d="M3,60C12,64 22,68 30,74M97,60C88,64 78,68 70,74M3,67C12,71 22,75 30,81M97,67C88,71 78,75 70,81M3,74C12,78 22,82 30,88M97,74C88,78 78,82 70,88M3,81C12,85 22,89 30,95M97,81C88,85 78,89 70,95M3,88C12,92 22,96 30,102M97,88C88,92 78,96 70,102M3,95C12,99 22,103 30,109M97,95C88,99 78,103 70,109" fill="none" stroke="#3f6f98" stroke-width="1" stroke-opacity="0.55"/><path d="M38,46 L62,46 L60,76 L40,76 Z" fill="#5b9bcf"/><path d="M42,56 L58,56 M42,64 L58,64 M50,48 L50,74" stroke="#3d6d96" stroke-width="1.2"/><circle cx="35" cy="14" r="11" fill="url(#bs)" stroke="#9b9b9b" stroke-width="1"/><circle cx="65" cy="14" r="11" fill="url(#bs)" stroke="#9b9b9b" stroke-width="1"/><path d="M34,16 C36,8 64,8 66,16 L64,40 C60,46 56,48 50,48 C44,48 40,46 36,40 Z" fill="url(#bs)" stroke="#9b9b9b" stroke-width="1"/></g>
<g transform="translate(251.40 361.40) scale(0.4340 0.2800)"><path d="M4,44 C6,20 30,4 56,4 C80,4 98,18 98,36 C92,32 80,28 70,32 C60,38 56,48 52,62 C42,64 30,60 20,54 C12,52 6,48 4,44 Z" fill="#f2f2f2" stroke="#c4c4c4" stroke-width="2"/><path d="M14,42 C20,24 40,14 58,14 C72,14 86,20 94,30" fill="none" stroke="#cccccc" stroke-width="2.4"/><path d="M26,46 C28,32 42,26 56,28 C66,30 70,40 64,50 C58,58 40,60 26,46 Z" fill="#ebebeb" stroke="#c2c2c2" stroke-width="1.6"/><path d="M38,58 C48,72 62,86 78,98" fill="none" stroke="#cacaca" stroke-width="2.5"/><ellipse cx="40" cy="80" rx="7" ry="15" transform="rotate(20 40 80)" fill="#1d4f91"/></g>
<g transform="translate(347.80 361.40) scale(-0.4240 0.2800)"><path d="M4,44 C6,20 30,4 56,4 C80,4 98,18 98,36 C92,32 80,28 70,32 C60,38 56,48 52,62 C42,64 30,60 20,54 C12,52 6,48 4,44 Z" fill="#f2f2f2" stroke="#c4c4c4" stroke-width="2"/><path d="M14,42 C20,24 40,14 58,14 C72,14 86,20 94,30" fill="none" stroke="#cccccc" stroke-width="2.4"/><path d="M26,46 C28,32 42,26 56,28 C66,30 70,40 64,50 C58,58 40,60 26,46 Z" fill="#ebebeb" stroke="#c2c2c2" stroke-width="1.6"/><path d="M38,58 C48,72 62,86 78,98" fill="none" stroke="#cacaca" stroke-width="2.5"/><ellipse cx="76" cy="80" rx="7" ry="15" transform="rotate(20 76 80)" fill="#1d4f91"/></g>
<g transform="translate(358.00 361.40) scale(0.4110 0.2800)"><path d="M4,44 C6,20 30,4 56,4 C80,4 98,18 98,36 C92,32 80,28 70,32 C60,38 56,48 52,62 C42,64 30,60 20,54 C12,52 6,48 4,44 Z" fill="#f2f2f2" stroke="#c4c4c4" stroke-width="2"/><path d="M14,42 C20,24 40,14 58,14 C72,14 86,20 94,30" fill="none" stroke="#cccccc" stroke-width="2.4"/><path d="M26,46 C28,32 42,26 56,28 C66,30 70,40 64,50 C58,58 40,60 26,46 Z" fill="#ebebeb" stroke="#c2c2c2" stroke-width="1.6"/><path d="M38,58 C48,72 62,86 78,98" fill="none" stroke="#cacaca" stroke-width="2.5"/><path d="M10,58 l14,-2 l2,8 l-14,2 Z" fill="#90c2e6"/><ellipse cx="44" cy="80" rx="7" ry="15" transform="rotate(20 44 80)" fill="#1d4f91"/></g>
<g transform="translate(453.70 361.40) scale(-0.4240 0.2800)"><path d="M4,44 C6,20 30,4 56,4 C80,4 98,18 98,36 C92,32 80,28 70,32 C60,38 56,48 52,62 C42,64 30,60 20,54 C12,52 6,48 4,44 Z" fill="#f2f2f2" stroke="#c4c4c4" stroke-width="2"/><path d="M14,42 C20,24 40,14 58,14 C72,14 86,20 94,30" fill="none" stroke="#cccccc" stroke-width="2.4"/><path d="M26,46 C28,32 42,26 56,28 C66,30 70,40 64,50 C58,58 40,60 26,46 Z" fill="#ebebeb" stroke="#c2c2c2" stroke-width="1.6"/><path d="M38,58 C48,72 62,86 78,98" fill="none" stroke="#cacaca" stroke-width="2.5"/><path d="M12,56 l14,-2 l2,8 l-14,2 Z" fill="#90c2e6"/><ellipse cx="52" cy="80" rx="7" ry="15" transform="rotate(20 52 80)" fill="#1d4f91"/></g>
<rect x="307.2" y="169.2" width="92.8" height="13.2" fill="url(#cb)"/>
<text x="352.0" y="179.3" font-size="9.45" text-anchor="middle" fill="#0d2545">T value</text>
<text x="270.3" y="181.2" font-size="9.45">- 6.0</text>
<text x="406.0" y="181.2" font-size="9.45">- 3.0</text>
<rect x="307.2" y="403.8" width="92.8" height="13.2" fill="url(#cb)"/>
<text x="352.0" y="412.7" font-size="9.45" text-anchor="middle" fill="#0d2545">T value</text>
<text x="270.3" y="414.6" font-size="9.45">- 6.6</text>
<text x="406.0" y="414.6" font-size="9.45">- 2.0</text>
<path transform="translate(.5 .5)" d="m163 559-2-8 0 17 1 26-1-55 2 22-3 28-2-23 3-43-2 20 3 43-1-14-1-46 2 28 1-9-3 6 2 37-1-6-1-56 2 47-1 1 4-19-7 25 5 0-2 19 1-7-2-61 5-2 0 40-3-2 1 13 1-24-4 18 0 3 4-10-4-9 3-10-2-18-1 62 1-4 2-56 2-8-6 47 2-13-1-3 1-7 3 2-3-18 3 53-4 13 2-27-2-38-1 26 0-9 0-29 4 34-2 8 2-4 0 14 2-19-6 8 3 20 1 4-3-15 3 30-1-27 2-10-1-27 1 50-3 8-2-21 6-16-2 6 1-4-3 11-2 10 1-38 4 40-1-27-2 5-2-9-1-15 6 39 1-44-5 15-1-15 3 18-1 30-1 13 5-48-4 35-2-7 5-27 0-23-1 0-1 17 1 10-3 40 0 10 2-76-3 22 1-15 3 30-3-27 0 53 0-7 0 4 2-26-2 0-2 42 1-48 4 46-2-62 3 17-1 25-1-28 1 2-2 34 1-52-1-6 1 60-4 1 3-88-1 16 3 8-5 29 4 3 1 24-1 0 1-6-1-19-3 2 4 25-1-11-1 4 3-39-1 28-2 10 3-29-2 8 2 18-6 2 6 6 0-15-5-19 1-13-1 9 5-9-4 34-2-9 1-2 1-3 3 9-3-10 3 35-2-61-3 61 4-29-3 36 2-24 0-11 0-25 1 25 3 33-1-48-1 14-2 0 0-13-1 19-1-6 0-28 5 71-4-41 3 25-1-33-1 15-1 22 2-60 0 29-3 21 4-17-2-16 1-17-2 67 0-25 0-26 2-23-2 47 4-21-4 3 4-17-1 32-5 30 4-57 2 31-2-100 2 74-1-11 2 45-4-37-1 15-1 27 5-28 1 1-1 15-4 10 3-1 0-9-2-46 0-5 1 54 2-6 0 25-3-69-1-2 2 23 1-9-1-19-2 68-1 3 0-8 5 18-1-62-4 13 0 17-1 10 0-46 6 28-5-9 3 31 1-19-4-29 4 66-2-13 3-45-2 12-3-8 5 36 1 2-1-1-3-55-1 13" fill="none" stroke="none" style="marker:url(#g0)"/>
<path transform="translate(.5 .5)" d="m165 556-7 8 8-35 1 34-10 34 11-37-10-11 8-4-10 14 10 24-1-14-9 1 12 24-12-16 0 10 1-7 1-23-2 24 10 5-10-11-1-15 3-22 9 23 0-3-1-33-9-1 10 63-10 5 0-35 10-10-10-26-1 59-1-19 12-37-11 34-1-1 2-4 8 19 0-68 0 48-7 27 9-27 1-12 0 38-12-13 2-16-2 12 2-31 8 19 2 30-1 1-10-60-1 65 9-21-8 28-1-30 1 19 0 1 9-11 0-11-10 33 11-38 0 35 0-49 0 16-2 0 1 1 1-14-1 55 0-39-10-37 0-2 11 56-1 1-9-35 1 37 10-38-11 49 9-57-1 50-8-17 9-15-11 4 2-23-1 16 0-17 11 31 1-9-10-41 7 28 1-19-9 35 0 22 10-31-9 29 8-50-8 47-1 27-2-52 1 6 12-31-1 1 1 39 0-14-1 40-11-40 11 15-9-2-2 9 2-49 8 35-1-29 3-9-13 25 3 32-3-28 1 47 10-7 1-68 0 6-10 37-1-25 10 38-11-41 3 25 0 13 7-21 0 21 2 5-9-42 0 23-1-1 10 8 1-3-10-10 10-31-11 56-1-18 10 6 1-15-9 3 10 1-10 0-1 0 9 22-9-4-2-19 12 1-11-8-1 24 10 7 0-24 2 7-11 12 1-23 9 43-8-80-3 58 13-15 0 5-12 18 9-4 1 20 2-51-11 32 0-71 1 23 9 39-1-12-8 9-2-5 0 16 10 4 0 4-9-14 0 5-1 17 10-44 0 36-10-17 11-3-11-22 0 37 10-5 1 5 0-22-9-25 7 7 3 50 0-2-2-29 2 39-1-47-10 1 10-21-10 37 1 9 10 1-12-20 0 40-1-7 3 6-1-5 1 6 9-44 0 22-2-18-10 37 1-58 9 35-8-50 0 44-1 32 10-18-8-26" fill="none" stroke="none" style="marker:url(#g1)"/>
<path transform="translate(.5 .5)" d="m171 523-1 19-16 31 1 7 14-7-17 13 17-28-16 22 1-23 15-34-15 11 16 45-18-26 19 6-16-6-2 0 2 43 0-37 15 11-17-43 18 23-16 19 14 3 0-16 0 35-17-26 18 20-17-42 17 45-17-38-1 9 1-14 17 6 0-14-1 43-14-49-3 31 18-30 1 18-2-18-15 35 17-25-17 37 1-32 0 37 16-21-3-13-15 18 1-30 1 19 14-22-14 53 15-7-15-10 13-1 0 21-15-19 1-29-1-4 1 22 17-4-17 0-1 35 0-13 2-2-3-54 0 67 0-43 0 47 19-18-2 3-1-11-13 12 15 5-16-29 15 28 0-28 0 14 2-12-17 33 17-31-18-27 1-10 0 45 1-22 15 46-18-60 3 2 14-13 1 51 1-40 0 25-17 17-1-18 2 46-2-1 1-58 16-9-17 47 16-15-16-19 1 28 17 12-17-28 16-4 0 25-18 0 17-11 2-8 0-23-17 40 0-13-1 31 1 3 17-37-1-6 0-7-15 4 14-28-15 3-2 8 1 48 17 13 0-44-16-22 0 11-2-15 1 72 2-56 0 19-1 17-1-5 2-39 0 20 14 24-17-2 19-3-1-12-17-39 16 34-14-2 16 26-18-23 0 1 15-14 3 21-18 3 1-7-2 7 0-37 17 54-15 1 0 14-1-31 18 19-19 8 19-29 0-10-17 1 17 41-18-31-1-19 1-18 0 34 0-7 1 21 16-38-16-12-1-9 2 20 13 37 1-12 1 27 1-71-1 35-1 3-16 36 16-15 1-22 0 37-17-38 15 23 2 18-2-12 1 7 0-29-1-3 1 18 1-21 1-28-16 50-1-36-1 45-1-18 1-8-1-30 17-11 0 67 1-33-17-23 18 39-2 12-17-53 19 48-2 6-15-5-2-11 0-14 17 12 1-57-18 82 18-41-2 45-14-56 17 46-3-61-14 59-1-30 16 7-15-41 0 48 1 1 16 20 0-37-19 3 1 14 2 33 14-67" fill="none" stroke="none" style="marker:url(#g2)"/>
<path transform="translate(.5 .5)" d="m174 583-23-35 24-11-1 17-24 23 2-6-3-25 23 12 1 17 0-22-23-4-1-1 25 29-25-20 1 14 23-6-23-24 24 15-25 40 2-27 21 19-23 6 1-5 1-58 23 28-24-31 24 51-23-44-1-3 0-5 23 19-21 49 20-17-22 12 24 2-25-16 24-14 1 34-23-50-1 28 1-15 23 0-2 21 0-28-23-1 2 35 0-26-2 35 3-12 22 1-24-3 2 8-4-10 24 3-22 9 1-32 22 21 1 17-23-59-1 17 23-31-1 57-22-58 0 36 23 11 0-42-23 15 23 9-23 7 23-18-22 32 21-38-22 59 1-30-1 28 0-34 1 41-2-38 24 14-24-29 25 1-23-2 21 16 0 8 2 17-23-38 22 16-1 16-23-6 24-30-23 36 2-19-1 18 21-42-21 44 0-53 22-7-22 59-2 11 1 6 22-39-23 18 0-20 2 7 0-30-2 2 0 49 2-40 0-7-1-4 23 12-24 25 0-26 0 46 2-86-2 82 0-50 1-30 1 41 22 2 1 46-23-4 24-13-26-13 23-11-20 36 21-30-24 14 23-50 1 71 1-40-25 12 0-33 23 40 2 6-23-70 22 19-1 19-23 18 0 25 2-16-2 8 24 11-24-14 2-23 23-7-24 47-1-36 1 19 0 16 1-35 1 34 22-45-1 44 1-55-2 24 2 3-22-8-2-15 22-7-21-12 23 53 0-15-24-6-1-31 1 37 23 10-1 26 2-18-2-7-22-19 2 6-2-15-1 13 2 22 21-34-22 12 0 36-1-57 0-32 24 75-24-54 25 8-1 33-1 17-21-61 0 65-1-7 22-38 1 35-23-10 24-3" fill="none" stroke="none" style="marker:url(#g3)"/>
<path transform="translate(.5 .5)" d="m175 558 0 12-29-46 29 48 1 10 2-12-33-14 30 1-28-24-1 12-1-22 0 60 1-11 31-16-30 25-2-32 30-23-29 45 0-19 2 29-1-41 0 26 28 12-29-13 2-42 29 29-30-14 0 40 29-11 2-29-32 26 0-41 30 69-29-27-2 23 32-67-31 23 30 6 1 4-1 24 2 16-30-73 28 19-30 52 1-19 30-45-1 51-28-27-1 15 0 22 0-40-1 23 0-23 31 50-29-50-2 33 2-7 27-41-27 3 0 5 30 19-2-19 1 54 0-44-1-8-28 48 0-56-1 21-1-26 2 64 0-26 29-8-30-1 0 33 0 0 28-44-28 6 28-36 2 39-29-7 28-25-30 46 2-33 30 41-2-48-29-8 29 43-28 20 27-36 1-9 0 30-28-22 0 30-2 15 31-59 1 20-2-20-29-15 30 22-31 38-1-29 32 32-30-25 0 39-2-27 31-6-29 19 0-22-1-4 2-28-2 33 31-11-30 23 1 1 29-40-1 38-28-3 28-27 0 37-29-52-1 11 1 6 28 30 0-18 2-18-31-12 1 44 1-14 0-4-2 26 2-4 27 24 1-20 1 14-31-37 1 23 1-29 28 34-1-63-29 75 29-7-27 9-2-59-1 38 1-33 2 12-1-23 1 42 0-54 0 36-1-5-1 2 32 23-2 19-30 2 0-38 1 27 29-1-28-24 0-29-1 6-2-13 30 53 3-21-30-2 0 28 0-17-1-36 29-5-28 54-1-68 0 35 0-17 1 10 27 38-29-20 30-26-31 47 31 17 1-50-2 1-30 44 3-13-2-9 2-63 0 38 29 35-30-34 1 33-3-9 32 5-30 24-1-51 30 26-28 10 28-54 0 16 0 12-28-18-1 19 0-29 30 48-30 10 29-18-30-36 1 24 30-1-31-1 2 43 0-8-2-47 32 13-3-6 1-10-28-41 27 54 1 26 0-49-1 50-28-19 1 26 28-30-29 34-1-1 0-77 2 18-1 19 0-46-2 85 2-14 30 12 1-16" fill="none" stroke="none" style="marker:url(#g4)"/>
<path transform="translate(.5 .5)" d="m181 549-38 21-1 12 0-17 37-7 0-22-37 39 37 11-34-45 0-5 34 15-34 18-1-7 35 27-1-9-33-21-3-17 2 36 0-41 35 21-36 3 2 12-2 6 36-27-36-18 1 31-2-6 1 21 35-48-36 66 1-43 0 39 1-20 34-16-35-16 1 18 36-22-38 57 2-47 0-17 35 25-36 13 0-60 1 57 34-9-36 2 2 24 35-14-37-22 2 9 34 9-35-23 0 17 1 9-1-30 38 43-1-1 0-41-35 59 36-31-36-25 33 1 3 25-3 6-34-16 0 0-1 4 37 4-36 15-2-25 37 10 0-16 2 31-37-36 1 46-1-48 0 51-1-71 0 24 35-22 1 43 1-44-36 54 1 8-1-57 36 64-35-24 0-8-1 0 0 5 0 3 0-20 36 12-37 15 0-8-1-14 1 29-1-26 38 36-37-65 0 53 36 0-36-22 0 39-1-23 38-7-35 34 34-8 1-4-35-9 35 0-36-28-2 48 1-66 38 23-37 17-1-40 37 65-38-17 3-25-2 40 38-13-2-2-34 4-3-7 37 0-1-49-35-7-1 56 37-15 1-35-2 27 2 13 1-8-37-21 37 16-1 19-36-51-1 31 35-2 2 4-35 40 35-14 0-19 0 23 1-28-38 12 0 8-1-31 1 1-1-5 37 36 1-24-1 33-1-42 0 36-35-17 2-7-1 20 35-16 1 8-1 8-1-12 0-2-36-42 1 28 2 24" fill="none" stroke="none" style="marker:url(#g5)"/>
<path transform="translate(.5 .5)" d="m142 561 39 10 3 23-43-52 41 45-43 4 42 8-41-2 43-28-44-12 44 23 0-17-1-1-42 12-1-16 2-3 43 9-45 24 42-38-40 7-1 3 41 10-40 13-2-23 45-20-2 40-41 0-2 0 44-39 1 39-44-26 42 6 2-2-44 26 0-3 0 7 0-6 44-40-43 56 41-24 0-38-41-1 41 25-43-1 2 6 40-13 3 37 0-2-1 10-1-35-42-24-1 20 44-7-42-18 0 46 41-3-41-18 0-19-1 11 0 21 1-12 40-10 2 32-41-35-1 40 0-44 41-11 1 38-44-2 1-20 2 12-3 10 2 26-2-70 0 19 0 7 43 34 2-18-45-18 0-14 44 23-2 22-42-38 44 57-43-33 0-12 43 26 0-27-44 27 1-52 43 27-43-12 42 23-41 0-1 11 42-29-40 2-2-13 2 8-3 4 45 8-45 23 3 7 0-88-1 88 42-4 1-7 0-29-43 30-2-22 1 43 1-54 0-8 0 28-2-13 45-24-45 41 45 12-43 20-1-67 1 44 1-50-2 15 0 22 44 28-43-30-1-36 0 34 2-2 0-35-3 69 45-16-43-40 43 0-2 25-43 38 2-42 0-25 0 15 42 48-43-2 43-50-43-21 1 58-2 15 3-14 0 4 40 3 0 2 2-6-43-3 40-36 2 19-42 4" fill="none" stroke="none" style="marker:url(#g6)"/>
<path transform="translate(.5 .5)" d="m188 576-2 4-48-22-1 18-1-52 1 9-1 24 2-8 47 10-49 40 2-47 49-5-49-1 48 7-48 33-2-4 49 0 1-44-50 45 1-32 0 10 50 22-1-38-1 10-49-12 1 27 0-9 1 23-2-58 49 30-49 36 0-26 2 24 0-30 49-2-49 8-1 14 0-6-1-37 1-13 0 55 51-23-3 32 2-39-51-14 1-10-1 33 1 18 0-12 1-38-2 41 3-38-2 57-1-33 49 4-50 2 3 23 0-25 0 0-3 12 51-8 2 19-53 1 1-10 0-16 2 25-2 12 1-3 49-32 1 12-49-35 48 17 1 22-51 4 49-47-49 37 2-20 49 31-50 17 51-37-52 19 2 12 0-22 49-10-1 13 0 16-50-27 1-31 1 24-3 0 52 20-52-26 1 34 1-36 1 26 0-5 49 15 1-34-3 34 1-33 2 27-51 6 0-48 0 53 0-52 49 16-2 49 2-8-1-44 1 27-49 10 49-12-48 10-2-30 0 27 51-12-50-19 50 39-49-28 47 18-48-7 50 18 0-29 0 23-2-22-49-30 50 26-49 46 1-26 48-23-48 19 0-36-1 46-1-37-1-21 1 26 1-4 50 13-51-19 0 19" fill="none" stroke="none" style="marker:url(#g7)"/>
<path transform="translate(.5 .5)" d="m134 579 54-42-55 22 2 5-1 5 54-11 1 23-1 8-56-15 3-27-1 14 1-31 55 50-56-18-2 28 58 6-57-47 1 2 54 8-54-25-1 46 1-1 1 6 54-24-55 31 1-5 54-7-1 0-55-59 0 16 56 14 0-16 1 37-56-28 1 38 0-23-1-2-1 41 1-18 55-47-55 42-2 26 1-44 0-30 0 54 57 3-57-33 58 7-2 22-56-25 2 25 0-3-1-19 56-1-1-1 1-4-56 31-1 0 2-71 0 46-2-12 56 40-1-48-55 20 1-24 1 22-3 18 1-49 1 24 1-15 55 47-55-7 53-23-53-22 54 58-54-29-1 27 56-5-55-25 0 30-1 3 0 6-1-38 55 13-53 27 54-14-56-55 1 39 1 26 55-33-56 8 1-9 54 41-56-2 55 2-55-15 55 2-55-29 1 6-1 15 0-34 1 36 0-38-2 55 2-20-1-7 2 1 54-22-54 11 55 6-57 14 2-27-3-18 1 53 57 5-57-63 1 6 57 20-57-6 55 7-55 14 1-26-3 25 0-2 56-28-55 58" fill="none" stroke="none" style="marker:url(#g8)"/>
<path transform="translate(.5 .5)" d="m131 575 61 5-60-55 0 34-3-15 64 57-64-48 3 27-1-55-1 59 2 4 61-11-62-36 63 39-63 10-1-41 0 8-1-1 63-19-61 46-1-17 64-7-63-36 0 26-1 32 62-19 1 10-64-16 2 19 61 5-61 1-1-19 1 34 0-1-1-15-1-3 64 20 1-8-62-39-1 12 62 10-62 17 0-20 0 2 1 22 59-29-61-30 62 12 1 9-1-17-60 11-2 10 1-31-2 34 2-38-1 52 63-17-64 5 2 35 62-19-64-57 64 46-62-11 0 26-1-32 1 9 0-3 1 29 61-39-61 4-1 7 61 37-62 4 62-22-61 12 0-32 0-1-1 32 2-34-2 25 1-4 61-17-63 13 64 7-62-35 0 20-1-26 62 10 1 3 0 6-64 26 65-22-63 19 1-23 60 31-61-55-1 14 2 15-2-27 0 50 2 13-3-40 65 14-65-24 1 25 2 11-3-47 3 22-2 19 1-40-2 36 2 5-1 22 1-56 0 3-2 48 1-27 0-11 63 32-62-59" fill="none" stroke="none" style="marker:url(#g9)"/>
<path transform="translate(.5 .5)" d="m127 600-1-8 68 3-68-73 3 78-1-65 69 23-71-14 0 6 1-19 0 64 0 3 67-42 1 38-69-13 69-35-66 9-2 28 68-10-69 26 1-2 0-17 1 13-1-9-1 13 1-47 1 39-2-1 2-32 68 23-1-21 2 22 0-22-71-6 2 8-1-30 2 7 66 14-66-1 67 30-69 6 1-50-1 10 1 34-2-22 2-24 69 38-1 14-70-14 3 9 0 0-2-25 2 11 66-23 2 36-71 14 69-24-67-15 1 14-3-24 2 25 0-16-2-1 69 4-68-30 0 25 2 37 67-14 0 6-67 18-2-41-1 16 0-8 2 5 67 10-67-48 0 27 0 33 1-63-3 50 2-56 1 43 67-21-70 21 69-10-69 41 2-40 66 6-67 3 0-35 0 7 0 8-1 21 1-33 2 41-3 4 1-22 0 37 67-18-66 6" fill="none" stroke="none" style="marker:url(#g10)"/>
<path transform="translate(.5 .5)" d="m125 580-1-50 0 31 1 0 0 17-1-40 74 33-73-34-1 60-1-36 1 1 0-3 0-27-2 48 76-22 0 31-73-1-3-11 78-12-77-23 76 37-76 5 1-4 1-21-2 0 1-12-1 16 2-5 0 6 0 17 75 15-75-23-1-20 1 4 0 4 75 27-77-21 75-6-74 19 0-7 0-4 76-16-76 7-1-31 0 70 0-41 0 22 0 14 75-36-75 19 76 4-75-50 0-4 1 70-2-129 2 95-2-19 2 25-1 25 1-55 0 4 73 14 1 38 0-45-74 4-2 15 0 5 0-19 2 37 73 4 0-16 0-4-74 18 75-14-74-38-1 51 1-45 74 9-76-9-1 45 3 5-1-25 0 12 76-32-75 23-1-30 2 11 74-6 1 42-78-4 1-9" fill="none" stroke="none" style="marker:url(#g11)"/>
<path transform="translate(.5 .5)" d="m121 558-1 5 1 23-2 2 1-36-1-11 3 39-2-36 0 36 2-14-2 31 1-32-2-31 0 15 1 31 1-36 0 14-1-27 0 33-1-19 2-3 0 37-2 10 3-29-1 6 1-14 0 21 0 12 0-27 0-19-2 22 1 8-2 26 1-52 0 0 2 21-2-23 2 44-2-25 0-9 1 6 0-25 0 48-2 13 1-35 2 39-2-40 2 0 0-32-1 58-2-21 3-4-2 1-1-8 3 2-3 3" fill="none" stroke="none" style="marker:url(#g12)"/>
<path transform="translate(.5 .5)" d="m117 558 1-12-1 24 1 24-2-45 0-13 2 20 0 41-1-34 1 1-2-11 2 22 0-33-2 22 1-17 2 33-2 1 1 0 1-10-1 9 0 7-1-31-1 37 2-13 0-17 0-7-1 20 0-17 1 0-1 29 2-29 0 1-2-3 1 0 0-9-1-8-1-14 0 61 2-36 0 28-2 1 1-8 2 7-1-36-2 11 2-14-1 58 0-12 0-36" fill="none" stroke="none" style="marker:url(#g13)"/>
<path transform="translate(.5 .5)" d="m114 594 2-14 0-8-2 15 1-35-1 5-1 10 2-11-1 2 1-7-1 9 0 28 1-28 1 2-3 34 2-47 0 31 1-1-1 5-2-4 2-22-2-11 2 33-2-13 1-22 1-18 0 38 0-23-1 16 0-11 0 14 1 15-1 14 0-43 0 32 0 14" fill="none" stroke="none" style="marker:url(#g14)"/>
<path transform="translate(.5 .5)" d="m110 580 2-23-1-16 0 18 0-1-1 22 2 5-2-26 1-2 1-24 0 48-1 3 1 2-2 2 2 9-2-22-1-22 3 48 0-42-2 2" fill="none" stroke="none" style="marker:url(#g15)"/>
<path transform="translate(.5 .5)" d="m108 580-1-5 2 7 0-2 0-28 0 31 0-25 0-56 0 59 0 18-2-6 2-16 0 41-2-20 1-20-1 15 1-7 0-7 1 7-1 13 1-8-1 9" fill="none" stroke="none" style="marker:url(#g16)"/>
<path transform="translate(.5 .5)" d="m106 532-3-6 0 31" fill="none" stroke="none" style="marker:url(#g17)"/>
<path transform="translate(.5 .5)" d="m100 521" fill="none" stroke="none" style="marker:url(#g18)"/>
<path transform="translate(.5 .5)" d="m98 570 0-23" fill="none" stroke="none" style="marker:url(#g19)"/>
<path transform="translate(.5 .5)" d="m96 514 0 66" fill="none" stroke="none" style="marker:url(#g20)"/>
<path transform="translate(.5 .5)" d="m93 539-3 21 1 20-1-50" fill="none" stroke="none" style="marker:url(#g21)"/>
<path transform="translate(.5 .5)" d="m88 580-1-37 2-14" fill="none" stroke="none" style="marker:url(#g22)"/>
<path transform="translate(.5 .5)" d="m76 580 8 0-6-20-2-18 8 6-12 32-13-23" fill="none" stroke="none" style="marker:url(#g23)"/>
<line x1="63.3" y1="461.0" x2="63.3" y2="613.0" class="g"/>
<line x1="110.9" y1="461.0" x2="110.9" y2="613.0" class="g"/>
<line x1="158.5" y1="461.0" x2="158.5" y2="613.0" class="g"/>
<line x1="206.1" y1="461.0" x2="206.1" y2="613.0" class="g"/>
<line x1="52.7" y1="593.1" x2="208.2" y2="593.1" class="g"/>
<line x1="52.7" y1="555.3" x2="208.2" y2="555.3" class="g"/>
<line x1="52.7" y1="517.5" x2="208.2" y2="517.5" class="g"/>
<line x1="52.7" y1="479.7" x2="208.2" y2="479.7" class="g"/>
<line x1="58.5" y1="565.1" x2="201.3" y2="572.3" stroke="#0b6e38" stroke-width="1.9"/>
<path d="M52.7 461.0V613.0H208.2" class="ax"/>
<line x1="63.3" y1="613.0" x2="63.3" y2="617.7" class="ax"/>
<text font-size="9.7" text-anchor="middle" transform="translate(63.3 630.2) scale(1 1.0)">−4</text>
<line x1="110.9" y1="613.0" x2="110.9" y2="617.7" class="ax"/>
<text font-size="9.7" text-anchor="middle" transform="translate(110.9 630.2) scale(1 1.0)">−2</text>
<line x1="158.5" y1="613.0" x2="158.5" y2="617.7" class="ax"/>
<text font-size="9.7" text-anchor="middle" transform="translate(158.5 630.2) scale(1 1.0)">0</text>
<line x1="206.1" y1="613.0" x2="206.1" y2="617.7" class="ax"/>
<text font-size="9.7" text-anchor="middle" transform="translate(206.1 630.2) scale(1 1.0)">2</text>
<line x1="48.0" y1="593.1" x2="52.7" y2="593.1" class="ax"/>
<text font-size="9.7" text-anchor="end" transform="translate(42.5 596.6) scale(1 1.0)">0</text>
<line x1="48.0" y1="555.3" x2="52.7" y2="555.3" class="ax"/>
<text font-size="9.7" text-anchor="end" transform="translate(42.5 558.8) scale(1 1.0)">1</text>
<line x1="48.0" y1="517.5" x2="52.7" y2="517.5" class="ax"/>
<text font-size="9.7" text-anchor="end" transform="translate(42.5 521.0) scale(1 1.0)">2</text>
<line x1="48.0" y1="479.7" x2="52.7" y2="479.7" class="ax"/>
<text font-size="9.7" text-anchor="end" transform="translate(42.5 483.2) scale(1 1.0)">3</text>
<text transform="translate(163.5 489.7) scale(1 1.0)" font-size="9.7" fill="#2a2a2a"><tspan font-style="italic">p</tspan> &lt; 0.001</text>
<text font-size="9.7" text-anchor="middle" transform="translate(130.3 643.9) scale(1 1.0)">Mean z score (FA)</text>
<text font-size="9.7" text-anchor="middle" transform="translate(29.0 537.3) rotate(-90) scale(1 1.0)">d factor score estimate</text>
<path transform="translate(.5 .5)" d="m299 573 0-11 0-53-4 86 4-68 0-3 0 45-4-58 0 75 4-8-4-54 4 24 0-17-4-25 0 19 0 64 4-85-4 23 4 63-4-7 0-10 4-24-4-29 4 44 0-39-4 16 4-24-4-1 0 76 4-23 0-14 0-26-4 16 0-13 4-25-4 70 4-39 0 47-4-28 4 19 0 24-4-66 0 65 4-67 0-22 0 34-4 24 4-49-4 31 0-13 4-2-4 52 0-85 0 41 4 38 0 9-4-86 0-6 0 84 0-23 4 4 0-22-4-13 0 37 0-44 4 58-4-17 0 39 4-61 0-18 0 31 0 39 0-20-4 24 0-17 4-28-4-38 0 18 0 39 0 4 0 25 4-41 0-2-4-18 4 61-4-59 4 57-4-19 0-17 0-13 4-3-4 45 0-37 4 30 0 19-4-86 4 70 0-50-4 31 4-1-4-11 0-3 4 44" fill="none" stroke="none" style="marker:url(#h0)"/>
<path transform="translate(.5 .5)" d="m304 532 0-16 0 14 0 69 0-56 0-29 0 42 0 2 0 12 0-18 0 15 0 28 0-2 0-83 0 31 0-4 0 41 0-14 0-53 0 62 0 15 0-28 0-39 0 64 0-18 0 20 0-4 0 8 0-43 0 48 0-78 0 44 0-39 0 10 0-5 0 47 0-25 0-42 0 19 0 52 0-6 0-53 0 19 0 16 0-30 0 20 0-7 0 13 0 30" fill="none" stroke="none" style="marker:url(#h1)"/>
<path transform="translate(.5 .5)" d="m308 540 0 4 0 13 0-21 0 39 0-44 0 48 0-37 0 54 0-68 0-11 0 18 0-11 0 27 0 31 0-5 0-15 0 12 0-8 0 1 0-19 0-30 0 66 0 2 0-53 0-20 0 78 0 7 0-12 0-14 0-44 0-6 0 38 0-45 0 74 0-51 0 22 0-15 0 50 0-40 0-32 0 70 0-39 0-4 0-39 0 60 0-6" fill="none" stroke="none" style="marker:url(#h2)"/>
<path transform="translate(.5 .5)" d="m317 526 0 25 0-5 0 28 0-37 0 32 0 12-4-62 0 41 0 0 0-17 4 28 0 6-4-37 4 54-4 1 4-35 0 5 0-11-4-6 4-24-4 73 4-12-4 14 0-13 0-8 0 4 4-64-4 61 4 19 0-30 0 11 0-24-4 12 0-32 0 40 4-38-4-21 4 62-4-32 0 44 0-62 4 11 0 24 0 2 0-9-4-90 4 77 0-24 0 41 0-31 0 21 0-28-4 71 0-57 0 14 4-9-4 35 0-12 0-12 4-43-4 80 0-35 0-13 4 6-4-16 0 35 0 17 4 1-4-26 4 30 0 5-4-23 0 15 0-72 0 8 0 16 0-13 0-13 0 21 4 56-4-17 0-17" fill="none" stroke="none" style="marker:url(#h3)"/>
<path transform="translate(.5 .5)" d="m322 540 0 42 0-49 0-4 0 25 0 44 0-71 0 11 0 35 0-21 0-7 0 16 0-42 0-1 0 76 0-16 0 6 0 12 0-52 0-2 0 22 0-6 0-27 0 48 0-13 0-18 0 27 0 18 0-3 0-4 0-23 0 23 0-15 0-19 0 4" fill="none" stroke="none" style="marker:url(#h4)"/>
<path transform="translate(.5 .5)" d="m326 553 0-19 0 45 0 4 0-14 0-17 0 43 0-38 0-37 0 42 0-30 0 3 0 4 0 32 0 18 0-3 0-21 0-27 0 49 0-26 0-16 0 22 0-13 0 20 0 5 0-29 0 8" fill="none" stroke="none" style="marker:url(#h5)"/>
<path transform="translate(.5 .5)" d="m335 584 0-5 0 18 0-19-5-3 0 7 0-3 0-34 0-5 5 29-5-33 5 39-5-18 0 27 0 15 0-31 0-41 5 8 0 20-5-30 0 9 0 55 0-28 5-28 0 40 0-6-5-38 5 33-5-24 0 17 5 5-5-39 0 12 5 51 0-46-5 4 5 22-5-11 0 35 0-10 5-21 0-5-5 43 5-65-5 28 0 8 0 4" fill="none" stroke="none" style="marker:url(#h6)"/>
<path transform="translate(.5 .5)" d="m339 552 0 27 0 4 0-5 0 8 0-4 0-38 0 11 0 41 0-61 0 21 0 19 0-8" fill="none" stroke="none" style="marker:url(#h7)"/>
<path transform="translate(.5 .5)" d="m344 560 0 13 0-33 0 14 0 25 0-1 0-41 0 20 0-19 0 23 0 15 0-14" fill="none" stroke="none" style="marker:url(#h8)"/>
<path transform="translate(.5 .5)" d="m352 561 0-9 0-2 0 24-4 4 4 1-4-35 4 35-4-24 4 1-4-6 4-11 0 16-4 3 0-11" fill="none" stroke="none" style="marker:url(#h9)"/>
<path transform="translate(.5 .5)" d="m357 558 0 20 0-5 0-37 0 28 0-9" fill="none" stroke="none" style="marker:url(#h10)"/>
<path transform="translate(.5 .5)" d="m361 559 0 6 0-8 0 21" fill="none" stroke="none" style="marker:url(#h11)"/>
<path transform="translate(.5 .5)" d="m370 557-4-23 4 45-4 0 0 16 4-17-4 1 4-23" fill="none" stroke="none" style="marker:url(#h12)"/>
<path transform="translate(.5 .5)" d="m375 598 0-42 0-6 0 30 0-26 0 24 0-11" fill="none" stroke="none" style="marker:url(#h13)"/>
<path transform="translate(.5 .5)" d="m379 547 0 31" fill="none" stroke="none" style="marker:url(#h14)"/>
<path transform="translate(.5 .5)" d="m388 578 0-40-5 19 0 21 5 1-5-66 5 42" fill="none" stroke="none" style="marker:url(#h15)"/>
<path transform="translate(.5 .5)" d="m392 578" fill="none" stroke="none" style="marker:url(#h16)"/>
<path transform="translate(.5 .5)" d="m397 539 0 40" fill="none" stroke="none" style="marker:url(#h17)"/>
<path transform="translate(.5 .5)" d="m401 559 0 19 5 1-5 0 5-23" fill="none" stroke="none" style="marker:url(#h18)"/>
<path transform="translate(.5 .5)" d="m410 554 0-13 0 15 0 0 0 22" fill="none" stroke="none" style="marker:url(#h19)"/>
<path transform="translate(.5 .5)" d="m414 537 0 20" fill="none" stroke="none" style="marker:url(#h20)"/>
<path transform="translate(.5 .5)" d="m423 556-4 23 0-21 0-17 4 37-4-50 4 19 0 9" fill="none" stroke="none" style="marker:url(#h21)"/>
<path transform="translate(.5 .5)" d="m432 579 0-1 4 0" fill="none" stroke="none" style="marker:url(#h23)"/>
<line x1="295.5" y1="459.5" x2="295.5" y2="610.6" class="g"/>
<line x1="339.7" y1="459.5" x2="339.7" y2="610.6" class="g"/>
<line x1="383.9" y1="459.5" x2="383.9" y2="610.6" class="g"/>
<line x1="428.1" y1="459.5" x2="428.1" y2="610.6" class="g"/>
<line x1="288.8" y1="591.4" x2="443.9" y2="591.4" class="g"/>
<line x1="288.8" y1="553.6" x2="443.9" y2="553.6" class="g"/>
<line x1="288.8" y1="515.8" x2="443.9" y2="515.8" class="g"/>
<line x1="288.8" y1="478.0" x2="443.9" y2="478.0" class="g"/>
<line x1="295.5" y1="568.7" x2="436.9" y2="558.9" stroke="#1a4ea2" stroke-width="1.9"/>
<path d="M288.8 459.5V610.6H443.9" class="ax"/>
<line x1="295.5" y1="610.6" x2="295.5" y2="615.3" class="ax"/>
<text font-size="9.7" text-anchor="middle" transform="translate(295.5 627.8) scale(1 1.0)">0</text>
<line x1="339.7" y1="610.6" x2="339.7" y2="615.3" class="ax"/>
<text font-size="9.7" text-anchor="middle" transform="translate(339.7 627.8) scale(1 1.0)">10</text>
<line x1="383.9" y1="610.6" x2="383.9" y2="615.3" class="ax"/>
<text font-size="9.7" text-anchor="middle" transform="translate(383.9 627.8) scale(1 1.0)">20</text>
<line x1="428.1" y1="610.6" x2="428.1" y2="615.3" class="ax"/>
<text font-size="9.7" text-anchor="middle" transform="translate(428.1 627.8) scale(1 1.0)">30</text>
<line x1="284.1" y1="591.4" x2="288.8" y2="591.4" class="ax"/>
<text font-size="9.7" text-anchor="end" transform="translate(278.6 594.9) scale(1 1.0)">0</text>
<line x1="284.1" y1="553.6" x2="288.8" y2="553.6" class="ax"/>
<text font-size="9.7" text-anchor="end" transform="translate(278.6 557.1) scale(1 1.0)">1</text>
<line x1="284.1" y1="515.8" x2="288.8" y2="515.8" class="ax"/>
<text font-size="9.7" text-anchor="end" transform="translate(278.6 519.3) scale(1 1.0)">2</text>
<line x1="284.1" y1="478.0" x2="288.8" y2="478.0" class="ax"/>
<text font-size="9.7" text-anchor="end" transform="translate(278.6 481.5) scale(1 1.0)">3</text>
<text transform="translate(388.5 491.0) scale(1 1.0)" font-size="9.7" fill="#2a2a2a"><tspan font-style="italic">p</tspan> &lt; 0.001</text>
<text font-size="9.7" text-anchor="middle" transform="translate(366.0 641.5) scale(1 1.0)">Extreme negative deviation</text>
<text font-size="9.7" text-anchor="middle" transform="translate(265.5 535.3) rotate(-90) scale(1 1.0)">d factor score estimate</text>
<path transform="translate(.5 .5)" d="m534 600 0-134 0 89 0 9 0 15 0-34 0 11 0-31 0-3 0 76 0-40 0-54 0 70 0-25 0-36 0 35 0 39 0 9 0-30 0-29 0 55 0-38 0-21 0 58 0-10 0-30 0-8 0-24 0-11 0 32 0-6 0 36 0 13 0-8 0-47 0-1 0 51 0 6 0-16 0-6 0-20 0-11 0 63 0-55 0-27 0 49 0 29 0-73 0-14 0 69 0-57 0 8" fill="none" stroke="none" style="marker:url(#k0)"/>
<path transform="translate(.5 .5)" d="m548 524 0 22 0 46 0-16 0-2 0-26 0-26 0-2 0-5 0 5 0 48 0 13 0-25 0-65 0 94 0-6 0-68 0 84 0-65 0 58 0-16 0-21 0-41 0 39 0 34 0-56 0 7 0 57 0-30 0-7 0 46 0-42 0-29 0 12 0 26 0-23 0-7 0 0 0 59 0-54 0 36 0-7 0-7 0-1 0 36 0-82 0 70 0-55 0 24 0-48" fill="none" stroke="none" style="marker:url(#k2)"/>
<path transform="translate(.5 .5)" d="m562 576 0-46 0-7 0 56 0 3 0-48 0-14 0 63 0-59 0 48 0-7 0-7 0 32 0 4 0-52 0 44 0-27 0-10 0-20 0 69 0-50 0 48 0-57 0 34 0-40 0 38 0-5 0-27 0 16 0-10 0-1 0 49 0-65 0 34 0-2 0-6 0-2 0 27 0-58 0 46 0-31 0 51" fill="none" stroke="none" style="marker:url(#k4)"/>
<path transform="translate(.5 .5)" d="m576 596 0-52 0 28 0 1 0 6 0-28 0 37 0-48 0 36 0 2 0 7 0-40 0 49 0-30 0 4 0-7 0-19 0 16 0-27 0-3 0 43 0-44 0 27 0 12 0-9 0 27 0-28 0-19" fill="none" stroke="none" style="marker:url(#k7)"/>
<path transform="translate(.5 .5)" d="m590 555 0 29 0-5 0 7 0-9 0-23 0 4 0 20 0-4 0-23 0 46 0-49 0 21" fill="none" stroke="none" style="marker:url(#k9)"/>
<path transform="translate(.5 .5)" d="m605 591 0-31 0-4 0 23 0-23 0 14 0-5 0 13 0-28 0 0" fill="none" stroke="none" style="marker:url(#k12)"/>
<path transform="translate(.5 .5)" d="m619 555 0 3 0 31 0-10 0 0" fill="none" stroke="none" style="marker:url(#k14)"/>
<path transform="translate(.5 .5)" d="m633 578 0-17" fill="none" stroke="none" style="marker:url(#k16)"/>
<path transform="translate(.5 .5)" d="m647 578 0-32" fill="none" stroke="none" style="marker:url(#k19)"/>
<path transform="translate(.5 .5)" d="m661 530 0-5" fill="none" stroke="none" style="marker:url(#k21)"/>
<path transform="translate(.5 .5)" d="m675 546" fill="none" stroke="none" style="marker:url(#k23)"/>
<line x1="534.6" y1="459.5" x2="534.6" y2="611.3" class="g"/>
<line x1="569.9" y1="459.5" x2="569.9" y2="611.3" class="g"/>
<line x1="605.1" y1="459.5" x2="605.1" y2="611.3" class="g"/>
<line x1="640.4" y1="459.5" x2="640.4" y2="611.3" class="g"/>
<line x1="675.6" y1="459.5" x2="675.6" y2="611.3" class="g"/>
<line x1="527.2" y1="591.4" x2="690.0" y2="591.4" class="g"/>
<line x1="527.2" y1="553.6" x2="690.0" y2="553.6" class="g"/>
<line x1="527.2" y1="515.8" x2="690.0" y2="515.8" class="g"/>
<line x1="527.2" y1="478.0" x2="690.0" y2="478.0" class="g"/>
<line x1="534.6" y1="568.7" x2="675.6" y2="567.6" stroke="#e3262b" stroke-width="1.9"/>
<path d="M527.2 459.5V611.3H690.0" class="ax"/>
<line x1="534.6" y1="611.3" x2="534.6" y2="616.0" class="ax"/>
<text font-size="9.7" text-anchor="middle" transform="translate(534.6 628.5) scale(1 1.0)">0.0</text>
<line x1="569.9" y1="611.3" x2="569.9" y2="616.0" class="ax"/>
<text font-size="9.7" text-anchor="middle" transform="translate(569.9 628.5) scale(1 1.0)">2.5</text>
<line x1="605.1" y1="611.3" x2="605.1" y2="616.0" class="ax"/>
<text font-size="9.7" text-anchor="middle" transform="translate(605.1 628.5) scale(1 1.0)">5.0</text>
<line x1="640.4" y1="611.3" x2="640.4" y2="616.0" class="ax"/>
<text font-size="9.7" text-anchor="middle" transform="translate(640.4 628.5) scale(1 1.0)">7.5</text>
<line x1="675.6" y1="611.3" x2="675.6" y2="616.0" class="ax"/>
<text font-size="9.7" text-anchor="middle" transform="translate(675.6 628.5) scale(1 1.0)">10.0</text>
<line x1="522.5" y1="591.4" x2="527.2" y2="591.4" class="ax"/>
<text font-size="9.7" text-anchor="end" transform="translate(517.0 594.9) scale(1 1.0)">0</text>
<line x1="522.5" y1="553.6" x2="527.2" y2="553.6" class="ax"/>
<text font-size="9.7" text-anchor="end" transform="translate(517.0 557.1) scale(1 1.0)">1</text>
<line x1="522.5" y1="515.8" x2="527.2" y2="515.8" class="ax"/>
<text font-size="9.7" text-anchor="end" transform="translate(517.0 519.3) scale(1 1.0)">2</text>
<line x1="522.5" y1="478.0" x2="527.2" y2="478.0" class="ax"/>
<text font-size="9.7" text-anchor="end" transform="translate(517.0 481.5) scale(1 1.0)">3</text>
<text transform="translate(627.3 491.0) scale(1 1.0)" font-size="9.7" fill="#2a2a2a"><tspan font-style="italic">p</tspan> = 0.653</text>
<text font-size="9.7" text-anchor="middle" transform="translate(605.1 641.5) scale(1 1.0)">Extreme positive deviation</text>
<text font-size="9.7" text-anchor="middle" transform="translate(503.5 535.7) rotate(-90) scale(1 1.0)">d factor score estimate</text>
<path transform="translate(.5 .5)" d="m102 784-2-15 2-6 0-3-3 4-2-13 6 22 0-52-6 20 5 26-5-7 4 39-2-58 0-11 4 33-3 41-3-73 3 14-1 54 4-46-4-21-2 77 1-39 0 7-1-37 3-13 2 13-5 54 3-32 2 46-5-49 1 3 1 5 2-1-1-35 3 31-3 37-3-55 4 29 1 33-1-50-1-13-3 49 3-62-1 50 0 16-1-11 1 16-2 7 3-46 2-6-1 11-4 22 5-37 0 19-4-5 1-45 2 80-4-26 2-15-1 7 5-50-2 75 0-35 1 16 0 18-1-24 0-18 2 10 0-25-4 4 5-6-4-4-3 41 6 8-3 1 0 26-1-45-1 34-1-10 0 7 0-25 1-24 3 63-1-56 1 21-4 28 0-15 2-7 4 10-5 5 5-35 0 4-4-21 0 32 0-9 2 34-1-74 3 51-1 9 0 8-3-37-2 48 4-35-1-20 0 52 2-10-5-49 1 63 1-50 2 12-2 20-2 17 4-63 1 20 0 38-2 5 2-63-1 43-3 9 6-57-5 3 2 0-1 47 0-7 0 7 0-14 3 41 0-64-4 53 0-80-1 87 0-61-1 34 6-13-3 24 3 2-5-15 4-10 1-21-4 46-2-50 1 38 1-19-2 7 1-4 3 31-3-10 1-48 3-6-1 35-2 45 2-27 1-11-2-19-1 14 4 26-2 10-1-68-1 59 4-6-3-13-3-2 1-20 5 8 0 28-6-21 2-39-1 39 5 21-4-1 3-34-2 19 3-2-3 29 1-24 1 11 0-19 2 6-6-2-1 6 1 13 3-31 2 30-5-62 2 56 0-9-3-13 4-16-3 7-1 46 3-43 0-4 1-4 1-8-5 52 4-113 1 78 1-31-4 81 0-9 2-10-1 6 0-4 2-28 1 19-1-20-4 24 2-16-2-2 2-20 4 19-6-2 3 25-4-46 6 17-5-2 1-13 3 21-2-15 3 16-5 14 2-8 1 16-1-24 3 20-3-29 2 28-3-16 0 33-1-40 3-7 1 14-4 2 1 12 4 26-5-19 2-52 4-31-2 94-2-36 1 27-1-9 0-15 0-18 2 27-1-6-2-1 4-5 0-11 0-7-6 15 6-11-2 25 3-19-2-14-1 58-4-52 0-10 5-5-5 47 2-26-2 10 4 7 2 11-4 26 3-28-2 7 3-43-2 36 0-35 0 34 2 11-4 0 0-26 4 41-4-16 4-28 0 27 0-2-2-12-2-5-1 14 0 2-1-45 5 65-3-12-2-26 6 1-5 5 1-18 4 39 1-25-6 19 4-22-2-8 0 28 1 17-2-46 2 51-2-71 2 4 2 11-6 38 0 4 4-16 1-8-1 9-4-22 6-9-5 11 1 18 1-10 2-15 0 16-2 38 3-75-5 24 2-9-3 61 6-3-2-39-4-19 3 42-2-46 1 52 2-4 1 2-3-27-1-11-1 37 5-6-4-67-1 72 0-41 5-6-2 17 1-5 1 2-5 28 1-28 4 40-4-3 3-43 2 29 1-38-2-18 2 12-2-23-1 41-3 45 2-2 3-22-4-4 3-40 0 57-3 17 1 1 4-69-6 10 6 14-6 32" fill="none" stroke="none" style="marker:url(#n0)"/>
<path transform="translate(.5 .5)" d="m106 743-2 21 1-31 1 75 0-62-13-2 2 41 1 15 10-41-12-10-1 39 14-4-12-7 11 9-2-19-9 3 1-40-3 57 11-8 0 13 3-24 0 20 0-26-14 13 14 33 0-55-3 25 2-29 0 34-12-18 10 3 1 8-9 5 0-21-1 4 10 42-1-1 0-37-11-31 14 32-1-37-11 32 9-5-9 7 12 27-2 0 1-16-1 8 0 5-10 0 10-48-11 42 2-19-1-13 1 17 8-27-10-15 13 26-2 26 0-9 1-11-12 32 1-28 1-3-2 11 10-26 0 30 0 20 2-9 0 16-11-34 1 6-1-13 11-23-2 68-10-55 11 44-11-64-1 46 13 4-2-24-9 4 9-14-10 42 2-20-2 32 0-11 0-34 2 31 11-32-2-11-9 2 9 4-12 7 2-10-1-13-1 56 1 5 0-11 11 17-12-51 13 49 0-4-12-20 10 13 3-35-2 35 1-54-2-22 1 59 1-8-12 17 1-2 11 11-13 0 13 9 0-16-10 28 0-21-2-4 1 15 10-64-9 40-3-29 11 41-8-44 9 48 0-32-1-25-11 4 13 62-11-59-1 4 10 12-8 23 9-32-9 54 9-16 2 11-2-32-9 1-1-26-2 4 1 15 1 20 12-4-13-31 13 11 0 17-12-23 1 27 10 25-11-53 12 27-12-11 11 4 0-7-12 3 10-35 0 51 1-41 2 20 0 15-14-13 13 29-1-43 0 19 0-30-11 26 1 10-2-32 13 52-11-2 12-25 0-4-2 19 0 9 1-20-11-23 1 25 11 39-2-51 1-15-11 63 0-1-2-40 12-12-9 14 0 37 10-68 1 41-13-12 0 29 13-17-1 20-2-55 1 12-10 19 11 1-11-34 12 7 0 19-2-37-1 58 3-17-1-31-10 47-2-49 12 50-10-32 11 28-1-3-2 8 1-19-10 22 9-61-9 78 9-23 0-17 3-4-13-35 0 2 12 44-10-29 9-4-11 1 2 45 11-44-14 10 2 43 1-68-1 29 11 14-12-4 12 33-12-45-1 32 13-17 1-31 0 29-3 26 0 13-8-60 10 26-10-31 0 11-1 27 1-17-2-16 13-10-1 43-10-30 9-1-12 5 2 12-2 29 14-9-14-17 3-7 0-22 9 24 2 16-11-47 8 27-9 36 10-9 2-25 0-32-14 75 13-17-13-2 12-21 0 16-10 22 12-21-11-1 0-39 11 8-12 18 1 3-3-10 3-15-3 11 3 7 9 9-12 3 0-9 1-2 10-3-9 17 10-12-11 38 12-45 0 2-10-6 0-25-2 38 0 7 1 11 12 6 0 1 0-47-12 38-1 10 12-33-12 20 1-75 10 63-11 8-1-5 0 3 13 25 1-12-13-20 11-11-12-2 0 14 1-7 12-30 0 61-11-43" fill="none" stroke="none" style="marker:url(#n1)"/>
<path transform="translate(.5 .5)" d="m110 779-1-29-17-21 0 40 17 2-20-20 22 57-21-52 1 8 1 0 1-33-1 46 18-11-18 30 17-24-1 11 2 21-18-25 0 3 17 7-19 15 19-37-17 21-2-12 0-45 1 67-1-8 18-41-16 42 0-25 0 37 15 3 2-33 0-39-17 9 16 25-16-2 15 4-16-24 17 28 2 15-20-7 18 0-15 19-3-43 2-21 1 58-4-32 1 16 2-5-2-13 1 29 18-40 2 16-3 22-18-21 0 20 20-27 0 15-2-28-17 57 18-5-19-26 0 7 18-40-18 49 19 17 1-34-2 13-15 18 17-61-19 0 18 22 1 39 0-37-2-30 2 17 1 42-21-34 18 14-17-7 18 22 0-19-18 14 18-48-20-27 3 80 17-13 0-7 2 9-1 19-19-5 19-10 1-14-2-5-1 33-17-32-1 10 18-20-19 15 22-31-3 52 2-16 0-25-19 58 1-36 18-2 1 31-19-3-2-9 20-46-19 36 2 1-3 25 19-41 0 42-18-38-1 32 20-11-2-2-15 9-1 6 16-24-16 15 16-19-16-1-2 8 3-14-2-52 1 83 0 8-2-64 19 52-1 10 0-58-18 8 19 28-18-52 18 10 0 3-1-4 3 39-20-15 20-33-20 69 1-20 17-37 1 0-2 34 1-35-18 53 19-25-2 5 0 8-16-25 19-44-2 23-19 46-1-14 1 19 19-1-19 6 19-30-1-29 1 1-16 1 17 36 0-20-2 39 0-36-15 23 17 12-18-30-2-17 2 44 0-3 17-15-20 9 3 12 0 6 19-35-3 29-16-22 16-6 1-16-1 13 0-10-17 58-1-11 20 14-19-15 19 10 1-41-19 0 18 4-20-13 1 52 0-74 19 2-20 5-1 23 19 8 3 36-18-72-2 15 19 3-3-22 1 33-15 34 15 5 2-48-19-6 18 11 0-6-1 13 3-7-18 46-3-5 18-11 0-31 2-26-2 71-16-38 17-17-18 40 18-72 0 85-18-43 2 24-2 6 17-22-16 32-2 4 3-37 0 1-1-10 19 29-2 13-19-47 0-5 20 45-19-2 1-29 16-4 3 20-1 10-20-30 1 11 1 10-1 26 2-36 17-35-17-1 15 64 1 2-1-31 3-30-2 12 1 14-2 9-15-35 17 28-19-19 1-10 18 22-1 18 0-10-19 36 20-23 0-17 0-13-21 31 0 14 2-25 2 10 17-11-2-5 3-12-20-6 0 30 20-14-19 1 0-21 1 45 16 2 0-18-19-1 19 15-18-11 1-1 1-22-2 34-2 7 2-16" fill="none" stroke="none" style="marker:url(#n2)"/>
<path transform="translate(.5 .5)" d="m111 737-24 12 2 13 24-6 0-8 0 25-1-1-24 2 25 24-25-39-1-44-1 39 27-14-26 52 27-15 0 9-2-8 1-4-27 12 26-57-25 21 2 18-2-10 24 9 1 18-25-15 25-27-25 22 26 16 1-38-26-13 0 53 0 27-1-64-1 5 1-20 25 26 0 33-25-15 2 23-2-63 1 31 24 29 1-5-24-29-1-2 0 37 26-10-27 8 27-15-26 11 1 1-1-5 0 3 1-17-2 8 24-47-25 60 2 0 25 2-25-29 24 1 0-1 2 31-1-57-1 52-25-25 26 2-25-36-2 41 28-38-26 41 24 23 0-54-23 38-2-18 24-4 3-44-25 58-1-20 0 53-2-36 3 33-2-49 0 48 25-21-24-5-2-2 0-30 0 9 0 3 2 46-2-38 3-10 24 2-27 41 1-5 2-30 22-9-23 32 0-14-1 16-1-1 0-23 28 42 0-46-1 15-25-50 25 79 0 0 1-43-25 37-1-53-1-2 26 58-24-23 23-19 2 28 0 20-2-51-24 18 0-39 26 32 0 28-28-25 27-10 0-11-27 37 2-45 23-8-23 49 0-34 0 1 1-3 24 54-26-5 24-21-24-46 2 64 23-5-24 21 1-9 0-35-1-2 0 44 0-15-1-8 1-1 25 25-26-20 2-2-3-15 27 13 0-38-27 51 2 7-1-27 26 10-26-32 26 35-25-21 23 19-22-58-1 1-2 32 0 45 3-73-1 59 0-28 24 22-23-67 24 14-1 40-24-15 24 25 2 20-25-71 0 42 25-23-26-11-1 28 1-15-1 3 1-10-1 21 26 29-27-20 26-25-26 1 1-19 25 15-25-7 2 14 24 22-1 19 0-1 1-32-26 35-1-41 27 15-27-30 0 61 3-29 23-46 2 35-1 23-26 2-1-48 0-2 28 46-2-4-25-15 24 20 3-19-1 14 1-29 0 17-2-5-1 3 2-2-24-21-1 23-1-37 27 14-27 16 27-9-26 48 26-41-25 9-2 29 27-33-28 16 3-9 23 24 0-19-26 5 2-13 25 3-25-26-1 54 2-17-1-11 1-25 0 5 25-2-27-6 25 19 1-30-26 50 24 9-23-42 23 23-24-19 25 13-24-6 0-30-2-10 2 15 0 28-1 9" fill="none" stroke="none" style="marker:url(#n3)"/>
<path transform="translate(.5 .5)" d="m116 784-31-32-1 34 0 23-2-20 2 3 31-35 3 2 0-11-35-15 1 73 1-35 31 29-1-34-32 38 0-38 0-34 35 55-34-26 33 7-35 42 3-33-1-11 0 30 32-19 1-3-34 34 33-61-31 43 30-13 1 13-32-58 1 35 31 21 2-56-1 69-34-71 2 33 32 1-32 23 32-22-35 14 1-8 33-3 0 16-31-11 0-16 0-1 0 45 31-54-32 54 32-1-1-35 2 12-1 4-33-37-1 52 33-15-30 8-1-7 31 21 0-54 0 46 0-51 0 3-32 2 0 60 1-20 31-15-31-30-1 64 35-35-36 33 0-70 34 9-33 59 33-43-31-39 30 78 1-61-34-4 3 29 31-33-31 39 0 18 0-67-1 34-1 25 34 2 0-16 1 33-2-34-33 28 33 5-1-7-31-51 0 44 0-31 31 28-30-54-2 61 1-8 1-22-3-2 2 16 33-76 0 108-1-25-34 4 1-10 2-39 31 72-32-71 0 35 1-6 31-6-33-11-1 6 2 25 33 7-2-49-30 67 31-12-1-23 2-16-33 19 31-10 2 28 0 0-34-4 1-47 34 43-35-17 33 36-32-61 1 5 31 22-32 7 31-40-30 53-2-41 33 39-32-51 33 64-31-2-2-33 33-19-33 56 32-8-32-31 32 3-31-24-2 0 0 50 1 5 31-23 2-2-1 13 0-13 0 39 0-44 0 11-32 7-2-40 1 39 0 29 35-58-33-2 33-16-35 48 32 8-29-59-2 11 1 27-1 28-2-29 0-27 1 49 35-20-35 11 33 22-33-29 2 1 31-29 1 41-1-25-31-23 0 50 30 21 1-42-31 40-2-29-1-17 0 23 35 15 0-14 1-15-34 10 1-6 0 10 31 5-31-47 0 54-2-32 0 32 32-15-31-15-1-24 34-2-35-10 4 17 0 36-4 20 3-13-2-5 1-12 33-7-33 9 1 16-2-41 2 49-1-64 31 53-30-41-1-34 32 83 0-8-1-41-31 21-1 20 32-48 0 0 0 16-30 52-1-21 1-58 1 44 29-37 2 13-32 28 33 12-3-23-31-41 0 41-1 9 32-26-31 2 1 14 31-9-31 24 1 11" fill="none" stroke="none" style="marker:url(#n4)"/>
<path transform="translate(.5 .5)" d="m80 744 1 24 1 1 0-11 39 8-42-1 1 1 40-18 0 55 2-36-41-1 38 23-38-54 40 32-2 0-37-2-2 13 40-7 1-13-42 39 3-10 39-5-41-9-1-15 0 38 0-67 43 5-3 39 2-32-42 67 0-21 0-17 40-23-37 60 36-68 2 52 0-2-41-23 40 37-40 0 2-61-1-10-2 51 1 6 2-23-2 7 40 18-39-25 41-36 0 77-39-24-3-12 1-7 41 2 0 30-1 3-39-60-1 0 1 66 0-15-2-14 1-14 1-41-1 85 2 3-1-45 1-34 39 59-41-2 40-49 0 16 0 11-41 16 42 0-1-30-39 0 38 14-38-35 1 4 37 48-1-45 1 35-38-14 40 33-1 18-39-42 1 38 37-73 0 35 2 21 0-35-39 38 36-43-37 40-2-55 0 45 42 18-42-5 1 14 41-26-42-31 1 41 38 6-38-71 2-47 37 101-37-31-3 8 41 48-40-46 0 31 1-21 0 41 1-20 39-12-42-31 41 30-1-20-38 15 39-39 1 36-40 13-2 12 1-43 1 40 0 7 39-39-41 37 39-25-36-2-2 2 0-23 40 59-41 5 39-44-37 2 38-23-38-5 1 53-2-19 0-8-2-12 42 36 1-55-42 33 0 8 43-25-2 38-2 5 3-16-1 4-39 13 1-22 37-26-41 2 1 21 1 20-1-11 40 9-37 19-1-15 41-27-2-8 2 11-41 39-2-55 42 11-41 23 0-38 1 31 0 4-1-4 41 26-3-16 1-24 0 9-38 20 39-32-41-8 42 15-39-5-3 2 3-12 36 6-39 47 1-51 40 12-39 21-1-4" fill="none" stroke="none" style="marker:url(#n5)"/>
<path transform="translate(.5 .5)" d="m123 767-45-14 45-17-45 54-3-22 3 21 46-25 0 13-1-11-46-13 0 15-2 16 1-17 0-13-1 31 1 15 46-59-44 5-2-2 48 45-46-57 0 42 46-6-47 21 1-22-3 24 2-1 45-1-47 1 1-1 2-8 47-7 0-16-3 18-46-2-1 13 50-41-47 35 0-12 0 19 45-17 0-12 0 8 2 22-47-58 47 76 0-29-48 14 47-41-46-15 47 72-1-68-47 18 47 50-46-73 47 46 0-29-47 2-2 12 49 36-50-37 48 21-48-36 2-17-1 55 0-28 1 34 1-8-1-51-1 45 1-46 45 55-47 0 3-4-2 13 48-19-49-41 50 28-3 34-44-27 45 9 1 19-49-34 49-21-47 44 0-56 48 25-2-7-45 32-2-42 0 18 46 30-47-33 50 13-48 3 0-25 47 41 1-3-49-23 1 6 48-25-50 34 3 16-2 4 0 8 47-69 0 49-45-24-2 4 2 42 44-5-47-69 3-38-2 93 49-22-1 1-46-2 46 23-46 15-1-5 1-31 45-29-46 14-1-14 1 37 46-44 2 30-48 21-1-11 2 6 47-12-47-1-2 20-1 9 2-48 1 32 0-15" fill="none" stroke="none" style="marker:url(#n6)"/>
<path transform="translate(.5 .5)" d="m129 790-1-13-2 12 0-18-54-4 2 9 54 11-1 2-55-23 1-7 54-1-1 20-52-44 53 43-1 24-52-13 54-21 0-1-1 35-1-37-54 3 2 23-2-31 3 45 54-23-55-14 55 35-1-37-54 36-2-18 55 26-54-41 53-1 0 14 1-10-53 22-2-18 2-4 52-13-55 4 56 4 1-9-54 16-1 9 1-46 0 26 54 46-2-22 1-37-55 40 1-9 1 14 0 13-1-55 54-8-55 38 1-27 2-11-1 11 1 37-1-5 54 9-53 9-1-47-1 30 55-49-2 50-54-24 1-5 54 14-1-21-52-16-2 59 1-29 0 22-1-3 2-38 0 23-2 29 2-32 0 21-2-37 54 8-54-29 1 51-1-45 54 45 0-5-54-35 2 47-1 7-1-7 1-43-1 9" fill="none" stroke="none" style="marker:url(#n7)"/>
<path transform="translate(.5 .5)" d="m69 768 61-1 1 38-62-9 63-27-2 1-59 3-1 8-2 9 64 11-61-32-1-2 0 23-2 0 62-11-60 19 0 9 0-18 61-18-62 10-1-25 0 11 0-6 64 13-63 3 61 33-59-9-2-17 1 11 62-6-63 0 0-11 1-54 0 46 63 37-65-44 62 7-61 9 2 26-1-35-2-1 63 8-2-13-58 26-2-27 1-21-1 60 61-26-61-15 61 15 2 14-1 4-60-55 0 29-3 17 0 12 63-25-63 9 61-14 3 20-2 2 2 4-62-32 59 25-58-39-2-8 0 19-1-19 2 14-2 0 1 49 1-2 61-16-62 15 60-5-61-7 64-20-64 22 62 0 0-46-61 22" fill="none" stroke="none" style="marker:url(#n8)"/>
<path transform="translate(.5 .5)" d="m65 761 2 36-1-19 0 5 1-4 0 16 66-26-67 17 70 3-70 8 0-24 1-6 1 2-1 15-3-24 2 6 67 7-69-8 71 38-1-36-68 6 67 16-66-27-1 27 67-9 2-14-70 20 1 10 1-16-3 25 70-55-68 4-1 14 0 8 69 15 1-2 0-9-1-9-70 11 1-25 1-14 1 20 1-15-1 41 66-34-67 40" fill="none" stroke="none" style="marker:url(#n9)"/>
<path transform="translate(.5 .5)" d="m63 778 1 17-2-22 0-19-2-2 3-3-1 17 2 0-2 28-1-8 0-19 2-35-1 57 0-22-1 22 2-7 0-12" fill="none" stroke="none" style="marker:url(#n10)"/>
<path transform="translate(.5 .5)" d="m141 751-83 38 1-57-2 70 1-10-1-26 3-5 0 29-3-7 1 7 1-1-1-22 84 16" fill="none" stroke="none" style="marker:url(#n11)"/>
<path transform="translate(.5 .5)" d="m57 766 89 23" fill="none" stroke="none" style="marker:url(#n12)"/>
<path transform="translate(.5 .5)" d="m150 789" fill="none" stroke="none" style="marker:url(#n13)"/>
<path transform="translate(.5 .5)" d="m155 786" fill="none" stroke="none" style="marker:url(#n15)"/>
<path transform="translate(.5 .5)" d="m160 789" fill="none" stroke="none" style="marker:url(#n16)"/>
<path transform="translate(.5 .5)" d="m165 781" fill="none" stroke="none" style="marker:url(#n17)"/>
<path transform="translate(.5 .5)" d="m175 790" fill="none" stroke="none" style="marker:url(#n20)"/>
<path transform="translate(.5 .5)" d="m182 752-1 34 1-3 1 2" fill="none" stroke="none" style="marker:url(#n22)"/>
<path transform="translate(.5 .5)" d="m191 787 8-1" fill="none" stroke="none" style="marker:url(#n23)"/>
<line x1="53.5" y1="670.1" x2="53.5" y2="821.3" class="g"/>
<line x1="103.1" y1="670.1" x2="103.1" y2="821.3" class="g"/>
<line x1="152.7" y1="670.1" x2="152.7" y2="821.3" class="g"/>
<line x1="202.3" y1="670.1" x2="202.3" y2="821.3" class="g"/>
<line x1="52.7" y1="802.1" x2="207.5" y2="802.1" class="g"/>
<line x1="52.7" y1="764.3" x2="207.5" y2="764.3" class="g"/>
<line x1="52.7" y1="726.5" x2="207.5" y2="726.5" class="g"/>
<line x1="52.7" y1="688.7" x2="207.5" y2="688.7" class="g"/>
<line x1="58.5" y1="776.8" x2="199.8" y2="785.1" stroke="#0b6e38" stroke-width="1.9"/>
<path d="M52.7 670.1V821.3H207.5" class="ax"/>
<line x1="53.5" y1="821.3" x2="53.5" y2="826.0" class="ax"/>
<text font-size="9.7" text-anchor="middle" transform="translate(53.5 838.5) scale(1 1.0)">−2</text>
<line x1="103.1" y1="821.3" x2="103.1" y2="826.0" class="ax"/>
<text font-size="9.7" text-anchor="middle" transform="translate(103.1 838.5) scale(1 1.0)">0</text>
<line x1="152.7" y1="821.3" x2="152.7" y2="826.0" class="ax"/>
<text font-size="9.7" text-anchor="middle" transform="translate(152.7 838.5) scale(1 1.0)">2</text>
<line x1="202.3" y1="821.3" x2="202.3" y2="826.0" class="ax"/>
<text font-size="9.7" text-anchor="middle" transform="translate(202.3 838.5) scale(1 1.0)">4</text>
<line x1="48.0" y1="802.1" x2="52.7" y2="802.1" class="ax"/>
<text font-size="9.7" text-anchor="end" transform="translate(42.5 805.6) scale(1 1.0)">0</text>
<line x1="48.0" y1="764.3" x2="52.7" y2="764.3" class="ax"/>
<text font-size="9.7" text-anchor="end" transform="translate(42.5 767.8) scale(1 1.0)">1</text>
<line x1="48.0" y1="726.5" x2="52.7" y2="726.5" class="ax"/>
<text font-size="9.7" text-anchor="end" transform="translate(42.5 730.0) scale(1 1.0)">2</text>
<line x1="48.0" y1="688.7" x2="52.7" y2="688.7" class="ax"/>
<text font-size="9.7" text-anchor="end" transform="translate(42.5 692.2) scale(1 1.0)">3</text>
<text transform="translate(157.8 698.7) scale(1 1.0)" font-size="9.7" fill="#2a2a2a"><tspan font-style="italic">p</tspan> &lt; 0.001</text>
<text font-size="9.7" text-anchor="middle" transform="translate(129.3 852.6) scale(1 1.0)">Mean z score (GMV)</text>
<text font-size="9.7" text-anchor="middle" transform="translate(29.0 746.0) rotate(-90) scale(1 1.0)">d factor score estimate</text>
<path transform="translate(.5 .5)" d="m299 755 0 14 0 5 0-18 0-33-3-6 0 24 0 7 3 63-3-16 0-51 0 50 0 5 0 11 0-45 0-39 0 41 3-26 0 26 0-3 0-2 0-15-3 65 3-34 0-40 0 70-3-27 3-55 0 69-3-88 3 82 0-56 0 16-3 22 0-9 3 46 0-98-3 18 3 32-3 41 3-1 0-15-3-3 3-44 0-8 0-6-3 10 3 10 0 39-3-64 3 52 0-28 0-11 0 64 0-77 0 48-3 2 0-18 0 35 0-40 0-14 0 4 0 56 3-34 0 23-3-44 3 55-3-39 0-9 0-20 3 73-3-22 0 30 3-18 0-52-3-12 3 66 0 16-3-39 0-26 3-25-3-3 0 47 0 30 0 18 0-21 3-36-3 22 3 29-3-80 0 9 0 73 0-48 3-3-3 8 0 20 0 9 3-14-3 22 0-21 3 1-3-22 3 49" fill="none" stroke="none" style="marker:url(#q0)"/>
<path transform="translate(.5 .5)" d="m305 801 0-30 0 18-3-39 3-16-3 31 3 19 0-3-3-47 0 28 0-15 3 21-3-26 0 18 3-16 0 20 0 3-3 0 3 30 0-67 0 33 0-16-3 62 0-80 3 29 0-37-3 74 0-25 0 22 3-9-3 21 3-12 0-5-3-34 3 6 0-23-3 71 0-97 0 70 3-38-3 13 0 25 3-11-3-20 0 48 0-12 0 4 3-45-3-13 3 6-3 34 0 35 3 4-3-36 3-43-3 32 0-23 3 33 0-18 0 48 0-27-3 18 3-41 0 44-3-40 0-20 0 66 3-87-3 19 3 70-3-79 3 64-3-46 0-2 0 34 0-18 0 28 3-35-3 31 3-4-3 11 0-67 3 72 0-40-3 22 3 2 0-39-3 61 3-51" fill="none" stroke="none" style="marker:url(#q1)"/>
<path transform="translate(.5 .5)" d="m311 779-3 10 0-32 0 25 3-1 0-13 0 1 0 33-3-29 3 33 0-15-3 9 3 6-3-13 3-31 0 21-3-42 0 68 3-72 0 59-3-63 3 70-3 2 0-39 3-7 0-28 0 43-3 15 3-53-3 36 0 29 0-54 0 7 3 55 0-20-3-11 3-21 0 18 0-32-3-12 3 46 0-5 0-6 0-8 0-28-3 13 0 65 0-39 3-19-3 60 0-11 0-4 0-58 0 7 3 46-3-15 0-52 0 64 0-38 3 5-3 31 3 13 0-51-3 11 0 4 0 5 0 46 0-82 0 32 3-17 0 3 0 35-3 9 3-66-3 25 0 24 3 24-3-49 0 8 0 24 0-44 3 25" fill="none" stroke="none" style="marker:url(#q2)"/>
<path transform="translate(.5 .5)" d="m314 810 0-14 0-7 3-49 0 52 0-2 0-20 0 35 0-2-3-33 3-13 0 40-3-34 3 3-3 13 3 9-3-2 0 15 0-29 0-40 3 80-3-8 0 1 3-11-3-57 0 11 0 14 0 37 3-57 0 26 0-21 0 8-3-12 3 57 0 2-3-21 0-29 3 22-3-28 3-1-3 37 0 2 0 25 0-36 0-7 0-13 0 36 0-13 0-57 3 45-3 28 3-31-3-34 0 15 0 65 3-55-3 15 3 4-3-38 0 25 0 18 3 31" fill="none" stroke="none" style="marker:url(#q3)"/>
<path transform="translate(.5 .5)" d="m320 760 3 39-3-10 0-20 0 14 3 6 0 19 0-12-3-7 3 14-3-3 3-10 0-22-3-31 0 72 0-37 0 22 3-2 0-7-3 2 3-4 0-34 0 8 0 16 0 3-3 9 0 11 0-28 3-3-3-14 3 7 0 14-3-7" fill="none" stroke="none" style="marker:url(#q4)"/>
<path transform="translate(.5 .5)" d="m326 757 0-6 3 44 0-27-3 5 0 16 0 9 0-32 3-26-3 20 0 7 0-5 3-3 0 6 0-13" fill="none" stroke="none" style="marker:url(#q5)"/>
<path transform="translate(.5 .5)" d="m332 805 3-60-3 38 3-1-3-35 0 29 0-21 3 13 0 21 0-19 0 12-3 7 3 0" fill="none" stroke="none" style="marker:url(#q6)"/>
<path transform="translate(.5 .5)" d="m338 743 3 47-3-1 3-20 0 20-3-22 3-2" fill="none" stroke="none" style="marker:url(#q7)"/>
<path transform="translate(.5 .5)" d="m347 763-3 26 3-45-3-8" fill="none" stroke="none" style="marker:url(#q8)"/>
<path transform="translate(.5 .5)" d="m350 748 0 19 0 22 3-24" fill="none" stroke="none" style="marker:url(#q9)"/>
<path transform="translate(.5 .5)" d="m356 755 0 34 3 0 0 14-3-27" fill="none" stroke="none" style="marker:url(#q10)"/>
<path transform="translate(.5 .5)" d="m365 766-3-34 0 19 0 38" fill="none" stroke="none" style="marker:url(#q11)"/>
<path transform="translate(.5 .5)" d="m371 788-4-56 4 54 0-21" fill="none" stroke="none" style="marker:url(#q12)"/>
<path transform="translate(.5 .5)" d="m377 789" fill="none" stroke="none" style="marker:url(#q13)"/>
<path transform="translate(.5 .5)" d="m383 747" fill="none" stroke="none" style="marker:url(#q14)"/>
<path transform="translate(.5 .5)" d="m437 738" fill="none" stroke="none" style="marker:url(#q23)"/>
<line x1="296.5" y1="670.1" x2="296.5" y2="821.3" class="g"/>
<line x1="356.7" y1="670.1" x2="356.7" y2="821.3" class="g"/>
<line x1="416.9" y1="670.1" x2="416.9" y2="821.3" class="g"/>
<line x1="289.8" y1="802.1" x2="444.9" y2="802.1" class="g"/>
<line x1="289.8" y1="764.3" x2="444.9" y2="764.3" class="g"/>
<line x1="289.8" y1="726.5" x2="444.9" y2="726.5" class="g"/>
<line x1="289.8" y1="688.7" x2="444.9" y2="688.7" class="g"/>
<line x1="296.5" y1="779.4" x2="438.0" y2="760.5" stroke="#1a4ea2" stroke-width="1.9"/>
<path d="M289.8 670.1V821.3H444.9" class="ax"/>
<line x1="296.5" y1="821.3" x2="296.5" y2="826.0" class="ax"/>
<text font-size="9.7" text-anchor="middle" transform="translate(296.5 838.5) scale(1 1.0)">0</text>
<line x1="356.7" y1="821.3" x2="356.7" y2="826.0" class="ax"/>
<text font-size="9.7" text-anchor="middle" transform="translate(356.7 838.5) scale(1 1.0)">20</text>
<line x1="416.9" y1="821.3" x2="416.9" y2="826.0" class="ax"/>
<text font-size="9.7" text-anchor="middle" transform="translate(416.9 838.5) scale(1 1.0)">40</text>
<line x1="285.1" y1="802.1" x2="289.8" y2="802.1" class="ax"/>
<text font-size="9.7" text-anchor="end" transform="translate(279.6 805.6) scale(1 1.0)">0</text>
<line x1="285.1" y1="764.3" x2="289.8" y2="764.3" class="ax"/>
<text font-size="9.7" text-anchor="end" transform="translate(279.6 767.8) scale(1 1.0)">1</text>
<line x1="285.1" y1="726.5" x2="289.8" y2="726.5" class="ax"/>
<text font-size="9.7" text-anchor="end" transform="translate(279.6 730.0) scale(1 1.0)">2</text>
<line x1="285.1" y1="688.7" x2="289.8" y2="688.7" class="ax"/>
<text font-size="9.7" text-anchor="end" transform="translate(279.6 692.2) scale(1 1.0)">3</text>
<text transform="translate(371.0 698.7) scale(1 1.0)" font-size="9.7" fill="#2a2a2a"><tspan font-style="italic">p</tspan> &lt; 0.001</text>
<text font-size="9.7" text-anchor="middle" transform="translate(367.0 852.6) scale(1 1.0)">Extreme negative deviation</text>
<text font-size="9.7" text-anchor="middle" transform="translate(266.5 746.0) rotate(-90) scale(1 1.0)">d factor score estimate</text>
<path transform="translate(.5 .5)" d="m540 730-1 7-3 58-1-40 4-9-1-6 1 57-3-26 0-33-1 50 4-9 1 1-2-44-3 51 1-24 0 23 3 0-1 0 2-26-2 47 1-15-3-78 2 50-3-31 1-2 3 74-1-61 2 58-1-37-4-6 4 44 0-23-4-27 5 17-4-4 0-9 2 34-2-64 0-8 4 72-4-8 4-37 0-27-4 30 0-17 4 9 0 6 0 59-4-63-1-15 5 6-2 4 2 15-2 45-3-12 0-61 1 34 0 31-1-22 1 30 2-3-2-55-1 3 3-30-2 65 3-64-1 60-2 24 2-39-2-11 2 4-3 43 3-17-2-5 3-44 0 26-1 0 0-45-3 64 5 9-1-39-4-10 0 70 1-82 3-5-1 45 1 30-1-16-3-30 3 25-3 28 5-17-5 18 0-48 4 37-1-36-2 12-1 5 0-24 5 59-4-54-1-11 4 20 1 35-5-3 0-11 3 3 0 8 2-6-1-36 1 1 0 41-1-50 0 59 1-64-1 49-3-31 2 47-3 0 0-46 4 16-4-35 0-9 3 60 1-30 0 8-4-60 5 21-1 4 1 48-2 2-3-67 1 55 0 33 2-34-3 41 5-38-1-22-3 12-1 11 5-37 0 38-2 31 1-30 1-7-1 8 1-47-2-1-2 65-1-54 4 31-1-23-3-35 5 46 0 39 0-29 0 22-1-52 1 26-4-10 3 45 1-43-2 17-3 21 1-11-1-3 1 7-1-3 0-62 4 61-4 25 0-77 5 20-4-14-1 29 4-18 0-17 0 65-3-61-1 43 0 19 1-67 4 14 0 21 0-6-2 9-2-25-1 24 0-25 0 22 0-14 3-1 0-6-3-28 4 21-4-13 5 64-2-36-2 39 0 17 2-74 0 47 1-38-3 4 0 27 3 11-1 18-3-98 3 105 1-55-1 43 0-62 0 28-2 39 2-73 2 73-4-25 0 28 3-77-1 2 0 57-3-11 4-15 0 45-4-45 5 16-1-64 0 50 1-23-4-15 4 74-1-28-4-53 3-9 0 50-2 21 3-61" fill="none" stroke="none" style="marker:url(#s0)"/>
<path transform="translate(.5 .5)" d="m541 760 0 17 3-27 1 51-1-80 1 28-3 33 0-25 4 7 0-3 0-23-5-23 5 91-2-51-3 28 4-38-4 18 1 34 3-41-4-24 3 24 2-9-5 58 0 2 3-41-2-41 2 65 0-46 1 17-4 30 1-50 0 7-1-20 0 42 5 16-2 1-2-35-1 51 1-53 4 30-4-17 0 12 2 1-2-21 2 17-2 7 3 17-1-36 2-28-4 64 0-24 2-39 1 60-4-46 1 43 0-3-1-56 1 8 3 24-1 40-3-52 0 6 1 3 4 17-4-7-1-35 1 58 0-9-1-35 0 5 1 23 4-20-5-22 5 27-2-13 1 37 0-22-4 30 0-13 4-50-1-1 2 64-4-54 3 34-4 26 3-36 1-30-4 52 5-44-2-14 1 25-4 19 3 9-2-38 4 31-2-48 2 65-5-47 3 49-2-28 2 3 1 4-4-19 3 25-3-4 1 1 2-4-2-37 2 24 1 12 1-43-4 41 3 7 0 20-3-63 4 24-2 38 0-21 1 10-4-4 5-1-5 0 1-30 0 17-1 24 5 10-1-44-4 52 0-48 1 47 2-60-3 23 1-42-1 15 5 2-5 22 3 30-2-5 4 12-4-17 0-27 3-18 1 43-1 18 1-16-1-53 0 27 1-8 0 48-4 3-1-6 3-13 2-48-2 55-2-54 0 63 0-2 3-31 1-8-1-30-1 57-3 0 0-59 5 70-5-59 0 27 3-18-2 57 4-38-2-24-2 3-1-5 4 49-4 10 4-13-1-23 1 36 0-62-1 62" fill="none" stroke="none" style="marker:url(#s1)"/>
<path transform="translate(.5 .5)" d="m551 767-4 35 5-39-3 11 0 19 2-58 1 44-1 5-2 0 1-43 0-2-1 30 0-28-2 32 4-16-2-11 1 56 1-54 1 45 0-50-5-7 0 40 0-38 0 35 5-9-5-10 2 0-2 28 2-53 3 44-3-14 0 20 1 17-1-29 1 22-1-27 0 41 0-17 3 11-5-10 4 16-1-50 0 25 0-13-3-6 5 22-1-41-1 27-3 21 2-28 3 28-2-9 1 0-4-22 0-26 0 36 5 18-3 6-2-30 0 25 2-10 1-28 2-5-1 61 0-29 0-13-1 0 0 24-1 0 0-22 1 37 2-42-1 27-2-36 1 12 0 13 1-10-1 27 0-18 2 13-5 19 0-42 5-11-1 19-4-24 4-13 1 37 0-6-5 15 2 26 0-9-2-30 2-17-2 40 2-35 2-12-1 42-3-57 0 71 2-10 2-3-1-18-1 8 1 18 0-24-1-44 2 83-4-47" fill="none" stroke="none" style="marker:url(#s2)"/>
<path transform="translate(.5 .5)" d="m557 770-4-2 3 9-3-39 4 48-4 18 0-30 3-15-3 21 5-16-2-1 1 11-1-27-1 5 3 34-1-4-1-18-3 7 0 20 3-5-3-24 0-3 2 23 3-4 0-4-5 22 3-54 1 36 1-11-3-3 0-2-2 14 4-13 1 23-1 14 0-36-2 32-2-10 2 0 2 18-1-18-3 7 3-15 0-9-1 17 0-32 2 33 1-5-2-32 2 13-3 37 2-52-2 9 1-5 0 20-3 14 3-3-3 14" fill="none" stroke="none" style="marker:url(#s3)"/>
<path transform="translate(.5 .5)" d="m563 763-2 3 0 20 1-3 1-17-3-40 1 37 1-1 0 24-1-22 1 11-1 17-1 2 1-8-1-22 3 22 0-21-3 33 0-12 2-21-2-3 2 24" fill="none" stroke="none" style="marker:url(#s4)"/>
<path transform="translate(.5 .5)" d="m565 763 3 0 1-7-1 30 0 1 0-22-1 0-2 21 0-22 1-1 3 23-3-21 0 21 3-21-3-4 3 26-2 0" fill="none" stroke="none" style="marker:url(#s5)"/>
<path transform="translate(.5 .5)" d="m574 764-1-1 0 23-1-9 0-14 0 9 2-11-3 26" fill="none" stroke="none" style="marker:url(#s6)"/>
<path transform="translate(.5 .5)" d="m577 786 0 0" fill="none" stroke="none" style="marker:url(#s7)"/>
<path transform="translate(.5 .5)" d="m584 786" fill="none" stroke="none" style="marker:url(#s8)"/>
<path transform="translate(.5 .5)" d="m590 786" fill="none" stroke="none" style="marker:url(#s9)"/>
<path transform="translate(.5 .5)" d="m596 786" fill="none" stroke="none" style="marker:url(#s10)"/>
<path transform="translate(.5 .5)" d="m610 778" fill="none" stroke="none" style="marker:url(#s12)"/>
<path transform="translate(.5 .5)" d="m633 786" fill="none" stroke="none" style="marker:url(#s16)"/>
<path transform="translate(.5 .5)" d="m641 783" fill="none" stroke="none" style="marker:url(#s17)"/>
<path transform="translate(.5 .5)" d="m642 782 0-2" fill="none" stroke="none" style="marker:url(#s18)"/>
<path transform="translate(.5 .5)" d="m656 784-2-1 0-34" fill="none" stroke="none" style="marker:url(#s20)"/>
<path transform="translate(.5 .5)" d="m676 787" fill="none" stroke="none" style="marker:url(#s23)"/>
<line x1="535.6" y1="666.8" x2="535.6" y2="817.9" class="g"/>
<line x1="596.9" y1="666.8" x2="596.9" y2="817.9" class="g"/>
<line x1="658.2" y1="666.8" x2="658.2" y2="817.9" class="g"/>
<line x1="528.2" y1="799.1" x2="690.0" y2="799.1" class="g"/>
<line x1="528.2" y1="761.2" x2="690.0" y2="761.2" class="g"/>
<line x1="528.2" y1="723.3" x2="690.0" y2="723.3" class="g"/>
<line x1="528.2" y1="685.4" x2="690.0" y2="685.4" class="g"/>
<line x1="535.6" y1="776.4" x2="676.6" y2="787.7" stroke="#e3262b" stroke-width="1.9"/>
<path d="M528.2 666.8V817.9H690.0" class="ax"/>
<line x1="535.6" y1="817.9" x2="535.6" y2="822.6" class="ax"/>
<text font-size="9.7" text-anchor="middle" transform="translate(535.6 835.1) scale(1 1.0)">0</text>
<line x1="596.9" y1="817.9" x2="596.9" y2="822.6" class="ax"/>
<text font-size="9.7" text-anchor="middle" transform="translate(596.9 835.1) scale(1 1.0)">50</text>
<line x1="658.2" y1="817.9" x2="658.2" y2="822.6" class="ax"/>
<text font-size="9.7" text-anchor="middle" transform="translate(658.2 835.1) scale(1 1.0)">100</text>
<line x1="523.5" y1="799.1" x2="528.2" y2="799.1" class="ax"/>
<text font-size="9.7" text-anchor="end" transform="translate(518.0 802.6) scale(1 1.0)">0</text>
<line x1="523.5" y1="761.2" x2="528.2" y2="761.2" class="ax"/>
<text font-size="9.7" text-anchor="end" transform="translate(518.0 764.7) scale(1 1.0)">1</text>
<line x1="523.5" y1="723.3" x2="528.2" y2="723.3" class="ax"/>
<text font-size="9.7" text-anchor="end" transform="translate(518.0 726.8) scale(1 1.0)">2</text>
<line x1="523.5" y1="685.4" x2="528.2" y2="685.4" class="ax"/>
<text font-size="9.7" text-anchor="end" transform="translate(518.0 688.9) scale(1 1.0)">3</text>
<text transform="translate(612.8 698.7) scale(1 1.0)" font-size="9.7" fill="#2a2a2a"><tspan font-style="italic">p</tspan> = 0.007</text>
<text font-size="9.7" text-anchor="middle" transform="translate(606.1 849.2) scale(1 1.0)">Extreme positive deviation</text>
<text font-size="9.7" text-anchor="middle" transform="translate(504.5 742.6) rotate(-90) scale(1 1.0)">d factor score estimate</text>
</svg></body></html>
